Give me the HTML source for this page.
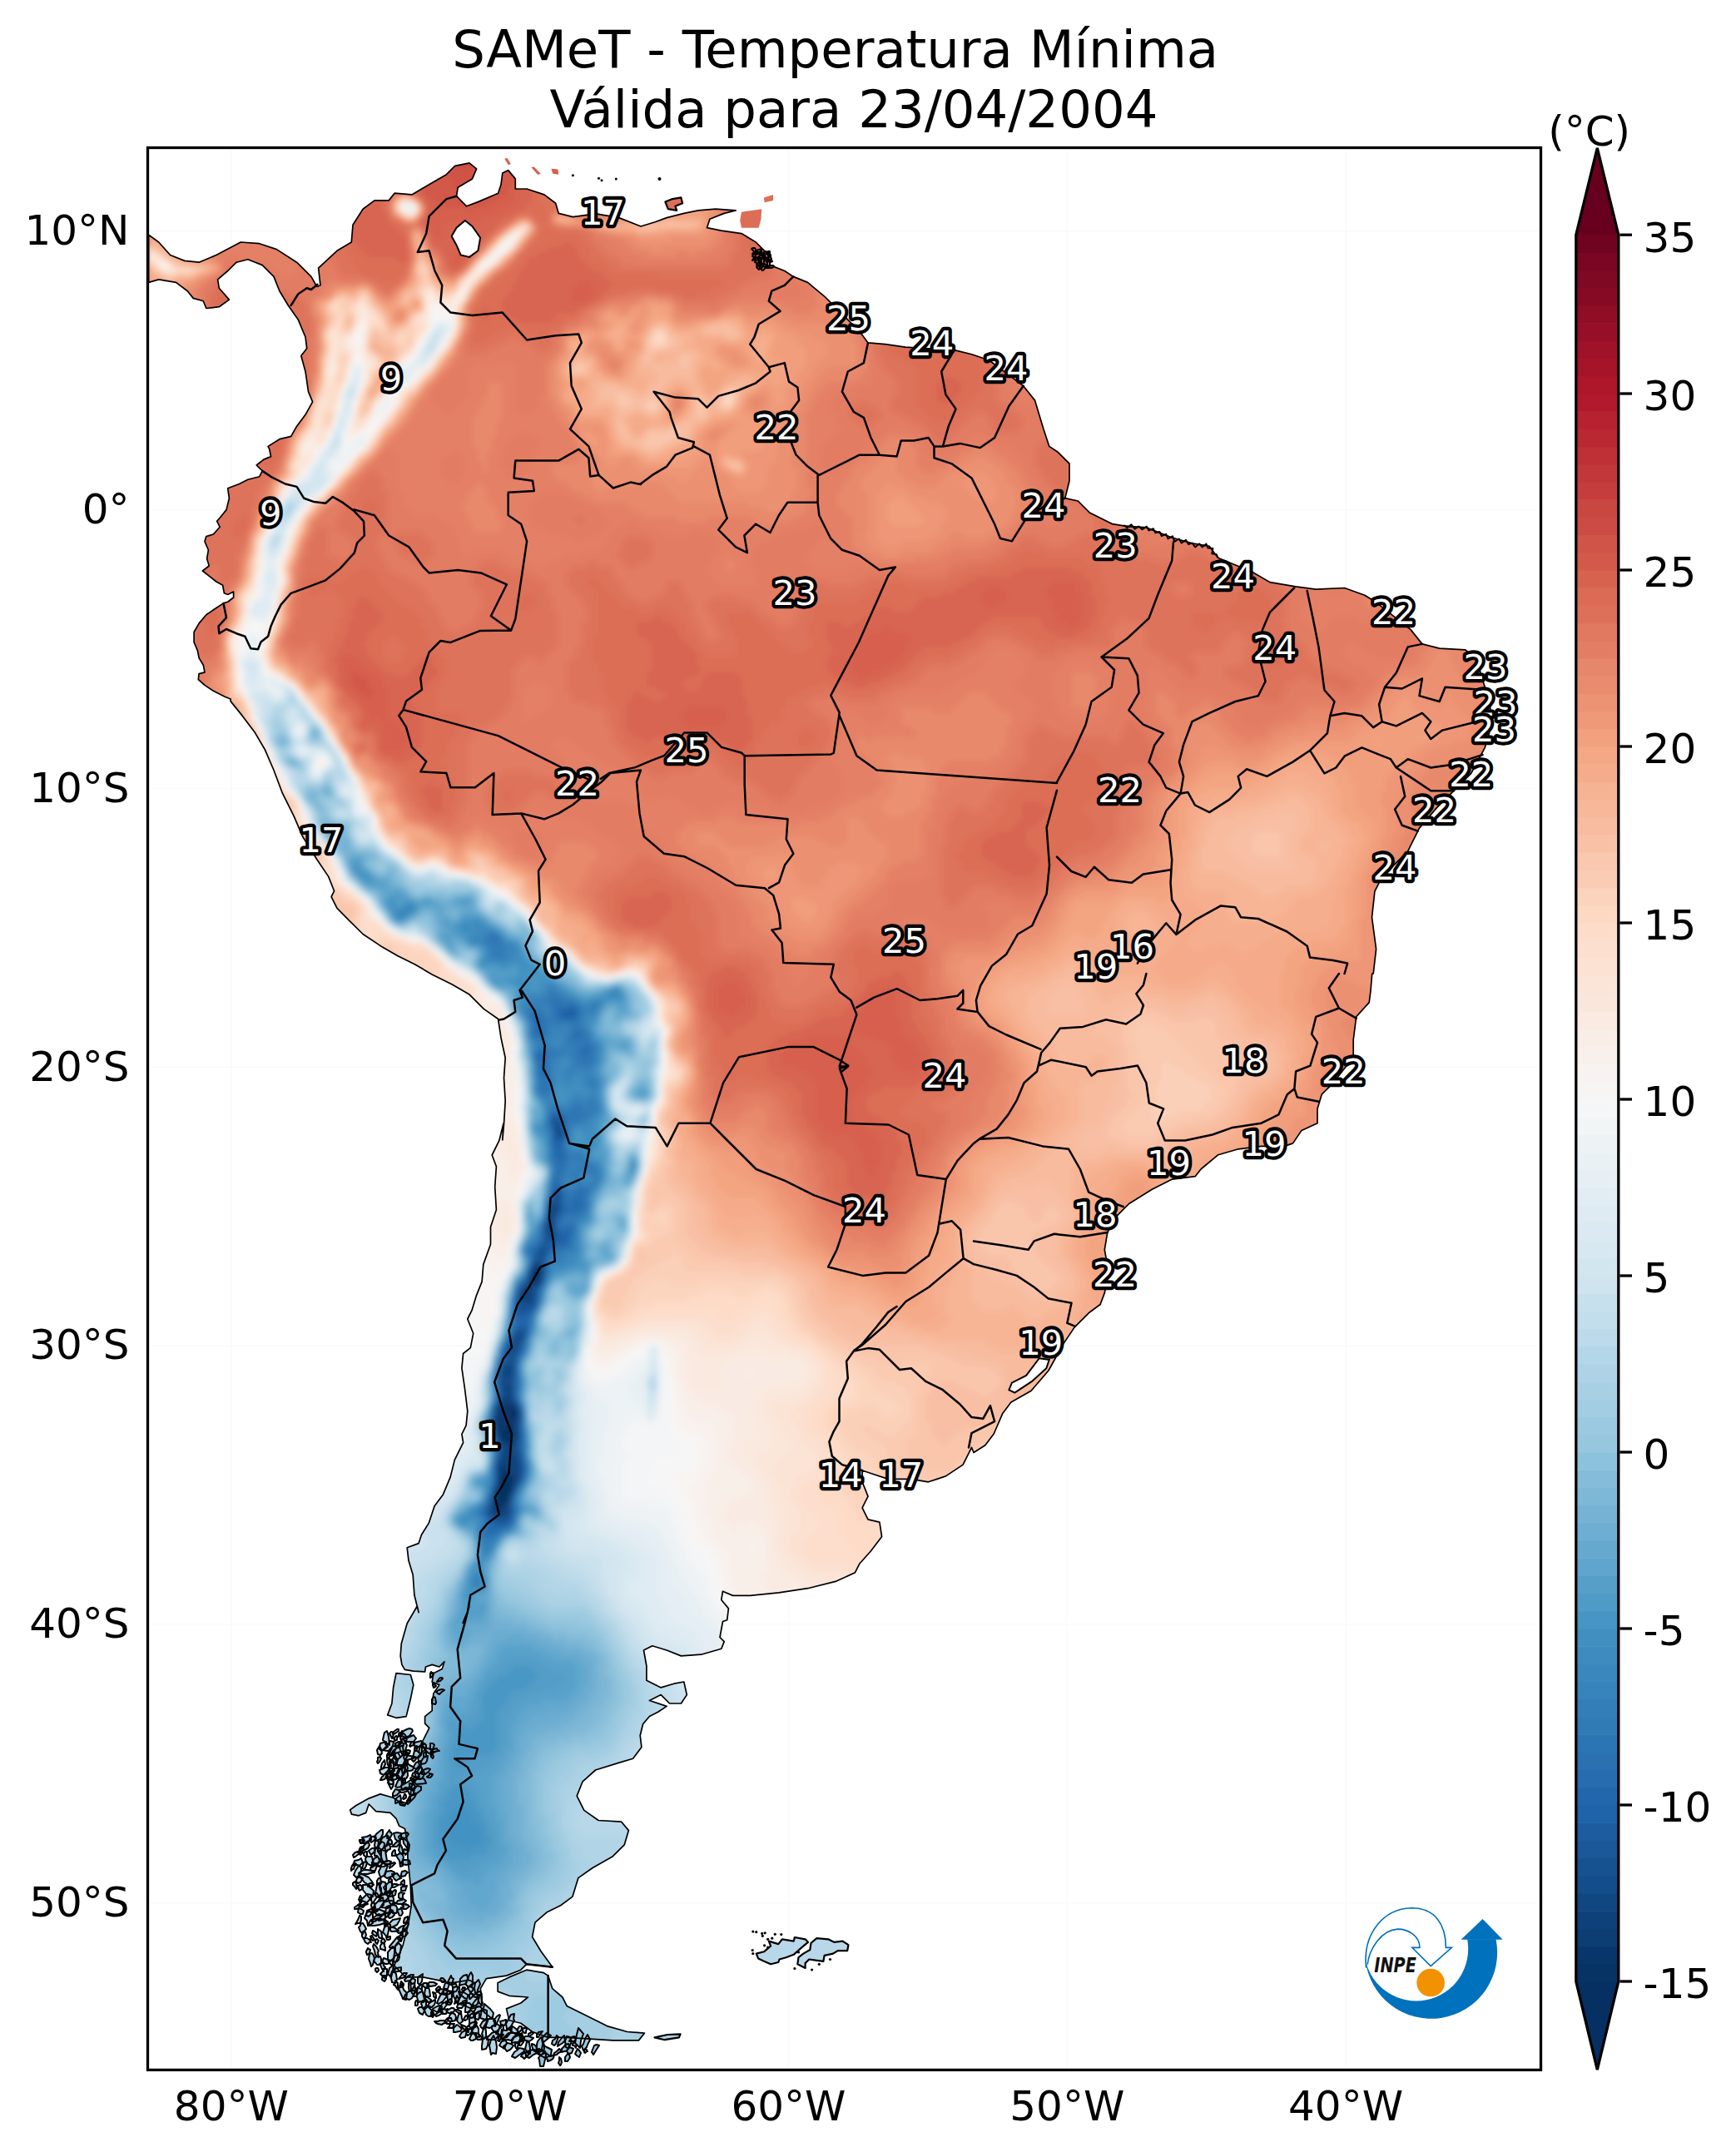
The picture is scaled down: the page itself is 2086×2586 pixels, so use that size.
<!DOCTYPE html><html><head><meta charset="utf-8"><title>SAMeT - Temperatura Mínima</title>
<style>html,body{margin:0;padding:0;background:#fff}svg{display:block}text{font-family:"DejaVu Sans","Liberation Sans",sans-serif}</style></head><body>
<svg width="2086" height="2586" viewBox="0 0 2086 2586">
<rect width="2086" height="2586" fill="#fff"/>
<defs>
<clipPath id="ax"><rect x="177.5" y="177.5" width="1674.0" height="2309.9"/></clipPath>
<clipPath id="land"><path d="M178.6 282.3 L190.7 291.0 L204.6 306.5 L221.8 313.4 L239.1 315.2 L259.9 306.5 L289.2 291.0 L311.7 292.7 L332.4 299.6 L356.6 315.2 L373.9 332.4 L380.8 344.5 L385.0 342.8 L382.6 322.1 L405.0 301.3 L422.3 291.0 L424.0 270.2 L436.1 251.2 L450.0 240.9 L467.2 240.9 L474.1 232.2 L494.9 233.9 L515.6 221.8 L536.4 209.7 L546.7 199.4 L564.0 195.9 L572.6 202.8 L567.5 214.9 L550.2 225.3 L548.5 235.7 L560.6 247.8 L574.4 242.6 L598.6 232.2 L602.0 221.8 L603.8 208.0 L610.7 204.6 L619.3 214.9 L619.3 227.0 L633.1 227.0 L653.9 233.9 L667.7 244.3 L671.2 256.4 L688.4 260.6 L716.1 256.8 L743.7 261.6 L770.0 272.0 L787.3 266.8 L801.1 261.6 L821.8 256.4 L839.1 252.9 L859.9 251.2 L884.1 252.9 L870.2 256.4 L852.9 263.3 L849.5 273.7 L866.8 277.1 L891.0 280.6 L908.2 291.0 L922.1 304.8 L925.5 318.6 L942.8 325.5 L953.2 332.4 L970.5 339.4 L991.2 356.6 L1011.9 377.4 L1032.7 398.1 L1043.0 411.9 L1063.8 413.7 L1088.0 417.1 L1115.6 418.8 L1146.7 420.6 L1167.5 425.8 L1188.2 432.7 L1215.9 453.4 L1229.7 463.8 L1243.5 481.1 L1253.9 515.6 L1260.8 536.4 L1271.2 543.3 L1285.0 557.1 L1285.0 577.8 L1279.8 598.6 L1295.3 602.0 L1309.2 615.9 L1336.8 629.7 L1357.6 633.1 L1352.9 632.2 L1377.1 633.9 L1408.2 646.0 L1432.4 652.9 L1453.2 656.4 L1463.5 670.2 L1505.0 687.5 L1525.8 699.6 L1556.9 704.8 L1581.1 708.2 L1615.6 706.5 L1639.8 715.2 L1653.6 723.8 L1695.1 756.6 L1708.9 773.9 L1729.7 779.1 L1760.8 780.8 L1775.3 792.9 L1779.8 811.9 L1787.7 836.1 L1790.9 852.0 L1789.5 881.1 L1784.3 898.3 L1767.7 929.4 L1747.0 950.2 L1726.2 970.9 L1705.5 995.1 L1691.7 1022.8 L1660.6 1053.9 L1651.9 1071.2 L1648.5 1102.3 L1653.6 1140.3 L1650.2 1170.0 L1648.7 1170.0 L1647.0 1190.7 L1645.2 1204.6 L1629.7 1221.8 L1626.2 1249.5 L1626.2 1270.2 L1602.0 1301.3 L1588.2 1315.2 L1583.0 1332.4 L1583.0 1349.7 L1564.0 1358.4 L1553.6 1373.9 L1543.3 1377.4 L1515.6 1377.4 L1488.0 1380.8 L1463.8 1387.7 L1443.0 1405.0 L1436.1 1413.7 L1408.5 1417.1 L1384.3 1429.2 L1356.6 1446.5 L1342.8 1460.3 L1330.7 1481.1 L1327.3 1501.8 L1332.4 1529.4 L1327.3 1553.6 L1322.1 1567.5 L1308.2 1577.8 L1291.0 1595.1 L1277.1 1615.9 L1259.9 1647.0 L1239.1 1671.2 L1214.9 1685.0 L1204.6 1698.8 L1194.2 1723.0 L1183.8 1736.8 L1170.0 1745.5 L1167.5 1739.4 L1157.1 1760.1 L1136.4 1773.9 L1115.6 1780.8 L1094.9 1777.4 L1067.2 1777.4 L1046.5 1770.5 L1036.1 1767.0 L1036.1 1780.8 L1043.0 1798.1 L1036.1 1811.9 L1043.0 1825.8 L1056.9 1829.2 L1059.6 1846.5 L1046.5 1863.8 L1032.7 1879.3 L1027.5 1889.7 L1005.0 1900.1 L970.5 1908.7 L935.9 1913.9 L901.3 1917.4 L880.6 1917.4 L868.5 1912.2 L866.8 1922.5 L875.4 1932.9 L873.7 1946.7 L868.5 1948.5 L865.0 1967.5 L870.2 1972.6 L866.8 1981.3 L842.6 1988.2 L818.4 1989.9 L801.1 1983.0 L783.8 1977.8 L773.5 1983.0 L776.9 2002.0 L776.9 2019.3 L794.2 2027.9 L811.5 2022.8 L821.8 2021.0 L825.3 2036.6 L818.4 2047.0 L804.6 2047.0 L794.2 2036.6 L780.4 2043.5 L801.1 2050.4 L790.7 2057.3 L780.4 2062.5 L772.6 2071.7 L769.2 2085.5 L770.9 2099.4 L760.6 2113.2 L743.3 2118.4 L715.6 2127.0 L700.1 2140.8 L693.2 2158.1 L701.8 2175.4 L719.1 2187.5 L746.7 2189.2 L755.4 2199.6 L750.2 2216.9 L736.4 2230.7 L712.2 2244.5 L694.9 2256.6 L688.0 2279.1 L674.1 2289.4 L656.9 2298.1 L643.0 2310.2 L639.6 2327.5 L650.0 2344.7 L663.8 2363.8 L650.0 2362.0 L632.7 2360.3 L625.8 2367.2 L608.5 2374.1 L584.3 2377.6 L577.4 2389.7 L579.1 2410.4 L567.0 2413.9 L549.7 2407.0 L556.6 2393.1 L570.5 2382.8 L563.5 2379.3 L542.8 2382.8 L525.5 2379.3 L508.2 2375.9 L487.5 2375.9 L473.7 2362.0 L484.1 2337.8 L491.0 2310.2 L494.2 2290.0 L493.3 2266.5 L491.6 2249.2 L489.9 2231.9 L489.9 2214.7 L486.4 2197.4 L479.5 2193.9 L476.0 2185.3 L469.1 2178.4 L451.8 2176.6 L443.2 2168.0 L439.7 2178.4 L431.1 2181.8 L422.5 2180.1 L420.7 2174.9 L427.6 2169.7 L443.2 2161.1 L457.0 2155.9 L472.6 2160.2 L486.4 2169.7 L493.3 2155.9 L495.0 2145.5 L500.2 2138.6 L498.5 2128.2 L503.7 2121.3 L502.0 2111.0 L510.6 2102.3 L505.4 2097.1 L510.6 2086.8 L515.8 2076.4 L510.6 2071.2 L510.6 2062.6 L519.2 2055.7 L519.2 2047.0 L521.0 2034.9 L527.9 2024.6 L519.2 2021.1 L521.0 2010.7 L531.3 2005.6 L533.9 1996.9 L527.9 2003.0 L519.2 2000.4 L511.5 2003.0 L510.6 2009.0 L496.8 2008.1 L486.4 2006.4 L482.9 2000.4 L481.2 1990.0 L482.3 1974.9 L489.2 1950.7 L501.3 1930.0 L503.1 1937.6 L497.9 1916.8 L496.2 1892.6 L491.0 1875.3 L489.2 1859.8 L503.1 1854.6 L506.5 1844.2 L515.2 1830.4 L522.1 1809.7 L532.4 1795.9 L541.1 1775.1 L546.3 1754.4 L556.6 1733.6 L554.9 1723.3 L560.1 1712.9 L561.8 1695.6 L558.4 1668.0 L554.9 1643.8 L556.6 1626.5 L565.3 1619.6 L568.7 1602.3 L561.8 1585.0 L567.0 1574.7 L572.2 1557.4 L579.1 1540.1 L580.8 1519.4 L589.5 1495.2 L589.5 1474.4 L596.4 1453.7 L594.7 1426.0 L596.4 1401.8 L591.2 1388.0 L599.8 1370.7 L605.0 1350.0 L603.8 1370.0 L605.5 1350.6 L607.2 1323.0 L605.5 1295.3 L607.2 1271.2 L602.0 1247.0 L598.6 1224.5 L581.3 1212.4 L564.0 1195.1 L543.3 1183.0 L519.1 1170.9 L498.3 1158.8 L477.6 1148.5 L456.9 1136.4 L436.1 1122.5 L418.8 1105.3 L405.0 1091.4 L398.1 1077.6 L401.6 1070.7 L394.7 1053.4 L380.8 1032.7 L363.5 1005.0 L353.2 980.8 L339.4 953.2 L329.0 925.5 L318.6 901.3 L306.5 880.6 L291.0 859.9 L277.1 842.6 L277.1 840.0 L270.2 837.2 L256.4 830.3 L246.0 823.4 L238.3 816.5 L239.1 809.6 L246.0 807.9 L244.3 799.2 L239.1 790.6 L237.4 781.9 L233.1 771.6 L233.1 759.5 L239.1 749.1 L247.8 738.7 L258.1 731.8 L268.5 724.9 L273.7 723.2 L280.6 718.0 L280.6 711.1 L273.7 714.5 L269.4 712.8 L267.6 703.3 L259.9 699.0 L251.2 692.1 L243.4 686.0 L251.2 680.0 L248.6 671.3 L250.4 661.0 L246.0 650.6 L247.8 644.6 L256.4 642.0 L264.2 633.3 L260.7 626.4 L265.0 621.2 L272.0 612.6 L275.4 598.8 L273.7 586.7 L287.5 581.5 L297.9 576.3 L311.7 572.8 L315.2 565.9 L308.2 559.0 L316.9 552.1 L325.5 548.6 L323.8 540.0 L322.1 536.4 L335.9 527.7 L349.7 524.3 L356.6 512.2 L367.0 498.3 L375.6 482.8 L370.5 470.7 L367.0 446.5 L361.8 427.5 L368.7 418.8 L367.0 405.0 L358.4 384.3 L346.3 367.0 L335.9 349.7 L329.0 332.4 L315.2 318.6 L297.9 311.7 L284.1 315.2 L273.7 325.5 L261.6 335.9 L263.3 346.3 L275.4 360.1 L263.3 368.7 L247.8 370.5 L244.3 361.8 L232.2 358.4 L225.3 349.7 L211.5 339.4 L190.7 335.9 L178.6 339.4 Z M658.6 2374.1 L663.8 2389.7 L675.9 2400.0 L681.1 2410.4 L701.8 2420.8 L729.4 2434.6 L753.6 2441.5 L774.4 2443.2 L767.5 2451.9 L736.4 2451.9 L708.7 2450.2 L681.1 2448.4 L658.6 2448.4 L639.6 2441.5 L625.8 2431.2 L611.9 2427.7 L608.5 2413.9 L625.8 2407.0 L634.4 2400.0 L611.9 2398.3 L598.1 2393.1 L598.1 2382.8 L611.9 2375.9 L632.7 2367.2 L653.4 2370.7 Z M476.0 2010.7 L493.3 2012.5 L496.8 2024.6 L493.3 2041.8 L488.1 2062.6 L476.0 2064.3 L465.7 2060.9 L470.9 2047.0 L472.6 2028.0 Z"/><path d="M491 2103l2 1 -1 3 -2 2 -3 -2 1 -1 0 -2 2 -1zM457 2112l1 1 -1 2 -1 2 -2 2 -1 -2 1 -2 0 -3 3 -1zM483 2080l1 3 -1 1 -1 2 -1 1 -2 -1 0 -2 1 -2 2 0zM500 2098l2 1 -1 3 -1 2 -2 -1 0 -1 0 -1 1 -2zM488 2167l-2 3 -5 -1 -1 -2 2 -2 3 1zM482 2122l0 2 -1 1 -1 2 -1 -1 -1 -2 1 -2 2 0zM490 2116l0 2 0 2 -1 1 0 1 -1 -2 -2 -1 1 0 0 -3zM469 2104l-1 5 0 3 -3 0 0 -3 1 -2zM511 2105l1 2 0 3 -3 2 0 -3 0 -2zM492 2149l-4 4 -4 1 -2 0 -2 -1 -1 -2 5 -1 3 -2zM511 2140l1 3 -12 1 -3 -4 4 -2 8 -1zM505 2116l1 5 -3 2 -3 3 -3 -2 1 -3 2 -3zM465 2131l5 1 3 9 -1 3 -4 0 -3 -7zM498 2111l3 1 -2 3 -2 2 -2 -2 0 -3zM508 2095l2 0 2 2 0 3 -2 1 -1 -2 -3 -3zM482 2137l1 6 -1 4 -4 1 -3 -1 3 -7zM472 2107l3 3 3 5 -1 3 0 2 -3 2 -1 -3 -3 -1 3 -7zM518 2104l1 3 1 1 1 3 -1 2 -2 -2 0 -1 -1 -3zM468 2124l-2 4 -5 5 -4 -2 -1 -4 7 -3zM471 2114l2 3 0 6 1 5 -3 2 -2 4 -1 -9 0 -2 0 -7zM500 2089l-3 4 -9 0 -4 -3 6 -2 7 -3zM485 2138l1 -1 1 2 0 2 -2 2 -1 -2 -1 0 -1 -3 2 -1zM514 2110l-1 6 -2 3 -6 1 2 -5 2 -3zM498 2145l1 2 -3 3 -2 -1 -2 -2 0 -4 4 1zM473 2093l-1 5 -5 6 -2 0 -5 -1 5 -5 4 -6zM500 2156l-2 4 -4 4 -5 0 4 -5 3 -2zM479 2151l2 2 -4 4 -5 2 0 -4 3 -5zM498 2136l-3 10 -7 4 -5 1 -1 -5 7 -4zM489 2128l1 3 0 3 -1 2 -3 3 -3 1 0 -6 2 -2 2 -3zM507 2125l0 1 0 3 -3 3 -3 -1 1 -3 1 -2 3 -3zM496 2127l-3 1 -4 0 1 -3 -1 -3 0 -4 3 3 4 2 1 1zM471 2081l1 1 1 2 -1 3 -1 2 -1 -2 -1 -2 -1 -2 2 -2zM520 2095l2 2 -2 5 -3 0 0 -3 0 -4zM483 2094l-2 2 -4 2 -2 -1 0 -2 4 -2zM466 2113l2 1 2 1 -1 4 1 3 -1 3 -3 -4 -1 -5 0 -2zM480 2136l-1 0 -3 2 -4 1 0 -1 -3 -2 3 -1 3 -2 4 1zM456 2098l2 4 1 5 -2 2 -3 -1 -1 -5zM490 2106l-1 5 -5 10 -6 0 -4 1 2 -6 8 -7zM506 2147l0 4 -5 4 -4 0 1 -5 3 -4zM488 2148l5 2 4 2 0 5 -5 -1 -2 -4zM487 2156l1 2 0 2 -1 1 -2 1 -1 -1 1 -2 1 -3zM497 2094l0 2 0 1 -3 1 -1 1 -1 -1 1 -2 1 -2 1 -1zM498 2130l1 -2 3 2 2 5 -2 1 -3 -1 -4 -1 1 -3zM485 2083l2 2 2 3 -1 6 -3 2 -2 -3 -2 -4 2 -5zM468 2138l4 2 1 3 -1 4 -2 3 -3 -6 -1 -2zM517 2126l-2 3 -4 3 -4 0 1 -5 6 -2zM465 2132l-1 2 -1 3 -1 1 -3 1 -2 0 2 -4 1 0 2 -3zM520 2132l-1 2 0 0 -2 2 -3 0 -1 -1 3 -2 0 -2 3 1zM476 2099l0 2 -3 6 -3 3 -4 -1 4 -6 2 -5zM505 2099l2 0 0 5 -1 5 -2 -3 -1 0 1 -5zM495 2078l1 2 -4 6 -5 2 -6 -3 2 -4 6 -3 3 -1zM494 2136l2 1 1 2 0 3 -1 1 -1 -3 -2 -3zM463 2096l3 3 -4 3 -3 2 -3 -2 0 -3 1 -4 7 -2zM478 2124l3 2 -3 6 -4 0 -4 1 0 -5 5 -3zM478 2106l2 3 1 3 -5 3 -2 -2 1 -6zM509 2128l1 3 -1 3 -3 4 -2 0 -2 -2 1 -3 3 -4zM462 2082l3 -2 2 7 1 9 0 1 -3 -2 -5 -4 1 -5zM484 2089l5 8 -2 7 -4 4 -2 -5 -2 -7zM478 2087l-1 2 0 2 -1 0 -2 1 0 -2 -1 -1 1 -1 2 -2zM481 2157l1 6 -4 3 -3 1 0 -4 1 -2zM493 2160l0 3 0 2 -1 1 -2 2 -1 -1 1 -4 0 0zM484 2100l1 4 -7 2 -8 2 3 -5 3 -2 9 -4zM508 2094l1 2 -6 3 -3 2 -2 -3 0 -4 8 -2zM504 2106l2 3 -3 3 -3 0 -4 0 1 -4 1 -4 3 0zM470 2125l3 0 -1 8 -3 1 -3 4 0 -5 1 -3 2 -7zM498 2111l-1 2 -8 2 -3 0 0 -1 -1 -2 1 -3 7 1zM511 2101l4 0 4 2 2 2 -2 4 -5 -3 -2 -2zM528 2104l-2 0 -3 1 -2 1 -2 -2 1 -2 1 0 4 -1 0 1zM486 2121l1 3 1 4 -2 3 -2 3 -1 -7 0 -4zM487 2121l-1 7 -1 3 -5 8 -1 -1 -2 -2 -1 -3 3 -7 4 0zM479 2078l0 2 -4 3 -3 1 1 -3 4 -3zM462 2115l1 5 -2 4 -3 2 0 -3 1 -4zM440 2231l3 0 4 0 1 5 2 5 -2 1 -4 -1 -4 -3 -1 -4zM459 2335l3 1 0 3 1 1 0 4 -2 -1 -4 -1 0 -2 0 -2zM604 2433l1 4 -3 10 -2 -2 -2 -2 3 -9zM586 2426l-2 5 -4 7 -2 -2 -1 -2 3 -5zM566 2396l2 0 0 3 -2 2 -1 1 -1 0 0 -2 0 -3 2 -3zM694 2462l2 2 2 3 -2 5 -3 -2 -2 -2 2 -4zM463 2242l3 0 -3 8 -1 3 -4 3 -2 -3 -1 -4 3 -6 3 0zM530 2377l2 0 3 3 -2 2 -2 0 -2 -3zM462 2215l0 2 -1 3 -3 4 -4 1 0 -2 1 -5 4 -5zM481 2294l1 -2 2 7 -2 3 -2 0 -3 -7zM475 2271l1 1 -1 5 -3 2 -1 -4 2 -3zM678 2446l1 6 -3 3 -6 4 1 -5 4 -5zM502 2388l5 3 2 7 1 5 -1 3 -3 -1 -3 1 -2 -6 0 -6zM481 2216l2 4 1 4 0 5 -3 -2 -2 -4 1 -4zM440 2225l1 0 0 2 0 3 -1 2 -2 -2 -1 -1 0 -2 2 -2zM455 2264l3 5 0 6 -3 5 -4 -2 0 -3 2 -10zM657 2443l5 3 -4 4 -6 5 -1 -5 3 -4zM482 2329l-2 3 -3 5 -5 4 -4 -1 0 -1 5 -6 4 -5zM531 2416l1 3 -5 3 -3 1 -1 -2 4 -3zM478 2334l4 4 -1 8 -2 6 -4 -7 0 -7zM442 2288l-3 1 -3 3 -3 -1 -3 -2 2 -1 2 -2 1 -2 5 2zM571 2436l2 -2 2 4 0 5 1 5 -4 -1 -2 -4 -3 -1 0 -6zM706 2445l3 6 -3 6 -1 3 -4 4 -2 -5 2 -3 2 -6zM473 2289l3 1 2 5 -2 4 -4 0 -3 -2 0 -7zM471 2259l0 2 -2 1 -2 -1 0 -2 2 -2zM560 2422l2 1 0 3 -3 2 -2 -1 2 -4zM573 2431l-2 4 -3 4 -3 -1 -6 1 2 -3 5 -5 6 -2zM474 2365l1 6 1 1 1 7 -2 4 -4 -1 -1 -5 -1 -2 2 -6zM474 2250l-1 4 -8 3 -3 -2 2 -6 6 -1zM464 2311l3 5 0 4 -2 8 -3 -4 -2 -2 2 -6zM623 2443l-6 5 -3 4 -4 -1 -7 2 2 -4 6 -6 5 0zM689 2455l1 -1 2 2 1 2 -1 1 0 2 -2 -3 -2 0 0 -2zM580 2414l0 1 -4 2 -5 4 -3 -1 1 -3 2 -2 1 -4 4 0zM461 2307l1 4 -6 2 -6 1 -7 0 5 -3 -2 -4 9 -2 3 1zM530 2410l1 2 -1 2 -5 4 -3 -2 -1 0 -1 -2 5 -3 3 -1zM600 2421l1 1 -2 5 -4 8 -1 -5 -1 -2 4 -5zM434 2244l0 4 -3 6 -3 2 -3 -3 2 -5 4 -6zM492 2236l1 4 -5 1 -5 -1 -1 -2 3 -3 5 0zM440 2237l1 1 -1 4 -2 4 -3 -1 1 -3 1 -4zM444 2297l4 2 0 7 -3 2 -3 6 -1 -6 -3 -3 3 -7zM603 2444l2 1 -3 4 -2 4 -2 -1 2 -5 2 -2zM500 2404l2 1 0 2 0 1 0 1 -1 1 -2 0 0 -3 0 -1zM436 2257l-1 2 -2 3 -3 1 -2 -2 0 -1 1 -3 4 -2zM481 2227l2 0 2 5 -1 3 0 7 -3 1 -1 -7 -4 -6 3 -2zM433 2265l2 2 0 3 -3 2 -1 -2 -1 -4zM525 2384l-2 2 -6 1 -4 -2 3 -3 5 0zM579 2414l6 2 0 9 -2 2 -6 -2 1 -5zM578 2394l1 3 -7 3 -4 -1 4 -4 4 -2zM495 2384l3 -1 1 7 0 3 -2 4 -2 -2 -1 -4 -1 -10zM433 2278l1 2 1 2 -2 1 -2 0 1 -3zM459 2261l4 1 1 5 0 4 -3 6 -2 -2 -2 -3 -1 -5 1 -2zM468 2290l1 2 -1 4 -2 6 -3 2 0 -4 1 -8 1 -1zM514 2386l2 5 1 8 -5 1 -2 -4 1 -6zM456 2257l1 -1 1 6 -3 1 -2 3 0 -3 0 -3 2 -3zM437 2329l3 0 1 0 3 2 2 3 -2 0 -2 2 -3 -2 -1 -2zM479 2265l-2 1 -3 2 -2 0 -1 -2 2 -2 3 0zM538 2392l5 1 0 7 -1 8 -4 -4 -1 -9zM453 2275l2 3 -3 3 -4 6 -2 -3 0 -4 3 -4zM685 2448l1 3 1 2 -3 7 -1 2 -3 -2 -1 -7 2 -6zM653 2468l2 -3 1 5 -2 9 -1 4 -4 0 -1 -8 -1 -2 3 -4zM639 2456l3 1 2 2 1 3 1 2 -2 2 -3 -2 -1 -3 -1 -3zM577 2397l2 2 0 5 1 3 -1 3 -3 -3 -1 -2 0 -8zM459 2359l1 -2 1 5 2 2 -2 2 0 3 -2 -3 -2 -5 0 -1zM563 2442l-3 -1 -4 -4 -2 -4 5 2 3 3zM484 2208l6 5 2 4 -1 7 -3 -5 -3 -4zM490 2303l0 4 -2 3 -3 1 0 -2 1 -4zM561 2373l1 4 -1 3 -1 4 -5 1 -3 1 1 -6 0 -2 4 -4zM717 2457l3 1 -4 6 -3 5 -2 -3 1 -3 2 -5zM470 2273l-3 7 -4 4 -4 0 -5 1 5 -8 5 -1zM458 2223l5 1 1 6 1 6 -5 2 -2 -7 -3 -5zM452 2220l3 4 3 1 0 6 -1 5 -4 -6 -3 0 1 -9zM484 2327l0 1 -1 2 -1 3 -2 -1 -1 -1 -2 -3 4 -2 3 -2zM486 2267l3 -1 -1 3 -1 3 -1 0 -4 0 0 -4 2 -1zM481 2305l-1 3 -3 5 -6 3 -2 -1 0 -2 -2 -1 5 -5 5 -1zM490 2250l-2 2 -1 2 -4 1 -1 -1 0 -2 1 -3 4 -1zM467 2215l2 4 0 3 -3 1 -2 3 -1 -4 -1 -2 4 -3zM477 2202l5 1 0 6 -2 5 -5 -4 -2 -7zM454 2231l2 5 -3 4 -6 4 0 -6 3 -5zM645 2463l3 -1 3 2 4 3 1 2 0 4 -3 -1 -7 -4 -3 -4zM541 2402l2 2 0 2 -2 3 -2 0 -2 0 -1 -1 0 -3 3 -1zM464 2206l4 2 -4 10 -6 5 -3 -3 1 -6 4 -6zM523 2403l0 3 -1 3 -3 3 -1 0 -4 -2 2 -3 3 -2zM683 2456l1 2 -2 5 -2 2 -2 0 -3 1 0 -4 3 -3 1 -2zM571 2420l0 2 -4 3 -3 -1 -1 -2 -1 -2 1 -3 3 -1 4 2zM564 2407l3 3 -3 8 -5 0 0 -3 1 -8zM666 2469l-1 4 -2 2 -2 1 -3 1 0 -2 -2 -2 3 -2 3 0zM435 2236l1 2 -4 4 -3 -1 -6 1 2 -3 1 -3 5 -1 3 -2zM474 2238l1 1 -4 4 -3 2 1 -5 2 -1zM434 2294l3 2 -1 4 -3 0 -3 -2 1 -5zM546 2384l2 0 2 6 -2 3 -4 1 0 -6 -1 -3zM469 2210l1 1 1 2 0 3 -3 0 -1 -1 -1 -2 1 -1zM468 2327l1 0 0 3 -2 1 -2 0 -1 -3 2 0zM584 2447l3 4 -1 7 -2 4 -5 1 0 -5 1 -7zM669 2446l2 2 -2 5 -1 3 -2 2 -3 -2 1 -4 3 -2zM454 2318l4 3 1 5 0 3 -2 0 -2 -1 -1 -5zM538 2414l-1 3 -1 3 -2 0 -3 0 -1 -2 1 -3 3 -1 2 1zM583 2436l1 5 0 4 1 3 -2 1 -3 2 0 -5 -1 -2 2 -6zM454 2212l1 2 -1 5 -3 3 -1 -5 1 -5zM512 2413l2 -2 5 5 1 5 -3 2 -2 0 -3 -2 -2 -6zM476 2287l-6 2 -4 4 -8 -1 3 -3 0 -3 6 -2 4 0zM483 2384l2 7 4 4 -1 8 -4 -1 -1 -3 -4 -9zM484 2383l1 1 0 2 -2 2 -2 0 -1 -1 1 -3 1 -3zM536 2415l3 0 3 -2 3 0 2 3 -3 2 -2 2 -5 -2zM464 2374l0 4 -2 3 -3 -2 0 -1 1 -4zM576 2400l-1 3 -1 5 -3 2 -3 2 1 -2 -1 -2 3 -4 2 -2zM463 2366l2 0 0 4 0 4 -3 3 -5 -5 3 -3 1 -3zM475 2380l2 2 1 1 0 4 0 4 -2 -3 -1 -2 -2 -1 2 -3zM621 2455l1 0 1 2 -1 2 0 4 -2 -2 -1 -2 0 -1 0 -3zM546 2415l4 0 2 1 2 1 0 1 -1 2 -2 -1 -4 -3zM496 2377l3 2 -1 7 -2 4 -4 3 -1 -4 0 -6 3 -4zM537 2430l-5 2 -1 1 -5 -1 -2 -1 -2 -2 4 0 3 -1 5 0zM652 2457l5 3 6 3 -1 6 -1 2 -5 -4 -5 -4zM533 2396l4 -1 -1 5 -4 5 -5 3 -2 -1 2 -5 2 -4 4 -6zM449 2336l3 3 3 5 -1 2 1 6 -4 -3 -1 -5 -2 -5zM556 2407l2 2 -3 4 -5 0 -1 -1 1 -3 4 -2zM451 2206l1 3 -3 3 -3 2 -1 -2 -1 -2 2 -3 2 0zM470 2297l-3 5 -7 5 -5 1 2 -5 5 -3zM431 2251l6 2 6 3 4 5 2 4 -3 2 -8 -5 -5 -6zM568 2419l3 1 0 11 -4 8 -3 -4 0 -8 1 -6zM527 2387l2 1 -1 4 -3 2 -1 -3 0 -1 2 -2zM482 2315l3 -1 0 5 -3 3 -3 1 -2 -2 2 -4 2 -1zM559 2440l2 1 -2 7 -5 1 -2 -2 3 -5zM490 2289l2 2 -4 3 -3 0 -1 -2 1 -1 -2 -2 5 -1 0 1zM474 2223l1 1 0 3 1 2 -2 1 -1 0 -2 0 0 -3 1 -2zM438 2212l-1 1 -1 2 -3 0 0 -2 -1 0 0 -2 2 0 3 -1zM449 2221l2 2 -2 3 -3 3 -2 -3 -1 -2 4 -3zM554 2419l1 6 1 4 -4 3 -3 -4 2 -7zM607 2451l2 4 -1 2 -2 5 -3 -2 -3 -2 4 -7zM645 2464l5 1 -9 4 -5 4 -4 -2 0 -2 -1 -3 9 -3 2 0zM630 2448l0 3 -1 3 -3 4 -2 0 0 -1 0 -2 2 -3 1 -2zM491 2310l0 2 -1 3 -2 2 -3 3 -1 -2 2 -4 3 -3zM605 2428l3 -1 0 4 -2 3 -2 0 -2 -1 -1 -4zM486 2371l3 0 -3 5 -3 1 -4 1 4 -5 2 -2zM433 2312l3 -1 2 3 2 4 -3 3 -1 3 -3 -3 -2 -5 2 -2zM566 2385l1 3 2 2 -2 3 -2 1 -1 -2 -2 -3 2 -2zM673 2463l2 2 -4 2 -2 2 -4 1 1 -3 3 -2 3 -3zM488 2284l-2 2 -3 2 -5 0 -2 -1 2 -3 5 -1 2 -1zM596 2444l4 1 -5 6 -5 0 -5 0 0 -2 4 -4 2 -2 5 -2zM433 2288l-1 2 -1 3 -3 1 -2 0 0 -2 3 -2 3 -2zM472 2339l2 3 0 5 -1 6 -3 3 -4 -1 0 -9 5 -6zM469 2279l2 -1 2 3 0 5 -3 3 -2 -3 -1 -3 -1 -5zM635 2466l1 2 -6 6 -2 -2 -2 -1 2 -3 5 -2zM460 2355l1 -2 3 1 3 2 0 3 -1 1 -3 0 -2 -1 -2 -2zM551 2393l4 1 2 0 5 3 0 2 -1 3 -3 -1 -2 -2 -4 -2zM593 2426l2 2 0 5 -4 3 -3 1 -4 -1 0 -2 3 -8 2 0zM460 2236l-1 2 0 2 -3 3 -1 -1 -1 1 0 -3 1 -2 4 -1zM652 2441l-3 4 -2 3 -2 0 0 -3 2 -3zM471 2252l3 0 3 -1 5 6 -3 1 -3 2 -2 -2 -2 -3zM447 2286l3 1 1 5 -1 5 -3 -2 -1 -6zM626 2435l1 1 0 3 -3 3 -2 -1 0 -3 2 -3zM438 2320l1 2 1 3 -1 3 -2 2 -2 -3 0 -5zM443 2214l1 3 -2 4 -4 2 -5 3 1 -4 3 -4 3 -3zM593 2446l3 7 1 7 -1 8 -4 -1 -2 2 -2 -11 2 -7zM491 2204l-2 3 -4 3 -5 0 -1 -3 5 -4 5 -1zM684 2469l1 3 -1 2 -2 3 -3 0 0 -5 3 -4zM555 2438l-2 3 -1 0 -5 1 -2 0 0 -3 0 -2 4 -4 3 2zM650 2448l1 0 3 10 0 4 -2 6 -3 2 -4 -8 0 -5 1 -4zM672 2472l2 2 1 4 -1 3 -1 1 -2 -3 1 -3zM546 2432l-1 2 -1 3 -3 0 -1 0 -2 0 2 -2 1 -3 2 0zM486 2275l-2 2 0 4 -3 1 -2 -2 0 -2 0 -2 2 -2zM434 2303l0 2 0 2 -1 4 -3 0 -3 1 2 -3 2 -4 1 -3zM575 2379l2 5 -3 7 -1 6 -2 -2 -1 -6 1 -6zM450 2250l-5 1 -3 1 -7 0 -3 -2 5 -3 5 0 4 1zM448 2292l0 3 -2 5 -3 3 -2 -1 -2 0 1 -2 1 -4 5 -2zM631 2437l1 -1 1 2 -1 3 0 2 -2 0 -2 -2 0 -3 1 -1zM448 2320l2 1 3 2 -1 4 -3 -2 -2 -2zM508 2384l-1 4 0 5 -4 2 -3 4 -3 0 1 -5 4 -6 1 -1zM425 2262l2 -1 1 3 1 5 -1 1 -2 -3 -2 -2 0 -2zM485 2259l1 1 0 3 0 2 -2 0 -1 -1 -2 1 1 -3 2 -2zM488 2223l3 0 -1 3 -3 3 -1 -2 -2 -1 2 -4zM479 2212l2 2 -4 5 -3 0 -3 0 2 -2 4 -4zM453 2351l4 0 1 3 0 5 -3 2 -2 0 -4 -5 2 -4zM558 2388l1 1 -1 2 -1 2 0 -1 -1 0 -1 -1 1 -3 1 1zM572 2443l3 1 4 4 -1 3 -4 0 -4 -7zM482 2366l0 2 -4 1 -5 1 -1 -2 0 -1 5 -2 5 -1zM453 2330l2 2 -1 2 -1 2 -2 -2 0 -3zM471 2260l0 7 -3 5 -4 2 -3 -6 5 -5zM427 2239l1 1 -2 3 -1 3 -1 0 -2 2 0 -3 1 -3 2 -1zM626 2444l1 -1 1 3 1 2 0 3 -2 2 -2 -4 -1 -3 -1 -2zM626 2446l1 1 -4 7 -4 0 -4 1 0 -2 3 -5 6 -3zM509 2383l1 0 3 0 2 2 0 2 0 2 -2 0 -3 -1 -2 -2zM695 2437l6 7 -3 8 -1 9 -6 -6 2 -10zM614 2437l2 -2 4 3 3 4 -4 2 -6 -4zM460 2280l1 6 -4 6 -4 5 -5 1 2 -9 6 -6zM617 2458l-2 3 -2 2 -4 2 -2 -3 -2 -3 5 -4 4 1zM542 2425l1 3 -3 4 -3 0 -1 -1 -2 -2 4 -4zM446 2277l-1 5 -5 5 -6 3 -2 -5 5 -5 4 -4zM572 2443l0 4 0 3 -4 2 -2 0 -2 -2 3 -6zM472 2296l2 5 -3 3 -3 1 -2 -2 4 -8zM446 2263l2 1 -1 3 -2 1 -2 -1 -1 0 1 -3 2 -1zM705 2464l1 1 -1 0 -2 2 -1 -1 0 -2 1 -1 2 0zM465 2309l1 0 -1 5 -3 2 0 -4 1 -5zM569 2437l-2 4 -2 3 -3 2 -2 -2 1 -4 4 -2zM469 2202l1 0 1 2 -2 4 -4 1 1 -3 -2 -1 1 -2 3 -4zM508 2404l4 1 0 2 0 3 -2 3 -3 -1 0 -2 -1 -2 1 -2zM430 2225l1 3 -4 3 -2 1 -1 -3 3 -3zM447 2347l2 3 1 4 -1 3 -1 4 -2 2 -1 -4 -2 -5 1 -6zM575 2417l1 3 0 3 -1 4 -1 0 -4 -2 -1 -4 3 -2zM687 2461l2 1 -2 5 -3 1 -2 -1 -1 -3 3 -4zM452 2239l1 2 -2 7 -3 0 -2 0 -1 -3 3 -5zM618 2420l-1 6 1 2 -4 7 -5 4 0 -1 -1 -6 2 -4 4 -7zM581 2413l1 -5 7 6 4 5 -1 5 -2 1 -7 -6 -3 -3zM471 2356l2 0 -1 3 1 2 -2 0 -1 0 -2 -2 1 -3zM445 2327l2 -1 1 2 1 1 1 2 -2 1 -1 -1 -2 -1 1 -1zM443 2342l2 1 -1 4 -1 1 -2 1 -1 -3 0 -1 2 -4zM469 2272l2 1 -2 3 -3 3 -1 -2 -1 0 1 -2 1 -2 2 -1zM457 2301l4 -1 -5 5 -4 3 -5 2 1 -5 4 -3 3 -2zM640 2442l1 1 -2 2 -3 2 -1 -1 0 -2 2 -1 1 -1zM497 2373l-2 4 -2 3 -6 1 -1 -2 4 -4 4 -2zM537 2383l3 1 -2 6 -3 0 -2 -1 2 -6zM641 2449l-2 2 -3 2 -4 -1 -2 -1 -1 -1 2 -3 5 0 2 1zM520 2417l1 2 1 2 -1 1 -1 2 -1 -1 -2 0 1 -2 0 -3zM602 2436l-2 2 -4 4 -2 0 -3 -4 0 -3 2 -1 4 -2 3 2zM513 2399l2 2 3 2 -1 2 -1 1 -2 0 -1 -2 -3 -3zM629 2462l1 3 -7 5 -4 3 -4 -2 3 -5 3 -2 3 -3zM633 2453l3 2 1 6 0 7 -2 0 -4 -6 1 -4zM543 2377l2 1 -1 3 -2 4 -3 -1 -1 -1 1 -3 1 -2 2 -4zM505 2374l3 -2 -1 9 -3 4 -2 -2 0 -7zM460 2199l0 5 -3 6 -5 2 -1 -3 -1 -1 2 -4 6 -5zM446 2207l0 4 -5 2 -3 2 -4 0 3 -4 -2 -3 6 -1 4 -2zM435 2219l2 0 -1 5 -1 3 -2 2 -1 -1 -1 -3 1 -3 1 -2zM470 2237l-2 3 -5 0 -3 -1 4 -2 3 -1zM520 2394l3 1 1 3 0 2 0 1 -1 0 -2 -2 0 -2zM462 2331l1 2 -2 2 -3 -1 0 -2 2 -3zM561 2404l0 1 -3 2 -3 0 1 -2 3 -1zM504 2412l3 0 3 4 -2 5 -4 -2 -2 -5zM539 2405l-2 4 -4 5 -6 1 2 -4 3 -4zM462 2297l-1 4 -7 1 -4 -4 3 -4 4 1zM550 2400l1 2 -1 3 -4 3 1 -4 2 -6zM546 2420l1 1 1 3 -1 4 -4 1 -2 0 -3 -1 2 -5 2 -5zM453 2365l1 0 1 2 0 1 -2 2 -1 -1 -1 -1 0 -2 1 -1zM488 2320l2 3 -3 4 -3 0 -3 -2 4 -4zM691 2448l1 2 -2 3 -3 0 -3 0 1 -2 2 -3 3 -1zM476 2318l3 2 -6 1 -3 0 -1 -2 0 -3 3 0 3 1zM501 2392l-4 5 -2 4 -3 2 -3 -1 -4 -1 2 -4 4 -4 5 -1zM542 2395l-2 1 -5 1 -6 -1 -4 -4 4 -2 5 1 5 2zM548 2387l4 1 1 10 -3 10 -5 -9 -1 -10zM480 2348l0 4 -1 3 -2 2 -5 1 1 -3 1 -4 1 -1zM436 2265l5 0 8 7 -1 7 -4 2 -8 -10zM566 2370l2 4 0 5 -1 9 -3 -1 -2 0 -3 -3 3 -5 2 -6zM615 2437l-1 5 -5 6 -7 2 0 -5 1 -6 5 1zM473 2361l-1 7 -2 8 -2 -2 -2 -2 2 -7zM534 2031l-3 2 -3 3 -2 -1 -2 -2 3 -2 4 -1zM520 2023l2 1 2 2 -1 1 -2 1 -1 -3zM531 2016l1 1 -3 3 -4 1 2 -3 2 -2zM521 2039l2 1 1 6 -1 2 -4 -1 0 -5zM519 2011l1 -1 1 2 -1 1 -1 2 -2 1 0 -3 0 -2 1 -2zM915 300l0 1 -1 1 -2 1 -2 0 -1 -1 2 -2 1 0 3 -1zM916 307l0 2 -2 1 -4 0 2 -2 1 -1 2 -1zM914 304l-2 1 -4 1 -4 -1 1 -1 2 -1 5 0zM916 311l2 0 0 4 -1 3 -2 -2 -1 -4zM925 302l0 1 0 2 -1 1 -1 0 -1 -1 1 -2 0 -1zM905 298l2 0 1 2 0 2 2 2 -3 0 -2 -3 -2 -2zM923 311l1 3 1 1 0 4 -1 3 -1 -2 -1 -2 0 -1 0 -3zM912 312l0 3 -3 1 -2 -1 1 -2 3 -1zM909 309l0 1 -2 2 -3 1 1 -2 3 -3zM924 304l-2 1 -2 0 -1 1 -1 -1 0 -1 0 -1 2 -1 2 1zM915 317l1 0 1 1 0 1 -1 1 -1 0 -1 -2 0 0zM923 309l0 3 1 2 -1 0 -2 1 -1 -2 2 -2zM924 306l2 0 0 3 1 2 0 3 -2 -2 -1 0 -1 -2 0 -3zM920 321l-2 3 -2 1 -2 -2 1 -1 2 -2zM915 302l1 2 0 1 -1 2 0 0 -1 -1 0 -2 0 -1zM930 320l-1 1 -2 1 -1 0 -2 -1 -1 -1 3 -1 1 0 2 0zM923 321l0 1 -2 0 -1 0 -1 -1 2 -1 2 0zM913 309l1 2 1 3 -2 2 -1 -2 -1 -3zM906 305l1 1 1 1 -2 3 0 0 -1 -2 -1 0 1 -3zM927 313l1 1 -2 1 -1 0 0 -1 1 -2zM912 320l1 0 0 1 -1 3 -1 -1 -1 -1 -1 -1 1 -2zM917 307l1 -1 3 4 -2 1 -1 0 -2 -2zM918 318l1 -1 2 2 -1 1 -1 1 -2 -2zM914 317l0 1 -3 1 -2 -1 1 -1 2 -1zM924 304l1 2 -1 3 -3 3 -3 -2 1 -4 4 -2z"/></clipPath>
<filter id="b3" x="-50%" y="-50%" width="200%" height="200%"><feGaussianBlur stdDeviation="3"/></filter>
<filter id="b5" x="-50%" y="-50%" width="200%" height="200%"><feGaussianBlur stdDeviation="5"/></filter>
<filter id="b8" x="-50%" y="-50%" width="200%" height="200%"><feGaussianBlur stdDeviation="8"/></filter>
<filter id="b12" x="-50%" y="-50%" width="200%" height="200%"><feGaussianBlur stdDeviation="12"/></filter>
<filter id="b18" x="-50%" y="-50%" width="200%" height="200%"><feGaussianBlur stdDeviation="18"/></filter>
<filter id="b25" x="-50%" y="-50%" width="200%" height="200%"><feGaussianBlur stdDeviation="25"/></filter>
<filter id="b35" x="-50%" y="-50%" width="200%" height="200%"><feGaussianBlur stdDeviation="35"/></filter>
<filter id="b50" x="-50%" y="-50%" width="200%" height="200%"><feGaussianBlur stdDeviation="50"/></filter>
</defs>
<path d="M277.9 177.5V2487.4M612.7 177.5V2487.4M947.5 177.5V2487.4M1282.3 177.5V2487.4M1617.1 177.5V2487.4M177.5 277.9H1851.5M177.5 612.7H1851.5M177.5 947.5H1851.5M177.5 1282.3H1851.5M177.5 1617.1H1851.5M177.5 1951.9H1851.5M177.5 2286.7H1851.5" stroke="#000" stroke-opacity="0.02" stroke-width="1.6" fill="none"/>
<g clip-path="url(#ax)">
<g clip-path="url(#land)">
<rect x="177.5" y="177.5" width="1674.0" height="2309.9" fill="#df765e"/>
<g filter="url(#b3)"><g transform="translate(177.5 177.5) scale(6)" stroke-width="0.12">
<path fill="#053061" stroke="#053061" d="M77 225h1v1h-1zM71 257h1v1h-1zM71 258h2v1h-2zM71 266h2v2h-2zM70 268h2v3h-2z"/>
<path fill="#053061" stroke="#053061" d="M78 225h1v1h-1zM77 226h1v1h-1zM73 253h1v1h-1zM72 256h1v2h-1zM71 265h1v1h-1zM72 268h1v1h-1zM70 271h1v1h-1z"/>
<path fill="#073467" stroke="#073467" d="M77 224h1v1h-1zM71 252h3v1h-3zM72 253h1v1h-1zM72 254h2v1h-2zM70 254h1v2h-1zM72 255h1v1h-1zM70 256h2v1h-2zM70 257h1v1h-1zM72 259h1v1h-1zM70 266h1v2h-1zM72 269h1v1h-1zM71 271h1v1h-1zM70 272h1v1h-1z"/>
<path fill="#0a3b70" stroke="#0a3b70" d="M78 224h1v1h-1zM78 226h1v1h-1zM77 227h1v1h-1zM71 251h2v1h-2zM70 252h1v1h-1zM70 253h2v1h-2zM71 254h1v2h-1zM73 255h1v3h-1zM70 258h1v1h-1zM71 259h1v1h-1zM70 264h2v1h-2zM72 265h1v1h-1zM70 265h1v1h-1zM73 266h1v1h-1zM69 271h1v2h-1z"/>
<path fill="#0d3f76" stroke="#0d3f76" d="M76 227h1v1h-1zM75 229h1v1h-1zM73 258h1v1h-1zM73 263h1v1h-1zM71 263h1v1h-1zM73 267h1v1h-1zM69 270h1v1h-1zM72 270h1v1h-1zM71 272h1v1h-1zM69 273h2v1h-2z"/>
<path fill="#10457e" stroke="#10457e" d="M82 197h1v1h-1zM81 212h1v1h-1zM80 215h1v2h-1zM76 226h1v1h-1zM78 227h1v1h-1zM75 228h2v1h-2zM76 229h1v1h-1zM75 230h2v1h-2zM74 238h1v1h-1zM71 244h2v2h-2zM71 248h2v1h-2zM72 249h1v1h-1zM71 250h2v1h-2zM73 251h1v1h-1zM70 251h1v1h-1zM69 254h1v2h-1zM73 259h1v1h-1zM71 260h2v2h-2zM71 262h3v1h-3zM72 263h1v1h-1zM70 263h1v1h-1zM72 264h2v1h-2zM73 265h1v1h-1zM69 269h1v1h-1zM71 273h1v1h-1z"/>
<path fill="#124984" stroke="#124984" d="M82 196h1v1h-1zM81 211h1v1h-1zM80 212h1v1h-1zM80 213h2v1h-2zM80 214h1v1h-1zM80 217h1v1h-1zM77 223h2v1h-2zM76 225h1v1h-1zM77 228h1v1h-1zM74 229h1v2h-1zM76 231h1v1h-1zM74 237h1v1h-1zM73 238h1v2h-1zM72 240h2v1h-2zM72 243h1v1h-1zM71 246h2v2h-2zM71 249h1v1h-1zM74 253h1v2h-1zM69 256h1v1h-1zM70 259h1v1h-1zM73 260h1v2h-1zM70 262h1v1h-1zM74 263h1v4h-1zM73 268h1v1h-1zM72 271h1v1h-1z"/>
<path fill="#15508d" stroke="#15508d" d="M81 195h1v1h-1zM81 210h1v1h-1zM81 214h1v1h-1zM81 217h1v1h-1zM80 218h1v1h-1zM78 221h1v1h-1zM77 229h1v3h-1zM74 231h2v1h-2zM74 232h1v1h-1zM74 239h1v1h-1zM72 241h2v1h-2zM71 243h1v1h-1zM74 252h1v1h-1zM69 253h1v1h-1zM74 262h1v1h-1zM69 268h1v1h-1zM72 272h1v2h-1zM68 272h1v2h-1zM69 274h3v1h-3z"/>
<path fill="#185493" stroke="#185493" d="M81 194h1v1h-1zM82 195h1v1h-1zM81 196h1v1h-1zM82 198h1v1h-1zM80 211h1v1h-1zM82 209h1v4h-1zM81 215h1v2h-1zM79 216h1v1h-1zM81 218h1v1h-1zM78 220h2v1h-2zM79 221h1v1h-1zM78 222h1v1h-1zM79 224h1v1h-1zM75 227h1v1h-1zM74 228h1v1h-1zM75 232h2v1h-2zM74 233h1v1h-1zM75 237h1v1h-1zM73 237h1v1h-1zM72 239h1v1h-1zM74 240h1v1h-1zM72 242h2v1h-2zM73 243h1v3h-1zM70 245h1v3h-1zM73 250h1v1h-1zM70 250h1v1h-1zM69 252h1v1h-1zM69 257h1v1h-1zM74 255h1v4h-1zM74 261h1v1h-1zM70 261h1v1h-1zM72 274h1v1h-1z"/>
<path fill="#1b5a9c" stroke="#1b5a9c" d="M84 173h1v1h-1zM82 194h1v1h-1zM83 197h1v1h-1zM81 197h1v1h-1zM81 209h1v1h-1zM82 213h1v1h-1zM79 215h1v1h-1zM79 217h1v2h-1zM79 219h2v1h-2zM80 220h1v1h-1zM77 222h1v1h-1zM79 222h1v2h-1zM76 224h1v1h-1zM79 225h1v1h-1zM75 233h1v1h-1zM74 236h2v1h-2zM75 238h1v1h-1zM71 242h1v1h-1zM73 246h1v4h-1zM70 248h1v2h-1zM74 259h1v2h-1zM70 260h1v1h-1zM74 267h1v1h-1zM73 269h1v1h-1zM68 271h1v1h-1zM68 274h1v1h-1zM70 275h2v1h-2z"/>
<path fill="#1e61a5" stroke="#1e61a5" d="M83 173h1v1h-1zM85 173h1v1h-1zM81 198h1v1h-1zM82 208h1v1h-1zM82 217h1v1h-1zM82 218h2v1h-2zM81 219h1v1h-1zM77 221h1v1h-1zM79 226h1v1h-1zM78 228h1v1h-1zM77 232h1v1h-1zM76 233h1v1h-1zM74 234h1v1h-1zM74 241h1v1h-1zM71 241h1v1h-1zM70 244h1v1h-1zM69 258h1v1h-1zM69 264h1v1h-1zM75 264h1v1h-1zM69 267h1v1h-1zM69 275h1v1h-1z"/>
<path fill="#2065ab" stroke="#2065ab" d="M84 172h2v1h-2zM78 182h1v1h-1zM81 193h1v1h-1zM83 196h1v1h-1zM83 198h1v1h-1zM81 199h2v1h-2zM82 200h1v2h-1zM81 208h1v1h-1zM80 210h1v1h-1zM83 212h1v1h-1zM83 217h2v1h-2zM82 219h2v1h-2zM73 233h1v1h-1zM75 234h1v1h-1zM74 235h2v1h-2zM73 236h1v1h-1zM72 238h1v1h-1zM71 240h1v1h-1zM70 243h1v1h-1zM69 251h1v1h-1zM74 251h1v1h-1zM69 263h1v1h-1zM75 263h1v1h-1zM75 265h1v1h-1zM69 265h1v2h-1zM68 270h1v1h-1zM67 273h1v1h-1zM72 275h1v1h-1z"/>
<path fill="#246aae" stroke="#246aae" d="M83 172h1v1h-1zM82 173h1v1h-1zM83 174h3v1h-3zM77 174h1v1h-1zM78 176h1v2h-1zM78 181h1v1h-1zM79 185h1v1h-1zM82 193h1v1h-1zM80 194h1v2h-1zM83 195h1v1h-1zM81 200h1v2h-1zM82 202h1v1h-1zM81 207h1v1h-1zM85 211h2v1h-2zM84 212h2v1h-2zM82 214h1v1h-1zM84 216h1v1h-1zM78 219h1v1h-1zM77 220h1v1h-1zM80 221h1v1h-1zM78 229h1v1h-1zM73 230h1v3h-1zM76 234h1v1h-1zM73 234h1v1h-1zM75 239h1v1h-1zM67 272h1v1h-1zM73 272h1v2h-1zM68 275h1v1h-1zM68 276h3v1h-3z"/>
<path fill="#276eb0" stroke="#276eb0" d="M82 172h1v1h-1zM77 173h1v1h-1zM82 174h1v1h-1zM78 174h1v1h-1zM77 175h2v1h-2zM77 176h1v2h-1zM85 177h2v1h-2zM87 180h2v1h-2zM87 181h1v1h-1zM79 181h1v2h-1zM78 183h1v1h-1zM78 184h2v1h-2zM78 185h1v1h-1zM83 194h1v1h-1zM83 201h1v2h-1zM81 202h1v1h-1zM82 203h1v3h-1zM81 206h1v1h-1zM82 207h1v1h-1zM86 209h1v1h-1zM85 210h2v1h-2zM83 209h1v3h-1zM87 211h1v1h-1zM86 212h1v1h-1zM83 213h1v1h-1zM79 214h1v1h-1zM82 216h2v1h-2zM84 218h1v2h-1zM81 220h2v1h-2zM75 226h1v1h-1zM79 227h1v1h-1zM74 227h1v1h-1zM78 230h1v1h-1zM73 235h1v1h-1zM76 235h1v2h-1zM75 240h1v1h-1zM74 242h1v1h-1zM69 259h1v1h-1zM75 262h1v1h-1zM75 266h1v1h-1zM73 270h1v1h-1zM71 276h1v1h-1zM67 277h3v1h-3z"/>
<path fill="#2b73b3" stroke="#2b73b3" d="M69 158h1v1h-1zM81 170h1v1h-1zM81 171h2v1h-2zM84 171h2v1h-2zM81 172h1v2h-1zM86 172h1v2h-1zM78 173h1v1h-1zM76 173h1v1h-1zM79 176h1v2h-1zM87 177h1v1h-1zM85 178h2v1h-2zM79 180h1v1h-1zM86 180h1v2h-1zM88 181h1v1h-1zM87 182h1v1h-1zM79 183h1v1h-1zM79 186h1v3h-1zM83 193h1v1h-1zM80 193h1v1h-1zM85 193h1v1h-1zM80 196h1v1h-1zM83 199h1v2h-1zM83 203h1v1h-1zM81 203h1v1h-1zM81 205h1v1h-1zM82 206h1v1h-1zM86 208h2v1h-2zM80 209h1v1h-1zM85 209h1v1h-1zM87 209h1v2h-1zM84 210h1v2h-1zM87 212h1v1h-1zM84 213h3v1h-3zM82 215h1v1h-1zM85 216h1v1h-1zM78 218h1v1h-1zM83 220h1v1h-1zM76 220h1v2h-1zM76 223h1v1h-1zM72 237h1v1h-1zM71 239h1v1h-1zM70 242h1v1h-1zM75 261h1v1h-1zM69 262h1v1h-1zM74 268h1v1h-1zM68 269h1v1h-1zM73 271h1v1h-1zM67 274h1v1h-1zM73 274h1v1h-1zM67 276h1v1h-1z"/>
<path fill="#2e77b5" stroke="#2e77b5" d="M68 158h1v1h-1zM70 158h1v1h-1zM69 159h1v1h-1zM82 170h1v1h-1zM80 170h1v1h-1zM83 171h1v1h-1zM77 172h1v1h-1zM86 174h1v1h-1zM76 174h1v1h-1zM81 174h1v1h-1zM79 174h1v2h-1zM85 175h1v1h-1zM85 176h2v1h-2zM84 178h1v1h-1zM78 178h1v1h-1zM87 178h1v1h-1zM87 179h2v1h-2zM78 180h1v1h-1zM89 180h1v1h-1zM80 181h2v1h-2zM77 181h1v2h-1zM86 182h1v1h-1zM88 182h1v1h-1zM87 183h2v1h-2zM80 185h1v4h-1zM78 186h1v3h-1zM79 189h1v1h-1zM85 192h2v1h-2zM81 192h1v1h-1zM84 193h1v1h-1zM86 193h2v1h-2zM84 194h3v1h-3zM87 204h2v1h-2zM83 204h1v1h-1zM81 204h1v1h-1zM83 208h1v1h-1zM88 208h1v1h-1zM84 209h1v1h-1zM79 213h1v1h-1zM83 214h1v1h-1zM83 215h3v1h-3zM78 217h1v1h-1zM85 217h1v1h-1zM77 219h1v1h-1zM84 220h1v1h-1zM81 221h1v1h-1zM80 222h1v1h-1zM73 229h1v1h-1zM78 231h1v1h-1zM77 233h1v1h-1zM76 237h1v1h-1zM74 246h1v3h-1zM68 254h1v2h-1zM75 257h1v4h-1zM69 260h1v1h-1zM66 273h1v1h-1zM67 275h1v1h-1zM72 276h1v1h-1zM70 277h1v1h-1zM67 278h2v1h-2z"/>
<path fill="#327cb7" stroke="#327cb7" d="M68 157h2v1h-2zM68 159h1v1h-1zM70 159h1v1h-1zM69 160h2v2h-2zM80 169h2v1h-2zM79 170h1v1h-1zM83 170h1v1h-1zM80 171h1v1h-1zM89 171h1v2h-1zM78 172h1v1h-1zM76 172h1v1h-1zM80 174h1v1h-1zM80 175h3v1h-3zM84 175h1v1h-1zM86 175h1v1h-1zM87 176h1v1h-1zM84 177h1v1h-1zM88 178h1v1h-1zM77 178h1v1h-1zM79 178h1v2h-1zM84 179h3v1h-3zM80 180h1v1h-1zM82 181h1v1h-1zM85 180h1v3h-1zM89 181h1v2h-1zM85 183h2v1h-2zM80 182h1v3h-1zM88 187h2v1h-2zM78 189h1v1h-1zM80 189h1v1h-1zM88 191h2v1h-2zM85 191h2v1h-2zM82 192h1v1h-1zM80 192h1v1h-1zM87 192h3v1h-3zM84 192h1v1h-1zM88 193h1v1h-1zM87 194h1v1h-1zM84 195h2v1h-2zM80 197h1v3h-1zM84 201h3v1h-3zM84 202h4v1h-4zM87 203h2v1h-2zM86 204h1v1h-1zM85 205h2v1h-2zM83 205h1v1h-1zM85 206h1v1h-1zM89 204h1v4h-1zM86 207h1v1h-1zM80 208h1v1h-1zM85 208h1v1h-1zM88 209h1v1h-1zM87 213h1v1h-1zM84 214h3v1h-3zM78 216h1v1h-1zM85 218h1v1h-1zM82 221h1v2h-1zM76 222h1v1h-1zM80 223h1v1h-1zM75 241h1v1h-1zM74 243h1v1h-1zM74 245h1v1h-1zM69 245h1v3h-1zM69 250h1v1h-1zM74 250h1v1h-1zM69 261h1v1h-1zM68 268h1v1h-1zM67 271h1v1h-1zM66 272h1v1h-1zM73 275h1v1h-1zM69 278h1v1h-1zM67 279h1v1h-1z"/>
<path fill="#3480b9" stroke="#3480b9" d="M52 152h1v1h-1zM67 158h1v2h-1zM71 159h1v3h-1zM68 160h1v2h-1zM69 162h3v1h-3zM80 168h2v1h-2zM82 169h1v1h-1zM77 170h2v1h-2zM84 170h1v1h-1zM76 171h4v1h-4zM90 171h1v1h-1zM86 171h1v1h-1zM80 172h1v1h-1zM87 172h2v1h-2zM79 173h2v1h-2zM87 173h1v1h-1zM83 175h1v1h-1zM82 176h1v1h-1zM84 176h1v1h-1zM80 176h1v2h-1zM76 177h1v1h-1zM88 177h1v1h-1zM83 178h1v2h-1zM78 179h1v1h-1zM89 179h1v1h-1zM81 180h4v1h-4zM83 181h2v1h-2zM81 182h1v1h-1zM89 183h1v1h-1zM84 184h5v1h-5zM84 185h1v1h-1zM88 186h2v1h-2zM89 188h1v1h-1zM88 190h2v1h-2zM79 190h1v1h-1zM85 190h1v1h-1zM87 191h1v1h-1zM80 191h2v1h-2zM83 192h1v1h-1zM90 192h1v1h-1zM89 193h1v1h-1zM88 194h1v1h-1zM86 195h1v1h-1zM84 196h1v3h-1zM80 200h1v3h-1zM84 203h3v1h-3zM84 204h2v1h-2zM88 205h1v1h-1zM84 205h1v1h-1zM90 205h1v2h-1zM83 206h2v1h-2zM86 206h1v1h-1zM80 207h1v1h-1zM83 207h1v1h-1zM85 207h1v1h-1zM88 207h1v1h-1zM84 208h1v1h-1zM88 211h1v1h-1zM76 219h1v1h-1zM85 219h1v2h-1zM75 220h1v1h-1zM83 221h1v1h-1zM81 222h1v1h-1zM82 223h1v1h-1zM80 224h1v2h-1zM72 236h1v1h-1zM70 241h1v1h-1zM74 244h1v1h-1zM69 248h1v1h-1zM74 249h1v1h-1zM68 253h1v1h-1zM75 256h1v1h-1zM68 256h1v1h-1zM75 267h1v1h-1zM66 277h1v1h-1zM68 279h1v1h-1zM67 280h2v1h-2zM65 287h2v1h-2z"/>
<path fill="#3885bc" stroke="#3885bc" d="M50 153h2v1h-2zM70 157h1v1h-1zM67 157h1v1h-1zM65 158h2v1h-2zM72 159h1v1h-1zM72 160h2v1h-2zM72 161h1v2h-1zM68 162h1v1h-1zM79 169h1v1h-1zM83 169h1v1h-1zM93 169h1v1h-1zM76 170h1v1h-1zM85 170h1v1h-1zM88 171h1v1h-1zM79 172h1v1h-1zM75 172h1v2h-1zM88 173h2v1h-2zM87 174h1v2h-1zM76 175h1v2h-1zM83 176h1v1h-1zM81 176h1v1h-1zM81 177h3v1h-3zM80 178h2v1h-2zM80 179h1v1h-1zM77 179h1v2h-1zM90 180h1v1h-1zM84 182h1v1h-1zM82 182h1v1h-1zM77 183h1v1h-1zM81 183h1v2h-1zM83 185h1v1h-1zM85 185h1v1h-1zM87 185h2v1h-2zM83 186h2v1h-2zM87 186h1v2h-1zM81 186h1v2h-1zM88 188h1v1h-1zM89 189h1v1h-1zM86 190h2v1h-2zM80 190h1v1h-1zM84 191h1v1h-1zM90 191h1v1h-1zM87 195h1v1h-1zM79 195h1v2h-1zM84 200h1v1h-1zM87 201h1v1h-1zM89 203h1v1h-1zM90 204h1v1h-1zM87 205h1v1h-1zM87 207h1v1h-1zM89 208h1v1h-1zM88 210h1v1h-1zM79 212h1v1h-1zM88 212h1v1h-1zM87 214h1v1h-1zM77 218h1v1h-1zM75 221h1v1h-1zM84 221h2v1h-2zM83 222h1v2h-1zM81 223h1v1h-1zM75 225h1v1h-1zM79 228h1v1h-1zM73 228h1v1h-1zM77 234h1v1h-1zM72 235h1v1h-1zM76 238h1v1h-1zM71 238h1v1h-1zM69 249h1v1h-1zM75 253h1v3h-1zM68 267h1v1h-1zM74 269h1v1h-1zM74 272h1v1h-1zM65 273h1v1h-1zM66 274h1v1h-1zM66 276h1v1h-1zM71 277h1v1h-1zM66 278h1v1h-1zM69 279h1v1h-1zM67 281h1v1h-1zM65 286h2v1h-2z"/>
<path fill="#3c8abe" stroke="#3c8abe" d="M52 151h1v1h-1zM51 152h1v1h-1zM50 154h1v1h-1zM65 155h2v1h-2zM63 155h1v2h-1zM66 156h3v1h-3zM65 157h2v1h-2zM71 158h1v1h-1zM64 158h1v1h-1zM65 159h2v1h-2zM73 159h1v1h-1zM73 161h1v2h-1zM67 162h1v1h-1zM71 163h1v1h-1zM80 167h2v1h-2zM79 168h1v1h-1zM93 168h1v1h-1zM82 168h1v1h-1zM92 169h1v1h-1zM94 169h1v1h-1zM76 169h3v1h-3zM90 170h1v1h-1zM75 170h1v2h-1zM87 171h1v1h-1zM90 172h1v1h-1zM88 174h1v1h-1zM88 176h1v1h-1zM76 178h1v1h-1zM82 178h1v1h-1zM90 179h1v1h-1zM81 179h2v1h-2zM90 181h1v2h-1zM83 182h1v1h-1zM84 183h1v1h-1zM82 183h1v1h-1zM82 184h2v1h-2zM77 184h1v2h-1zM89 184h1v2h-1zM86 185h1v1h-1zM81 185h2v1h-2zM85 186h1v1h-1zM83 187h2v1h-2zM90 186h1v3h-1zM87 188h1v1h-1zM81 188h1v1h-1zM77 188h1v1h-1zM88 189h1v1h-1zM85 189h2v1h-2zM81 190h1v1h-1zM84 190h1v1h-1zM90 190h1v1h-1zM79 191h1v1h-1zM82 191h2v1h-2zM90 193h1v1h-1zM89 194h1v1h-1zM88 195h1v1h-1zM85 196h1v1h-1zM87 196h2v1h-2zM84 199h1v1h-1zM85 200h3v1h-3zM88 202h1v1h-1zM80 203h1v1h-1zM90 203h1v1h-1zM80 206h1v1h-1zM88 206h1v1h-1zM84 207h1v1h-1zM90 207h1v1h-1zM86 215h1v1h-1zM78 215h1v1h-1zM86 220h1v1h-1zM84 222h2v1h-2zM84 223h1v1h-1zM82 224h1v1h-1zM80 226h1v1h-1zM74 226h1v1h-1zM72 234h1v1h-1zM69 244h1v1h-1zM68 257h1v1h-1zM76 264h1v1h-1zM68 266h1v1h-1zM67 270h1v1h-1zM65 272h1v1h-1zM74 273h1v1h-1zM66 275h1v1h-1zM70 278h1v1h-1zM66 279h1v1h-1zM68 281h1v1h-1zM66 285h1v1h-1zM65 288h2v1h-2z"/>
<path fill="#3f8ec0" stroke="#3f8ec0" d="M50 152h1v1h-1zM53 152h1v1h-1zM52 153h1v1h-1zM49 153h1v1h-1zM67 155h1v1h-1zM64 155h1v1h-1zM69 156h1v1h-1zM64 156h2v1h-2zM64 157h1v1h-1zM64 159h1v1h-1zM67 160h1v1h-1zM74 160h1v3h-1zM67 163h1v1h-1zM74 163h2v1h-2zM72 163h1v1h-1zM70 163h1v1h-1zM75 164h1v1h-1zM74 166h1v1h-1zM74 167h2v1h-2zM79 167h1v1h-1zM75 168h1v2h-1zM84 169h1v1h-1zM91 170h4v1h-4zM89 170h1v1h-1zM86 170h1v1h-1zM74 171h1v2h-1zM89 174h1v1h-1zM88 175h1v1h-1zM89 178h1v1h-1zM90 183h1v1h-1zM83 183h1v1h-1zM86 186h1v1h-1zM77 186h1v2h-1zM82 186h1v2h-1zM85 187h2v1h-2zM83 188h4v1h-4zM84 189h1v1h-1zM90 189h1v1h-1zM87 189h1v1h-1zM81 189h1v1h-1zM78 190h1v1h-1zM79 192h1v1h-1zM79 194h1v1h-1zM89 195h1v2h-1zM86 196h1v1h-1zM78 196h1v1h-1zM87 197h3v1h-3zM79 197h1v1h-1zM88 198h2v2h-2zM88 200h1v2h-1zM97 203h1v1h-1zM87 206h1v1h-1zM79 211h1v1h-1zM88 213h1v2h-1zM77 217h1v1h-1zM76 218h1v1h-1zM86 216h1v4h-1zM86 221h1v1h-1zM85 223h1v1h-1zM83 224h1v1h-1zM81 224h1v1h-1zM78 232h1v1h-1zM72 233h1v1h-1zM77 235h1v1h-1zM70 240h1v1h-1zM75 252h1v1h-1zM68 252h1v1h-1zM76 263h1v1h-1zM68 265h1v1h-1zM76 265h1v1h-1zM74 271h1v1h-1zM64 273h1v1h-1zM63 274h3v1h-3zM63 275h1v1h-1zM73 276h1v1h-1zM69 280h1v1h-1zM66 280h1v1h-1zM67 282h1v1h-1zM65 285h1v1h-1zM67 287h1v1h-1zM64 287h1v1h-1z"/>
<path fill="#4393c3" stroke="#4393c3" d="M41 144h1v1h-1zM42 145h2v1h-2zM43 146h2v1h-2zM51 151h1v1h-1zM48 151h1v1h-1zM53 151h1v1h-1zM49 152h1v1h-1zM51 154h1v1h-1zM63 154h1v1h-1zM65 154h2v1h-2zM49 154h1v1h-1zM62 155h1v2h-1zM63 157h1v1h-1zM67 161h1v1h-1zM75 162h1v1h-1zM73 163h1v1h-1zM68 163h2v1h-2zM76 163h1v1h-1zM66 163h1v1h-1zM76 164h2v1h-2zM74 164h1v1h-1zM74 165h4v1h-4zM75 166h1v1h-1zM72 166h2v1h-2zM78 166h3v1h-3zM73 167h1v1h-1zM78 167h1v2h-1zM76 167h1v2h-1zM94 168h1v1h-1zM83 168h1v1h-1zM91 169h1v1h-1zM74 168h1v3h-1zM88 170h1v1h-1zM91 171h1v1h-1zM75 174h1v1h-1zM89 177h1v1h-1zM82 188h1v1h-1zM77 189h1v1h-1zM82 189h2v2h-2zM79 193h1v1h-1zM90 194h1v1h-1zM77 196h1v1h-1zM78 197h1v1h-1zM85 197h1v2h-1zM87 198h1v1h-1zM79 198h1v1h-1zM85 199h3v1h-3zM89 200h1v1h-1zM89 202h1v1h-1zM97 204h1v1h-1zM89 209h1v1h-1zM87 215h1v1h-1zM75 219h1v1h-1zM86 222h1v2h-1zM84 224h1v1h-1zM81 225h1v1h-1zM79 229h1v1h-1zM77 236h1v1h-1zM76 239h1v1h-1zM68 258h1v1h-1zM68 264h1v1h-1zM67 267h1v1h-1zM74 270h1v1h-1zM66 271h1v1h-1zM62 274h1v2h-1zM72 277h1v1h-1zM66 281h1v3h-1zM65 284h2v1h-2zM67 286h1v1h-1zM64 286h1v1h-1zM64 288h1v2h-1zM62 332h2v1h-2zM61 333h4v1h-4zM60 334h5v1h-5zM60 335h6v1h-6zM60 336h7v3h-7zM61 339h6v1h-6zM63 340h2v1h-2z"/>
<path fill="#4997c5" stroke="#4997c5" d="M41 143h1v1h-1zM42 144h1v1h-1zM48 150h2v1h-2zM49 151h1v1h-1zM48 152h1v1h-1zM64 154h1v1h-1zM61 156h1v1h-1zM62 157h1v1h-1zM63 158h1v1h-1zM72 158h1v1h-1zM74 159h1v1h-1zM75 161h1v1h-1zM77 163h1v1h-1zM78 164h1v1h-1zM70 164h3v1h-3zM78 165h2v1h-2zM69 166h1v1h-1zM76 166h2v1h-2zM71 166h1v1h-1zM72 167h1v1h-1zM82 167h1v1h-1zM69 167h2v1h-2zM77 167h1v2h-1zM92 168h1v1h-1zM85 169h1v1h-1zM95 170h1v1h-1zM87 170h1v1h-1zM74 173h1v1h-1zM90 173h1v1h-1zM89 175h1v1h-1zM90 178h1v1h-1zM76 179h1v1h-1zM91 180h1v1h-1zM90 184h1v2h-1zM91 192h1v2h-1zM78 195h1v1h-1zM86 197h1v2h-1zM90 195h1v5h-1zM79 199h1v1h-1zM79 202h1v1h-1zM90 202h1v1h-1zM80 204h1v2h-1zM91 204h1v3h-1zM90 208h1v1h-1zM77 216h1v1h-1zM87 223h1v1h-1zM85 224h3v1h-3zM75 224h1v1h-1zM82 225h1v1h-1zM73 227h1v1h-1zM72 232h1v1h-1zM76 240h1v1h-1zM75 242h1v1h-1zM76 266h1v1h-1zM67 266h1v1h-1zM66 267h1v1h-1zM75 268h1v1h-1zM67 268h1v2h-1zM75 272h1v1h-1zM64 272h1v1h-1zM63 273h1v1h-1zM64 275h2v1h-2zM65 276h1v1h-1zM68 282h1v1h-1zM65 283h1v1h-1zM67 283h1v1h-1zM67 285h1v1h-1zM64 285h1v1h-1zM67 288h1v1h-1zM65 289h1v1h-1zM63 289h1v1h-1zM63 290h2v1h-2zM73 304h4v1h-4zM72 305h6v1h-6zM70 306h8v1h-8zM69 307h8v1h-8zM68 308h8v1h-8zM67 309h6v1h-6zM67 310h5v2h-5zM67 312h4v1h-4zM67 313h3v2h-3zM66 315h4v1h-4zM65 316h5v1h-5zM63 316h1v1h-1zM62 317h8v3h-8zM61 320h9v1h-9zM61 321h8v1h-8zM61 322h3v2h-3zM62 324h1v1h-1zM61 328h3v1h-3zM60 329h5v2h-5zM59 331h7v1h-7zM59 332h3v1h-3zM64 332h2v1h-2zM59 333h2v1h-2zM65 333h2v2h-2zM66 335h2v1h-2zM67 336h1v2h-1zM58 334h2v5h-2zM67 338h2v2h-2zM58 339h3v1h-3zM65 340h3v1h-3zM59 340h4v1h-4zM59 341h9v1h-9zM60 342h5v1h-5z"/>
<path fill="#529dc8" stroke="#529dc8" d="M42 143h1v1h-1zM41 145h1v1h-1zM44 145h1v1h-1zM42 146h1v1h-1zM45 146h1v1h-1zM44 147h3v1h-3zM49 149h2v1h-2zM50 150h3v1h-3zM63 150h1v2h-1zM47 151h1v1h-1zM50 151h1v1h-1zM54 151h3v1h-3zM53 153h1v1h-1zM67 154h1v1h-1zM59 155h3v1h-3zM68 155h1v1h-1zM70 156h1v1h-1zM61 157h1v1h-1zM71 157h1v1h-1zM73 158h1v1h-1zM59 158h1v1h-1zM60 159h1v1h-1zM66 160h1v1h-1zM76 162h1v1h-1zM66 162h1v1h-1zM73 164h1v1h-1zM67 164h3v1h-3zM68 165h6v1h-6zM81 166h1v1h-1zM70 166h1v1h-1zM68 166h1v1h-1zM71 167h1v1h-1zM84 168h1v1h-1zM95 169h1v1h-1zM90 169h1v1h-1zM73 171h1v1h-1zM94 171h1v1h-1zM89 176h1v1h-1zM91 179h1v1h-1zM95 179h1v1h-1zM76 180h1v2h-1zM91 181h1v2h-1zM91 186h1v2h-1zM98 189h2v1h-2zM91 191h1v1h-1zM91 194h1v1h-1zM77 195h1v1h-1zM77 197h1v1h-1zM90 200h1v1h-1zM79 200h1v2h-1zM89 201h3v1h-3zM97 202h1v1h-1zM91 202h1v2h-1zM96 204h1v2h-1zM79 210h1v1h-1zM89 210h1v1h-1zM88 215h1v1h-1zM76 217h1v1h-1zM87 220h1v1h-1zM75 222h1v1h-1zM83 225h1v1h-1zM80 227h1v1h-1zM79 230h1v1h-1zM72 231h1v1h-1zM77 237h1v1h-1zM71 237h1v1h-1zM69 243h1v1h-1zM75 247h1v1h-1zM75 251h1v1h-1zM68 259h1v1h-1zM76 262h1v1h-1zM66 266h1v1h-1zM74 274h1v1h-1zM65 277h1v1h-1zM70 279h1v1h-1zM67 284h1v1h-1zM64 284h1v1h-1zM63 288h1v1h-1zM66 289h1v1h-1zM63 291h2v2h-2zM66 292h2v1h-2zM63 293h4v1h-4zM72 302h6v1h-6zM71 303h8v1h-8zM77 304h4v1h-4zM70 304h3v1h-3zM69 305h3v1h-3zM78 305h5v1h-5zM68 306h2v1h-2zM78 306h6v1h-6zM67 307h2v1h-2zM77 307h6v1h-6zM76 308h6v1h-6zM67 308h1v1h-1zM73 309h6v1h-6zM72 310h4v1h-4zM72 311h2v1h-2zM66 309h1v4h-1zM71 312h2v1h-2zM65 313h2v1h-2zM70 313h3v1h-3zM64 314h3v1h-3zM60 315h6v1h-6zM60 316h3v1h-3zM64 316h1v1h-1zM61 317h1v2h-1zM70 314h2v6h-2zM60 319h2v1h-2zM70 320h1v1h-1zM69 321h2v1h-2zM64 322h6v1h-6zM60 320h1v4h-1zM64 323h5v1h-5zM60 324h2v1h-2zM63 324h5v1h-5zM60 325h6v1h-6zM60 326h5v1h-5zM60 327h6v1h-6zM64 328h2v1h-2zM59 328h2v1h-2zM59 329h1v1h-1zM65 329h2v2h-2zM58 330h2v1h-2zM66 331h1v1h-1zM66 332h2v1h-2zM58 331h1v3h-1zM67 333h1v1h-1zM67 334h2v1h-2zM68 335h1v1h-1zM68 336h2v2h-2zM57 334h1v6h-1zM69 338h1v2h-1zM57 340h2v1h-2zM68 340h2v2h-2zM58 341h1v1h-1zM58 342h2v1h-2zM65 342h4v1h-4zM60 343h7v1h-7zM61 344h5v1h-5zM63 345h1v1h-1z"/>
<path fill="#59a1ca" stroke="#59a1ca" d="M41 142h2v1h-2zM40 143h1v1h-1zM43 144h1v1h-1zM43 147h1v1h-1zM47 147h1v2h-1zM51 149h1v1h-1zM48 149h1v1h-1zM47 150h1v1h-1zM55 150h2v1h-2zM62 150h1v2h-1zM64 150h1v2h-1zM57 151h1v1h-1zM54 152h1v1h-1zM58 152h1v1h-1zM48 153h1v1h-1zM63 153h3v1h-3zM62 154h1v1h-1zM59 154h1v1h-1zM60 156h1v1h-1zM59 157h2v1h-2zM62 158h1v1h-1zM60 158h1v1h-1zM75 160h1v1h-1zM60 160h1v1h-1zM66 164h1v1h-1zM80 165h1v1h-1zM83 167h1v1h-1zM89 169h1v1h-1zM86 169h1v1h-1zM73 168h1v3h-1zM95 171h1v1h-1zM92 171h2v1h-2zM91 172h1v1h-1zM73 172h1v1h-1zM94 172h2v1h-2zM90 174h1v1h-1zM75 175h1v1h-1zM91 178h1v1h-1zM94 179h1v1h-1zM95 180h1v1h-1zM91 183h1v1h-1zM99 188h1v1h-1zM91 188h1v1h-1zM91 190h1v1h-1zM78 191h1v1h-1zM78 194h1v1h-1zM91 195h1v1h-1zM78 198h1v1h-1zM91 200h1v1h-1zM96 203h1v1h-1zM97 205h1v1h-1zM96 206h1v1h-1zM91 207h1v1h-1zM89 211h1v1h-1zM76 213h1v2h-1zM78 214h1v1h-1zM77 215h1v1h-1zM87 216h1v1h-1zM87 219h1v1h-1zM87 221h1v2h-1zM88 223h1v2h-1zM87 225h1v1h-1zM84 225h1v1h-1zM81 226h1v1h-1zM87 228h1v1h-1zM75 246h1v1h-1zM75 248h1v1h-1zM67 255h1v1h-1zM76 259h1v2h-1zM68 260h1v1h-1zM68 263h1v1h-1zM65 267h1v1h-1zM76 272h1v1h-1zM62 273h1v1h-1zM61 274h1v1h-1zM63 276h2v1h-2zM65 278h1v1h-1zM69 281h1v1h-1zM63 287h1v1h-1zM67 289h1v1h-1zM65 290h1v1h-1zM65 291h3v1h-3zM65 292h1v1h-1zM62 293h1v1h-1zM67 293h1v1h-1zM62 294h5v1h-5zM61 295h2v1h-2zM61 296h1v1h-1zM62 297h1v1h-1zM71 300h6v1h-6zM70 301h9v1h-9zM78 302h3v1h-3zM70 302h2v1h-2zM69 303h2v1h-2zM79 303h6v1h-6zM81 304h5v1h-5zM68 304h2v1h-2zM67 305h2v1h-2zM83 305h3v1h-3zM67 306h1v1h-1zM84 306h2v1h-2zM83 307h3v1h-3zM66 307h1v2h-1zM82 308h4v1h-4zM79 309h6v1h-6zM65 309h1v2h-1zM76 310h8v1h-8zM74 311h5v1h-5zM64 311h2v2h-2zM60 312h2v1h-2zM73 312h3v1h-3zM73 313h2v1h-2zM60 313h5v1h-5zM60 314h4v1h-4zM72 314h2v2h-2zM59 315h1v1h-1zM60 317h1v2h-1zM72 316h1v4h-1zM71 320h2v1h-2zM71 321h1v1h-1zM70 322h2v1h-2zM69 323h2v1h-2zM68 324h3v1h-3zM66 325h4v1h-4zM59 320h1v7h-1zM65 326h4v1h-4zM58 327h2v1h-2zM66 327h3v2h-3zM58 328h1v2h-1zM67 329h2v3h-2zM57 330h1v3h-1zM68 332h2v2h-2zM56 333h2v1h-2zM69 334h1v1h-1zM69 335h2v1h-2zM70 336h1v4h-1zM56 334h1v7h-1zM70 340h2v2h-2zM57 341h1v2h-1zM69 342h2v1h-2zM67 343h4v1h-4zM59 343h1v1h-1zM66 344h3v1h-3zM60 344h1v1h-1zM64 345h4v1h-4zM61 345h2v1h-2zM62 346h5v1h-5zM65 347h2v1h-2z"/>
<path fill="#62a7ce" stroke="#62a7ce" d="M40 142h1v1h-1zM40 144h1v1h-1zM46 146h2v1h-2zM48 148h3v1h-3zM46 148h1v1h-1zM47 149h1v1h-1zM53 150h1v1h-1zM61 150h1v2h-1zM58 151h1v1h-1zM57 152h1v1h-1zM63 152h2v1h-2zM66 153h1v1h-1zM60 154h1v1h-1zM52 154h1v1h-1zM58 153h1v3h-1zM69 155h1v1h-1zM59 156h1v1h-1zM58 157h1v2h-1zM61 158h1v1h-1zM74 158h1v1h-1zM59 159h1v1h-1zM63 159h1v1h-1zM66 161h1v1h-1zM78 163h1v1h-1zM79 164h1v1h-1zM81 165h1v1h-1zM85 168h1v1h-1zM91 168h1v1h-1zM70 168h3v1h-3zM87 169h2v1h-2zM94 173h2v1h-2zM90 175h1v1h-1zM75 176h1v2h-1zM90 177h1v1h-1zM92 178h1v1h-1zM92 179h2v1h-2zM96 179h1v2h-1zM94 180h1v1h-1zM76 182h1v1h-1zM91 185h1v1h-1zM98 188h1v1h-1zM91 189h1v1h-1zM97 189h1v1h-1zM77 190h1v1h-1zM78 192h1v1h-1zM77 193h2v1h-2zM92 194h1v1h-1zM77 194h1v1h-1zM91 196h1v1h-1zM91 199h1v1h-1zM78 199h1v1h-1zM78 201h1v1h-1zM79 203h1v1h-1zM79 209h1v1h-1zM90 209h1v1h-1zM89 212h1v1h-1zM89 214h1v1h-1zM76 215h1v2h-1zM87 217h1v2h-1zM91 220h1v1h-1zM91 221h2v1h-2zM92 222h1v1h-1zM75 223h1v1h-1zM85 225h2v1h-2zM82 226h1v1h-1zM87 226h1v2h-1zM84 228h3v1h-3zM85 229h2v1h-2zM72 230h1v1h-1zM79 231h1v1h-1zM78 233h1v1h-1zM70 239h1v1h-1zM76 241h1v1h-1zM75 249h1v1h-1zM68 251h1v1h-1zM67 254h1v1h-1zM67 256h1v1h-1zM76 257h1v2h-1zM76 261h1v1h-1zM65 266h1v1h-1zM76 267h1v1h-1zM66 268h1v1h-1zM75 269h1v1h-1zM75 271h1v1h-1zM65 271h1v1h-1zM63 272h1v1h-1zM77 272h1v2h-1zM75 273h1v1h-1zM61 275h1v1h-1zM74 275h1v1h-1zM73 277h1v1h-1zM71 278h1v1h-1zM68 283h1v1h-1zM63 286h1v1h-1zM66 290h2v1h-2zM62 289h1v4h-1zM61 294h1v1h-1zM67 294h1v1h-1zM63 295h5v1h-5zM62 296h2v1h-2zM61 297h1v1h-1zM63 297h2v1h-2zM61 298h3v1h-3zM72 298h3v1h-3zM70 299h8v1h-8zM69 300h2v1h-2zM77 300h3v1h-3zM69 301h1v1h-1zM79 301h4v1h-4zM81 302h5v1h-5zM68 302h2v1h-2zM68 303h1v1h-1zM85 303h2v1h-2zM67 304h1v1h-1zM66 306h1v1h-1zM86 304h2v4h-2zM65 307h1v1h-1zM64 308h2v1h-2zM86 308h1v1h-1zM64 309h1v1h-1zM85 309h2v1h-2zM61 310h4v1h-4zM84 310h2v1h-2zM60 311h4v1h-4zM79 311h6v1h-6zM76 312h8v1h-8zM62 312h2v1h-2zM75 313h5v1h-5zM59 312h1v3h-1zM74 314h3v1h-3zM74 315h2v1h-2zM73 316h2v2h-2zM59 316h1v4h-1zM73 318h1v3h-1zM72 321h2v1h-2zM72 322h1v1h-1zM71 323h2v1h-2zM71 324h1v1h-1zM70 325h2v1h-2zM58 321h1v6h-1zM57 327h1v2h-1zM56 329h2v1h-2zM69 326h2v6h-2zM56 330h1v3h-1zM70 332h1v1h-1zM70 333h2v2h-2zM71 335h1v4h-1zM71 339h2v1h-2zM55 333h1v8h-1zM72 340h1v2h-1zM55 341h2v1h-2zM56 342h1v1h-1zM71 342h2v2h-2zM57 343h2v1h-2zM69 344h3v1h-3zM59 344h1v1h-1zM68 345h3v1h-3zM60 345h1v1h-1zM61 346h1v1h-1zM67 346h3v2h-3zM62 347h3v1h-3zM63 348h7v2h-7zM64 350h5v2h-5zM66 352h2v1h-2z"/>
<path fill="#6bacd1" stroke="#6bacd1" d="M35 136h1v1h-1zM36 137h1v1h-1zM41 141h1v1h-1zM45 145h1v1h-1zM48 146h1v2h-1zM44 148h2v1h-2zM57 150h1v1h-1zM54 150h1v1h-1zM59 151h2v1h-2zM65 151h1v2h-1zM47 152h1v1h-1zM55 152h2v1h-2zM62 152h1v2h-1zM59 152h1v2h-1zM57 153h1v1h-1zM61 154h1v1h-1zM50 155h1v1h-1zM58 156h1v1h-1zM71 156h1v1h-1zM72 157h1v1h-1zM75 159h1v1h-1zM61 159h1v2h-1zM65 160h1v1h-1zM76 161h1v1h-1zM77 162h1v1h-1zM80 164h2v1h-2zM67 165h1v1h-1zM82 166h1v1h-1zM84 167h1v1h-1zM95 168h1v1h-1zM93 172h1v1h-1zM96 172h1v2h-1zM94 174h1v1h-1zM90 176h1v1h-1zM91 177h1v1h-1zM93 178h3v1h-3zM92 180h2v1h-2zM91 184h1v1h-1zM92 186h1v1h-1zM100 189h1v1h-1zM99 190h1v1h-1zM77 192h1v1h-1zM92 195h1v1h-1zM91 197h1v2h-1zM78 200h1v1h-1zM78 202h1v1h-1zM96 202h1v1h-1zM92 201h1v3h-1zM92 205h1v2h-1zM95 206h1v1h-1zM95 207h2v1h-2zM79 208h1v1h-1zM76 212h1v1h-1zM89 213h1v1h-1zM77 214h1v1h-1zM94 215h2v1h-2zM75 218h1v1h-1zM91 219h1v1h-1zM90 220h1v1h-1zM92 220h1v1h-1zM91 222h1v1h-1zM88 222h1v1h-1zM74 225h1v1h-1zM88 225h1v1h-1zM83 226h1v1h-1zM84 227h3v1h-3zM87 229h1v1h-1zM69 242h1v1h-1zM75 243h1v1h-1zM75 245h1v1h-1zM75 250h1v1h-1zM68 261h1v2h-1zM67 265h1v1h-1zM75 270h1v1h-1zM76 271h1v1h-1zM76 273h1v1h-1zM74 276h1v1h-1zM62 276h1v1h-1zM64 277h1v1h-1zM65 279h1v1h-1zM65 282h1v1h-1zM68 284h1v1h-1zM62 288h1v1h-1zM61 293h1v1h-1zM68 286h1v10h-1zM64 296h5v1h-5zM60 295h1v3h-1zM65 297h3v1h-3zM69 297h7v1h-7zM64 298h1v1h-1zM75 298h3v1h-3zM69 298h3v1h-3zM68 299h2v1h-2zM78 299h3v1h-3zM61 299h3v1h-3zM80 300h3v1h-3zM68 300h1v2h-1zM83 301h4v1h-4zM86 302h2v1h-2zM67 302h1v2h-1zM87 303h2v1h-2zM66 304h1v2h-1zM65 306h1v1h-1zM88 304h1v4h-1zM63 307h2v1h-2zM87 308h2v1h-2zM61 308h3v1h-3zM87 309h1v1h-1zM60 309h4v1h-4zM59 310h2v1h-2zM86 310h2v1h-2zM85 311h2v1h-2zM59 311h1v1h-1zM84 312h2v1h-2zM80 313h5v1h-5zM77 314h6v1h-6zM58 314h1v2h-1zM76 315h5v1h-5zM75 316h3v1h-3zM75 317h1v1h-1zM74 318h2v1h-2zM58 318h1v3h-1zM74 319h1v3h-1zM73 322h1v2h-1zM72 324h2v1h-2zM57 323h1v3h-1zM72 325h1v1h-1zM56 326h2v1h-2zM71 326h2v2h-2zM56 327h1v2h-1zM71 328h1v1h-1zM55 329h1v4h-1zM71 329h2v4h-2zM72 333h1v5h-1zM72 338h2v1h-2zM73 339h1v1h-1zM54 333h1v9h-1zM55 342h1v1h-1zM73 340h2v4h-2zM56 343h1v1h-1zM72 344h2v1h-2zM57 344h2v1h-2zM59 345h1v1h-1zM71 345h2v1h-2zM59 346h2v1h-2zM70 346h2v2h-2zM60 347h2v1h-2zM61 348h2v2h-2zM70 348h1v2h-1zM61 350h3v1h-3zM69 350h2v2h-2zM62 351h2v1h-2zM68 352h3v1h-3zM62 352h4v1h-4zM63 353h7v1h-7zM66 354h1v1h-1z"/>
<path fill="#71b0d3" stroke="#71b0d3" d="M33 117h1v1h-1zM29 123h1v1h-1zM35 128h1v1h-1zM36 129h1v1h-1zM36 136h1v1h-1zM36 138h1v1h-1zM39 138h1v3h-1zM40 141h1v1h-1zM42 141h2v1h-2zM43 142h1v2h-1zM44 144h1v1h-1zM48 145h1v1h-1zM49 147h1v1h-1zM51 148h1v1h-1zM64 149h1v1h-1zM52 149h1v1h-1zM46 149h1v2h-1zM58 150h1v1h-1zM65 150h1v1h-1zM60 150h1v1h-1zM60 152h2v1h-2zM60 153h1v1h-1zM54 153h1v1h-1zM68 154h1v1h-1zM57 154h1v1h-1zM75 158h1v1h-1zM62 159h1v1h-1zM64 160h1v1h-1zM61 161h1v1h-1zM65 163h1v1h-1zM82 164h1v1h-1zM68 167h1v1h-1zM86 168h1v1h-1zM90 168h1v1h-1zM72 169h1v1h-1zM96 170h1v2h-1zM92 172h1v1h-1zM91 173h1v1h-1zM93 173h1v2h-1zM74 174h1v1h-1zM92 177h1v1h-1zM75 178h1v1h-1zM96 178h1v1h-1zM96 181h1v1h-1zM92 181h1v2h-1zM76 183h1v3h-1zM92 185h1v1h-1zM98 187h2v1h-2zM97 188h1v1h-1zM98 190h1v1h-1zM92 193h1v1h-1zM77 198h1v1h-1zM92 200h1v1h-1zM92 204h1v1h-1zM95 205h1v1h-1zM79 207h1v1h-1zM92 207h1v1h-1zM91 208h1v1h-1zM90 210h1v1h-1zM94 214h2v1h-2zM89 215h1v1h-1zM95 216h1v1h-1zM88 216h1v1h-1zM92 219h1v1h-1zM88 219h1v2h-1zM90 221h1v1h-1zM89 222h2v1h-2zM89 223h1v1h-1zM84 226h3v1h-3zM73 226h1v1h-1zM80 228h1v1h-1zM84 229h1v1h-1zM71 236h1v1h-1zM84 237h1v1h-1zM77 238h1v1h-1zM75 244h1v1h-1zM68 247h1v1h-1zM76 256h1v1h-1zM77 264h1v2h-1zM65 268h1v1h-1zM66 270h1v1h-1zM64 271h1v1h-1zM74 277h1v1h-1zM65 280h1v1h-1zM69 282h1v1h-1zM64 283h1v1h-1zM68 285h1v1h-1zM63 285h1v1h-1zM62 287h1v1h-1zM61 291h1v2h-1zM60 294h1v1h-1zM69 294h1v1h-1zM69 295h4v1h-4zM69 296h7v1h-7zM76 297h3v1h-3zM68 297h1v1h-1zM65 298h4v1h-4zM78 298h3v1h-3zM60 298h1v2h-1zM81 299h3v1h-3zM64 299h4v1h-4zM83 300h4v1h-4zM61 300h3v1h-3zM67 300h1v2h-1zM87 301h2v1h-2zM88 302h2v1h-2zM66 302h1v2h-1zM65 304h1v1h-1zM64 305h2v1h-2zM63 306h2v1h-2zM61 307h2v1h-2zM89 303h1v6h-1zM60 308h1v1h-1zM59 309h1v1h-1zM88 309h2v1h-2zM88 310h1v1h-1zM87 311h2v1h-2zM86 312h2v1h-2zM58 310h1v4h-1zM85 313h2v1h-2zM83 314h3v1h-3zM81 315h4v1h-4zM78 316h5v1h-5zM58 316h1v2h-1zM76 317h4v1h-4zM76 318h2v1h-2zM75 319h2v2h-2zM75 321h1v1h-1zM57 319h1v4h-1zM74 322h2v1h-2zM74 323h1v2h-1zM56 324h1v2h-1zM73 325h2v1h-2zM55 326h1v2h-1zM73 326h1v2h-1zM72 328h2v1h-2zM54 328h2v1h-2zM73 329h1v3h-1zM54 329h1v4h-1zM73 332h2v6h-2zM74 338h1v1h-1zM74 339h2v1h-2zM75 340h1v1h-1zM53 334h1v8h-1zM53 342h2v1h-2zM75 341h2v3h-2zM54 343h2v1h-2zM74 344h2v1h-2zM55 344h2v1h-2zM57 345h2v1h-2zM73 345h2v1h-2zM58 346h1v1h-1zM72 346h2v1h-2zM59 347h1v1h-1zM72 347h1v1h-1zM59 348h2v1h-2zM71 348h2v3h-2zM60 349h1v2h-1zM71 351h1v2h-1zM60 351h2v2h-2zM60 353h3v1h-3zM70 353h1v1h-1zM67 354h3v1h-3zM61 354h5v1h-5zM63 355h5v1h-5z"/>
<path fill="#7bb6d6" stroke="#7bb6d6" d="M33 116h1v1h-1zM26 118h2v1h-2zM28 122h1v1h-1zM36 128h1v1h-1zM35 129h1v1h-1zM32 129h2v2h-2zM33 131h1v1h-1zM34 132h1v1h-1zM35 135h2v1h-2zM39 136h1v2h-1zM35 137h1v1h-1zM37 136h1v3h-1zM37 139h2v1h-2zM40 139h1v2h-1zM38 140h1v1h-1zM39 141h1v2h-1zM44 141h1v2h-1zM47 145h1v1h-1zM41 146h1v1h-1zM50 147h1v1h-1zM42 147h1v1h-1zM63 149h1v1h-1zM59 150h1v1h-1zM61 153h1v1h-1zM56 153h1v1h-1zM67 153h1v1h-1zM48 154h1v1h-1zM53 154h1v1h-1zM57 155h1v1h-1zM70 155h1v1h-1zM51 155h1v1h-1zM75 156h1v1h-1zM73 157h4v1h-4zM76 158h1v1h-1zM76 160h1v1h-1zM81 163h2v1h-2zM79 163h1v1h-1zM82 165h1v1h-1zM83 166h1v1h-1zM85 167h1v1h-1zM93 167h2v1h-2zM87 168h1v1h-1zM89 168h1v1h-1zM96 169h1v1h-1zM72 170h1v1h-1zM97 173h1v1h-1zM95 174h1v1h-1zM93 175h1v1h-1zM91 174h1v3h-1zM93 177h2v1h-2zM95 181h1v1h-1zM92 183h1v1h-1zM92 184h2v1h-2zM93 185h1v1h-1zM92 187h1v1h-1zM100 188h1v1h-1zM77 191h1v1h-1zM76 195h1v2h-1zM97 201h1v1h-1zM97 206h1v1h-1zM93 206h2v2h-2zM91 209h1v1h-1zM76 211h1v1h-1zM77 213h2v1h-2zM94 216h1v1h-1zM90 219h1v1h-1zM74 220h1v1h-1zM89 220h1v1h-1zM88 221h1v1h-1zM93 221h1v2h-1zM90 223h2v1h-2zM88 226h1v2h-1zM83 227h1v1h-1zM81 227h1v1h-1zM72 229h1v1h-1zM85 230h2v1h-2zM71 235h1v1h-1zM78 236h1v2h-1zM85 236h1v2h-1zM81 240h1v1h-1zM68 246h1v1h-1zM68 248h1v1h-1zM77 266h1v1h-1zM66 269h1v1h-1zM63 271h1v1h-1zM77 271h1v1h-1zM62 272h1v1h-1zM78 273h1v1h-1zM61 273h1v1h-1zM70 280h1v1h-1zM65 281h1v1h-1zM61 289h1v2h-1zM69 291h1v2h-1zM60 293h1v1h-1zM69 293h2v1h-2zM70 294h3v1h-3zM73 295h3v1h-3zM76 296h2v1h-2zM79 297h2v1h-2zM59 295h1v4h-1zM81 298h3v1h-3zM84 299h3v1h-3zM60 300h1v1h-1zM87 300h2v1h-2zM64 300h3v1h-3zM61 301h6v1h-6zM89 301h1v1h-1zM63 302h3v2h-3zM63 304h2v1h-2zM90 302h1v4h-1zM61 305h3v1h-3zM60 306h3v1h-3zM59 307h2v1h-2zM59 308h1v1h-1zM90 306h2v4h-2zM58 309h1v1h-1zM89 310h2v2h-2zM88 312h2v1h-2zM87 313h2v1h-2zM86 314h3v1h-3zM85 315h3v1h-3zM83 316h3v1h-3zM80 317h4v1h-4zM57 317h1v2h-1zM78 318h4v1h-4zM77 319h2v1h-2zM77 320h1v1h-1zM76 321h2v1h-2zM76 322h1v1h-1zM56 321h1v3h-1zM75 323h2v1h-2zM55 324h1v2h-1zM75 324h1v2h-1zM74 326h2v1h-2zM54 326h1v2h-1zM74 327h1v3h-1zM74 330h2v2h-2zM53 328h1v6h-1zM75 332h1v6h-1zM75 338h2v1h-2zM76 339h1v1h-1zM76 340h2v1h-2zM52 337h1v6h-1zM77 341h1v3h-1zM52 343h2v1h-2zM53 344h2v1h-2zM76 344h1v1h-1zM54 345h3v1h-3zM75 345h2v1h-2zM55 346h3v1h-3zM74 346h2v1h-2zM57 347h2v1h-2zM73 347h2v1h-2zM58 348h1v1h-1zM73 348h1v3h-1zM59 349h1v2h-1zM72 351h1v2h-1zM57 351h3v2h-3zM58 353h2v1h-2zM71 353h2v1h-2zM70 354h2v1h-2zM59 354h2v1h-2zM60 355h3v1h-3zM68 355h3v1h-3zM61 356h8v1h-8z"/>
<path fill="#81bad8" stroke="#81bad8" d="M26 119h2v1h-2zM28 123h1v1h-1zM34 131h1v1h-1zM35 134h1v1h-1zM37 135h1v1h-1zM34 135h1v1h-1zM38 136h1v3h-1zM40 138h1v1h-1zM41 140h1v1h-1zM45 141h1v2h-1zM48 144h2v1h-2zM40 145h1v1h-1zM46 145h1v1h-1zM49 145h1v2h-1zM43 148h1v1h-1zM55 149h2v1h-2zM58 149h1v1h-1zM61 149h2v1h-2zM65 149h1v1h-1zM45 149h1v1h-1zM46 151h1v1h-1zM66 152h1v1h-1zM55 153h1v1h-1zM49 155h1v1h-1zM57 156h1v2h-1zM58 159h1v1h-1zM76 159h1v1h-1zM62 160h2v1h-2zM59 160h1v1h-1zM60 161h1v1h-1zM62 161h1v1h-1zM77 161h1v1h-1zM65 162h1v1h-1zM78 162h1v1h-1zM84 166h1v1h-1zM67 166h1v1h-1zM88 168h1v1h-1zM69 168h1v1h-1zM71 169h1v1h-1zM73 173h1v1h-1zM96 174h1v1h-1zM92 173h1v3h-1zM94 175h1v1h-1zM92 176h2v1h-2zM75 179h1v1h-1zM97 179h1v3h-1zM93 181h2v1h-2zM93 183h1v1h-1zM99 186h1v1h-1zM100 187h1v1h-1zM76 186h1v3h-1zM96 189h1v1h-1zM97 190h1v1h-1zM92 192h1v1h-1zM93 194h1v2h-1zM92 199h1v1h-1zM77 199h1v3h-1zM95 204h1v1h-1zM92 208h2v1h-2zM93 214h1v1h-1zM88 217h1v2h-1zM92 218h1v1h-1zM89 219h1v1h-1zM74 221h1v1h-1zM89 221h1v1h-1zM83 228h1v1h-1zM88 228h1v1h-1zM78 234h1v2h-1zM84 236h1v1h-1zM83 237h1v1h-1zM84 238h1v1h-1zM81 239h1v1h-1zM77 239h1v1h-1zM76 242h1v1h-1zM76 247h1v1h-1zM68 249h1v2h-1zM67 253h1v1h-1zM76 255h1v1h-1zM67 257h1v1h-1zM77 263h1v1h-1zM66 265h1v1h-1zM64 267h1v1h-1zM76 268h1v1h-1zM76 270h1v1h-1zM78 272h1v1h-1zM77 274h1v1h-1zM63 277h1v1h-1zM69 283h1v1h-1zM63 284h1v1h-1zM69 289h1v2h-1zM60 291h1v2h-1zM70 292h2v1h-2zM71 293h3v1h-3zM73 294h3v1h-3zM76 295h2v1h-2zM78 296h2v1h-2zM81 297h3v1h-3zM84 298h4v1h-4zM87 299h2v1h-2zM59 299h1v2h-1zM89 300h1v1h-1zM90 301h1v1h-1zM60 301h1v1h-1zM60 302h3v1h-3zM59 303h4v2h-4zM91 302h1v4h-1zM58 305h3v1h-3zM58 306h2v1h-2zM58 307h1v2h-1zM92 306h1v4h-1zM91 310h2v1h-2zM91 311h1v1h-1zM90 312h2v1h-2zM89 313h2v2h-2zM88 315h2v1h-2zM57 310h1v7h-1zM86 316h3v1h-3zM84 317h4v1h-4zM82 318h3v1h-3zM79 319h3v1h-3zM56 318h1v3h-1zM78 320h2v1h-2zM78 321h1v1h-1zM55 322h1v2h-1zM77 322h1v2h-1zM76 324h2v1h-2zM54 324h1v2h-1zM76 325h1v2h-1zM53 326h1v2h-1zM75 327h2v3h-2zM76 330h1v6h-1zM52 329h1v8h-1zM76 336h2v2h-2zM77 338h1v1h-1zM77 339h2v1h-2zM78 340h1v2h-1zM78 342h2v1h-2zM51 338h1v6h-1zM78 343h1v1h-1zM51 344h2v1h-2zM77 344h2v1h-2zM52 345h2v1h-2zM77 345h1v1h-1zM52 346h3v1h-3zM76 346h1v1h-1zM75 347h1v1h-1zM53 347h4v1h-4zM56 348h2v1h-2zM54 348h1v1h-1zM74 348h1v2h-1zM54 349h5v2h-5zM55 351h2v2h-2zM73 351h1v3h-1zM56 353h2v1h-2zM57 354h2v1h-2zM72 354h1v1h-1zM71 355h1v1h-1zM58 355h2v1h-2zM59 356h2v1h-2zM69 356h2v1h-2zM60 357h9v1h-9zM63 358h3v1h-3zM82 384h2v1h-2z"/>
<path fill="#8ac0db" stroke="#8ac0db" d="M34 117h1v1h-1zM33 118h1v1h-1zM29 122h1v1h-1zM30 123h1v1h-1zM35 127h1v1h-1zM32 128h3v1h-3zM34 129h1v1h-1zM31 129h1v1h-1zM35 132h1v1h-1zM34 133h2v1h-2zM34 134h1v1h-1zM36 134h1v1h-1zM38 135h2v1h-2zM38 141h1v1h-1zM44 143h1v1h-1zM39 143h1v1h-1zM48 143h1v1h-1zM45 144h1v1h-1zM50 146h1v1h-1zM51 147h1v1h-1zM52 148h1v1h-1zM53 149h1v1h-1zM59 149h1v1h-1zM57 149h1v1h-1zM54 154h3v1h-3zM69 154h1v1h-1zM75 155h1v1h-1zM56 155h1v1h-1zM72 156h1v1h-1zM74 156h1v1h-1zM57 158h1v1h-1zM77 158h1v1h-1zM65 161h1v1h-1zM80 163h1v1h-1zM83 164h1v2h-1zM85 166h1v1h-1zM86 167h1v1h-1zM96 168h1v1h-1zM72 171h1v1h-1zM97 170h1v3h-1zM98 173h1v1h-1zM97 174h1v1h-1zM94 176h1v1h-1zM95 177h1v1h-1zM75 180h1v1h-1zM93 182h1v1h-1zM94 184h1v1h-1zM93 186h1v1h-1zM98 186h1v1h-1zM100 186h1v1h-1zM97 187h1v1h-1zM76 189h1v1h-1zM100 190h1v1h-1zM76 192h1v3h-1zM92 196h1v1h-1zM96 201h1v1h-1zM77 202h1v1h-1zM93 203h1v1h-1zM98 203h1v1h-1zM78 203h1v1h-1zM93 205h2v1h-2zM94 208h2v1h-2zM92 209h2v1h-2zM90 211h1v1h-1zM77 212h2v1h-2zM93 213h2v1h-2zM90 214h1v2h-1zM93 215h1v2h-1zM94 217h1v1h-1zM91 218h1v1h-1zM93 218h1v3h-1zM92 223h1v1h-1zM89 224h1v1h-1zM82 227h1v1h-1zM83 229h1v1h-1zM80 229h1v2h-1zM84 230h1v1h-1zM79 232h1v1h-1zM85 234h1v2h-1zM79 237h1v1h-1zM85 238h1v1h-1zM81 238h3v1h-3zM78 238h1v1h-1zM82 239h1v2h-1zM80 240h1v1h-1zM77 240h1v1h-1zM81 241h1v1h-1zM68 245h1v1h-1zM76 246h1v1h-1zM76 248h1v1h-1zM64 266h1v1h-1zM77 267h1v1h-1zM64 268h1v1h-1zM76 269h1v1h-1zM77 270h1v1h-1zM75 274h1v1h-1zM78 274h1v1h-1zM75 277h1v1h-1zM72 278h1v1h-1zM64 278h1v1h-1zM69 284h1v2h-1zM62 286h1v1h-1zM69 287h1v2h-1zM61 288h1v1h-1zM70 290h1v1h-1zM60 290h1v1h-1zM70 291h2v1h-2zM72 292h2v1h-2zM74 293h2v1h-2zM76 294h2v1h-2zM59 294h1v1h-1zM78 295h2v1h-2zM80 296h4v1h-4zM84 297h4v1h-4zM88 298h2v1h-2zM58 296h1v4h-1zM89 299h2v1h-2zM90 300h1v1h-1zM91 301h1v1h-1zM59 301h1v2h-1zM58 303h1v2h-1zM92 303h1v3h-1zM57 305h1v5h-1zM93 306h1v5h-1zM92 311h2v1h-2zM92 312h1v1h-1zM91 313h2v1h-2zM91 314h1v1h-1zM90 315h2v1h-2zM89 316h2v1h-2zM56 316h1v2h-1zM88 317h2v1h-2zM85 318h3v1h-3zM82 319h3v1h-3zM80 320h3v1h-3zM55 320h1v2h-1zM79 321h2v1h-2zM78 322h2v1h-2zM54 322h1v2h-1zM78 323h1v2h-1zM53 325h1v1h-1zM52 327h1v2h-1zM77 325h1v9h-1zM77 334h2v2h-2zM51 329h1v9h-1zM78 336h1v2h-1zM78 338h2v1h-2zM79 339h1v2h-1zM79 341h2v1h-2zM80 342h1v1h-1zM79 343h2v1h-2zM50 339h1v6h-1zM79 344h1v1h-1zM50 345h2v1h-2zM78 345h2v1h-2zM51 346h1v1h-1zM77 346h2v1h-2zM76 347h1v1h-1zM51 347h2v1h-2zM55 348h1v1h-1zM52 348h2v2h-2zM75 348h1v2h-1zM53 350h1v1h-1zM53 351h2v1h-2zM54 352h1v1h-1zM74 350h1v4h-1zM55 353h1v1h-1zM73 354h1v1h-1zM56 354h1v1h-1zM57 355h1v1h-1zM72 355h1v1h-1zM58 356h1v1h-1zM71 356h1v1h-1zM69 357h2v1h-2zM59 357h1v1h-1zM66 358h4v1h-4zM60 358h3v1h-3zM61 359h7v1h-7zM81 382h5v1h-5zM80 383h7v1h-7zM79 384h3v1h-3zM84 384h1v1h-1z"/>
<path fill="#90c4dd" stroke="#90c4dd" d="M26 117h2v1h-2zM32 117h1v1h-1zM25 118h1v1h-1zM27 122h1v1h-1zM36 127h1v1h-1zM34 130h1v1h-1zM31 130h1v1h-1zM33 132h1v1h-1zM42 140h3v1h-3zM37 140h1v1h-1zM46 142h1v1h-1zM45 143h1v1h-1zM49 143h1v1h-1zM47 144h1v1h-1zM50 145h1v1h-1zM60 149h1v1h-1zM54 149h1v1h-1zM71 155h1v1h-1zM74 155h1v1h-1zM76 156h1v1h-1zM73 156h1v1h-1zM56 156h1v1h-1zM77 157h1v1h-1zM77 160h1v1h-1zM83 163h1v1h-1zM65 164h1v1h-1zM66 165h1v1h-1zM84 165h1v1h-1zM95 167h1v1h-1zM97 169h1v1h-1zM97 178h1v1h-1zM75 181h1v1h-1zM96 182h2v1h-2zM94 182h1v2h-1zM99 183h2v1h-2zM99 184h1v2h-1zM94 185h1v1h-1zM96 188h1v1h-1zM76 197h1v1h-1zM93 202h1v1h-1zM95 203h1v1h-1zM93 204h1v1h-1zM98 204h1v1h-1zM79 206h1v1h-1zM96 208h1v1h-1zM94 209h1v1h-1zM91 210h1v1h-1zM77 211h2v1h-2zM90 213h1v1h-1zM95 213h1v1h-1zM75 213h1v2h-1zM91 214h2v1h-2zM92 216h1v1h-1zM89 216h1v1h-1zM75 217h1v1h-1zM95 217h1v1h-1zM92 217h2v1h-2zM89 218h1v1h-1zM94 218h1v1h-1zM72 228h1v1h-1zM85 231h1v1h-1zM85 233h1v1h-1zM71 234h1v1h-1zM84 235h1v1h-1zM86 235h1v2h-1zM83 236h1v1h-1zM79 236h1v1h-1zM82 237h1v1h-1zM79 238h1v1h-1zM70 238h1v1h-1zM80 239h1v1h-1zM83 239h3v1h-3zM84 240h2v2h-2zM80 241h1v1h-1zM69 241h1v1h-1zM82 241h1v1h-1zM76 245h3v1h-3zM77 246h1v2h-1zM76 254h1v1h-1zM67 258h1v1h-1zM65 265h1v1h-1zM65 269h1v1h-1zM64 270h2v1h-2zM62 271h1v1h-1zM76 274h1v1h-1zM60 274h1v1h-1zM61 276h1v1h-1zM75 276h1v1h-1zM71 279h1v1h-1zM64 282h1v1h-1zM69 286h1v1h-1zM61 287h1v1h-1zM70 289h1v1h-1zM60 289h1v1h-1zM71 290h1v1h-1zM72 291h2v1h-2zM74 292h2v1h-2zM59 292h1v2h-1zM76 293h2v1h-2zM78 294h2v1h-2zM58 295h1v1h-1zM80 295h6v1h-6zM84 296h5v1h-5zM88 297h2v1h-2zM90 298h1v1h-1zM91 300h1v1h-1zM58 300h1v2h-1zM92 301h1v2h-1zM57 302h2v1h-2zM57 303h1v2h-1zM93 304h1v2h-1zM94 307h1v5h-1zM93 312h1v2h-1zM56 307h1v9h-1zM92 314h1v2h-1zM91 316h1v1h-1zM90 317h2v1h-2zM88 318h3v1h-3zM55 317h1v3h-1zM85 319h4v1h-4zM83 320h2v1h-2zM54 320h1v2h-1zM81 321h2v1h-2zM80 322h2v1h-2zM79 323h2v1h-2zM53 323h1v2h-1zM79 324h1v1h-1zM78 325h2v1h-2zM52 325h1v2h-1zM51 327h1v2h-1zM78 326h1v8h-1zM79 334h1v4h-1zM50 331h1v8h-1zM80 338h1v3h-1zM81 341h1v3h-1zM49 339h1v7h-1zM80 344h1v2h-1zM79 346h1v1h-1zM50 346h1v2h-1zM77 347h2v1h-2zM50 348h2v1h-2zM76 348h2v1h-2zM76 349h1v1h-1zM51 349h1v1h-1zM51 350h2v1h-2zM52 351h1v1h-1zM75 350h1v3h-1zM53 352h1v1h-1zM54 353h1v1h-1zM55 354h1v1h-1zM74 354h1v1h-1zM73 355h2v1h-2zM55 355h2v1h-2zM72 356h2v1h-2zM56 356h2v1h-2zM57 357h2v1h-2zM71 357h2v1h-2zM70 358h2v1h-2zM58 358h2v1h-2zM68 359h3v1h-3zM59 359h2v1h-2zM60 360h9v1h-9zM62 361h5v1h-5zM81 380h4v1h-4zM80 381h7v1h-7zM86 382h3v1h-3zM79 382h2v1h-2zM78 383h2v1h-2zM78 384h1v1h-1z"/>
<path fill="#98c8e0" stroke="#98c8e0" d="M34 118h1v1h-1zM32 118h1v1h-1zM31 128h1v1h-1zM35 130h3v1h-3zM35 131h1v1h-1zM32 131h1v1h-1zM34 136h1v1h-1zM40 135h1v3h-1zM36 139h1v1h-1zM41 139h1v1h-1zM45 140h1v1h-1zM46 141h1v1h-1zM47 142h1v1h-1zM46 143h2v1h-2zM46 144h1v1h-1zM50 144h1v1h-1zM51 146h1v1h-1zM61 148h1v1h-1zM53 148h1v1h-1zM64 148h1v1h-1zM55 148h5v1h-5zM44 149h1v1h-1zM66 150h1v2h-1zM47 153h1v1h-1zM68 153h1v1h-1zM54 155h2v1h-2zM52 155h1v1h-1zM77 159h1v1h-1zM63 161h2v1h-2zM62 162h1v1h-1zM85 165h1v1h-1zM92 167h1v1h-1zM97 168h1v1h-1zM98 170h1v3h-1zM98 174h1v1h-1zM95 175h1v1h-1zM74 175h1v1h-1zM96 177h1v1h-1zM98 182h3v1h-3zM95 182h1v1h-1zM98 183h1v3h-1zM100 184h1v2h-1zM97 186h1v1h-1zM92 188h1v1h-1zM96 190h1v1h-1zM76 191h1v1h-1zM92 191h1v1h-1zM99 194h1v1h-1zM92 198h1v1h-1zM93 200h1v2h-1zM98 202h1v1h-1zM95 202h1v1h-1zM94 203h1v2h-1zM79 204h1v1h-1zM78 209h1v1h-1zM77 210h2v1h-2zM90 212h1v1h-1zM75 212h1v1h-1zM92 213h1v1h-1zM91 215h2v1h-2zM91 216h1v2h-1zM90 218h1v1h-1zM74 224h1v1h-1zM81 228h2v1h-2zM83 230h1v1h-1zM87 230h1v1h-1zM81 230h1v1h-1zM80 231h1v1h-1zM84 231h1v1h-1zM86 231h1v1h-1zM84 232h2v1h-2zM84 233h1v2h-1zM86 234h1v1h-1zM80 237h1v2h-1zM78 239h2v1h-2zM83 240h1v2h-1zM77 241h1v1h-1zM84 242h1v1h-1zM78 244h1v1h-1zM82 245h1v2h-1zM78 246h1v2h-1zM77 248h2v1h-2zM76 249h1v1h-1zM76 251h1v3h-1zM66 255h1v1h-1zM67 259h1v1h-1zM77 262h1v1h-1zM67 264h1v1h-1zM78 266h1v2h-1zM77 268h1v2h-1zM64 269h1v1h-1zM63 270h1v1h-1zM78 271h1v1h-1zM61 272h1v1h-1zM79 274h1v1h-1zM75 275h1v1h-1zM60 275h1v1h-1zM73 278h2v1h-2zM70 281h1v2h-1zM63 283h1v1h-1zM62 285h1v1h-1zM70 288h1v1h-1zM60 288h1v1h-1zM71 289h2v1h-2zM72 290h3v1h-3zM59 290h1v2h-1zM74 291h2v1h-2zM76 292h2v1h-2zM78 293h2v1h-2zM58 294h1v1h-1zM80 294h7v1h-7zM86 295h3v1h-3zM89 296h1v1h-1zM90 297h1v1h-1zM91 298h1v2h-1zM57 296h1v5h-1zM92 300h1v1h-1zM56 301h2v1h-2zM93 302h1v2h-1zM56 302h1v5h-1zM94 305h1v2h-1zM95 307h1v5h-1zM94 312h1v2h-1zM93 314h1v2h-1zM55 313h1v4h-1zM92 316h2v1h-2zM92 317h1v1h-1zM91 318h2v1h-2zM54 318h1v2h-1zM89 319h3v1h-3zM85 320h4v1h-4zM83 321h2v1h-2zM53 320h1v3h-1zM82 322h2v1h-2zM81 323h1v1h-1zM52 323h1v2h-1zM80 324h2v1h-2zM80 325h1v1h-1zM51 325h1v2h-1zM79 326h2v1h-2zM50 328h1v3h-1zM79 327h1v7h-1zM80 334h1v4h-1zM49 335h1v4h-1zM81 338h1v3h-1zM82 341h1v3h-1zM48 340h1v5h-1zM81 344h2v1h-2zM81 345h1v1h-1zM80 346h2v1h-2zM79 347h2v1h-2zM49 346h1v3h-1zM78 348h2v1h-2zM77 349h1v1h-1zM50 349h1v2h-1zM51 351h1v1h-1zM76 350h1v3h-1zM52 352h1v1h-1zM52 353h2v1h-2zM53 354h2v1h-2zM75 353h1v3h-1zM54 355h1v1h-1zM74 356h2v1h-2zM55 356h1v1h-1zM73 357h2v1h-2zM56 357h1v1h-1zM57 358h1v1h-1zM72 358h2v1h-2zM57 359h2v1h-2zM71 359h2v1h-2zM69 360h3v1h-3zM58 360h2v1h-2zM67 361h4v1h-4zM59 361h3v1h-3zM61 362h10v1h-10zM80 378h3v1h-3zM79 379h8v1h-8zM78 380h3v1h-3zM85 380h3v1h-3zM87 381h3v1h-3zM78 381h2v1h-2zM89 382h1v1h-1zM77 382h2v1h-2zM77 383h1v2h-1z"/>
<path fill="#9dcbe1" stroke="#9dcbe1" d="M32 116h1v1h-1zM26 116h1v1h-1zM34 116h1v1h-1zM28 118h1v2h-1zM25 119h1v1h-1zM26 120h2v1h-2zM30 124h1v1h-1zM37 129h1v1h-1zM38 131h1v1h-1zM36 132h1v2h-1zM37 134h1v1h-1zM51 145h1v1h-1zM52 147h3v1h-3zM60 148h1v1h-1zM54 148h1v1h-1zM65 148h1v1h-1zM62 148h2v1h-2zM66 149h1v1h-1zM45 150h1v1h-1zM70 152h1v1h-1zM70 154h1v1h-1zM55 156h1v1h-1zM56 157h1v1h-1zM78 161h1v1h-1zM63 162h2v1h-2zM79 162h4v1h-4zM61 162h1v1h-1zM64 163h1v1h-1zM84 164h1v1h-1zM86 166h1v1h-1zM87 167h1v1h-1zM98 169h1v1h-1zM99 171h1v2h-1zM95 176h1v1h-1zM101 179h1v1h-1zM98 181h1v1h-1zM75 182h1v1h-1zM97 183h1v1h-1zM76 190h1v1h-1zM92 190h1v1h-1zM93 193h1v1h-1zM92 197h1v1h-1zM97 200h1v1h-1zM97 207h1v1h-1zM78 208h1v1h-1zM95 209h1v1h-1zM92 210h4v1h-4zM76 210h1v1h-1zM95 211h1v1h-1zM93 212h2v1h-2zM91 213h1v1h-1zM75 215h1v1h-1zM90 216h1v1h-1zM89 217h1v1h-1zM94 219h1v1h-1zM74 219h1v1h-1zM74 222h1v1h-1zM81 229h2v1h-2zM82 230h1v1h-1zM83 231h1v1h-1zM86 232h1v2h-1zM83 234h1v2h-1zM80 236h1v1h-1zM86 237h1v1h-1zM81 237h1v1h-1zM79 240h1v2h-1zM77 242h1v1h-1zM80 242h4v1h-4zM76 243h1v1h-1zM76 244h2v1h-2zM82 244h1v1h-1zM81 245h1v1h-1zM81 247h1v2h-1zM79 248h1v1h-1zM78 249h1v1h-1zM76 250h1v1h-1zM82 251h1v2h-1zM66 256h1v1h-1zM67 260h1v1h-1zM77 256h1v6h-1zM78 265h1v1h-1zM78 268h1v1h-1zM78 270h1v1h-1zM79 273h1v1h-1zM76 277h1v1h-1zM62 277h1v1h-1zM75 278h1v1h-1zM63 278h1v1h-1zM64 279h1v3h-1zM70 283h1v4h-1zM61 286h1v1h-1zM70 287h2v1h-2zM71 288h3v1h-3zM59 289h1v1h-1zM73 289h2v1h-2zM75 290h2v1h-2zM76 291h2v1h-2zM78 292h2v1h-2zM58 293h1v1h-1zM80 293h8v1h-8zM87 294h2v1h-2zM89 295h1v1h-1zM57 295h1v1h-1zM90 296h1v1h-1zM91 297h1v1h-1zM92 299h1v1h-1zM56 297h1v4h-1zM93 301h1v1h-1zM55 301h1v4h-1zM94 303h1v2h-1zM95 305h1v2h-1zM54 305h2v3h-2zM96 307h1v5h-1zM55 310h1v3h-1zM95 312h1v2h-1zM94 314h2v1h-2zM54 314h1v2h-1zM94 315h1v2h-1zM53 317h2v1h-2zM93 317h1v2h-1zM53 318h1v2h-1zM92 319h1v1h-1zM89 320h3v1h-3zM85 321h5v1h-5zM52 320h1v3h-1zM84 322h2v1h-2zM82 323h3v1h-3zM51 324h1v1h-1zM82 324h2v1h-2zM81 325h2v1h-2zM81 326h1v1h-1zM50 326h1v2h-1zM80 327h2v1h-2zM80 328h1v5h-1zM80 333h2v1h-2zM49 328h1v7h-1zM81 334h1v3h-1zM81 337h2v1h-2zM48 336h1v4h-1zM82 338h1v2h-1zM82 340h2v1h-2zM47 340h1v5h-1zM83 341h1v4h-1zM82 345h2v1h-2zM82 346h1v1h-1zM48 345h1v3h-1zM81 347h2v1h-2zM80 348h2v1h-2zM78 349h2v1h-2zM49 349h1v2h-1zM77 350h2v1h-2zM50 351h1v1h-1zM77 351h1v2h-1zM50 352h2v1h-2zM51 353h1v1h-1zM52 354h1v1h-1zM53 355h1v1h-1zM76 353h1v4h-1zM54 356h1v1h-1zM75 357h2v1h-2zM54 357h2v1h-2zM74 358h2v1h-2zM55 358h2v1h-2zM73 359h3v1h-3zM56 359h1v1h-1zM57 360h1v1h-1zM72 360h2v1h-2zM71 361h3v1h-3zM57 361h2v1h-2zM58 362h3v1h-3zM71 362h2v1h-2zM59 363h14v1h-14zM60 364h13v1h-13zM69 365h3v1h-3zM83 369h1v1h-1zM77 370h8v2h-8zM76 372h12v1h-12zM76 373h8v1h-8zM86 373h3v1h-3zM76 374h7v1h-7zM76 375h8v1h-8zM76 376h9v1h-9zM76 377h11v1h-11zM83 378h6v1h-6zM76 378h4v1h-4zM77 379h2v1h-2zM87 379h3v1h-3zM77 380h1v1h-1zM88 380h3v1h-3zM90 381h1v1h-1zM76 381h2v1h-2zM76 382h1v2h-1z"/>
<path fill="#a5cee3" stroke="#a5cee3" d="M25 114h1v1h-1zM25 115h2v1h-2zM33 115h1v1h-1zM27 116h1v1h-1zM25 116h1v2h-1zM27 121h2v1h-2zM27 123h1v1h-1zM29 124h1v1h-1zM35 126h2v1h-2zM32 127h3v1h-3zM37 128h1v1h-1zM38 130h1v1h-1zM39 131h1v1h-1zM36 131h2v1h-2zM48 142h1v1h-1zM52 146h1v1h-1zM61 147h3v1h-3zM55 147h1v1h-1zM67 152h1v1h-1zM46 152h1v1h-1zM69 153h2v1h-2zM74 154h1v1h-1zM72 155h2v1h-2zM53 155h1v1h-1zM90 167h2v1h-2zM96 167h1v1h-1zM99 170h1v1h-1zM72 172h1v1h-1zM99 173h1v1h-1zM96 175h1v1h-1zM100 180h2v1h-2zM98 180h1v1h-1zM99 181h2v1h-2zM101 182h1v2h-1zM95 183h2v1h-2zM95 184h1v1h-1zM97 184h1v2h-1zM94 186h1v1h-1zM93 187h1v1h-1zM101 189h1v1h-1zM92 189h1v1h-1zM94 194h1v1h-1zM99 195h1v1h-1zM93 196h1v1h-1zM76 198h1v1h-1zM93 199h1v1h-1zM95 201h1v1h-1zM94 202h1v1h-1zM79 205h1v1h-1zM77 209h1v1h-1zM75 211h1v1h-1zM94 211h1v1h-1zM91 211h1v1h-1zM95 212h1v1h-1zM91 212h2v1h-2zM75 216h1v1h-1zM90 217h1v1h-1zM95 218h1v1h-1zM94 220h1v2h-1zM74 223h1v1h-1zM93 223h1v1h-1zM90 224h1v1h-1zM89 225h1v1h-1zM73 225h1v1h-1zM88 229h1v1h-1zM81 231h2v1h-2zM83 232h1v2h-1zM71 233h1v1h-1zM79 233h1v1h-1zM79 235h1v1h-1zM82 236h1v1h-1zM78 240h1v2h-1zM77 243h1v1h-1zM83 243h1v1h-1zM81 244h1v1h-1zM79 244h1v2h-1zM83 245h1v2h-1zM81 246h1v1h-1zM82 247h1v1h-1zM79 247h1v1h-1zM80 248h1v1h-1zM77 249h1v1h-1zM79 249h3v1h-3zM78 250h1v1h-1zM81 250h2v1h-2zM81 251h1v1h-1zM67 252h1v1h-1zM77 255h1v1h-1zM82 258h1v2h-1zM79 267h1v1h-1zM78 269h1v1h-1zM63 269h1v1h-1zM79 272h1v1h-1zM60 273h1v1h-1zM76 275h5v1h-5zM76 276h1v1h-1zM76 278h1v1h-1zM62 284h1v1h-1zM71 286h3v1h-3zM60 287h1v1h-1zM72 287h4v1h-4zM59 288h1v1h-1zM74 288h3v1h-3zM75 289h3v1h-3zM77 290h2v1h-2zM78 291h2v1h-2zM58 291h1v2h-1zM80 292h8v1h-8zM88 293h1v1h-1zM57 293h1v2h-1zM89 294h1v1h-1zM90 295h1v1h-1zM56 295h1v2h-1zM91 296h1v1h-1zM92 297h1v2h-1zM55 297h1v3h-1zM93 299h1v2h-1zM54 300h2v1h-2zM94 301h1v2h-1zM54 301h1v2h-1zM95 303h1v2h-1zM53 303h2v2h-2zM96 305h1v2h-1zM53 305h1v3h-1zM53 308h2v1h-2zM53 309h1v1h-1zM97 308h1v4h-1zM96 312h2v1h-2zM96 313h1v2h-1zM95 315h1v2h-1zM53 316h1v1h-1zM94 317h1v2h-1zM52 317h1v3h-1zM93 319h1v1h-1zM92 320h2v1h-2zM90 321h3v1h-3zM86 322h5v1h-5zM51 320h1v4h-1zM85 323h3v1h-3zM84 324h2v1h-2zM50 324h1v2h-1zM83 325h3v1h-3zM82 326h3v1h-3zM49 326h1v2h-1zM82 327h2v1h-2zM81 328h2v5h-2zM48 329h1v7h-1zM82 333h1v4h-1zM47 336h1v4h-1zM83 337h1v3h-1zM84 340h1v3h-1zM46 341h1v3h-1zM84 343h2v3h-2zM47 345h1v3h-1zM83 346h2v2h-2zM82 348h2v1h-2zM80 349h3v1h-3zM48 348h1v3h-1zM79 350h3v1h-3zM78 351h2v1h-2zM49 351h1v2h-1zM78 352h1v1h-1zM50 353h1v1h-1zM77 353h2v1h-2zM50 354h2v1h-2zM77 354h1v2h-1zM51 355h2v1h-2zM51 356h3v1h-3zM77 356h2v2h-2zM52 357h2v1h-2zM53 358h2v1h-2zM76 358h3v2h-3zM54 359h2v1h-2zM74 360h4v1h-4zM55 360h2v2h-2zM74 361h3v1h-3zM56 362h2v1h-2zM56 363h3v1h-3zM73 362h3v3h-3zM56 364h4v1h-4zM57 365h12v1h-12zM72 365h4v1h-4zM81 366h1v1h-1zM57 366h19v1h-19zM57 367h25v1h-25zM69 368h14v1h-14zM73 369h10v1h-10zM74 370h3v2h-3zM84 373h2v1h-2zM83 374h8v1h-8zM84 375h8v1h-8zM85 376h8v1h-8zM97 376h3v1h-3zM87 377h6v1h-6zM98 377h3v1h-3zM74 372h2v7h-2zM97 378h3v1h-3zM89 378h4v1h-4zM96 379h4v1h-4zM90 379h5v1h-5zM74 379h3v1h-3zM91 380h1v1h-1zM75 380h2v1h-2zM93 380h6v1h-6zM75 381h1v3h-1z"/>
<path fill="#acd2e5" stroke="#acd2e5" d="M28 71h1v2h-1zM26 114h1v1h-1zM33 119h2v1h-2zM26 121h1v1h-1zM30 122h1v1h-1zM31 123h1v2h-1zM36 125h1v1h-1zM31 127h1v1h-1zM30 128h1v1h-1zM33 133h1v2h-1zM38 134h3v1h-3zM35 138h1v1h-1zM41 138h1v1h-1zM44 139h1v1h-1zM39 144h1v1h-1zM40 146h1v1h-1zM56 147h3v1h-3zM70 151h1v1h-1zM69 152h1v1h-1zM71 152h1v1h-1zM71 154h1v1h-1zM54 156h1v1h-1zM78 159h1v2h-1zM88 167h2v1h-2zM70 169h1v1h-1zM71 170h1v1h-1zM100 172h1v1h-1zM73 174h1v1h-1zM97 175h1v1h-1zM74 176h1v1h-1zM97 177h1v1h-1zM101 178h1v1h-1zM100 179h1v1h-1zM98 179h1v1h-1zM101 181h1v1h-1zM96 187h1v1h-1zM101 188h1v1h-1zM95 189h1v1h-1zM99 191h1v1h-1zM98 194h1v2h-1zM94 195h1v1h-1zM96 200h1v1h-1zM98 201h1v1h-1zM77 203h1v1h-1zM92 211h2v1h-2zM96 215h1v1h-1zM72 227h1v1h-1zM80 235h1v1h-1zM81 236h1v1h-1zM86 238h1v1h-1zM69 240h1v1h-1zM85 242h1v1h-1zM78 242h2v1h-2zM78 243h5v1h-5zM84 243h1v1h-1zM83 244h1v1h-1zM68 244h1v1h-1zM80 244h1v2h-1zM79 246h1v1h-1zM80 247h1v1h-1zM82 248h1v2h-1zM79 250h2v1h-2zM77 250h1v1h-1zM83 250h1v2h-1zM77 251h2v2h-2zM81 252h1v1h-1zM81 253h2v1h-2zM66 254h1v1h-1zM78 256h1v1h-1zM82 257h1v1h-1zM81 259h1v1h-1zM81 260h2v1h-2zM78 264h1v1h-1zM64 265h1v1h-1zM79 266h1v1h-1zM63 268h1v1h-1zM79 268h1v1h-1zM62 270h1v1h-1zM80 274h1v1h-1zM77 276h1v2h-1zM71 280h1v1h-1zM63 282h1v1h-1zM71 283h1v2h-1zM61 285h1v1h-1zM71 285h6v1h-6zM60 286h1v1h-1zM74 286h4v1h-4zM59 287h1v1h-1zM76 287h3v1h-3zM77 288h2v1h-2zM78 289h3v1h-3zM58 289h1v2h-1zM79 290h7v1h-7zM80 291h8v1h-8zM57 292h1v1h-1zM88 292h1v1h-1zM89 293h1v1h-1zM56 293h1v2h-1zM90 294h1v1h-1zM91 295h1v1h-1zM55 295h1v1h-1zM54 296h2v1h-2zM92 296h1v1h-1zM93 298h1v1h-1zM54 297h1v3h-1zM94 300h1v1h-1zM53 300h1v2h-1zM52 302h2v1h-2zM95 302h1v1h-1zM52 303h1v2h-1zM96 304h1v1h-1zM97 305h1v3h-1zM51 305h2v4h-2zM52 309h1v1h-1zM52 310h2v1h-2zM53 311h1v1h-1zM98 308h1v5h-1zM97 313h2v1h-2zM97 314h1v1h-1zM96 315h2v1h-2zM52 314h1v3h-1zM96 316h1v1h-1zM95 317h2v1h-2zM95 318h1v1h-1zM51 317h1v3h-1zM94 319h1v2h-1zM93 321h1v1h-1zM91 322h2v1h-2zM50 320h1v4h-1zM88 323h4v1h-4zM86 324h4v1h-4zM49 324h1v2h-1zM86 325h3v1h-3zM85 326h3v1h-3zM84 327h3v1h-3zM48 327h1v2h-1zM83 328h3v1h-3zM83 329h2v2h-2zM47 330h1v5h-1zM46 335h2v1h-2zM83 331h1v6h-1zM84 337h1v2h-1zM84 339h2v1h-2zM46 336h1v5h-1zM85 340h2v2h-2zM85 342h3v1h-3zM45 341h1v3h-1zM86 343h3v2h-3zM86 345h4v1h-4zM46 344h1v3h-1zM85 346h3v2h-3zM84 348h3v1h-3zM83 349h4v1h-4zM47 348h1v3h-1zM82 350h5v1h-5zM80 351h6v1h-6zM48 351h1v2h-1zM79 352h3v1h-3zM79 353h1v1h-1zM48 353h2v1h-2zM78 354h2v1h-2zM49 354h1v1h-1zM78 355h1v1h-1zM49 355h2v2h-2zM50 357h2v1h-2zM50 358h3v1h-3zM51 359h3v1h-3zM78 360h2v1h-2zM52 360h3v2h-3zM77 361h3v1h-3zM76 362h5v1h-5zM76 363h6v1h-6zM53 362h3v3h-3zM43 364h1v1h-1zM76 364h7v1h-7zM44 365h1v1h-1zM76 365h6v1h-6zM53 365h4v2h-4zM76 366h5v1h-5zM52 367h5v1h-5zM52 368h16v1h-16zM69 369h4v1h-4zM53 369h15v1h-15zM70 370h4v1h-4zM54 370h14v1h-14zM62 371h7v1h-7zM71 371h3v1h-3zM63 372h11v1h-11zM64 373h6v1h-6zM66 374h2v1h-2zM93 376h4v1h-4zM71 373h3v5h-3zM93 377h5v1h-5zM93 378h4v1h-4zM72 378h2v2h-2zM95 379h1v1h-1zM72 380h3v1h-3zM73 381h2v3h-2z"/>
<path fill="#b1d5e7" stroke="#b1d5e7" d="M27 72h1v2h-1zM28 110h2v1h-2zM26 112h1v1h-1zM25 113h2v1h-2zM31 113h1v1h-1zM32 114h1v2h-1zM24 115h1v1h-1zM27 115h1v1h-1zM35 119h1v1h-1zM32 119h1v1h-1zM28 120h1v1h-1zM26 122h1v1h-1zM38 125h1v1h-1zM30 125h2v1h-2zM30 127h1v1h-1zM37 132h1v1h-1zM41 135h1v1h-1zM42 139h1v1h-1zM47 141h1v1h-1zM38 142h1v1h-1zM50 143h1v1h-1zM53 146h4v1h-4zM59 147h2v1h-2zM64 147h1v1h-1zM42 148h1v1h-1zM66 148h1v1h-1zM71 153h1v1h-1zM73 154h1v1h-1zM51 156h1v1h-1zM55 157h1v1h-1zM78 158h1v1h-1zM56 158h1v1h-1zM57 159h1v1h-1zM79 161h1v1h-1zM63 163h1v1h-1zM97 167h1v1h-1zM98 168h1v1h-1zM100 171h1v1h-1zM96 176h1v1h-1zM74 177h1v1h-1zM99 180h1v1h-1zM75 183h1v1h-1zM96 184h1v1h-1zM95 185h1v1h-1zM101 186h1v2h-1zM76 199h1v1h-1zM98 200h1v1h-1zM94 200h1v2h-1zM98 205h1v1h-1zM78 207h1v1h-1zM96 209h1v3h-1zM96 214h1v1h-1zM96 216h1v1h-1zM94 222h1v1h-1zM82 232h1v1h-1zM80 232h1v1h-1zM71 232h1v1h-1zM82 234h1v1h-1zM79 234h1v1h-1zM81 235h2v1h-2zM70 237h1v1h-1zM86 239h1v1h-1zM80 246h1v1h-1zM83 247h1v1h-1zM79 251h2v1h-2zM83 252h1v1h-1zM77 253h2v1h-2zM78 255h1v1h-1zM78 257h1v1h-1zM81 257h1v2h-1zM83 258h1v2h-1zM81 261h2v1h-2zM67 261h1v1h-1zM63 267h1v1h-1zM80 266h1v3h-1zM79 269h1v1h-1zM61 271h1v1h-1zM79 271h1v1h-1zM81 275h1v1h-1zM80 276h2v1h-2zM60 276h1v1h-1zM61 277h1v1h-1zM62 278h1v1h-1zM77 278h1v1h-1zM63 279h1v1h-1zM72 279h5v1h-5zM63 281h1v1h-1zM71 282h1v1h-1zM62 283h1v1h-1zM75 283h1v1h-1zM61 284h1v1h-1zM72 284h7v1h-7zM60 285h1v1h-1zM77 285h3v1h-3zM59 286h1v1h-1zM78 286h3v1h-3zM79 287h4v1h-4zM58 287h1v2h-1zM79 288h7v1h-7zM81 289h6v1h-6zM86 290h2v1h-2zM57 289h1v3h-1zM88 291h1v1h-1zM56 292h1v1h-1zM89 292h1v1h-1zM55 293h1v1h-1zM90 293h1v1h-1zM91 294h1v1h-1zM54 294h2v1h-2zM54 295h1v1h-1zM92 295h1v1h-1zM93 296h1v2h-1zM53 296h1v3h-1zM94 298h1v2h-1zM52 299h2v1h-2zM52 300h1v2h-1zM95 300h1v2h-1zM96 302h1v2h-1zM51 302h1v2h-1zM97 304h1v1h-1zM50 304h2v1h-2zM50 305h1v1h-1zM98 305h1v2h-1zM98 307h2v1h-2zM49 306h2v3h-2zM50 309h2v1h-2zM51 310h1v1h-1zM99 308h1v6h-1zM51 311h2v3h-2zM98 314h2v2h-2zM51 314h1v2h-1zM50 316h2v1h-2zM97 316h2v2h-2zM50 317h1v2h-1zM96 318h2v1h-2zM49 319h2v1h-2zM95 319h2v1h-2zM95 320h1v1h-1zM94 321h1v1h-1zM93 322h2v1h-2zM49 320h1v4h-1zM92 323h2v1h-2zM90 324h3v1h-3zM89 325h1v1h-1zM48 325h1v2h-1zM88 326h2v1h-2zM87 327h2v1h-2zM86 328h2v1h-2zM47 327h1v3h-1zM85 329h3v1h-3zM85 330h2v1h-2zM84 331h3v1h-3zM46 330h1v4h-1zM45 334h2v1h-2zM84 332h2v5h-2zM85 337h2v1h-2zM85 338h10v1h-10zM86 339h9v1h-9zM44 336h2v5h-2zM87 340h8v2h-8zM88 342h7v1h-7zM44 341h1v3h-1zM89 343h5v1h-5zM89 344h3v1h-3zM45 344h1v3h-1zM46 347h1v4h-1zM82 352h1v1h-1zM47 351h1v3h-1zM80 353h1v1h-1zM47 354h2v3h-2zM48 357h2v2h-2zM48 359h3v1h-3zM49 360h3v2h-3zM42 361h3v1h-3zM43 362h3v1h-3zM50 362h3v2h-3zM43 363h4v1h-4zM44 364h9v1h-9zM45 365h8v2h-8zM46 367h6v1h-6zM47 368h5v1h-5zM49 369h4v1h-4zM49 370h5v1h-5zM50 371h12v1h-12zM52 372h11v1h-11zM53 373h11v1h-11zM70 373h1v1h-1zM68 374h3v1h-3zM54 374h12v1h-12zM61 375h10v1h-10zM56 375h3v1h-3zM62 376h9v1h-9zM66 377h5v1h-5zM68 378h4v1h-4zM69 379h3v1h-3zM70 380h2v1h-2zM70 381h3v1h-3zM71 382h2v1h-2zM72 383h1v1h-1z"/>
<path fill="#b8d8e9" stroke="#b8d8e9" d="M25 78h1v1h-1zM28 109h1v1h-1zM29 111h1v1h-1zM27 112h1v1h-1zM25 112h1v1h-1zM24 114h1v1h-1zM28 117h1v1h-1zM24 116h1v3h-1zM35 118h1v1h-1zM36 120h1v1h-1zM38 123h1v2h-1zM28 124h1v1h-1zM35 125h1v1h-1zM29 125h1v1h-1zM29 126h3v1h-3zM37 125h1v3h-1zM30 129h1v1h-1zM39 130h1v1h-1zM32 132h1v1h-1zM38 132h2v1h-2zM37 133h1v1h-1zM41 134h1v1h-1zM33 135h1v1h-1zM45 139h1v1h-1zM43 139h1v1h-1zM46 140h1v1h-1zM51 144h1v1h-1zM52 145h1v1h-1zM57 146h1v1h-1zM41 147h1v1h-1zM67 151h1v1h-1zM71 151h1v1h-1zM69 151h1v1h-1zM68 152h1v1h-1zM72 154h1v1h-1zM75 154h1v1h-1zM48 155h1v1h-1zM50 156h1v1h-1zM83 162h1v1h-1zM86 165h1v1h-1zM67 167h1v1h-1zM99 169h1v1h-1zM100 173h1v1h-1zM99 174h1v1h-1zM98 175h1v1h-1zM97 176h1v1h-1zM98 178h1v1h-1zM101 184h1v1h-1zM75 184h1v1h-1zM96 185h1v2h-1zM101 190h1v1h-1zM95 190h1v1h-1zM100 191h1v1h-1zM98 191h1v1h-1zM99 193h1v1h-1zM97 199h1v1h-1zM76 200h1v1h-1zM95 200h1v1h-1zM77 208h1v1h-1zM96 212h1v2h-1zM91 224h1v1h-1zM71 230h1v2h-1zM81 232h1v1h-1zM82 233h1v1h-1zM80 233h1v1h-1zM80 234h2v1h-2zM86 240h1v1h-1zM84 244h1v1h-1zM84 246h1v1h-1zM101 247h1v1h-1zM83 249h1v1h-1zM79 252h2v2h-2zM83 253h1v1h-1zM80 254h3v1h-3zM77 254h2v1h-2zM82 256h1v1h-1zM83 257h1v1h-1zM66 257h1v1h-1zM78 258h1v1h-1zM83 260h1v1h-1zM80 259h1v3h-1zM81 262h2v1h-2zM67 263h1v1h-1zM78 263h1v1h-1zM82 263h2v3h-2zM79 265h1v1h-1zM81 266h1v2h-1zM81 268h2v1h-2zM81 269h3v1h-3zM82 270h1v1h-1zM79 270h1v1h-1zM60 272h1v1h-1zM80 272h1v2h-1zM59 274h1v1h-1zM78 276h2v1h-2zM78 277h1v2h-1zM77 279h1v1h-1zM63 280h1v1h-1zM75 280h3v1h-3zM76 281h1v1h-1zM71 281h1v1h-1zM62 282h1v1h-1zM75 282h3v1h-3zM60 283h2v1h-2zM72 283h3v1h-3zM76 283h4v1h-4zM79 284h3v1h-3zM59 284h2v1h-2zM80 285h3v1h-3zM58 285h2v1h-2zM81 286h4v1h-4zM57 286h2v1h-2zM83 287h4v1h-4zM56 287h2v2h-2zM86 288h2v1h-2zM56 289h1v1h-1zM87 289h2v1h-2zM88 290h2v1h-2zM55 290h2v2h-2zM89 291h2v1h-2zM54 292h2v1h-2zM90 292h1v1h-1zM91 293h1v1h-1zM54 293h1v1h-1zM92 294h1v1h-1zM53 294h1v2h-1zM93 295h1v1h-1zM94 297h1v1h-1zM52 296h1v3h-1zM95 298h1v2h-1zM51 299h1v2h-1zM96 301h1v1h-1zM50 301h2v1h-2zM50 302h1v1h-1zM97 302h1v2h-1zM49 303h2v1h-2zM98 304h1v1h-1zM49 304h1v1h-1zM48 305h2v1h-2zM99 305h1v2h-1zM48 306h1v3h-1zM100 307h1v2h-1zM48 309h2v1h-2zM49 310h2v2h-2zM100 309h2v6h-2zM50 312h1v3h-1zM49 315h2v1h-2zM100 315h1v1h-1zM99 316h2v1h-2zM49 316h1v2h-1zM99 317h1v1h-1zM48 318h2v1h-2zM98 318h2v1h-2zM97 319h2v1h-2zM96 320h2v1h-2zM95 321h2v2h-2zM94 323h2v1h-2zM48 319h1v6h-1zM93 324h2v1h-2zM47 325h1v2h-1zM46 327h1v3h-1zM45 330h1v2h-1zM87 331h1v1h-1zM86 332h3v1h-3zM44 332h2v1h-2zM86 333h4v1h-4zM43 333h3v1h-3zM41 334h3v1h-3zM86 334h9v1h-9zM42 335h1v1h-1zM86 335h10v1h-10zM86 336h11v1h-11zM87 337h11v1h-11zM42 337h2v1h-2zM95 338h2v2h-2zM95 340h1v2h-1zM43 338h1v6h-1zM43 344h2v1h-2zM44 345h1v2h-1zM44 347h2v1h-2zM45 348h1v3h-1zM45 351h2v4h-2zM44 355h3v1h-3zM41 356h6v1h-6zM41 357h7v2h-7zM42 359h6v1h-6zM43 360h6v1h-6zM45 361h4v1h-4zM46 362h4v1h-4zM47 363h3v1h-3zM59 375h2v1h-2zM57 376h5v1h-5zM60 377h6v1h-6zM61 378h7v1h-7zM62 379h7v1h-7zM64 380h6v1h-6zM66 381h4v1h-4zM68 382h2v1h-2z"/>
<path fill="#bddbea" stroke="#bddbea" d="M29 71h1v1h-1zM28 73h1v1h-1zM27 74h1v1h-1zM25 79h1v1h-1zM26 111h3v1h-3zM30 111h1v1h-1zM30 112h2v1h-2zM24 113h1v1h-1zM27 113h1v2h-1zM31 114h1v1h-1zM31 118h1v1h-1zM25 120h1v1h-1zM29 121h1v1h-1zM37 121h1v2h-1zM31 122h1v1h-1zM37 124h1v1h-1zM39 125h1v1h-1zM32 126h1v1h-1zM38 126h2v1h-2zM29 127h1v1h-1zM40 131h1v3h-1zM42 135h1v1h-1zM41 136h1v2h-1zM34 137h1v1h-1zM37 141h1v1h-1zM49 142h1v1h-1zM56 145h1v1h-1zM67 150h1v1h-1zM45 151h1v1h-1zM72 152h1v1h-1zM72 153h2v1h-2zM76 155h1v1h-1zM52 156h1v1h-1zM58 160h1v1h-1zM80 161h1v1h-1zM84 163h1v1h-1zM85 164h1v1h-1zM64 164h1v1h-1zM87 166h1v1h-1zM68 168h1v1h-1zM98 177h1v1h-1zM100 178h1v1h-1zM99 179h1v1h-1zM101 185h1v1h-1zM75 185h1v1h-1zM95 188h1v1h-1zM97 191h1v1h-1zM93 192h1v1h-1zM94 193h1v1h-1zM100 194h1v1h-1zM95 194h1v1h-1zM99 196h1v1h-1zM98 199h1v1h-1zM76 201h1v1h-1zM78 204h1v1h-1zM76 209h1v1h-1zM96 217h1v1h-1zM95 219h1v1h-1zM89 226h1v1h-1zM87 231h1v1h-1zM81 233h1v1h-1zM87 235h1v1h-1zM85 243h1v1h-1zM84 245h1v1h-1zM101 246h1v1h-1zM100 247h1v1h-1zM101 248h1v1h-1zM83 248h1v1h-1zM67 247h1v3h-1zM84 250h1v2h-1zM67 251h1v1h-1zM83 254h1v1h-1zM79 254h1v1h-1zM79 255h5v1h-5zM83 256h1v1h-1zM79 256h1v1h-1zM81 256h1v1h-1zM79 257h2v1h-2zM80 258h1v1h-1zM84 258h1v1h-1zM78 259h1v1h-1zM78 260h2v1h-2zM83 261h1v2h-1zM78 261h1v2h-1zM67 262h1v1h-1zM81 263h1v1h-1zM66 264h1v1h-1zM80 265h2v1h-2zM63 266h1v1h-1zM82 266h2v1h-2zM82 267h1v1h-1zM83 268h2v1h-2zM80 269h1v1h-1zM62 269h1v1h-1zM84 269h1v1h-1zM83 270h1v1h-1zM80 270h2v1h-2zM80 271h3v1h-3zM81 274h1v1h-1zM59 275h1v1h-1zM79 277h3v1h-3zM61 278h1v1h-1zM79 278h1v1h-1zM62 279h1v2h-1zM78 279h1v2h-1zM72 280h3v1h-3zM77 281h3v1h-3zM74 281h2v1h-2zM61 281h2v1h-2zM60 282h2v1h-2zM74 282h1v1h-1zM78 282h3v1h-3zM80 283h3v1h-3zM58 283h2v1h-2zM82 284h3v1h-3zM57 284h2v1h-2zM55 285h3v1h-3zM83 285h4v1h-4zM85 286h3v1h-3zM54 286h3v1h-3zM54 287h2v1h-2zM87 287h2v1h-2zM88 288h1v1h-1zM53 288h3v2h-3zM89 289h1v1h-1zM90 290h1v1h-1zM53 290h2v2h-2zM91 291h1v2h-1zM52 292h2v2h-2zM92 293h1v1h-1zM93 294h1v1h-1zM52 294h1v1h-1zM51 295h2v1h-2zM94 295h1v2h-1zM51 296h1v2h-1zM95 297h1v1h-1zM50 298h2v1h-2zM50 299h1v1h-1zM96 299h1v2h-1zM49 300h2v1h-2zM97 301h1v1h-1zM49 301h1v2h-1zM98 302h1v1h-1zM98 303h2v1h-2zM99 304h2v1h-2zM100 305h1v2h-1zM101 307h2v2h-2zM102 309h1v1h-1zM47 310h2v2h-2zM102 310h2v4h-2zM48 312h2v3h-2zM102 314h1v1h-1zM47 316h2v2h-2zM99 319h1v1h-1zM98 320h2v1h-2zM97 321h2v2h-2zM96 323h2v1h-2zM47 318h1v7h-1zM46 325h1v2h-1zM44 329h2v1h-2zM43 330h2v1h-2zM40 331h5v1h-5zM39 332h5v1h-5zM39 333h4v1h-4zM40 334h1v1h-1zM41 338h2v2h-2zM42 340h1v5h-1zM42 345h2v2h-2zM43 347h1v1h-1zM43 348h2v3h-2zM41 351h4v1h-4zM40 352h5v1h-5zM41 353h4v2h-4zM40 355h4v1h-4z"/>
<path fill="#c5dfec" stroke="#c5dfec" d="M56 40h1v1h-1zM40 49h1v1h-1zM37 59h1v1h-1zM27 71h1v1h-1zM26 78h1v1h-1zM24 111h2v1h-2zM24 112h1v1h-1zM30 113h1v1h-1zM23 114h1v2h-1zM28 116h1v1h-1zM36 119h1v1h-1zM29 119h1v1h-1zM35 120h1v1h-1zM38 122h1v1h-1zM37 123h1v1h-1zM36 124h1v1h-1zM38 129h1v1h-1zM31 131h1v1h-1zM39 133h1v1h-1zM42 136h1v1h-1zM57 145h1v1h-1zM61 146h1v1h-1zM58 146h1v1h-1zM65 147h1v1h-1zM43 149h1v1h-1zM67 149h1v1h-1zM74 153h1v1h-1zM47 154h1v1h-1zM77 156h1v1h-1zM53 156h1v1h-1zM79 160h1v1h-1zM59 161h1v1h-1zM81 161h1v1h-1zM62 163h1v1h-1zM94 166h3v1h-3zM100 170h1v1h-1zM98 176h1v1h-1zM101 177h1v1h-1zM74 178h1v1h-1zM74 181h1v1h-1zM75 186h1v1h-1zM95 186h1v1h-1zM94 187h1v1h-1zM96 191h1v1h-1zM75 192h1v1h-1zM100 193h1v1h-1zM94 196h1v1h-1zM98 196h1v1h-1zM93 197h1v2h-1zM94 199h1v1h-1zM96 199h1v1h-1zM78 206h1v1h-1zM74 218h1v1h-1zM72 226h1v1h-1zM71 229h1v1h-1zM87 232h1v3h-1zM70 236h1v1h-1zM87 236h1v1h-1zM69 239h1v1h-1zM86 241h1v1h-1zM67 246h1v1h-1zM84 247h1v1h-1zM100 248h1v1h-1zM67 250h1v1h-1zM84 252h1v1h-1zM66 253h1v1h-1zM80 256h1v1h-1zM84 255h1v3h-1zM79 258h1v2h-1zM66 258h1v2h-1zM84 259h1v1h-1zM79 261h1v1h-1zM79 262h2v1h-2zM65 264h1v1h-1zM79 264h1v1h-1zM81 264h1v1h-1zM84 263h1v4h-1zM83 267h2v1h-2zM85 268h1v2h-1zM84 270h1v1h-1zM61 270h1v1h-1zM83 271h1v1h-1zM81 272h1v2h-1zM59 273h1v1h-1zM82 275h1v2h-1zM59 276h1v1h-1zM60 277h1v2h-1zM80 278h2v1h-2zM60 279h2v1h-2zM79 279h2v2h-2zM59 280h3v1h-3zM58 281h3v1h-3zM80 281h2v1h-2zM81 282h3v1h-3zM72 282h2v1h-2zM57 282h3v1h-3zM55 283h3v1h-3zM83 283h4v1h-4zM85 284h3v1h-3zM53 284h4v1h-4zM87 285h2v1h-2zM52 285h3v1h-3zM88 286h2v1h-2zM52 286h2v2h-2zM89 287h1v1h-1zM89 288h2v1h-2zM90 289h1v1h-1zM52 288h1v3h-1zM91 290h1v1h-1zM92 291h1v2h-1zM93 293h1v1h-1zM51 293h1v2h-1zM94 294h1v1h-1zM95 295h1v2h-1zM50 295h1v3h-1zM96 297h1v2h-1zM49 298h1v2h-1zM97 299h1v1h-1zM97 300h2v1h-2zM98 301h1v1h-1zM99 302h1v1h-1zM100 303h1v1h-1zM103 307h1v1h-1zM103 308h2v2h-2zM104 310h1v1h-1zM104 311h2v2h-2zM47 312h1v2h-1zM46 317h1v2h-1zM45 319h2v2h-2zM46 321h1v3h-1zM45 324h2v1h-2zM45 325h1v2h-1zM41 340h1v1h-1zM40 341h2v3h-2zM39 344h3v2h-3zM40 346h2v1h-2zM40 347h3v2h-3zM41 349h2v2h-2z"/>
<path fill="#cae1ee" stroke="#cae1ee" d="M57 37h1v2h-1zM56 39h2v1h-2zM40 48h1v1h-1zM37 58h1v1h-1zM28 70h3v1h-3zM29 72h1v1h-1zM26 75h2v1h-2zM25 77h2v1h-2zM24 79h1v1h-1zM25 80h1v1h-1zM28 108h1v1h-1zM29 109h1v1h-1zM27 110h1v1h-1zM28 112h2v1h-2zM23 110h1v4h-1zM32 113h1v1h-1zM30 114h1v1h-1zM28 115h1v1h-1zM35 117h1v1h-1zM29 118h1v1h-1zM24 119h1v1h-1zM31 119h1v1h-1zM36 121h1v1h-1zM32 122h1v2h-1zM39 124h1v1h-1zM27 124h1v1h-1zM28 125h1v2h-1zM34 126h1v1h-1zM38 127h1v1h-1zM29 128h1v1h-1zM40 130h1v1h-1zM38 133h1v1h-1zM42 134h1v1h-1zM43 135h1v2h-1zM42 138h1v1h-1zM44 138h1v1h-1zM36 140h1v1h-1zM39 145h1v1h-1zM55 145h1v1h-1zM53 145h1v1h-1zM59 146h2v1h-2zM62 146h1v1h-1zM68 151h1v1h-1zM54 157h1v1h-1zM78 157h1v1h-1zM60 162h1v1h-1zM65 165h1v1h-1zM66 166h1v1h-1zM72 173h1v1h-1zM100 174h1v1h-1zM99 175h1v1h-1zM73 175h1v1h-1zM99 178h1v1h-1zM102 182h1v1h-1zM75 187h1v1h-1zM95 187h1v1h-1zM93 188h1v1h-1zM75 191h1v1h-1zM95 193h1v1h-1zM96 194h2v1h-2zM95 195h1v1h-1zM97 195h1v1h-1zM95 199h1v1h-1zM77 207h1v1h-1zM97 208h1v1h-1zM75 210h1v1h-1zM70 235h1v1h-1zM68 243h1v1h-1zM101 245h1v1h-1zM100 246h1v1h-1zM84 248h1v2h-1zM101 249h1v1h-1zM84 253h1v2h-1zM84 260h1v1h-1zM66 260h1v1h-1zM84 262h1v1h-1zM79 263h2v1h-2zM64 264h1v1h-1zM80 264h1v1h-1zM63 265h1v1h-1zM85 267h1v1h-1zM62 268h1v1h-1zM85 270h1v1h-1zM60 271h1v1h-1zM84 271h2v1h-2zM82 272h2v1h-2zM59 272h1v1h-1zM82 273h1v2h-1zM58 274h1v1h-1zM55 275h4v2h-4zM55 277h5v1h-5zM82 277h1v2h-1zM56 278h4v2h-4zM81 279h2v1h-2zM81 280h3v1h-3zM55 280h4v1h-4zM82 281h4v1h-4zM52 281h6v1h-6zM72 281h2v1h-2zM51 282h6v1h-6zM84 282h6v1h-6zM87 283h4v1h-4zM51 283h4v1h-4zM88 284h3v1h-3zM52 284h1v1h-1zM89 285h2v1h-2zM90 286h1v1h-1zM90 287h2v1h-2zM91 288h1v2h-1zM92 290h1v1h-1zM93 291h1v2h-1zM94 293h1v1h-1zM95 294h1v1h-1zM96 295h1v1h-1zM96 296h2v1h-2zM97 297h1v1h-1zM97 298h2v1h-2zM98 299h1v1h-1zM99 300h1v1h-1zM99 301h2v1h-2zM100 302h1v1h-1zM105 306h1v1h-1zM104 307h2v1h-2zM105 308h1v1h-1zM105 309h2v2h-2zM106 311h1v2h-1zM44 320h1v1h-1zM45 321h1v2h-1zM44 323h2v1h-2z"/>
<path fill="#d1e5f0" stroke="#d1e5f0" d="M58 36h1v2h-1zM55 41h1v1h-1zM41 48h1v1h-1zM38 55h1v1h-1zM36 60h1v1h-1zM34 63h1v2h-1zM33 65h1v1h-1zM34 67h1v1h-1zM30 68h2v1h-2zM30 69h1v1h-1zM26 74h1v1h-1zM26 76h1v1h-1zM26 79h1v1h-1zM24 80h1v1h-1zM20 103h1v2h-1zM23 109h1v1h-1zM24 110h1v1h-1zM21 110h2v1h-2zM22 111h1v1h-1zM22 113h1v1h-1zM29 113h1v1h-1zM28 114h2v1h-2zM31 117h1v1h-1zM37 120h1v1h-1zM29 120h1v1h-1zM34 120h1v1h-1zM26 123h1v1h-1zM32 125h1v1h-1zM33 126h1v1h-1zM38 128h1v1h-1zM32 133h1v1h-1zM43 134h1v1h-1zM42 137h2v1h-2zM43 138h1v1h-1zM45 138h1v1h-1zM48 141h1v1h-1zM63 146h1v1h-1zM67 148h1v1h-1zM44 150h1v1h-1zM98 167h1v1h-1zM71 171h1v1h-1zM99 176h1v1h-1zM100 177h1v1h-1zM74 179h1v2h-1zM102 177h1v5h-1zM74 182h1v1h-1zM102 183h1v1h-1zM75 188h1v1h-1zM93 189h2v2h-2zM93 191h1v1h-1zM95 191h1v1h-1zM99 192h2v1h-2zM75 193h1v1h-1zM75 195h1v1h-1zM98 197h1v2h-1zM76 202h1v1h-1zM98 206h1v1h-1zM73 224h1v1h-1zM92 224h1v1h-1zM89 227h1v1h-1zM87 237h1v1h-1zM101 244h1v1h-1zM85 244h1v1h-1zM100 249h1v1h-1zM100 250h2v1h-2zM85 250h1v2h-1zM100 251h1v1h-1zM65 255h1v2h-1zM85 255h1v3h-1zM66 261h1v1h-1zM84 261h1v1h-1zM85 263h1v1h-1zM85 265h1v2h-1zM62 267h1v1h-1zM61 269h1v1h-1zM86 268h1v4h-1zM56 272h1v1h-1zM58 272h1v1h-1zM84 272h3v1h-3zM56 273h3v1h-3zM83 273h3v1h-3zM83 274h2v1h-2zM55 274h3v1h-3zM54 276h1v1h-1zM83 275h1v3h-1zM53 277h2v1h-2zM83 278h2v1h-2zM53 278h3v1h-3zM51 279h5v1h-5zM83 279h3v1h-3zM50 280h5v1h-5zM84 280h6v1h-6zM86 281h6v1h-6zM51 281h1v1h-1zM90 282h3v1h-3zM91 283h2v4h-2zM92 287h1v2h-1zM92 289h2v1h-2zM93 290h1v1h-1zM94 291h1v2h-1zM95 293h1v1h-1zM96 294h1v1h-1zM97 295h1v1h-1zM98 296h1v2h-1zM99 298h1v1h-1zM99 299h2v1h-2zM100 300h2v1h-2zM101 301h3v1h-3zM106 306h1v2h-1zM106 308h2v1h-2zM107 309h1v3h-1z"/>
<path fill="#d4e6f1" stroke="#d4e6f1" d="M56 38h1v1h-1zM57 40h1v1h-1zM55 40h1v1h-1zM56 41h1v1h-1zM55 42h1v1h-1zM41 47h1v1h-1zM40 50h1v1h-1zM39 52h1v1h-1zM38 56h1v1h-1zM37 57h2v1h-2zM38 58h1v1h-1zM37 60h1v1h-1zM36 61h1v1h-1zM33 64h1v1h-1zM34 65h1v1h-1zM33 66h3v1h-3zM31 67h3v1h-3zM32 68h2v1h-2zM29 69h1v1h-1zM31 69h1v2h-1zM30 71h1v1h-1zM26 73h1v1h-1zM28 74h1v1h-1zM24 78h1v1h-1zM21 103h1v2h-1zM27 108h1v2h-1zM21 109h2v1h-2zM22 112h1v1h-1zM28 113h1v1h-1zM22 114h1v1h-1zM33 114h1v1h-1zM34 115h1v1h-1zM31 115h1v1h-1zM23 116h1v1h-1zM30 118h1v2h-1zM33 120h1v1h-1zM25 121h1v1h-1zM32 124h1v1h-1zM40 126h1v1h-1zM28 127h1v1h-1zM39 127h2v1h-2zM32 134h1v1h-1zM44 137h1v1h-1zM38 143h1v1h-1zM58 145h1v1h-1zM54 145h1v1h-1zM68 150h3v1h-3zM73 152h1v1h-1zM79 159h1v1h-1zM97 166h1v1h-1zM88 166h1v1h-1zM69 169h1v1h-1zM101 172h1v1h-1zM100 175h1v1h-1zM100 176h2v1h-2zM99 177h1v1h-1zM94 188h1v1h-1zM75 189h1v2h-1zM94 192h1v1h-1zM96 193h1v1h-1zM98 193h1v1h-1zM75 194h1v1h-1zM100 195h1v1h-1zM96 195h1v1h-1zM99 197h1v1h-1zM97 198h1v1h-1zM77 204h1v1h-1zM78 205h1v1h-1zM95 220h1v1h-1zM73 221h1v1h-1zM90 225h1v1h-1zM88 230h1v1h-1zM87 238h1v1h-1zM68 242h1v1h-1zM86 242h1v1h-1zM101 243h1v1h-1zM67 245h1v1h-1zM85 245h1v5h-1zM101 251h1v1h-1zM85 252h1v3h-1zM65 257h1v1h-1zM85 258h1v5h-1zM66 262h1v1h-1zM64 263h3v1h-3zM63 264h1v1h-1zM85 264h1v1h-1zM62 266h1v1h-1zM86 267h1v1h-1zM61 268h1v1h-1zM59 270h2v1h-2zM87 270h1v2h-1zM57 271h3v1h-3zM57 272h1v1h-1zM86 273h1v1h-1zM85 274h2v1h-2zM84 275h2v2h-2zM84 277h3v1h-3zM85 278h4v1h-4zM86 279h6v1h-6zM90 280h3v1h-3zM92 281h3v1h-3zM93 282h2v1h-2zM93 283h3v2h-3zM93 285h2v4h-2zM94 289h1v2h-1zM95 291h1v1h-1zM95 292h2v1h-2zM96 293h2v1h-2zM97 294h2v1h-2zM98 295h1v1h-1zM99 296h1v1h-1zM99 297h2v1h-2zM100 298h1v1h-1zM101 299h2v1h-2zM102 300h3v1h-3zM104 301h3v1h-3zM105 302h2v1h-2zM106 303h1v1h-1zM107 306h1v1h-1zM107 307h2v1h-2zM108 308h1v2h-1z"/>
<path fill="#d8e9f1" stroke="#d8e9f1" d="M59 36h1v1h-1zM57 36h1v1h-1zM58 38h1v1h-1zM40 51h1v1h-1zM39 53h1v1h-1zM38 54h2v1h-2zM38 59h1v1h-1zM36 59h1v1h-1zM35 61h1v3h-1zM32 66h1v1h-1zM35 67h1v1h-1zM30 67h1v1h-1zM29 68h1v1h-1zM32 69h1v1h-1zM24 81h2v1h-2zM24 85h1v2h-1zM21 92h1v1h-1zM19 103h1v1h-1zM20 105h2v2h-2zM20 107h1v1h-1zM24 109h1v1h-1zM25 110h2v1h-2zM29 115h1v1h-1zM31 116h1v1h-1zM32 120h1v2h-1zM35 124h1v1h-1zM41 133h1v1h-1zM44 134h1v3h-1zM46 139h1v1h-1zM52 144h1v1h-1zM66 147h1v1h-1zM68 149h1v1h-1zM72 151h1v1h-1zM46 153h1v1h-1zM49 156h1v1h-1zM53 157h1v1h-1zM55 158h1v1h-1zM80 160h1v1h-1zM82 161h1v1h-1zM63 164h1v1h-1zM87 165h1v1h-1zM93 166h1v1h-1zM89 166h1v1h-1zM101 173h1v1h-1zM94 191h1v1h-1zM95 192h1v1h-1zM75 196h1v1h-1zM97 196h1v1h-1zM94 198h1v1h-1zM76 208h1v1h-1zM96 218h1v1h-1zM94 223h1v1h-1zM89 228h1v1h-1zM71 228h1v1h-1zM70 234h1v1h-1zM101 240h1v3h-1zM100 245h1v1h-1zM86 249h1v3h-1zM66 252h1v1h-1zM100 252h1v2h-1zM65 254h1v1h-1zM86 255h1v2h-1zM65 258h1v4h-1zM64 262h2v1h-2zM86 262h1v2h-1zM62 265h1v1h-1zM86 266h1v1h-1zM61 266h1v2h-1zM59 268h2v1h-2zM87 268h1v2h-1zM58 269h3v1h-3zM57 270h2v1h-2zM87 272h1v3h-1zM86 275h2v2h-2zM87 277h3v1h-3zM89 278h3v1h-3zM92 279h2v1h-2zM93 280h3v1h-3zM95 281h2v1h-2zM95 282h3v1h-3zM96 283h2v2h-2zM95 285h3v1h-3zM95 286h2v1h-2zM95 287h1v3h-1zM95 290h2v1h-2zM96 291h2v1h-2zM97 292h2v1h-2zM98 293h2v1h-2zM99 294h1v1h-1zM99 295h2v1h-2zM100 296h1v1h-1zM101 297h1v1h-1zM101 298h3v1h-3zM103 299h3v1h-3zM105 300h3v1h-3zM107 301h1v1h-1zM107 302h2v1h-2z"/>
<path fill="#ddebf2" stroke="#ddebf2" d="M58 35h1v1h-1zM54 42h1v1h-1zM41 45h1v2h-1zM40 47h1v1h-1zM41 49h1v1h-1zM39 51h1v1h-1zM40 52h1v1h-1zM39 55h1v1h-1zM34 62h1v1h-1zM35 64h1v2h-1zM32 65h1v1h-1zM34 68h1v1h-1zM28 69h1v1h-1zM26 72h1v1h-1zM29 73h1v1h-1zM27 76h1v1h-1zM25 76h1v1h-1zM26 80h1v1h-1zM24 84h1v1h-1zM25 85h1v2h-1zM24 87h1v2h-1zM22 91h2v2h-2zM20 102h2v1h-2zM19 104h1v1h-1zM21 107h1v1h-1zM21 108h2v1h-2zM20 109h1v1h-1zM30 110h1v1h-1zM21 111h1v1h-1zM30 121h1v1h-1zM25 122h1v1h-1zM40 128h1v1h-1zM39 129h2v1h-2zM30 130h1v1h-1zM41 131h1v1h-1zM33 136h1v1h-1zM47 140h1v1h-1zM50 142h1v1h-1zM51 143h1v1h-1zM56 144h2v1h-2zM39 146h1v1h-1zM64 146h1v1h-1zM71 150h1v1h-1zM52 157h1v1h-1zM61 163h1v1h-1zM86 164h1v1h-1zM99 168h1v1h-1zM101 171h1v1h-1zM101 174h1v2h-1zM102 176h1v1h-1zM73 176h1v1h-1zM102 184h1v1h-1zM96 192h1v1h-1zM98 192h1v1h-1zM97 193h1v1h-1zM75 197h1v1h-1zM94 197h1v1h-1zM99 198h1v1h-1zM77 206h1v1h-1zM97 209h1v3h-1zM74 217h1v1h-1zM73 220h1v1h-1zM95 221h1v1h-1zM73 222h1v1h-1zM72 225h1v1h-1zM69 238h1v1h-1zM87 239h1v1h-1zM86 243h1v1h-1zM100 244h1v1h-1zM86 248h1v1h-1zM101 252h1v1h-1zM86 252h1v3h-1zM86 257h1v5h-1zM64 261h1v1h-1zM63 262h1v1h-1zM62 263h2v1h-2zM60 264h3v1h-3zM86 264h1v2h-1zM59 265h3v1h-3zM59 266h2v2h-2zM87 267h1v1h-1zM58 268h1v1h-1zM88 269h1v7h-1zM88 276h3v1h-3zM90 277h3v1h-3zM92 278h3v1h-3zM94 279h2v1h-2zM96 280h2v1h-2zM97 281h2v1h-2zM98 282h2v4h-2zM97 286h3v1h-3zM96 287h3v1h-3zM96 288h2v2h-2zM97 290h2v1h-2zM98 291h2v1h-2zM99 292h2v1h-2zM100 293h1v1h-1zM100 294h2v1h-2zM101 295h2v1h-2zM101 296h3v1h-3zM102 297h4v1h-4zM104 298h4v1h-4zM106 299h3v1h-3zM108 300h2v2h-2zM109 302h1v1h-1z"/>
<path fill="#e0ecf3" stroke="#e0ecf3" d="M52 12h1v1h-1zM59 35h1v1h-1zM55 39h1v1h-1zM54 41h1v1h-1zM54 43h1v1h-1zM52 45h1v1h-1zM39 49h1v2h-1zM35 60h1v1h-1zM37 61h1v1h-1zM36 65h1v2h-1zM31 66h1v1h-1zM27 70h1v1h-1zM27 77h1v1h-1zM24 82h1v1h-1zM23 86h1v1h-1zM25 87h1v1h-1zM24 89h1v1h-1zM23 90h2v1h-2zM24 91h1v1h-1zM21 91h1v1h-1zM23 93h1v1h-1zM21 93h1v1h-1zM19 102h1v1h-1zM19 106h1v1h-1zM22 103h1v5h-1zM25 107h3v1h-3zM23 108h1v1h-1zM20 108h1v1h-1zM31 111h1v1h-1zM30 115h1v1h-1zM23 117h1v1h-1zM29 117h1v1h-1zM33 121h1v1h-1zM31 121h1v1h-1zM38 121h1v1h-1zM36 122h1v2h-1zM39 123h1v1h-1zM40 125h1v1h-1zM34 125h1v1h-1zM27 125h1v1h-1zM41 128h1v1h-1zM39 128h1v1h-1zM41 130h1v1h-1zM41 132h1v1h-1zM43 133h1v1h-1zM45 137h1v1h-1zM59 145h1v1h-1zM45 152h1v1h-1zM51 157h1v1h-1zM79 158h1v1h-1zM56 159h1v1h-1zM84 162h1v1h-1zM90 166h1v1h-1zM70 170h1v1h-1zM74 183h1v1h-1zM101 191h1v1h-1zM97 192h1v1h-1zM95 196h1v1h-1zM97 197h1v1h-1zM95 198h2v1h-2zM75 198h1v1h-1zM99 199h1v1h-1zM76 203h1v1h-1zM76 207h1v1h-1zM74 211h1v2h-1zM73 223h1v1h-1zM68 241h1v1h-1zM100 243h1v1h-1zM86 244h1v2h-1zM86 247h1v1h-1zM99 247h1v1h-1zM66 248h1v4h-1zM87 249h1v4h-1zM101 253h1v1h-1zM100 254h1v1h-1zM64 256h1v4h-1zM63 260h2v1h-2zM61 260h1v1h-1zM61 261h3v1h-3zM60 262h3v1h-3zM60 263h2v1h-2zM87 254h1v13h-1zM88 267h1v2h-1zM89 270h1v5h-1zM89 275h2v1h-2zM91 276h2v1h-2zM93 277h2v1h-2zM95 278h2v1h-2zM96 279h3v1h-3zM98 280h2v1h-2zM99 281h2v1h-2zM100 282h2v5h-2zM99 287h3v1h-3zM98 288h4v2h-4zM99 290h4v1h-4zM100 291h3v1h-3zM101 292h3v2h-3zM102 294h3v1h-3zM103 295h3v1h-3zM104 296h4v1h-4zM106 297h4v1h-4zM108 298h2v1h-2zM109 299h2v1h-2zM110 300h1v1h-1zM110 301h2v1h-2zM110 302h1v1h-1z"/>
<path fill="#e4eef4" stroke="#e4eef4" d="M59 37h1v1h-1zM56 37h1v1h-1zM58 39h1v1h-1zM55 43h1v1h-1zM53 43h1v1h-1zM52 44h1v1h-1zM41 44h2v1h-2zM42 45h1v1h-1zM51 45h1v2h-1zM40 53h1v1h-1zM37 56h1v1h-1zM42 59h1v1h-1zM36 62h1v1h-1zM33 63h1v1h-1zM33 69h1v1h-1zM30 72h1v1h-1zM28 75h1v1h-1zM25 75h1v1h-1zM24 77h1v1h-1zM27 78h1v1h-1zM25 82h1v1h-1zM24 83h1v1h-1zM25 84h1v1h-1zM23 85h1v1h-1zM23 87h1v3h-1zM22 90h1v1h-1zM24 92h1v1h-1zM22 93h1v1h-1zM19 105h1v1h-1zM23 106h3v1h-3zM19 107h1v1h-1zM26 108h1v1h-1zM20 110h1v1h-1zM21 112h1v1h-1zM22 115h1v1h-1zM29 116h1v1h-1zM35 116h1v1h-1zM36 118h1v1h-1zM30 120h2v1h-2zM35 121h1v1h-1zM33 125h1v1h-1zM41 127h1v1h-1zM41 129h1v1h-1zM31 132h1v1h-1zM42 133h1v1h-1zM35 139h1v1h-1zM40 147h1v1h-1zM41 148h1v1h-1zM75 153h1v1h-1zM85 163h1v1h-1zM100 169h1v1h-1zM72 174h1v1h-1zM73 177h1v1h-1zM102 186h1v1h-1zM102 189h1v1h-1zM100 196h1v1h-1zM96 196h1v1h-1zM99 200h1v1h-1zM99 203h1v1h-1zM77 205h1v1h-1zM75 209h1v1h-1zM74 214h1v1h-1zM93 224h1v1h-1zM71 227h1v1h-1zM70 233h1v1h-1zM88 235h1v2h-1zM69 237h1v1h-1zM100 242h1v1h-1zM67 244h1v1h-1zM86 246h1v1h-1zM99 246h1v1h-1zM66 246h1v2h-1zM102 246h1v3h-1zM87 248h1v1h-1zM99 248h1v3h-1zM88 251h1v2h-1zM87 253h2v1h-2zM65 253h1v1h-1zM62 255h3v1h-3zM62 256h2v1h-2zM61 257h3v1h-3zM62 258h2v2h-2zM62 260h1v1h-1zM88 254h1v13h-1zM89 267h1v3h-1zM90 270h1v4h-1zM90 274h2v1h-2zM91 275h3v1h-3zM93 276h4v1h-4zM95 277h4v1h-4zM97 278h4v1h-4zM99 279h3v1h-3zM100 280h2v1h-2zM101 281h2v1h-2zM102 282h1v1h-1zM102 283h2v4h-2zM102 287h3v2h-3zM102 289h4v1h-4zM103 290h4v2h-4zM104 292h4v2h-4zM105 294h4v1h-4zM106 295h5v1h-5zM108 296h4v1h-4zM110 297h3v2h-3zM111 299h3v2h-3zM112 301h2v1h-2z"/>
<path fill="#e7f0f4" stroke="#e7f0f4" d="M60 35h1v2h-1zM53 42h1v1h-1zM56 42h1v1h-1zM52 43h1v1h-1zM53 44h1v1h-1zM51 44h1v1h-1zM42 46h1v1h-1zM47 51h1v1h-1zM38 53h1v1h-1zM39 56h1v1h-1zM42 58h1v1h-1zM41 59h1v1h-1zM38 60h1v1h-1zM34 61h1v1h-1zM36 64h1v1h-1zM29 67h1v1h-1zM28 68h1v1h-1zM32 70h1v1h-1zM31 71h1v1h-1zM23 79h1v3h-1zM26 81h1v1h-1zM25 83h1v1h-1zM25 88h1v1h-1zM20 92h1v2h-1zM23 94h1v1h-1zM20 98h2v2h-2zM20 101h2v1h-2zM23 107h2v1h-2zM24 108h1v1h-1zM25 109h2v1h-2zM21 113h1v1h-1zM30 117h1v1h-1zM23 118h1v1h-1zM24 120h1v1h-1zM33 122h1v1h-1zM44 133h1v1h-1zM49 141h1v1h-1zM37 142h1v1h-1zM38 144h1v1h-1zM55 144h1v1h-1zM58 144h1v1h-1zM68 148h1v1h-1zM69 149h1v1h-1zM74 152h1v1h-1zM62 164h1v1h-1zM64 165h1v1h-1zM91 166h2v1h-2zM71 172h1v1h-1zM74 184h1v1h-1zM102 185h1v1h-1zM102 187h1v2h-1zM75 199h1v1h-1zM99 201h1v2h-1zM76 206h1v1h-1zM98 207h1v1h-1zM97 212h1v1h-1zM74 213h1v1h-1zM74 215h1v2h-1zM73 219h1v1h-1zM95 222h1v1h-1zM70 230h1v3h-1zM69 236h1v1h-1zM88 237h1v2h-1zM87 240h1v1h-1zM68 240h1v1h-1zM100 240h1v2h-1zM102 244h1v2h-1zM99 245h1v1h-1zM98 246h1v1h-1zM87 247h1v1h-1zM97 247h2v1h-2zM96 248h3v1h-3zM88 248h1v2h-1zM102 249h1v1h-1zM97 249h2v2h-2zM88 250h2v1h-2zM99 251h1v2h-1zM65 252h1v1h-1zM101 254h1v1h-1zM63 254h2v1h-2zM89 251h3v6h-3zM89 257h2v5h-2zM89 262h1v4h-1zM89 266h2v1h-2zM90 267h1v2h-1zM90 269h2v1h-2zM91 270h1v3h-1zM91 273h2v1h-2zM92 274h3v1h-3zM94 275h6v1h-6zM97 276h5v1h-5zM99 277h4v1h-4zM101 278h2v1h-2zM102 279h2v2h-2zM103 281h2v2h-2zM104 283h1v1h-1zM104 284h2v2h-2zM104 286h3v1h-3zM105 287h3v2h-3zM106 289h3v1h-3zM107 290h3v2h-3zM108 292h3v2h-3zM109 294h3v1h-3zM111 295h2v1h-2zM112 296h2v1h-2zM113 297h2v1h-2zM113 298h3v1h-3zM114 299h3v1h-3zM114 300h2v1h-2zM114 301h1v1h-1z"/>
<path fill="#ecf2f5" stroke="#ecf2f5" d="M51 11h2v1h-2zM57 35h1v1h-1zM54 40h1v1h-1zM57 41h1v1h-1zM41 43h1v1h-1zM53 45h1v1h-1zM50 46h1v1h-1zM52 46h1v1h-1zM40 46h1v1h-1zM42 47h1v1h-1zM39 48h1v1h-1zM41 50h1v1h-1zM46 52h2v1h-2zM43 58h1v1h-1zM36 58h1v1h-1zM40 60h2v1h-2zM40 61h1v1h-1zM37 62h3v1h-3zM36 63h1v1h-1zM32 64h1v1h-1zM37 64h1v2h-1zM25 74h1v1h-1zM23 82h1v3h-1zM22 89h1v1h-1zM24 93h1v1h-1zM21 94h2v1h-2zM23 95h1v1h-1zM22 98h1v2h-1zM20 100h2v1h-2zM19 101h1v1h-1zM22 102h1v1h-1zM18 102h1v2h-1zM23 105h1v1h-1zM29 108h1v1h-1zM25 108h1v1h-1zM32 112h1v1h-1zM34 121h1v1h-1zM33 123h1v1h-1zM26 124h1v1h-1zM27 126h1v1h-1zM28 128h1v1h-1zM29 129h1v1h-1zM32 135h1v1h-1zM46 138h1v1h-1zM34 138h1v1h-1zM53 144h1v1h-1zM60 145h1v1h-1zM42 149h1v1h-1zM44 151h1v1h-1zM76 154h1v1h-1zM50 157h1v1h-1zM54 158h1v1h-1zM57 160h1v1h-1zM81 160h1v1h-1zM83 161h1v1h-1zM96 165h1v1h-1zM98 166h1v1h-1zM67 168h1v1h-1zM68 169h1v1h-1zM101 170h1v1h-1zM74 185h1v2h-1zM95 197h2v1h-2zM75 200h1v1h-1zM75 208h1v1h-1zM74 210h1v1h-1zM72 224h1v1h-1zM70 229h1v1h-1zM89 229h1v1h-1zM88 231h1v1h-1zM88 234h1v1h-1zM69 235h1v1h-1zM68 239h1v1h-1zM102 242h1v2h-1zM99 243h1v1h-1zM67 243h1v1h-1zM98 244h2v1h-2zM66 245h1v1h-1zM97 245h2v1h-2zM87 241h1v6h-1zM96 246h2v1h-2zM94 247h3v1h-3zM88 247h1v1h-1zM93 248h3v1h-3zM89 248h1v1h-1zM89 249h8v1h-8zM90 250h7v1h-7zM102 250h1v2h-1zM65 251h1v1h-1zM92 251h7v2h-7zM63 252h2v2h-2zM99 253h1v1h-1zM92 253h3v2h-3zM92 255h2v2h-2zM91 257h3v2h-3zM91 259h2v3h-2zM90 262h3v2h-3zM90 264h2v2h-2zM91 266h2v3h-2zM92 269h1v2h-1zM92 271h2v1h-2zM92 272h3v1h-3zM93 273h8v1h-8zM95 274h8v1h-8zM100 275h4v1h-4zM102 276h2v1h-2zM103 277h2v2h-2zM104 279h1v1h-1zM104 280h2v1h-2zM105 281h1v2h-1zM105 283h2v1h-2zM106 284h2v1h-2zM106 285h3v1h-3zM107 286h2v1h-2zM108 287h2v1h-2zM108 288h3v1h-3zM109 289h2v1h-2zM110 290h1v1h-1zM110 291h2v1h-2zM111 292h1v1h-1zM111 293h2v1h-2zM112 294h2v1h-2zM113 295h3v1h-3zM114 296h3v1h-3zM115 297h1v1h-1z"/>
<path fill="#eff3f5" stroke="#eff3f5" d="M72 18h1v1h-1zM71 19h1v1h-1zM68 22h1v1h-1zM58 34h1v1h-1zM60 34h1v1h-1zM55 38h1v1h-1zM59 38h1v1h-1zM42 43h1v1h-1zM54 44h1v1h-1zM50 45h1v1h-1zM48 50h1v2h-1zM38 52h1v1h-1zM46 53h1v1h-1zM40 54h1v1h-1zM43 57h1v1h-1zM38 61h2v1h-2zM38 63h1v1h-1zM30 66h1v1h-1zM26 71h1v1h-1zM29 74h1v1h-1zM27 79h1v1h-1zM26 86h1v1h-1zM22 86h1v3h-1zM25 89h1v1h-1zM21 90h1v1h-1zM20 94h1v1h-1zM20 97h2v1h-2zM28 107h1v1h-1zM19 108h1v1h-1zM30 116h1v1h-1zM37 119h1v1h-1zM33 124h2v1h-2zM42 131h1v2h-1zM31 133h1v1h-1zM45 136h1v1h-1zM36 141h1v1h-1zM54 144h1v1h-1zM61 145h1v1h-1zM65 146h1v1h-1zM67 147h1v1h-1zM70 149h1v1h-1zM73 151h1v1h-1zM47 155h1v1h-1zM80 159h1v1h-1zM88 165h1v1h-1zM95 165h1v1h-1zM66 167h1v1h-1zM72 175h1v1h-1zM73 178h1v1h-1zM73 181h1v1h-1zM74 187h1v1h-1zM102 190h1v1h-1zM74 191h1v2h-1zM100 197h1v1h-1zM99 204h1v1h-1zM76 204h1v2h-1zM75 206h1v2h-1zM97 213h1v1h-1zM96 219h1v1h-1zM91 225h1v1h-1zM71 226h1v1h-1zM69 234h1v1h-1zM68 238h1v1h-1zM88 239h1v1h-1zM102 240h1v2h-1zM67 242h1v1h-1zM99 242h1v1h-1zM61 243h1v1h-1zM97 243h2v1h-2zM66 244h1v1h-1zM96 244h2v1h-2zM61 244h2v2h-2zM95 245h2v1h-2zM88 245h1v2h-1zM93 246h3v1h-3zM89 247h5v1h-5zM62 246h1v3h-1zM90 248h3v1h-3zM65 248h1v2h-1zM62 249h2v1h-2zM62 250h4v1h-4zM63 251h2v1h-2zM102 252h1v2h-1zM95 253h4v1h-4zM95 254h5v1h-5zM94 255h3v1h-3zM100 255h1v1h-1zM94 256h2v2h-2zM94 258h1v1h-1zM93 259h2v2h-2zM93 261h3v2h-3zM93 263h2v1h-2zM92 264h3v2h-3zM93 266h2v4h-2zM93 270h3v1h-3zM94 271h8v1h-8zM95 272h9v1h-9zM101 273h4v1h-4zM103 274h2v1h-2zM104 275h1v1h-1zM104 276h2v1h-2zM105 277h1v2h-1zM105 279h2v1h-2zM106 280h1v1h-1zM106 281h2v2h-2zM107 283h2v1h-2zM108 284h2v1h-2zM109 285h2v1h-2zM109 286h3v1h-3zM110 287h2v1h-2zM111 288h1v2h-1zM111 290h2v1h-2zM112 291h1v1h-1zM112 292h2v1h-2zM113 293h2v1h-2zM114 294h3v1h-3zM116 295h1v1h-1z"/>
<path fill="#f3f5f6" stroke="#f3f5f6" d="M70 20h1v1h-1zM67 23h1v1h-1zM57 32h1v1h-1zM59 34h1v1h-1zM42 36h1v2h-1zM53 41h1v1h-1zM51 43h1v1h-1zM50 47h2v1h-2zM47 50h1v1h-1zM46 51h1v1h-1zM45 54h2v1h-2zM45 55h1v1h-1zM37 55h1v1h-1zM39 57h1v2h-1zM41 58h1v1h-1zM39 59h2v1h-2zM43 59h1v1h-1zM34 60h1v1h-1zM39 60h1v1h-1zM40 62h1v1h-1zM33 62h1v1h-1zM39 63h1v1h-1zM37 63h1v1h-1zM38 64h1v1h-1zM31 65h1v1h-1zM35 68h1v1h-1zM34 69h1v1h-1zM27 69h1v1h-1zM28 76h1v1h-1zM23 78h1v1h-1zM26 82h1v1h-1zM26 85h1v1h-1zM25 90h1v1h-1zM20 91h1v1h-1zM24 94h1v1h-1zM22 95h1v1h-1zM20 95h1v2h-1zM22 97h1v1h-1zM19 99h1v2h-1zM22 100h1v1h-1zM18 101h1v1h-1zM18 104h1v1h-1zM26 106h1v1h-1zM21 114h1v1h-1zM25 123h1v1h-1zM41 126h1v1h-1zM42 130h1v1h-1zM43 132h1v1h-1zM48 140h1v1h-1zM43 150h1v1h-1zM72 150h1v1h-1zM46 154h1v1h-1zM78 156h1v1h-1zM48 156h1v1h-1zM58 161h1v1h-1zM59 162h1v1h-1zM63 165h1v1h-1zM65 166h1v1h-1zM102 175h1v1h-1zM73 182h1v1h-1zM74 188h1v3h-1zM101 192h1v1h-1zM74 193h1v2h-1zM75 201h1v1h-1zM97 214h1v4h-1zM73 218h1v1h-1zM90 226h1v1h-1zM70 228h1v1h-1zM63 231h1v1h-1zM88 233h1v1h-1zM63 232h2v3h-2zM63 235h1v1h-1zM68 237h1v1h-1zM101 239h1v1h-1zM63 239h1v2h-1zM67 239h1v3h-1zM62 241h3v1h-3zM99 241h1v1h-1zM97 242h2v1h-2zM62 242h5v2h-5zM96 243h1v1h-1zM88 244h1v1h-1zM95 244h1v1h-1zM93 245h2v1h-2zM89 246h4v1h-4zM63 244h3v4h-3zM63 248h2v1h-2zM64 249h1v1h-1zM103 244h1v10h-1zM102 254h2v1h-2zM97 255h3v1h-3zM101 255h3v1h-3zM96 256h8v2h-8zM95 258h10v1h-10zM95 259h11v2h-11zM96 261h10v1h-10zM96 262h6v1h-6zM95 263h6v1h-6zM95 264h5v4h-5zM95 268h7v1h-7zM95 269h9v1h-9zM96 270h9v1h-9zM102 271h4v1h-4zM104 272h2v1h-2zM105 273h2v3h-2zM106 276h1v1h-1zM106 277h2v2h-2zM107 279h1v1h-1zM107 280h2v1h-2zM108 281h2v1h-2zM108 282h3v1h-3zM109 283h3v1h-3zM110 284h2v1h-2zM111 285h2v1h-2zM112 286h1v3h-1zM112 289h2v1h-2zM113 290h1v1h-1zM113 291h2v1h-2zM114 292h2v1h-2zM115 293h2v1h-2zM117 294h1v1h-1z"/>
<path fill="#f7f6f6" stroke="#f7f6f6" d="M51 12h1v1h-1zM53 12h1v1h-1zM72 19h1v1h-1zM71 20h1v1h-1zM69 21h1v1h-1zM58 32h1v1h-1zM60 33h1v1h-1zM57 33h2v1h-2zM57 34h1v1h-1zM56 36h1v1h-1zM42 38h1v1h-1zM54 39h1v1h-1zM58 40h1v1h-1zM52 42h1v1h-1zM41 42h2v1h-2zM40 45h1v1h-1zM42 48h1v1h-1zM48 49h2v1h-2zM38 51h1v1h-1zM41 51h1v1h-1zM48 52h1v1h-1zM47 53h1v1h-1zM44 56h1v2h-1zM36 57h1v1h-1zM42 57h1v1h-1zM35 59h1v1h-1zM42 60h1v1h-1zM36 67h1v1h-1zM30 73h1v1h-1zM24 76h1v1h-1zM22 85h1v1h-1zM26 87h1v1h-1zM25 91h1v1h-1zM21 95h1v1h-1zM21 96h3v1h-3zM19 96h1v3h-1zM18 100h1v1h-1zM22 101h1v1h-1zM23 104h1v1h-1zM24 105h1v1h-1zM18 105h1v2h-1zM23 119h1v1h-1zM39 122h1v1h-1zM35 123h1v1h-1zM27 127h1v1h-1zM38 145h1v1h-1zM69 148h1v1h-1zM71 149h1v1h-1zM45 153h1v1h-1zM77 155h1v1h-1zM53 158h1v1h-1zM60 163h1v1h-1zM97 165h1v1h-1zM69 170h1v1h-1zM72 176h1v1h-1zM103 177h1v1h-1zM73 179h1v2h-1zM103 182h1v1h-1zM101 193h1v1h-1zM74 195h1v1h-1zM100 198h1v1h-1zM74 209h1v1h-1zM72 223h1v1h-1zM71 225h1v1h-1zM70 227h1v1h-1zM64 229h2v2h-2zM64 231h3v1h-3zM88 232h1v1h-1zM69 230h1v4h-1zM65 232h2v3h-2zM64 235h3v1h-3zM68 235h1v2h-1zM64 236h2v1h-2zM64 237h4v2h-4zM100 239h1v1h-1zM64 239h3v2h-3zM99 240h1v1h-1zM97 241h2v1h-2zM65 241h2v1h-2zM96 242h1v1h-1zM88 242h1v2h-1zM103 242h1v2h-1zM94 243h2v1h-2zM89 244h1v1h-1zM93 244h2v1h-2zM89 245h4v1h-4zM104 245h1v11h-1zM104 256h2v1h-2zM104 257h3v1h-3zM105 258h3v1h-3zM106 259h3v1h-3zM106 260h4v2h-4zM102 262h8v1h-8zM101 263h9v1h-9zM100 264h9v1h-9zM100 265h6v1h-6zM100 266h5v1h-5zM100 267h6v1h-6zM102 268h5v1h-5zM104 269h3v1h-3zM105 270h2v1h-2zM106 271h2v2h-2zM107 273h1v2h-1zM107 275h2v2h-2zM108 277h1v1h-1zM108 278h2v1h-2zM108 279h3v1h-3zM109 280h3v1h-3zM110 281h3v1h-3zM111 282h2v1h-2zM112 283h2v2h-2zM113 285h1v3h-1zM113 288h2v1h-2zM114 289h1v1h-1zM114 290h2v1h-2zM115 291h2v1h-2zM116 292h2v1h-2zM117 293h1v1h-1z"/>
<path fill="#f8f4f2" stroke="#f8f4f2" d="M73 17h1v1h-1zM69 22h1v1h-1zM3 23h1v1h-1zM66 24h1v1h-1zM62 29h1v1h-1zM57 31h1v1h-1zM59 33h1v1h-1zM42 35h1v1h-1zM60 37h1v1h-1zM41 37h1v2h-1zM59 39h1v1h-1zM42 39h1v1h-1zM42 41h1v1h-1zM56 43h1v1h-1zM50 44h1v1h-1zM43 45h1v1h-1zM53 46h1v1h-1zM49 48h2v1h-2zM49 50h1v1h-1zM45 53h1v1h-1zM44 55h1v1h-1zM40 55h1v1h-1zM45 56h1v1h-1zM43 56h1v1h-1zM41 61h1v1h-1zM25 73h1v1h-1zM28 77h1v1h-1zM27 80h1v1h-1zM26 84h1v1h-1zM21 89h1v1h-1zM24 95h1v1h-1zM18 99h1v1h-1zM18 107h1v1h-1zM19 109h1v1h-1zM30 109h1v1h-1zM20 111h1v1h-1zM33 113h1v1h-1zM22 116h1v1h-1zM24 121h1v1h-1zM35 122h1v1h-1zM42 129h1v1h-1zM30 131h1v1h-1zM31 134h1v1h-1zM45 134h1v2h-1zM33 137h1v1h-1zM47 139h1v1h-1zM59 144h1v1h-1zM62 145h1v1h-1zM39 147h1v1h-1zM79 157h1v1h-1zM87 164h1v1h-1zM99 167h1v1h-1zM70 171h1v1h-1zM71 173h1v1h-1zM103 181h1v1h-1zM103 183h1v1h-1zM73 183h1v1h-1zM101 194h1v1h-1zM74 196h1v1h-1zM75 202h1v1h-1zM75 205h1v1h-1zM74 207h1v2h-1zM73 217h1v1h-1zM72 220h1v3h-1zM66 222h2v1h-2zM66 223h3v2h-3zM71 224h1v1h-1zM66 225h5v1h-5zM65 226h6v1h-6zM65 227h5v2h-5zM66 229h4v1h-4zM66 230h3v1h-3zM67 231h2v4h-2zM67 235h1v1h-1zM66 236h2v1h-2zM89 236h1v3h-1zM102 239h1v1h-1zM97 240h2v1h-2zM88 240h1v2h-1zM103 240h1v2h-1zM96 241h1v1h-1zM94 242h2v1h-2zM89 243h1v1h-1zM93 243h1v1h-1zM104 242h1v3h-1zM90 244h3v1h-3zM105 247h1v5h-1zM105 252h2v4h-2zM106 256h2v1h-2zM107 257h4v1h-4zM108 258h4v1h-4zM109 259h3v1h-3zM110 260h2v4h-2zM109 264h2v1h-2zM106 265h5v1h-5zM105 266h5v1h-5zM106 267h4v1h-4zM107 268h2v3h-2zM108 271h2v4h-2zM109 275h2v2h-2zM109 277h3v1h-3zM110 278h2v1h-2zM111 279h2v1h-2zM112 280h2v1h-2zM113 281h1v1h-1zM113 282h2v1h-2zM114 283h1v3h-1zM114 286h2v2h-2zM115 288h1v1h-1zM115 289h2v1h-2zM116 290h1v1h-1z"/>
<path fill="#f8f1ed" stroke="#f8f1ed" d="M73 18h1v1h-1zM70 21h1v1h-1zM67 22h1v1h-1zM68 23h1v1h-1zM63 28h1v1h-1zM62 30h1v1h-1zM58 31h1v1h-1zM59 32h2v1h-2zM56 31h1v3h-1zM61 34h1v2h-1zM55 37h1v1h-1zM41 39h1v1h-1zM42 40h1v1h-1zM41 41h1v1h-1zM43 44h1v1h-1zM55 44h1v1h-1zM40 44h1v1h-1zM54 45h1v1h-1zM39 47h1v1h-1zM52 47h1v1h-1zM38 50h1v1h-1zM49 51h1v1h-1zM41 52h1v1h-1zM44 54h1v1h-1zM46 55h1v1h-1zM40 58h1v1h-1zM33 61h1v1h-1zM32 63h1v1h-1zM37 66h1v1h-1zM28 67h1v1h-1zM31 72h1v1h-1zM29 75h1v1h-1zM26 83h1v1h-1zM20 90h1v1h-1zM19 95h1v1h-1zM18 97h1v1h-1zM17 98h2v1h-2zM23 97h1v3h-1zM17 99h1v1h-1zM23 103h1v1h-1zM25 105h1v1h-1zM34 114h1v1h-1zM34 122h1v2h-1zM40 124h1v1h-1zM26 125h1v1h-1zM42 128h1v1h-1zM43 131h1v1h-1zM46 137h1v1h-1zM37 143h1v1h-1zM52 143h1v1h-1zM56 143h2v1h-2zM38 146h1v1h-1zM66 146h1v1h-1zM75 152h1v1h-1zM52 158h1v1h-1zM61 164h1v1h-1zM89 165h1v1h-1zM94 165h1v1h-1zM64 166h1v1h-1zM67 169h1v1h-1zM68 170h1v1h-1zM102 174h1v1h-1zM71 174h1v1h-1zM103 176h1v1h-1zM72 177h1v1h-1zM103 184h1v1h-1zM70 187h1v2h-1zM70 189h2v3h-2zM70 192h1v1h-1zM73 184h1v10h-1zM74 197h1v2h-1zM100 199h1v1h-1zM67 201h1v2h-1zM99 205h1v1h-1zM74 206h1v1h-1zM68 203h1v5h-1zM98 208h1v1h-1zM73 210h1v3h-1zM73 216h1v1h-1zM67 219h1v1h-1zM96 220h1v1h-1zM67 220h2v1h-2zM67 221h3v1h-3zM68 222h4v1h-4zM69 223h3v1h-3zM69 224h2v1h-2zM89 235h1v1h-1zM98 239h2v1h-2zM89 239h1v1h-1zM103 239h1v1h-1zM104 240h1v1h-1zM96 240h1v1h-1zM94 241h2v1h-2zM104 241h2v1h-2zM93 242h1v1h-1zM89 242h1v1h-1zM90 243h3v1h-3zM105 242h1v5h-1zM106 247h1v4h-1zM106 251h2v1h-2zM107 252h1v1h-1zM107 253h2v1h-2zM107 254h3v1h-3zM107 255h6v1h-6zM108 256h6v1h-6zM111 257h3v1h-3zM112 258h2v6h-2zM111 264h3v1h-3zM111 265h2v1h-2zM110 266h3v1h-3zM110 267h2v1h-2zM109 268h3v3h-3zM110 271h2v3h-2zM110 274h3v1h-3zM111 275h2v2h-2zM112 277h2v2h-2zM113 279h2v1h-2zM114 280h2v1h-2zM120 280h2v2h-2zM114 281h3v1h-3zM115 282h2v4h-2zM116 286h1v2h-1zM116 288h2v1h-2zM117 289h1v1h-1zM117 290h3v1h-3z"/>
<path fill="#f9efe9" stroke="#f9efe9" d="M53 11h1v1h-1zM71 18h1v1h-1zM70 19h1v1h-1zM2 23h1v1h-1zM66 23h1v1h-1zM65 25h1v1h-1zM64 26h1v1h-1zM63 27h1v1h-1zM56 29h1v2h-1zM61 31h1v1h-1zM56 34h1v2h-1zM43 35h1v2h-1zM54 38h1v1h-1zM40 38h1v2h-1zM53 40h1v1h-1zM41 40h1v1h-1zM51 42h1v1h-1zM43 43h1v1h-1zM43 46h1v1h-1zM49 47h1v1h-1zM45 52h1v1h-1zM37 54h1v1h-1zM40 56h1v1h-1zM40 57h2v1h-2zM44 58h1v1h-1zM31 59h2v1h-2zM33 60h1v1h-1zM31 60h1v1h-1zM31 64h1v1h-1zM27 68h1v1h-1zM33 70h1v1h-1zM32 71h1v1h-1zM24 75h1v1h-1zM28 78h1v1h-1zM27 81h1v1h-1zM22 81h1v4h-1zM21 88h1v1h-1zM25 92h1v1h-1zM19 94h1v1h-1zM17 100h1v1h-1zM36 117h1v1h-1zM24 122h1v1h-1zM35 140h1v1h-1zM50 141h1v1h-1zM51 142h1v1h-1zM63 145h1v1h-1zM68 147h1v1h-1zM40 148h1v1h-1zM44 152h1v1h-1zM49 157h1v1h-1zM55 159h1v1h-1zM82 160h1v1h-1zM62 165h1v1h-1zM66 168h1v1h-1zM67 171h1v2h-1zM102 172h1v2h-1zM71 175h1v1h-1zM72 178h1v1h-1zM103 178h1v1h-1zM103 180h1v1h-1zM72 180h1v4h-1zM70 182h1v2h-1zM103 185h1v1h-1zM70 184h3v3h-3zM71 187h2v2h-2zM72 189h1v3h-1zM102 191h1v1h-1zM71 192h2v1h-2zM70 193h3v1h-3zM70 194h4v1h-4zM73 195h1v1h-1zM101 195h1v1h-1zM70 195h1v1h-1zM68 199h2v2h-2zM74 199h1v3h-1zM100 200h1v2h-1zM68 201h3v2h-3zM75 203h1v2h-1zM69 203h3v3h-3zM74 205h1v1h-1zM69 206h4v1h-4zM69 207h5v1h-5zM68 208h6v2h-6zM68 210h5v1h-5zM68 211h2v1h-2zM68 212h1v3h-1zM73 213h1v3h-1zM67 215h2v2h-2zM67 217h3v2h-3zM97 218h1v1h-1zM72 218h1v2h-1zM68 219h3v1h-3zM69 220h3v1h-3zM70 221h2v1h-2zM95 223h1v1h-1zM94 224h1v1h-1zM92 225h1v1h-1zM90 227h1v1h-1zM89 230h1v1h-1zM98 238h6v1h-6zM104 239h2v1h-2zM96 239h2v1h-2zM105 240h2v1h-2zM94 240h2v1h-2zM89 240h1v1h-1zM89 241h2v1h-2zM92 241h2v1h-2zM90 242h3v1h-3zM120 245h1v1h-1zM106 241h1v6h-1zM107 247h1v2h-1zM107 249h2v2h-2zM108 251h3v1h-3zM108 252h6v1h-6zM109 253h7v1h-7zM110 254h7v1h-7zM113 255h4v1h-4zM114 256h3v3h-3zM114 259h2v4h-2zM114 263h3v1h-3zM114 264h4v1h-4zM113 265h6v1h-6zM113 266h7v1h-7zM112 267h9v2h-9zM112 269h8v1h-8zM112 270h6v1h-6zM112 271h4v2h-4zM112 273h3v1h-3zM113 274h2v1h-2zM120 275h2v1h-2zM113 275h3v1h-3zM113 276h4v1h-4zM118 276h5v1h-5zM114 277h9v1h-9zM114 278h10v1h-10zM115 279h9v1h-9zM116 280h4v1h-4zM122 280h2v2h-2zM117 281h3v1h-3zM117 282h7v3h-7zM117 285h6v3h-6zM118 288h6v1h-6zM118 289h7v1h-7zM120 290h6v1h-6z"/>
<path fill="#f9ebe3" stroke="#f9ebe3" d="M52 13h1v1h-1zM74 17h1v1h-1zM68 21h1v1h-1zM2 22h1v1h-1zM67 24h1v1h-1zM3 24h1v1h-1zM64 27h1v1h-1zM63 29h1v1h-1zM57 30h1v1h-1zM61 30h1v1h-1zM59 31h1v1h-1zM61 32h1v2h-1zM43 33h1v2h-1zM61 36h1v1h-1zM41 36h1v1h-1zM43 37h1v1h-1zM52 41h1v1h-1zM57 42h1v1h-1zM43 42h1v1h-1zM40 43h1v1h-1zM50 43h1v1h-1zM36 43h1v3h-1zM49 46h1v1h-1zM51 48h1v1h-1zM48 48h1v1h-1zM38 49h1v1h-1zM42 49h1v1h-1zM50 49h1v1h-1zM47 49h1v1h-1zM46 50h1v1h-1zM41 53h1v1h-1zM47 54h1v1h-1zM43 55h1v1h-1zM42 56h1v1h-1zM32 58h1v1h-1zM33 59h1v1h-1zM32 60h1v1h-1zM31 61h1v1h-1zM39 64h1v1h-1zM38 65h1v1h-1zM30 65h1v1h-1zM29 66h1v1h-1zM26 70h1v1h-1zM25 72h1v1h-1zM23 77h1v1h-1zM21 87h1v1h-1zM26 88h1v1h-1zM20 89h1v1h-1zM19 93h1v1h-1zM18 96h1v1h-1zM24 96h1v1h-1zM17 97h1v1h-1zM17 101h1v1h-1zM23 102h1v1h-1zM27 106h1v1h-1zM18 108h1v1h-1zM35 115h1v1h-1zM38 120h1v1h-1zM25 124h1v1h-1zM26 126h1v1h-1zM27 128h1v1h-1zM28 129h1v1h-1zM44 132h1v1h-1zM49 140h1v1h-1zM58 143h1v1h-1zM70 148h1v1h-1zM74 151h1v1h-1zM76 153h1v1h-1zM80 158h1v1h-1zM51 158h1v1h-1zM84 161h1v1h-1zM85 162h1v1h-1zM86 163h1v1h-1zM98 165h1v1h-1zM65 167h1v1h-1zM100 168h1v1h-1zM67 170h1v1h-1zM68 171h2v1h-2zM102 171h1v1h-1zM68 172h1v1h-1zM66 172h1v1h-1zM70 172h1v1h-1zM67 173h2v1h-2zM71 176h1v1h-1zM103 179h1v1h-1zM69 179h4v1h-4zM70 180h2v2h-2zM71 182h1v2h-1zM103 186h1v1h-1zM71 195h2v1h-2zM70 196h4v1h-4zM69 197h5v1h-5zM69 198h3v1h-3zM73 198h1v1h-1zM70 199h2v2h-2zM71 201h2v2h-2zM100 202h1v1h-1zM74 202h1v1h-1zM72 203h3v2h-3zM72 205h2v1h-2zM73 206h1v1h-1zM98 209h1v2h-1zM70 211h3v1h-3zM69 212h4v2h-4zM69 214h2v3h-2zM70 217h3v1h-3zM70 218h2v1h-2zM71 219h1v1h-1zM89 234h1v1h-1zM100 237h4v1h-4zM97 238h1v1h-1zM104 238h3v1h-3zM94 239h2v1h-2zM90 239h1v1h-1zM106 239h2v1h-2zM90 240h4v1h-4zM91 241h1v1h-1zM107 240h1v3h-1zM119 242h4v1h-4zM116 243h15v1h-15zM115 244h16v1h-16zM115 245h5v1h-5zM121 245h10v1h-10zM107 243h2v4h-2zM115 246h15v1h-15zM127 247h1v1h-1zM115 247h11v1h-11zM108 247h1v1h-1zM115 248h8v1h-8zM108 248h2v1h-2zM109 249h13v1h-13zM109 250h12v1h-12zM111 251h10v1h-10zM114 252h6v1h-6zM116 253h5v1h-5zM117 254h4v2h-4zM117 256h5v1h-5zM117 257h4v1h-4zM117 258h3v1h-3zM116 259h3v4h-3zM117 263h3v1h-3zM118 264h3v1h-3zM119 265h3v1h-3zM120 266h2v1h-2zM121 267h2v2h-2zM120 269h3v1h-3zM118 270h5v1h-5zM116 271h7v1h-7zM116 272h8v1h-8zM115 273h9v2h-9zM116 275h4v1h-4zM122 275h3v1h-3zM117 276h1v1h-1zM123 276h2v2h-2zM124 278h1v4h-1zM124 282h2v3h-2zM123 285h4v1h-4zM123 286h5v1h-5zM123 287h7v1h-7zM124 288h8v1h-8zM125 289h7v1h-7zM126 290h1v1h-1z"/>
<path fill="#fae9df" stroke="#fae9df" d="M50 11h1v1h-1zM74 16h1v1h-1zM72 17h1v1h-1zM69 20h1v1h-1zM0 21h1v1h-1zM1 22h1v1h-1zM4 24h1v1h-1zM62 28h1v1h-1zM60 31h1v1h-1zM42 32h2v1h-2zM42 33h1v2h-1zM60 38h1v1h-1zM43 38h1v1h-1zM40 40h1v1h-1zM43 41h1v1h-1zM44 43h1v1h-1zM37 43h1v2h-1zM49 45h1v1h-1zM36 46h1v1h-1zM43 47h1v1h-1zM45 51h1v1h-1zM37 53h1v1h-1zM48 53h1v1h-1zM36 56h1v1h-1zM45 57h1v1h-1zM32 57h2v1h-2zM33 58h1v1h-1zM34 59h1v1h-1zM43 60h1v1h-1zM32 61h1v2h-1zM31 63h1v1h-1zM40 63h1v1h-1zM30 74h1v1h-1zM29 76h1v1h-1zM28 79h1v1h-1zM22 79h1v2h-1zM21 86h1v1h-1zM25 93h1v1h-1zM23 100h1v1h-1zM17 102h1v1h-1zM31 110h1v1h-1zM32 111h1v1h-1zM20 112h1v1h-1zM21 115h1v1h-1zM23 120h1v1h-1zM43 130h1v1h-1zM30 132h1v1h-1zM32 136h1v1h-1zM55 143h1v1h-1zM37 144h1v1h-1zM71 148h1v1h-1zM72 149h1v1h-1zM41 149h1v1h-1zM43 151h1v1h-1zM44 153h1v1h-1zM45 154h1v1h-1zM47 156h1v1h-1zM81 159h1v1h-1zM90 165h1v1h-1zM63 166h1v1h-1zM101 169h1v1h-1zM66 169h1v3h-1zM69 172h1v1h-1zM69 173h2v2h-2zM69 177h3v2h-3zM101 196h1v2h-1zM72 198h1v1h-1zM72 199h2v2h-2zM73 201h1v2h-1zM99 206h1v1h-1zM98 211h1v1h-1zM71 214h2v3h-2zM96 221h1v1h-1zM97 237h3v1h-3zM104 237h4v1h-4zM90 237h1v2h-1zM107 238h2v1h-2zM94 238h3v1h-3zM91 239h3v1h-3zM108 239h2v2h-2zM119 240h5v1h-5zM116 241h13v1h-13zM108 241h3v1h-3zM108 242h11v1h-11zM123 242h8v1h-8zM109 243h7v1h-7zM131 243h1v1h-1zM131 244h2v2h-2zM130 246h2v1h-2zM109 244h6v4h-6zM126 247h1v1h-1zM128 247h4v1h-4zM110 248h5v1h-5zM123 248h8v1h-8zM122 249h3v1h-3zM121 250h3v1h-3zM121 251h2v1h-2zM120 252h3v1h-3zM121 253h2v1h-2zM121 254h3v2h-3zM122 256h3v1h-3zM121 257h4v1h-4zM120 258h6v1h-6zM119 259h6v1h-6zM119 260h5v1h-5zM119 261h3v2h-3zM120 263h2v1h-2zM121 264h2v1h-2zM122 265h1v1h-1zM122 266h2v1h-2zM123 267h1v1h-1zM123 268h2v3h-2zM123 271h3v1h-3zM124 272h2v3h-2zM125 275h1v6h-1zM125 281h2v1h-2zM126 282h1v2h-1zM126 284h2v1h-2zM127 285h3v1h-3zM128 286h4v1h-4zM130 287h3v1h-3zM132 288h2v1h-2zM132 289h1v1h-1z"/>
<path fill="#fbe6da" stroke="#fbe6da" d="M65 24h1v1h-1zM66 25h1v1h-1zM65 26h1v1h-1zM56 28h1v1h-1zM57 29h1v1h-1zM58 30h1v1h-1zM42 31h1v1h-1zM44 33h1v1h-1zM55 33h1v2h-1zM54 37h1v1h-1zM39 38h1v2h-1zM43 39h1v2h-1zM37 37h1v5h-1zM58 41h1v1h-1zM44 42h1v1h-1zM36 42h2v1h-2zM37 45h1v1h-1zM36 47h1v1h-1zM50 50h1v1h-1zM37 52h1v1h-1zM41 54h1v1h-1zM34 54h1v1h-1zM41 56h1v1h-1zM33 56h1v1h-1zM31 58h1v1h-1zM35 58h1v1h-1zM30 60h1v2h-1zM31 62h1v1h-1zM30 63h1v2h-1zM24 74h1v1h-1zM27 82h1v1h-1zM27 86h1v1h-1zM26 89h1v1h-1zM19 90h1v3h-1zM25 94h1v1h-1zM23 101h1v1h-1zM17 103h1v1h-1zM24 104h1v1h-1zM19 110h1v1h-1zM22 117h1v1h-1zM24 123h1v1h-1zM41 125h1v1h-1zM25 125h1v1h-1zM42 127h1v1h-1zM29 130h1v1h-1zM45 133h1v1h-1zM30 133h1v1h-1zM31 135h1v1h-1zM47 138h1v1h-1zM36 142h1v1h-1zM53 143h1v1h-1zM64 145h1v1h-1zM67 146h1v1h-1zM38 147h1v1h-1zM42 150h1v1h-1zM73 150h1v1h-1zM46 155h1v1h-1zM56 160h1v1h-1zM57 161h1v1h-1zM59 163h1v1h-1zM88 164h1v1h-1zM60 164h1v1h-1zM93 165h1v1h-1zM64 167h1v1h-1zM65 168h1v4h-1zM69 175h2v2h-2zM104 185h1v1h-1zM103 187h1v1h-1zM101 198h1v1h-1zM100 203h1v1h-1zM93 225h1v1h-1zM91 226h1v1h-1zM90 228h1v1h-1zM89 231h1v1h-1zM90 236h1v1h-1zM98 236h11v1h-11zM95 237h2v1h-2zM108 237h2v1h-2zM122 237h1v1h-1zM109 238h2v1h-2zM120 238h5v1h-5zM91 238h3v1h-3zM110 239h2v1h-2zM118 239h8v1h-8zM124 240h5v1h-5zM110 240h9v1h-9zM129 241h3v1h-3zM111 241h5v1h-5zM131 242h2v1h-2zM132 243h2v1h-2zM133 244h1v2h-1zM132 246h2v1h-2zM132 247h1v1h-1zM131 248h2v1h-2zM125 249h7v1h-7zM124 250h5v1h-5zM123 251h3v1h-3zM123 252h2v2h-2zM124 254h2v1h-2zM124 255h3v1h-3zM125 256h2v1h-2zM125 257h3v1h-3zM126 258h2v1h-2zM125 259h4v1h-4zM124 260h5v1h-5zM122 261h6v1h-6zM122 262h5v1h-5zM122 263h4v1h-4zM123 264h2v2h-2zM124 266h2v2h-2zM125 268h2v3h-2zM126 271h2v7h-2zM126 278h1v2h-1zM126 280h2v1h-2zM127 281h1v1h-1zM127 282h2v2h-2zM128 284h3v1h-3zM130 285h2v1h-2zM132 286h3v1h-3zM133 287h4v1h-4zM134 288h4v1h-4z"/>
<path fill="#fbe4d6" stroke="#fbe4d6" d="M50 12h1v1h-1zM72 20h1v1h-1zM1 21h1v1h-1zM0 22h1v1h-1zM4 23h1v1h-1zM64 25h1v1h-1zM55 29h1v1h-1zM61 29h1v1h-1zM60 30h1v1h-1zM62 31h1v1h-1zM43 31h1v1h-1zM44 34h1v1h-1zM54 34h1v1h-1zM55 35h1v2h-1zM36 37h1v1h-1zM40 37h1v1h-1zM53 39h1v1h-1zM59 40h1v1h-1zM36 41h1v1h-1zM40 42h1v1h-1zM45 43h1v1h-1zM44 44h1v1h-1zM56 44h1v1h-1zM54 46h1v1h-1zM39 46h1v1h-1zM53 47h1v1h-1zM38 48h1v1h-1zM35 50h1v1h-1zM42 50h1v1h-1zM34 51h2v1h-2zM37 51h1v1h-1zM49 52h1v1h-1zM34 52h1v2h-1zM44 53h1v1h-1zM33 54h1v1h-1zM33 55h2v1h-2zM41 55h1v1h-1zM46 56h1v1h-1zM34 56h1v1h-1zM34 57h2v1h-2zM41 62h1v1h-1zM30 62h1v1h-1zM29 63h1v1h-1zM22 78h1v1h-1zM21 85h1v1h-1zM18 95h1v1h-1zM24 97h1v1h-1zM17 104h1v2h-1zM26 105h1v1h-1zM29 107h1v1h-1zM20 113h1v1h-1zM37 118h1v1h-1zM26 127h1v1h-1zM43 129h1v1h-1zM30 134h1v1h-1zM48 139h1v1h-1zM34 139h1v1h-1zM54 143h1v1h-1zM60 144h1v1h-1zM37 145h1v2h-1zM69 147h1v1h-1zM44 154h1v1h-1zM48 157h1v1h-1zM50 158h1v1h-1zM53 159h1v1h-1zM83 160h1v1h-1zM58 162h1v1h-1zM96 164h1v1h-1zM91 165h1v1h-1zM61 165h1v1h-1zM62 166h1v1h-1zM99 166h1v1h-1zM102 170h1v1h-1zM64 170h1v1h-1zM103 175h1v1h-1zM104 184h1v1h-1zM101 199h1v3h-1zM98 212h1v1h-1zM98 217h1v1h-1zM96 222h1v1h-1zM89 232h1v2h-1zM90 235h1v1h-1zM121 235h3v1h-3zM99 235h11v1h-11zM96 236h2v1h-2zM120 236h5v1h-5zM109 236h3v1h-3zM93 237h2v1h-2zM91 237h1v1h-1zM110 237h3v1h-3zM119 237h3v1h-3zM123 237h3v1h-3zM111 238h3v1h-3zM117 238h3v1h-3zM125 238h2v1h-2zM112 239h6v1h-6zM126 239h3v1h-3zM129 240h3v1h-3zM132 241h1v1h-1zM133 242h1v1h-1zM134 243h1v4h-1zM133 247h2v1h-2zM133 248h1v1h-1zM132 249h1v1h-1zM129 250h4v1h-4zM126 251h5v1h-5zM125 252h5v1h-5zM125 253h4v1h-4zM126 254h3v1h-3zM127 255h3v2h-3zM128 257h3v2h-3zM129 259h3v1h-3zM129 260h4v1h-4zM128 261h6v1h-6zM127 262h7v1h-7zM126 263h8v1h-8zM125 264h9v1h-9zM125 265h7v1h-7zM126 266h4v2h-4zM127 268h2v3h-2zM128 271h2v2h-2zM128 273h3v4h-3zM128 277h2v1h-2zM127 278h2v2h-2zM128 280h1v1h-1zM128 281h2v1h-2zM129 282h2v1h-2zM129 283h3v1h-3zM131 284h2v1h-2zM132 285h8v1h-8zM135 286h6v1h-6zM137 287h3v1h-3z"/>
<path fill="#fce0d0" stroke="#fce0d0" d="M51 10h1v1h-1zM73 16h1v1h-1zM75 16h1v1h-1zM73 19h1v1h-1zM3 22h1v1h-1zM5 24h1v1h-1zM63 26h1v1h-1zM55 28h1v1h-1zM59 30h1v1h-1zM55 30h1v1h-1zM44 32h1v1h-1zM41 32h1v1h-1zM45 33h1v1h-1zM41 35h1v1h-1zM37 36h1v1h-1zM36 38h1v1h-1zM38 37h1v3h-1zM38 40h2v1h-2zM36 40h1v1h-1zM40 41h1v1h-1zM51 41h1v1h-1zM45 42h1v1h-1zM50 42h1v1h-1zM49 44h1v1h-1zM55 45h1v1h-1zM35 48h2v1h-2zM52 48h1v1h-1zM35 49h1v1h-1zM34 50h1v1h-1zM50 51h1v1h-1zM33 53h1v1h-1zM43 54h1v1h-1zM42 55h1v1h-1zM35 56h1v1h-1zM32 56h1v1h-1zM34 58h1v1h-1zM30 59h1v1h-1zM44 59h1v1h-1zM42 61h1v1h-1zM29 64h1v1h-1zM27 67h1v1h-1zM26 69h1v1h-1zM35 69h1v1h-1zM31 73h1v1h-1zM29 77h1v1h-1zM28 80h1v1h-1zM27 85h1v1h-1zM20 88h1v1h-1zM19 89h1v1h-1zM25 95h1v1h-1zM16 98h1v2h-1zM17 106h1v2h-1zM18 109h1v1h-1zM22 118h1v1h-1zM23 121h1v1h-1zM27 129h1v1h-1zM46 136h1v1h-1zM33 138h1v1h-1zM35 141h1v1h-1zM59 143h1v1h-1zM36 143h1v3h-1zM39 148h1v1h-1zM40 149h1v1h-1zM43 152h1v3h-1zM77 154h1v1h-1zM45 155h1v1h-1zM54 159h1v1h-1zM52 159h1v1h-1zM97 164h1v1h-1zM60 165h1v1h-1zM92 165h1v1h-1zM62 167h2v1h-2zM61 168h4v1h-4zM62 169h3v1h-3zM104 183h1v1h-1zM105 185h1v1h-1zM104 186h1v1h-1zM103 188h1v3h-1zM102 192h1v1h-1zM101 202h1v1h-1zM100 204h1v1h-1zM99 207h1v1h-1zM98 213h1v4h-1zM98 218h1v1h-1zM97 219h1v1h-1zM90 229h1v1h-1zM121 233h4v1h-4zM120 234h6v1h-6zM99 234h13v1h-13zM90 234h1v1h-1zM124 235h2v1h-2zM97 235h2v1h-2zM118 235h3v1h-3zM110 235h3v1h-3zM91 236h1v1h-1zM117 236h3v1h-3zM94 236h2v1h-2zM112 236h2v1h-2zM125 236h2v1h-2zM113 237h6v1h-6zM126 237h2v1h-2zM92 237h1v1h-1zM114 238h3v1h-3zM127 238h2v1h-2zM129 239h2v1h-2zM132 240h1v1h-1zM133 241h1v1h-1zM134 242h1v1h-1zM135 243h1v5h-1zM134 248h2v1h-2zM133 249h2v1h-2zM133 250h1v1h-1zM131 251h3v1h-3zM130 252h3v1h-3zM129 253h3v2h-3zM130 255h2v2h-2zM131 257h2v1h-2zM131 258h3v1h-3zM132 259h3v1h-3zM133 260h2v1h-2zM134 261h2v2h-2zM134 263h3v1h-3zM134 264h2v1h-2zM132 265h4v1h-4zM130 266h5v1h-5zM130 267h3v1h-3zM129 268h3v1h-3zM129 269h2v2h-2zM130 271h2v1h-2zM130 272h3v1h-3zM131 273h3v1h-3zM131 274h4v3h-4zM130 277h4v1h-4zM129 278h4v1h-4zM129 279h3v2h-3zM130 281h2v1h-2zM131 282h2v1h-2zM132 283h9v1h-9zM133 284h9v1h-9zM140 285h3v1h-3zM141 286h1v1h-1z"/>
<path fill="#fdddcb" stroke="#fdddcb" d="M71 21h1v1h-1zM1 23h1v1h-1zM2 24h1v1h-1zM7 24h1v1h-1zM41 31h1v1h-1zM55 32h1v1h-1zM54 33h1v1h-1zM45 34h1v1h-1zM53 34h1v1h-1zM54 35h1v1h-1zM44 35h1v1h-1zM36 36h1v1h-1zM39 37h1v1h-1zM61 37h1v1h-1zM102 37h1v2h-1zM53 38h1v1h-1zM60 39h1v1h-1zM36 39h1v1h-1zM52 40h1v1h-1zM44 41h1v1h-1zM57 43h1v1h-1zM39 45h1v1h-1zM44 45h1v1h-1zM37 46h1v1h-1zM48 47h1v1h-1zM35 47h1v1h-1zM43 48h1v1h-1zM47 48h1v1h-1zM51 49h1v1h-1zM36 49h1v1h-1zM36 50h2v1h-2zM42 51h1v1h-1zM36 51h1v1h-1zM35 52h1v1h-1zM47 55h1v1h-1zM31 57h1v1h-1zM29 65h1v1h-1zM37 67h1v1h-1zM36 68h1v1h-1zM34 70h1v1h-1zM25 71h1v1h-1zM23 76h1v1h-1zM27 83h1v1h-1zM21 84h1v1h-1zM27 87h1v1h-1zM26 90h1v1h-1zM17 96h1v1h-1zM30 108h1v1h-1zM17 108h1v1h-1zM33 112h1v1h-1zM20 114h1v1h-1zM36 116h1v1h-1zM39 121h1v1h-1zM24 124h1v2h-1zM25 126h1v1h-1zM44 131h1v1h-1zM30 135h1v1h-1zM50 140h1v1h-1zM35 144h1v2h-1zM65 145h1v1h-1zM36 146h1v1h-1zM37 147h1v1h-1zM72 148h1v1h-1zM41 150h1v1h-1zM76 152h1v1h-1zM43 155h2v1h-2zM43 156h4v1h-4zM47 157h1v1h-1zM43 157h3v1h-3zM49 158h1v1h-1zM43 158h2v1h-2zM56 161h1v1h-1zM59 164h1v2h-1zM60 166h2v1h-2zM59 167h3v1h-3zM60 168h1v1h-1zM104 182h1v1h-1zM105 184h1v1h-1zM105 186h1v1h-1zM96 223h1v1h-1zM95 224h1v1h-1zM123 230h2v1h-2zM121 231h5v1h-5zM119 232h7v1h-7zM105 232h9v1h-9zM99 233h16v1h-16zM125 233h2v1h-2zM117 233h4v1h-4zM97 234h2v1h-2zM112 234h8v1h-8zM126 234h1v1h-1zM91 235h1v1h-1zM126 235h2v1h-2zM95 235h2v1h-2zM113 235h5v1h-5zM114 236h3v1h-3zM92 236h2v1h-2zM127 236h1v1h-1zM128 237h1v1h-1zM129 238h2v1h-2zM131 239h2v1h-2zM133 240h1v1h-1zM134 241h1v1h-1zM135 242h1v1h-1zM136 243h1v2h-1zM136 245h2v4h-2zM135 249h3v1h-3zM134 250h3v1h-3zM134 251h2v1h-2zM133 252h2v1h-2zM132 253h2v4h-2zM133 257h2v1h-2zM134 258h2v1h-2zM135 259h1v1h-1zM135 260h2v1h-2zM136 261h2v2h-2zM137 263h2v1h-2zM136 264h3v1h-3zM136 265h2v1h-2zM135 266h2v1h-2zM133 267h3v1h-3zM132 268h3v1h-3zM131 269h4v2h-4zM132 271h4v1h-4zM133 272h5v1h-5zM134 273h5v1h-5zM135 274h4v3h-4zM134 277h5v1h-5zM133 278h7v1h-7zM132 279h9v1h-9zM132 280h10v1h-10zM132 281h11v1h-11zM133 282h10v1h-10zM141 283h3v1h-3zM142 284h1v1h-1z"/>
<path fill="#fddbc7" stroke="#fddbc7" d="M53 13h1v1h-1zM51 13h1v1h-1zM75 15h1v1h-1zM0 20h1v1h-1zM70 22h1v1h-1zM69 23h1v1h-1zM8 24h1v1h-1zM6 24h1v1h-1zM4 25h1v1h-1zM62 27h1v1h-1zM57 28h1v1h-1zM64 28h1v1h-1zM63 30h1v1h-1zM42 30h2v1h-2zM55 31h1v1h-1zM37 31h1v2h-1zM38 33h1v2h-1zM46 34h1v1h-1zM45 35h2v1h-2zM53 35h1v1h-1zM37 35h2v1h-2zM38 36h1v1h-1zM44 36h1v1h-1zM54 36h1v1h-1zM53 37h1v1h-1zM50 38h1v1h-1zM38 41h1v1h-1zM45 44h1v1h-1zM39 44h1v1h-1zM35 44h1v3h-1zM44 46h1v1h-1zM37 47h2v1h-2zM37 48h1v2h-1zM116 50h1v1h-1zM36 52h1v1h-1zM33 52h1v1h-1zM35 53h1v1h-1zM42 54h1v1h-1zM48 54h1v1h-1zM36 55h1v1h-1zM45 58h1v1h-1zM29 62h1v1h-1zM28 66h1v1h-1zM26 68h1v1h-1zM32 72h1v1h-1zM24 73h1v1h-1zM30 75h1v1h-1zM21 82h1v2h-1zM18 94h1v1h-1zM24 98h1v1h-1zM16 100h1v1h-1zM24 103h1v1h-1zM25 104h1v1h-1zM21 116h1v1h-1zM22 119h1v1h-1zM23 122h1v1h-1zM40 123h1v1h-1zM42 126h1v1h-1zM26 128h1v1h-1zM29 133h1v3h-1zM49 139h1v1h-1zM51 141h1v1h-1zM56 142h2v1h-2zM52 142h1v1h-1zM35 142h1v2h-1zM34 144h1v1h-1zM61 144h1v1h-1zM66 145h2v1h-2zM68 146h1v1h-1zM70 147h2v1h-2zM38 148h1v1h-1zM39 149h1v1h-1zM73 149h1v1h-1zM75 151h1v1h-1zM42 151h1v1h-1zM78 155h1v1h-1zM79 156h1v1h-1zM42 154h1v4h-1zM80 157h1v1h-1zM46 157h1v1h-1zM45 158h2v1h-2zM48 158h1v1h-1zM51 159h1v1h-1zM45 159h1v1h-1zM53 160h3v1h-3zM57 162h1v1h-1zM98 164h1v1h-1zM89 164h1v1h-1zM95 164h1v1h-1zM58 163h1v3h-1zM99 165h1v1h-1zM56 166h4v1h-4zM58 167h1v1h-1zM103 171h1v2h-1zM103 174h1v1h-1zM104 176h1v2h-1zM104 181h1v1h-1zM106 185h1v1h-1zM103 191h1v1h-1zM102 197h1v5h-1zM101 203h1v1h-1zM100 205h1v1h-1zM99 208h1v1h-1zM99 217h1v2h-1zM94 225h1v1h-1zM92 226h1v1h-1zM91 227h1v1h-1zM123 228h2v1h-2zM111 229h6v1h-6zM121 229h6v1h-6zM125 230h2v1h-2zM108 230h15v1h-15zM101 231h20v1h-20zM126 231h2v2h-2zM98 232h7v1h-7zM114 232h5v1h-5zM127 233h1v1h-1zM90 233h1v1h-1zM97 233h2v1h-2zM115 233h2v1h-2zM95 234h2v1h-2zM127 234h2v1h-2zM91 234h1v1h-1zM128 235h1v1h-1zM92 235h3v1h-3zM128 236h2v1h-2zM129 237h2v1h-2zM131 238h2v1h-2zM133 239h1v1h-1zM134 240h1v1h-1zM135 241h1v1h-1zM136 242h1v1h-1zM137 243h1v1h-1zM137 244h2v1h-2zM138 245h2v1h-2zM138 246h3v1h-3zM138 247h4v3h-4zM137 250h5v1h-5zM136 251h4v1h-4zM135 252h2v1h-2zM134 253h2v4h-2zM135 257h2v1h-2zM136 258h2v1h-2zM136 259h3v1h-3zM137 260h2v1h-2zM138 261h2v1h-2zM138 262h3v1h-3zM139 263h2v2h-2zM138 265h3v1h-3zM137 266h3v1h-3zM136 267h3v1h-3zM135 268h4v2h-4zM135 270h5v1h-5zM136 271h5v1h-5zM138 272h3v1h-3zM139 273h3v2h-3zM146 274h1v1h-1zM139 275h9v2h-9zM139 277h10v1h-10zM140 278h9v1h-9zM141 279h7v1h-7zM142 280h5v1h-5zM143 281h3v1h-3zM143 282h2v1h-2z"/>
<path fill="#fcd5bf" stroke="#fcd5bf" d="M52 10h1v1h-1zM74 18h1v1h-1zM2 21h1v1h-1zM55 24h1v1h-1zM56 27h1v1h-1zM58 29h1v1h-1zM60 29h1v1h-1zM43 29h1v1h-1zM44 31h1v1h-1zM38 30h1v3h-1zM40 32h1v1h-1zM45 32h1v1h-1zM41 33h1v2h-1zM53 36h1v1h-1zM50 37h2v1h-2zM101 37h1v2h-1zM103 37h1v2h-1zM51 38h1v1h-1zM101 39h2v1h-2zM39 41h1v1h-1zM38 42h1v1h-1zM35 43h1v1h-1zM38 43h2v1h-2zM49 43h1v1h-1zM46 43h1v1h-1zM38 44h1v1h-1zM48 45h1v2h-1zM34 49h1v1h-1zM116 49h1v1h-1zM46 49h1v1h-1zM115 50h1v1h-1zM45 50h1v1h-1zM116 51h1v1h-1zM44 52h1v1h-1zM35 54h1v2h-1zM30 58h1v1h-1zM40 64h1v1h-1zM39 65h1v1h-1zM38 66h1v1h-1zM23 75h1v1h-1zM29 78h1v1h-1zM28 81h1v1h-1zM27 84h1v1h-1zM20 87h1v1h-1zM26 91h1v1h-1zM25 96h1v1h-1zM24 99h1v1h-1zM28 106h1v1h-1zM17 109h1v1h-1zM19 111h1v1h-1zM34 113h1v1h-1zM24 126h1v1h-1zM43 128h1v1h-1zM28 130h1v1h-1zM29 131h1v2h-1zM28 133h1v1h-1zM46 135h1v1h-1zM30 136h2v1h-2zM32 137h1v1h-1zM47 137h1v1h-1zM48 138h1v1h-1zM34 140h1v1h-1zM58 142h1v1h-1zM34 143h1v1h-1zM35 146h1v1h-1zM72 147h1v1h-1zM36 147h1v1h-1zM37 148h1v1h-1zM74 150h1v1h-1zM40 150h1v1h-1zM42 152h1v2h-1zM81 158h1v1h-1zM47 158h1v1h-1zM49 159h2v1h-2zM46 159h2v1h-2zM82 159h1v1h-1zM50 160h3v1h-3zM85 161h1v1h-1zM50 161h6v1h-6zM50 162h7v1h-7zM87 163h1v1h-1zM52 163h6v1h-6zM53 164h5v1h-5zM55 165h3v1h-3zM102 169h1v1h-1zM103 173h1v1h-1zM105 183h1v1h-1zM106 184h1v1h-1zM106 186h1v1h-1zM104 187h1v1h-1zM102 193h1v1h-1zM102 196h1v1h-1zM102 202h1v1h-1zM101 204h1v1h-1zM100 206h1v1h-1zM99 209h1v3h-1zM102 213h2v1h-2zM99 213h1v2h-1zM101 214h3v1h-3zM103 215h1v1h-1zM99 216h1v1h-1zM98 219h2v1h-2zM97 220h1v1h-1zM110 227h16v1h-16zM100 227h5v1h-5zM99 228h24v1h-24zM125 228h3v1h-3zM117 229h4v1h-4zM98 229h13v1h-13zM127 229h1v1h-1zM98 230h10v1h-10zM127 230h2v1h-2zM97 231h4v1h-4zM90 230h1v3h-1zM128 231h1v2h-1zM96 232h2v1h-2zM95 233h2v1h-2zM128 233h2v1h-2zM91 233h1v1h-1zM92 234h3v1h-3zM129 234h1v1h-1zM129 235h2v1h-2zM130 236h1v1h-1zM131 237h2v1h-2zM133 238h1v1h-1zM134 239h1v1h-1zM135 240h2v1h-2zM136 241h2v1h-2zM137 242h2v1h-2zM138 243h2v1h-2zM139 244h3v1h-3zM140 245h3v1h-3zM141 246h3v1h-3zM142 247h3v2h-3zM142 249h5v1h-5zM142 250h7v1h-7zM140 251h10v1h-10zM137 252h6v1h-6zM146 252h5v1h-5zM147 253h3v1h-3zM136 253h4v1h-4zM136 254h3v1h-3zM136 255h2v1h-2zM136 256h3v1h-3zM137 257h2v1h-2zM138 258h2v1h-2zM139 259h2v1h-2zM139 260h3v1h-3zM140 261h4v1h-4zM141 262h4v1h-4zM141 263h5v3h-5zM140 266h6v1h-6zM139 267h6v2h-6zM139 269h7v1h-7zM140 270h6v1h-6zM141 271h4v2h-4zM142 273h3v1h-3zM142 274h4v1h-4z"/>
<path fill="#fbd0b9" stroke="#fbd0b9" d="M70 18h1v1h-1zM5 23h1v1h-1zM54 23h1v2h-1zM68 24h1v1h-1zM9 24h1v1h-1zM3 25h1v1h-1zM5 25h1v1h-1zM55 25h1v3h-1zM54 28h1v1h-1zM59 29h1v1h-1zM37 30h1v1h-1zM39 30h1v1h-1zM40 31h1v1h-1zM36 31h1v2h-1zM62 32h1v1h-1zM39 32h1v2h-1zM46 33h1v1h-1zM53 33h1v1h-1zM37 33h1v2h-1zM62 34h1v1h-1zM47 35h1v1h-1zM52 35h1v1h-1zM40 36h1v1h-1zM51 36h2v1h-2zM102 36h1v1h-1zM46 36h2v1h-2zM44 37h1v1h-1zM52 37h1v1h-1zM49 38h1v1h-1zM103 39h1v1h-1zM50 39h3v1h-3zM51 40h1v1h-1zM45 41h1v1h-1zM50 41h1v1h-1zM35 42h1v1h-1zM58 42h1v1h-1zM46 42h1v1h-1zM39 42h1v1h-1zM38 45h1v2h-1zM44 47h1v1h-1zM53 48h1v1h-1zM43 49h1v1h-1zM51 50h1v1h-1zM115 51h1v1h-1zM100 51h2v1h-2zM33 51h1v1h-1zM42 52h1v1h-1zM49 53h1v1h-1zM42 53h2v1h-2zM36 53h1v2h-1zM32 55h1v1h-1zM46 57h1v1h-1zM44 60h1v1h-1zM33 71h1v1h-1zM30 76h1v1h-1zM22 77h1v1h-1zM21 81h1v1h-1zM19 88h1v1h-1zM18 90h1v1h-1zM16 97h1v1h-1zM16 101h1v1h-1zM24 102h1v1h-1zM27 105h1v1h-1zM31 109h1v1h-1zM32 110h1v1h-1zM35 114h1v1h-1zM22 120h1v1h-1zM25 127h1v1h-1zM26 129h1v1h-1zM44 130h1v1h-1zM27 130h1v1h-1zM46 134h1v1h-1zM50 139h1v1h-1zM33 139h1v1h-1zM34 141h1v2h-1zM66 143h1v1h-1zM33 143h1v1h-1zM66 144h2v1h-2zM62 144h1v1h-1zM68 145h1v1h-1zM69 146h1v1h-1zM73 147h1v2h-1zM36 148h1v1h-1zM38 149h1v1h-1zM39 150h1v1h-1zM41 151h1v1h-1zM77 153h1v1h-1zM41 154h1v3h-1zM48 159h1v1h-1zM46 160h4v1h-4zM84 160h1v1h-1zM48 161h2v1h-2zM86 162h1v1h-1zM90 164h1v1h-1zM99 164h1v1h-1zM100 167h1v1h-1zM103 170h1v1h-1zM104 172h1v1h-1zM104 175h1v1h-1zM203 183h2v1h-2zM203 184h4v1h-4zM203 185h5v1h-5zM203 186h7v1h-7zM202 187h10v1h-10zM105 187h1v1h-1zM202 188h11v3h-11zM202 191h10v1h-10zM103 192h1v1h-1zM201 192h10v1h-10zM201 193h5v1h-5zM201 194h3v1h-3zM102 194h1v2h-1zM103 197h1v4h-1zM102 203h1v1h-1zM101 205h1v1h-1zM100 207h1v1h-1zM99 212h1v1h-1zM102 212h3v1h-3zM100 213h2v1h-2zM100 214h1v1h-1zM104 213h1v3h-1zM99 215h4v1h-4zM100 216h5v1h-5zM100 217h4v1h-4zM100 218h2v1h-2zM100 219h1v1h-1zM105 221h1v1h-1zM97 221h1v2h-1zM104 222h3v1h-3zM102 223h5v1h-5zM100 224h8v1h-8zM96 224h1v1h-1zM95 225h1v1h-1zM99 225h20v1h-20zM97 226h30v1h-30zM93 226h1v1h-1zM105 227h5v1h-5zM126 227h2v1h-2zM97 227h3v1h-3zM96 228h3v1h-3zM91 228h1v2h-1zM128 228h1v2h-1zM96 229h2v1h-2zM95 230h3v1h-3zM95 231h2v1h-2zM129 230h1v3h-1zM94 232h2v1h-2zM91 232h2v1h-2zM92 233h3v1h-3zM130 233h1v2h-1zM131 235h1v1h-1zM131 236h2v1h-2zM133 237h1v1h-1zM134 238h1v1h-1zM135 239h2v1h-2zM137 240h1v1h-1zM138 241h2v1h-2zM139 242h3v1h-3zM140 243h3v1h-3zM142 244h3v1h-3zM143 245h3v1h-3zM144 246h3v1h-3zM145 247h5v1h-5zM145 248h7v1h-7zM147 249h5v1h-5zM149 250h4v1h-4zM150 251h3v1h-3zM143 252h3v1h-3zM151 252h2v1h-2zM150 253h3v1h-3zM140 253h7v1h-7zM139 254h14v1h-14zM138 255h14v1h-14zM145 256h6v1h-6zM139 256h4v1h-4zM139 257h5v1h-5zM147 257h3v1h-3zM140 258h5v1h-5zM141 259h6v1h-6zM142 260h6v1h-6zM144 261h4v1h-4zM145 262h4v1h-4zM146 263h3v1h-3zM146 264h4v1h-4zM146 265h6v1h-6zM146 266h7v1h-7zM148 267h6v1h-6z"/>
<path fill="#facab1" stroke="#facab1" d="M50 10h1v1h-1zM74 15h1v1h-1zM71 17h1v1h-1zM75 17h1v1h-1zM69 19h1v1h-1zM1 20h1v1h-1zM68 20h1v1h-1zM67 21h1v1h-1zM66 22h1v1h-1zM55 23h1v1h-1zM0 23h1v1h-1zM67 25h1v1h-1zM66 26h1v1h-1zM56 26h1v1h-1zM65 27h1v1h-1zM61 28h1v1h-1zM54 29h1v1h-1zM42 29h1v1h-1zM39 31h1v1h-1zM62 33h1v1h-1zM39 34h1v1h-1zM62 35h1v1h-1zM36 35h1v1h-1zM45 36h1v1h-1zM50 36h1v1h-1zM39 36h1v1h-1zM101 36h1v1h-1zM49 37h1v1h-1zM47 37h1v1h-1zM35 37h1v1h-1zM44 38h1v1h-1zM52 38h1v1h-1zM104 38h1v1h-1zM100 38h1v2h-1zM49 39h1v1h-1zM44 40h1v1h-1zM50 40h1v1h-1zM46 44h1v1h-1zM48 44h1v1h-1zM85 44h2v1h-2zM54 47h1v1h-1zM115 49h1v1h-1zM117 49h1v2h-1zM95 50h1v1h-1zM43 50h1v1h-1zM44 51h1v1h-1zM100 52h2v1h-2zM110 52h1v1h-1zM104 57h1v1h-1zM43 61h1v1h-1zM29 61h1v1h-1zM41 63h1v1h-1zM28 63h1v1h-1zM26 67h1v1h-1zM24 72h1v1h-1zM20 86h1v1h-1zM27 88h1v1h-1zM18 89h1v1h-1zM18 91h1v1h-1zM18 93h1v1h-1zM26 92h1v3h-1zM24 100h1v1h-1zM26 104h1v1h-1zM18 110h1v1h-1zM19 112h1v1h-1zM20 115h1v1h-1zM21 117h1v1h-1zM37 117h1v1h-1zM38 119h1v1h-1zM44 129h1v1h-1zM28 131h1v2h-1zM45 132h1v1h-1zM30 137h1v1h-1zM32 138h1v1h-1zM49 138h2v1h-2zM51 140h1v1h-1zM33 140h1v1h-1zM32 141h2v2h-2zM55 142h1v1h-1zM53 142h1v1h-1zM66 142h1v1h-1zM67 143h1v1h-1zM68 144h1v1h-1zM63 144h3v1h-3zM69 145h2v1h-2zM70 146h3v1h-3zM36 149h2v1h-2zM37 150h2v1h-2zM39 151h2v1h-2zM41 152h1v2h-1zM40 154h1v2h-1zM97 163h3v1h-3zM91 164h1v1h-1zM101 168h1v1h-1zM104 171h2v1h-2zM105 172h1v1h-1zM104 173h1v1h-1zM198 175h4v1h-4zM197 176h7v1h-7zM197 177h8v1h-8zM197 178h9v1h-9zM104 178h1v1h-1zM198 179h9v1h-9zM198 180h10v1h-10zM104 180h1v1h-1zM198 181h11v1h-11zM198 182h12v1h-12zM105 182h1v1h-1zM205 183h6v1h-6zM106 183h1v1h-1zM107 184h1v1h-1zM207 184h5v1h-5zM208 185h5v1h-5zM199 183h4v4h-4zM210 186h4v1h-4zM199 187h3v1h-3zM212 187h3v1h-3zM106 187h1v1h-1zM213 188h3v2h-3zM200 188h2v2h-2zM104 188h1v2h-1zM213 190h2v1h-2zM199 190h3v2h-3zM212 191h3v1h-3zM211 192h3v1h-3zM198 192h3v1h-3zM206 193h7v1h-7zM197 193h4v1h-4zM204 194h5v1h-5zM196 194h5v1h-5zM195 195h11v1h-11zM103 196h1v1h-1zM195 196h9v1h-9zM196 197h6v1h-6zM104 197h1v1h-1zM103 201h1v3h-1zM102 204h1v2h-1zM101 206h1v2h-1zM103 210h2v1h-2zM100 208h1v4h-1zM102 211h3v1h-3zM100 212h2v1h-2zM105 212h1v5h-1zM104 217h2v1h-2zM102 218h4v1h-4zM101 219h6v1h-6zM98 220h10v1h-10zM99 221h6v1h-6zM106 221h3v1h-3zM107 222h3v1h-3zM100 222h4v1h-4zM107 223h9v1h-9zM97 223h5v1h-5zM108 224h15v1h-15zM97 224h3v1h-3zM119 225h8v1h-8zM96 225h3v1h-3zM127 226h2v1h-2zM94 226h3v1h-3zM92 227h5v1h-5zM128 227h2v1h-2zM129 228h1v1h-1zM92 228h4v2h-4zM129 229h2v1h-2zM91 230h4v2h-4zM130 230h1v2h-1zM130 232h2v1h-2zM93 232h1v1h-1zM131 233h1v1h-1zM131 234h2v1h-2zM132 235h2v1h-2zM133 236h2v1h-2zM134 237h2v1h-2zM135 238h2v1h-2zM137 239h2v1h-2zM138 240h3v1h-3zM140 241h3v1h-3zM142 242h4v1h-4zM151 243h6v1h-6zM143 243h6v1h-6zM145 244h12v1h-12zM146 245h11v1h-11zM147 246h9v1h-9zM150 247h5v1h-5zM152 248h3v2h-3zM153 250h1v5h-1zM152 255h2v1h-2zM143 256h2v1h-2zM151 256h3v1h-3zM170 257h1v1h-1zM150 257h4v1h-4zM144 257h3v1h-3zM145 258h8v1h-8zM167 258h3v1h-3zM147 259h5v1h-5zM166 259h3v1h-3zM165 260h3v1h-3zM148 260h4v2h-4zM164 261h3v1h-3zM163 262h3v1h-3zM149 262h4v1h-4zM149 263h6v1h-6zM162 263h3v1h-3zM161 264h3v1h-3zM150 264h6v1h-6zM159 265h4v1h-4zM152 265h6v1h-6zM153 266h8v1h-8zM154 267h6v1h-6zM156 268h1v1h-1z"/>
<path fill="#f9c6ac" stroke="#f9c6ac" d="M104 15h1v1h-1zM4 22h1v1h-1zM65 23h1v1h-1zM6 23h1v1h-1zM1 24h1v1h-1zM10 24h1v1h-1zM54 25h1v1h-1zM6 25h3v1h-3zM54 27h1v1h-1zM57 27h1v1h-1zM40 30h2v1h-2zM44 30h1v1h-1zM36 33h1v1h-1zM40 33h1v1h-1zM47 34h1v1h-1zM52 34h1v1h-1zM39 35h1v1h-1zM103 36h1v1h-1zM46 37h1v1h-1zM48 37h1v1h-1zM47 38h2v1h-2zM35 38h1v1h-1zM61 38h1v1h-1zM104 39h1v1h-1zM100 40h2v1h-2zM59 41h1v1h-1zM35 41h1v1h-1zM49 42h1v1h-1zM107 42h1v2h-1zM86 43h1v1h-1zM47 43h1v2h-1zM87 44h1v1h-1zM56 45h1v1h-1zM45 45h1v1h-1zM55 46h1v1h-1zM34 48h1v1h-1zM116 48h2v1h-2zM94 49h2v1h-2zM52 49h1v1h-1zM96 50h1v1h-1zM100 50h2v1h-2zM94 50h1v1h-1zM110 51h1v1h-1zM114 51h1v1h-1zM99 51h1v1h-1zM102 51h1v1h-1zM94 51h3v1h-3zM43 51h1v1h-1zM50 52h1v1h-1zM111 52h1v1h-1zM110 53h1v1h-1zM32 54h1v1h-1zM31 56h1v1h-1zM105 56h1v2h-1zM100 57h4v1h-4zM100 58h5v1h-5zM99 59h4v1h-4zM45 59h1v1h-1zM29 60h1v1h-1zM117 63h1v1h-1zM28 64h1v2h-1zM27 66h1v1h-1zM25 70h1v1h-1zM31 74h1v1h-1zM23 74h1v1h-1zM29 79h1v1h-1zM21 79h1v2h-1zM28 82h1v1h-1zM18 92h1v1h-1zM17 95h1v1h-1zM25 97h1v1h-1zM24 101h1v1h-1zM16 102h1v1h-1zM16 105h1v1h-1zM33 111h1v1h-1zM19 113h1v2h-1zM21 118h1v1h-1zM43 127h1v1h-1zM25 128h1v1h-1zM26 130h1v1h-1zM27 131h1v2h-1zM31 137h1v1h-1zM222 137h5v1h-5zM30 138h1v1h-1zM51 139h1v1h-1zM221 138h6v3h-6zM31 139h2v2h-2zM52 141h1v1h-1zM222 141h5v1h-5zM59 142h1v1h-1zM54 142h1v1h-1zM65 142h1v2h-1zM69 144h1v1h-1zM71 145h1v1h-1zM73 146h1v1h-1zM74 147h1v3h-1zM75 150h1v1h-1zM36 150h1v1h-1zM36 151h3v1h-3zM76 151h1v1h-1zM77 152h1v1h-1zM37 152h4v2h-4zM39 154h1v1h-1zM80 156h1v1h-1zM83 159h1v1h-1zM88 163h2v1h-2zM96 163h1v1h-1zM94 164h1v1h-1zM104 170h1v1h-1zM106 172h1v1h-1zM197 173h6v1h-6zM105 173h1v1h-1zM210 174h3v1h-3zM104 174h1v1h-1zM196 174h9v1h-9zM202 175h12v1h-12zM195 175h3v1h-3zM204 176h10v1h-10zM205 177h9v1h-9zM195 176h2v3h-2zM206 178h9v1h-9zM207 179h9v1h-9zM195 179h3v1h-3zM208 180h9v1h-9zM209 181h9v1h-9zM196 180h2v3h-2zM210 182h9v1h-9zM211 183h8v1h-8zM212 184h7v1h-7zM107 185h1v1h-1zM213 185h6v1h-6zM214 186h5v1h-5zM196 183h3v5h-3zM215 187h3v1h-3zM105 188h1v1h-1zM196 188h4v1h-4zM216 188h2v2h-2zM197 189h3v1h-3zM196 190h3v2h-3zM104 190h1v2h-1zM215 190h2v2h-2zM214 192h2v1h-2zM195 192h3v1h-3zM194 193h3v1h-3zM213 193h2v1h-2zM103 193h1v1h-1zM209 194h5v1h-5zM193 194h3v1h-3zM206 195h5v1h-5zM193 195h2v1h-2zM103 195h1v1h-1zM204 196h3v1h-3zM192 196h3v1h-3zM104 196h1v1h-1zM202 197h3v1h-3zM192 197h4v1h-4zM193 198h10v1h-10zM104 198h1v2h-1zM196 199h6v1h-6zM104 202h1v2h-1zM103 204h1v2h-1zM102 206h2v2h-2zM101 208h4v1h-4zM101 209h5v1h-5zM105 210h2v1h-2zM101 210h2v1h-2zM101 211h1v1h-1zM171 211h3v1h-3zM105 211h3v1h-3zM180 212h2v1h-2zM170 212h6v1h-6zM169 213h7v1h-7zM179 213h4v2h-4zM169 214h8v1h-8zM168 215h14v1h-14zM167 216h13v1h-13zM106 212h2v6h-2zM167 217h11v1h-11zM106 218h3v1h-3zM166 218h11v2h-11zM107 219h3v1h-3zM108 220h3v1h-3zM167 220h11v1h-11zM109 221h4v1h-4zM168 221h10v1h-10zM98 221h1v1h-1zM110 222h8v1h-8zM98 222h2v1h-2zM172 222h7v1h-7zM116 223h8v1h-8zM173 223h7v1h-7zM123 224h4v1h-4zM173 224h8v1h-8zM174 225h8v1h-8zM127 225h2v1h-2zM175 226h8v1h-8zM129 226h1v1h-1zM130 227h1v1h-1zM176 227h6v1h-6zM177 228h4v1h-4zM130 228h2v1h-2zM131 229h1v2h-1zM131 231h2v1h-2zM132 232h1v1h-1zM132 233h2v1h-2zM133 234h1v1h-1zM134 235h2v1h-2zM135 236h2v1h-2zM136 237h2v1h-2zM137 238h3v1h-3zM139 239h3v1h-3zM141 240h15v1h-15zM143 241h16v1h-16zM146 242h15v1h-15zM157 243h6v1h-6zM149 243h2v1h-2zM157 244h12v1h-12zM157 245h13v1h-13zM156 246h15v1h-15zM155 247h4v1h-4zM162 247h9v1h-9zM164 248h6v1h-6zM155 248h2v2h-2zM166 249h3v1h-3zM154 250h2v5h-2zM170 254h2v1h-2zM168 255h4v1h-4zM164 256h7v1h-7zM154 255h3v3h-3zM162 257h8v1h-8zM153 258h5v1h-5zM161 258h6v1h-6zM160 259h6v1h-6zM152 259h7v1h-7zM152 260h13v1h-13zM152 261h12v1h-12zM153 262h10v1h-10zM155 263h7v1h-7zM156 264h5v1h-5zM158 265h1v1h-1z"/>
<path fill="#f8bfa4" stroke="#f8bfa4" d="M54 12h1v1h-1zM100 15h4v1h-4zM105 15h4v1h-4zM76 16h1v1h-1zM54 20h1v1h-1zM3 21h1v1h-1zM54 22h1v1h-1zM7 23h1v1h-1zM56 24h1v2h-1zM2 25h1v1h-1zM54 26h1v1h-1zM53 28h1v1h-1zM58 28h3v1h-3zM39 29h1v1h-1zM52 29h2v1h-2zM51 30h1v1h-1zM45 31h1v1h-1zM46 32h1v1h-1zM36 34h1v1h-1zM115 35h1v1h-1zM115 36h2v1h-2zM112 36h2v1h-2zM62 36h1v1h-1zM48 36h2v1h-2zM100 37h1v1h-1zM104 37h1v1h-1zM116 37h2v1h-2zM45 37h1v1h-1zM46 38h1v1h-1zM105 38h1v2h-1zM47 39h2v1h-2zM44 39h1v1h-1zM60 40h1v1h-1zM102 40h2v1h-2zM49 40h1v2h-1zM107 41h2v1h-2zM99 41h2v2h-2zM108 42h1v2h-1zM106 42h1v2h-1zM48 43h1v1h-1zM87 43h1v1h-1zM85 43h1v1h-1zM57 44h1v1h-1zM107 44h1v1h-1zM84 44h1v1h-1zM47 45h1v1h-1zM47 47h1v1h-1zM46 48h1v1h-1zM91 48h4v1h-4zM100 49h2v1h-2zM91 49h3v1h-3zM96 49h1v1h-1zM110 50h1v1h-1zM114 50h1v1h-1zM33 50h1v1h-1zM97 50h3v1h-3zM93 50h1v1h-1zM102 50h1v1h-1zM44 50h1v1h-1zM97 51h2v1h-2zM111 51h1v1h-1zM51 51h1v1h-1zM117 51h1v1h-1zM99 52h1v1h-1zM43 52h1v1h-1zM115 52h2v1h-2zM102 52h1v1h-1zM95 52h2v1h-2zM111 53h1v1h-1zM32 53h1v1h-1zM48 55h1v1h-1zM107 55h1v1h-1zM94 55h1v1h-1zM47 56h1v1h-1zM104 56h1v1h-1zM94 56h2v1h-2zM106 56h2v2h-2zM95 57h1v1h-1zM30 57h1v1h-1zM99 58h1v1h-1zM105 58h1v1h-1zM29 59h1v1h-1zM103 59h1v1h-1zM100 60h2v1h-2zM42 62h1v1h-1zM116 63h1v1h-1zM118 63h1v2h-1zM30 77h1v1h-1zM21 78h1v1h-1zM20 84h1v2h-1zM27 89h1v1h-1zM16 104h1v1h-1zM16 106h1v1h-1zM16 108h1v2h-1zM17 110h1v1h-1zM34 112h1v1h-1zM18 114h1v1h-1zM36 115h1v1h-1zM20 116h1v2h-1zM21 119h1v1h-1zM40 122h1v1h-1zM41 124h1v1h-1zM42 125h1v1h-1zM44 128h1v1h-1zM25 129h1v1h-1zM46 133h1v1h-1zM226 133h4v1h-4zM222 134h8v1h-8zM220 135h10v1h-10zM47 136h1v1h-1zM218 136h12v1h-12zM217 137h5v1h-5zM50 137h1v1h-1zM48 137h1v1h-1zM31 138h1v1h-1zM51 138h1v1h-1zM216 138h5v3h-5zM227 137h2v5h-2zM217 141h5v1h-5zM218 142h11v1h-11zM67 142h1v1h-1zM68 143h1v1h-1zM219 143h11v1h-11zM60 143h1v1h-1zM220 144h10v1h-10zM70 144h1v1h-1zM74 146h1v1h-1zM35 150h1v1h-1zM36 152h1v1h-1zM78 154h1v1h-1zM79 155h1v1h-1zM81 157h1v1h-1zM82 158h1v1h-1zM90 163h2v1h-2zM92 164h2v1h-2zM183 167h3v1h-3zM182 168h5v1h-5zM181 169h6v1h-6zM103 169h1v1h-1zM105 170h1v1h-1zM211 171h3v1h-3zM106 171h1v1h-1zM198 171h4v1h-4zM208 172h7v1h-7zM195 172h10v1h-10zM180 170h8v4h-8zM203 173h13v1h-13zM194 173h3v1h-3zM106 173h1v1h-1zM205 174h5v1h-5zM105 174h1v1h-1zM213 174h4v1h-4zM192 174h4v1h-4zM214 175h3v2h-3zM105 176h1v1h-1zM189 175h6v3h-6zM214 177h4v1h-4zM192 178h3v1h-3zM215 178h4v1h-4zM193 179h2v1h-2zM104 179h1v1h-1zM216 179h4v1h-4zM217 180h6v1h-6zM218 181h6v1h-6zM107 183h1v1h-1zM219 182h6v3h-6zM219 185h5v1h-5zM219 186h3v1h-3zM107 186h1v1h-1zM194 180h2v8h-2zM218 187h3v1h-3zM193 188h3v1h-3zM218 188h2v2h-2zM193 189h4v1h-4zM105 189h1v1h-1zM217 190h2v1h-2zM193 190h3v1h-3zM192 191h4v1h-4zM217 191h1v1h-1zM192 192h3v1h-3zM104 192h1v1h-1zM216 192h2v1h-2zM191 193h3v1h-3zM215 193h2v1h-2zM214 194h2v1h-2zM191 194h2v1h-2zM103 194h1v1h-1zM190 195h3v1h-3zM211 195h4v1h-4zM188 196h4v1h-4zM207 196h6v1h-6zM187 197h5v1h-5zM205 197h3v1h-3zM203 198h3v1h-3zM186 198h7v1h-7zM186 199h10v1h-10zM202 199h2v1h-2zM186 200h6v1h-6zM194 200h9v1h-9zM104 200h1v2h-1zM105 203h1v1h-1zM104 204h1v3h-1zM104 207h2v1h-2zM178 207h3v1h-3zM105 208h2v1h-2zM173 208h9v1h-9zM106 209h2v1h-2zM171 209h12v1h-12zM107 210h2v1h-2zM170 210h14v1h-14zM169 211h2v1h-2zM108 211h1v1h-1zM174 211h10v1h-10zM176 212h4v1h-4zM169 212h1v1h-1zM182 212h3v1h-3zM168 213h1v1h-1zM176 213h3v1h-3zM183 213h2v2h-2zM177 214h2v1h-2zM167 214h2v1h-2zM108 212h2v4h-2zM182 215h2v1h-2zM166 215h2v1h-2zM180 216h4v1h-4zM108 216h3v2h-3zM165 216h2v2h-2zM178 217h5v1h-5zM109 218h3v1h-3zM177 218h5v2h-5zM164 218h2v2h-2zM110 219h3v1h-3zM111 220h4v1h-4zM164 220h3v1h-3zM178 220h4v2h-4zM165 221h3v1h-3zM113 221h9v1h-9zM165 222h7v1h-7zM179 222h3v1h-3zM118 222h7v1h-7zM166 223h7v1h-7zM180 223h3v1h-3zM124 223h3v1h-3zM181 224h3v1h-3zM168 224h5v1h-5zM127 224h2v1h-2zM168 225h6v1h-6zM129 225h2v1h-2zM182 225h2v1h-2zM169 226h6v1h-6zM183 226h2v1h-2zM130 226h2v1h-2zM172 227h4v1h-4zM131 227h2v1h-2zM182 227h3v1h-3zM181 228h3v1h-3zM174 228h3v1h-3zM132 228h1v2h-1zM175 229h8v1h-8zM176 230h6v1h-6zM132 230h2v1h-2zM133 231h1v1h-1zM133 232h2v1h-2zM134 233h2v1h-2zM134 234h4v1h-4zM136 235h4v1h-4zM137 236h4v1h-4zM138 237h10v1h-10zM140 238h13v1h-13zM142 239h15v1h-15zM156 240h6v1h-6zM180 241h4v1h-4zM159 241h6v1h-6zM161 242h7v1h-7zM180 242h3v1h-3zM163 243h8v1h-8zM181 243h2v1h-2zM181 244h1v1h-1zM169 244h3v1h-3zM170 245h2v1h-2zM171 246h1v2h-1zM159 247h3v1h-3zM157 248h7v1h-7zM170 248h2v1h-2zM157 249h9v1h-9zM169 249h3v1h-3zM156 250h17v1h-17zM156 251h18v1h-18zM156 252h17v2h-17zM156 254h14v1h-14zM157 255h11v1h-11zM157 256h7v1h-7zM157 257h5v1h-5zM158 258h3v1h-3zM159 259h1v1h-1z"/>
<path fill="#f8bb9e" stroke="#f8bb9e" d="M76 15h1v1h-1zM109 15h1v1h-1zM99 15h1v1h-1zM72 16h1v1h-1zM98 16h4v1h-4zM54 19h1v1h-1zM2 20h1v1h-1zM73 20h1v1h-1zM72 21h1v1h-1zM54 21h1v1h-1zM55 22h1v1h-1zM8 23h1v1h-1zM64 24h1v1h-1zM11 24h1v1h-1zM63 25h1v1h-1zM9 25h1v1h-1zM62 26h1v1h-1zM4 26h1v1h-1zM43 28h1v1h-1zM38 29h1v1h-1zM44 29h1v1h-1zM51 29h1v1h-1zM64 29h1v1h-1zM52 30h1v1h-1zM54 30h1v1h-1zM54 32h1v1h-1zM47 33h1v1h-1zM40 34h1v2h-1zM116 35h1v1h-1zM51 35h1v1h-1zM113 35h2v1h-2zM102 35h2v1h-2zM104 36h1v1h-1zM35 36h1v1h-1zM111 36h1v1h-1zM117 36h1v1h-1zM114 36h1v1h-1zM105 37h1v1h-1zM115 37h1v1h-1zM118 37h1v1h-1zM45 38h1v1h-1zM106 38h1v2h-1zM46 39h1v1h-1zM35 39h1v2h-1zM104 40h1v1h-1zM106 41h1v1h-1zM101 41h1v1h-1zM46 41h1v1h-1zM109 41h1v2h-1zM47 42h2v1h-2zM86 42h1v1h-1zM99 43h7v1h-7zM88 43h1v1h-1zM101 44h6v1h-6zM108 44h1v1h-1zM102 45h7v1h-7zM85 45h3v1h-3zM108 46h1v1h-1zM102 46h3v1h-3zM45 46h1v1h-1zM91 47h3v1h-3zM101 47h3v1h-3zM34 47h1v1h-1zM117 47h2v1h-2zM95 48h2v1h-2zM115 48h1v1h-1zM100 48h3v1h-3zM90 48h1v2h-1zM102 49h1v1h-1zM97 49h1v1h-1zM99 49h1v1h-1zM114 49h1v1h-1zM109 49h2v1h-2zM111 50h1v1h-1zM90 50h3v1h-3zM93 51h1v1h-1zM94 52h1v1h-1zM97 52h2v1h-2zM114 52h1v1h-1zM109 50h1v4h-1zM94 53h2v1h-2zM100 53h2v1h-2zM94 54h1v1h-1zM108 54h4v1h-4zM49 54h1v1h-1zM106 55h1v1h-1zM95 55h1v1h-1zM100 56h4v1h-4zM108 55h1v3h-1zM96 57h1v1h-1zM94 57h1v1h-1zM99 57h1v1h-1zM106 58h1v1h-1zM95 58h4v1h-4zM104 59h1v1h-1zM97 59h2v1h-2zM102 60h1v1h-1zM99 60h1v1h-1zM35 70h1v1h-1zM32 73h1v1h-1zM22 76h1v1h-1zM29 80h1v1h-1zM20 83h1v1h-1zM19 87h1v1h-1zM26 95h1v1h-1zM16 103h1v1h-1zM25 103h1v1h-1zM27 104h1v1h-1zM29 106h1v1h-1zM30 107h1v1h-1zM16 107h1v1h-1zM32 109h1v1h-1zM33 110h1v1h-1zM16 110h1v1h-1zM18 111h1v3h-1zM35 113h1v1h-1zM19 115h1v2h-1zM44 127h2v1h-2zM45 128h1v1h-1zM228 130h3v1h-3zM225 131h7v1h-7zM222 132h11v1h-11zM218 133h8v1h-8zM214 134h8v1h-8zM213 135h7v1h-7zM230 133h3v4h-3zM213 136h5v1h-5zM229 137h3v1h-3zM212 137h5v1h-5zM49 137h1v1h-1zM212 138h4v2h-4zM235 139h2v1h-2zM229 138h2v3h-2zM52 140h1v1h-1zM211 140h5v1h-5zM235 140h1v1h-1zM56 141h3v1h-3zM53 141h1v1h-1zM229 141h3v1h-3zM211 141h6v1h-6zM64 141h3v1h-3zM211 142h7v1h-7zM229 142h5v1h-5zM68 142h1v1h-1zM64 142h1v2h-1zM211 143h8v1h-8zM230 143h4v2h-4zM211 144h9v1h-9zM71 144h1v1h-1zM216 145h18v1h-18zM72 145h1v1h-1zM218 146h16v1h-16zM220 147h13v1h-13zM222 148h6v1h-6zM223 149h3v1h-3zM75 149h1v1h-1zM77 151h3v1h-3zM78 152h3v1h-3zM78 153h1v1h-1zM80 153h1v1h-1zM79 154h2v1h-2zM80 155h2v1h-2zM81 156h1v1h-1zM84 159h1v1h-1zM85 160h1v1h-1zM86 161h1v1h-1zM96 162h3v1h-3zM87 162h1v1h-1zM95 163h1v1h-1zM100 163h1v2h-1zM184 164h2v1h-2zM183 165h5v1h-5zM100 166h1v1h-1zM181 166h7v1h-7zM186 167h3v1h-3zM180 167h3v1h-3zM178 168h4v1h-4zM187 168h3v2h-3zM104 169h1v1h-1zM212 169h2v1h-2zM177 169h4v1h-4zM195 169h5v1h-5zM193 170h11v1h-11zM209 170h7v1h-7zM188 170h3v1h-3zM202 171h9v1h-9zM214 171h3v1h-3zM188 171h10v1h-10zM205 172h3v1h-3zM215 172h3v1h-3zM188 172h7v1h-7zM176 170h4v4h-4zM188 173h6v1h-6zM216 173h2v1h-2zM177 174h15v1h-15zM217 174h2v2h-2zM177 175h12v1h-12zM105 175h1v1h-1zM217 176h3v1h-3zM178 176h11v1h-11zM179 177h10v1h-10zM218 177h3v1h-3zM180 178h12v1h-12zM219 178h5v1h-5zM220 179h6v1h-6zM181 179h12v1h-12zM181 180h13v1h-13zM223 180h3v1h-3zM224 181h3v1h-3zM105 181h1v1h-1zM182 181h12v1h-12zM106 182h1v1h-1zM182 182h7v1h-7zM183 183h5v1h-5zM192 182h2v3h-2zM225 182h2v3h-2zM224 185h2v1h-2zM191 185h3v1h-3zM222 186h3v1h-3zM190 186h4v1h-4zM221 187h3v1h-3zM107 187h1v1h-1zM187 187h7v1h-7zM106 188h1v1h-1zM187 188h6v1h-6zM220 188h2v1h-2zM220 189h1v1h-1zM186 189h7v1h-7zM187 190h6v1h-6zM219 190h1v1h-1zM218 191h2v1h-2zM105 190h1v3h-1zM187 191h5v2h-5zM218 192h1v1h-1zM217 193h2v1h-2zM187 193h4v2h-4zM216 194h2v1h-2zM104 193h1v3h-1zM215 195h2v1h-2zM186 195h4v1h-4zM213 196h3v1h-3zM185 196h3v1h-3zM208 197h6v1h-6zM184 197h3v1h-3zM206 198h4v1h-4zM183 198h3v1h-3zM182 199h4v1h-4zM204 199h3v1h-3zM181 200h5v1h-5zM192 200h2v1h-2zM203 200h3v1h-3zM180 201h25v1h-25zM105 197h1v6h-1zM179 202h12v1h-12zM178 203h9v1h-9zM177 204h8v1h-8zM105 204h1v2h-1zM175 205h10v1h-10zM172 206h13v1h-13zM105 206h2v1h-2zM181 207h4v1h-4zM170 207h8v1h-8zM106 207h2v1h-2zM107 208h2v1h-2zM182 208h3v1h-3zM170 208h3v1h-3zM108 209h1v1h-1zM183 209h2v1h-2zM169 209h2v1h-2zM184 210h1v1h-1zM109 210h1v1h-1zM168 210h2v1h-2zM184 211h2v1h-2zM109 211h2v1h-2zM168 211h1v1h-1zM167 212h2v1h-2zM166 213h2v1h-2zM185 212h1v3h-1zM165 214h2v1h-2zM110 212h2v4h-2zM165 215h1v1h-1zM184 215h2v1h-2zM164 216h1v1h-1zM184 216h1v1h-1zM111 216h2v2h-2zM183 217h1v1h-1zM163 217h2v1h-2zM112 218h3v1h-3zM182 218h2v1h-2zM113 219h4v1h-4zM163 218h1v3h-1zM115 220h10v1h-10zM182 219h1v3h-1zM122 221h4v1h-4zM163 221h2v2h-2zM182 222h2v1h-2zM125 222h3v1h-3zM183 223h2v1h-2zM127 223h3v1h-3zM164 223h2v1h-2zM184 224h1v1h-1zM129 224h2v1h-2zM165 224h3v2h-3zM131 225h2v1h-2zM184 225h2v1h-2zM165 226h4v1h-4zM132 226h2v1h-2zM185 226h1v2h-1zM133 227h1v1h-1zM165 227h7v1h-7zM165 228h9v1h-9zM184 228h2v1h-2zM133 228h2v2h-2zM165 229h10v1h-10zM183 229h3v1h-3zM182 230h3v1h-3zM134 230h2v1h-2zM165 230h11v1h-11zM134 231h3v1h-3zM166 231h18v1h-18zM167 232h5v1h-5zM174 232h8v1h-8zM135 232h8v1h-8zM175 233h5v1h-5zM136 233h8v1h-8zM176 234h3v1h-3zM138 234h8v1h-8zM140 235h8v1h-8zM141 236h10v1h-10zM177 237h4v1h-4zM148 237h6v1h-6zM176 238h8v1h-8zM153 238h5v1h-5zM157 239h11v1h-11zM175 239h10v1h-10zM175 240h9v1h-9zM162 240h8v1h-8zM165 241h15v1h-15zM168 242h12v1h-12zM171 243h10v1h-10zM172 244h9v2h-9zM172 246h8v1h-8zM172 247h7v1h-7zM172 248h6v1h-6zM172 249h5v1h-5zM173 250h3v1h-3z"/>
<path fill="#f7b596" stroke="#f7b596" d="M53 10h1v1h-1zM49 11h1v1h-1zM54 11h1v1h-1zM50 13h1v1h-1zM104 14h2v1h-2zM82 14h2v1h-2zM91 15h3v1h-3zM96 15h3v1h-3zM110 15h1v1h-1zM54 18h1v1h-1zM0 19h2v1h-2zM4 21h1v1h-1zM5 22h1v1h-1zM71 22h1v1h-1zM56 23h1v1h-1zM9 23h2v1h-2zM70 23h1v1h-1zM0 24h1v1h-1zM1 25h1v1h-1zM3 26h1v1h-1zM53 27h1v1h-1zM52 28h1v1h-1zM42 28h1v1h-1zM40 29h2v1h-2zM51 31h1v1h-1zM35 31h1v2h-1zM52 33h1v1h-1zM101 35h1v1h-1zM112 35h1v1h-1zM117 35h1v1h-1zM48 35h1v1h-1zM100 36h1v1h-1zM118 36h1v1h-1zM106 37h3v1h-3zM111 37h4v1h-4zM107 38h2v1h-2zM116 38h2v1h-2zM107 39h1v1h-1zM85 39h1v1h-1zM99 38h1v3h-1zM105 40h5v1h-5zM45 40h1v1h-1zM47 40h2v2h-2zM102 41h4v1h-4zM110 41h1v2h-1zM85 42h1v1h-1zM101 42h1v1h-1zM103 42h3v1h-3zM87 42h2v1h-2zM98 42h1v2h-1zM58 43h1v1h-1zM84 43h1v1h-1zM98 44h3v1h-3zM88 44h1v2h-1zM84 45h1v1h-1zM46 45h1v1h-1zM98 45h4v1h-4zM109 43h1v4h-1zM105 46h3v1h-3zM90 46h1v1h-1zM100 46h2v1h-2zM47 46h1v1h-1zM118 46h3v1h-3zM100 47h1v1h-1zM104 47h1v1h-1zM108 47h2v1h-2zM116 47h1v1h-1zM94 47h1v1h-1zM119 47h2v1h-2zM89 47h2v1h-2zM44 48h1v1h-1zM89 48h1v1h-1zM97 48h1v1h-1zM103 48h1v1h-1zM99 48h1v1h-1zM109 48h2v1h-2zM45 49h1v1h-1zM53 49h1v1h-1zM98 49h1v1h-1zM111 49h1v1h-1zM118 48h1v3h-1zM89 50h1v1h-1zM103 50h1v2h-1zM89 51h4v1h-4zM112 50h2v3h-2zM96 53h1v1h-1zM102 53h1v1h-1zM112 53h1v1h-1zM99 53h1v1h-1zM108 53h1v1h-1zM107 54h1v1h-1zM95 54h1v1h-1zM93 52h1v4h-1zM109 55h1v1h-1zM105 55h1v1h-1zM96 56h1v1h-1zM107 58h1v1h-1zM94 58h1v1h-1zM46 58h1v1h-1zM105 59h1v1h-1zM95 59h2v1h-2zM98 60h1v1h-1zM103 60h1v1h-1zM100 61h2v1h-2zM28 62h1v1h-1zM115 62h2v1h-2zM117 64h1v1h-1zM38 67h1v1h-1zM37 68h1v1h-1zM25 69h1v1h-1zM24 71h1v1h-1zM33 72h1v1h-1zM20 82h1v1h-1zM28 83h1v1h-1zM28 86h1v1h-1zM27 90h1v1h-1zM16 96h1v1h-1zM28 105h1v1h-1zM31 108h1v1h-1zM33 109h1v1h-1zM34 110h1v2h-1zM17 111h1v1h-1zM17 113h1v1h-1zM37 116h1v1h-1zM39 120h1v1h-1zM43 126h1v1h-1zM227 128h5v1h-5zM225 129h9v1h-9zM45 129h1v1h-1zM223 130h5v1h-5zM231 130h4v1h-4zM218 131h7v1h-7zM45 131h1v1h-1zM232 131h3v1h-3zM213 132h9v1h-9zM233 132h3v2h-3zM48 132h1v2h-1zM212 133h6v1h-6zM211 134h3v1h-3zM233 134h4v1h-4zM47 134h1v2h-1zM233 135h5v1h-5zM211 135h2v2h-2zM233 136h6v1h-6zM51 137h1v1h-1zM232 137h7v1h-7zM231 138h9v1h-9zM210 137h2v3h-2zM237 139h3v1h-3zM52 139h1v1h-1zM231 139h4v2h-4zM53 140h1v1h-1zM210 140h1v1h-1zM236 140h3v1h-3zM59 141h1v1h-1zM54 141h2v1h-2zM67 141h1v1h-1zM232 141h7v1h-7zM234 142h5v1h-5zM69 143h1v1h-1zM209 141h2v4h-2zM234 143h4v2h-4zM73 145h1v1h-1zM209 145h7v1h-7zM234 145h3v2h-3zM209 146h9v1h-9zM209 147h11v1h-11zM233 147h3v1h-3zM75 147h1v2h-1zM228 148h7v1h-7zM210 148h12v1h-12zM226 149h8v1h-8zM216 149h7v1h-7zM76 150h4v1h-4zM216 150h14v1h-14zM80 151h1v1h-1zM216 151h13v1h-13zM216 152h12v2h-12zM197 153h3v1h-3zM79 153h1v1h-1zM81 152h1v3h-1zM217 154h9v1h-9zM196 154h5v1h-5zM196 155h6v2h-6zM82 157h1v1h-1zM197 157h5v1h-5zM198 158h4v1h-4zM83 158h2v1h-2zM199 159h2v1h-2zM88 162h4v1h-4zM184 162h3v1h-3zM99 162h1v1h-1zM92 163h1v1h-1zM183 163h5v1h-5zM186 164h4v1h-4zM181 164h3v1h-3zM100 165h1v1h-1zM180 165h3v1h-3zM188 165h3v1h-3zM188 166h11v1h-11zM178 166h3v1h-3zM175 167h5v1h-5zM212 167h3v1h-3zM189 167h12v1h-12zM210 168h6v1h-6zM173 168h5v1h-5zM102 168h2v1h-2zM190 168h14v1h-14zM190 169h5v1h-5zM105 169h1v1h-1zM214 169h3v1h-3zM200 169h12v1h-12zM172 169h5v1h-5zM191 170h2v1h-2zM106 170h1v1h-1zM204 170h5v1h-5zM216 170h2v1h-2zM172 170h4v1h-4zM217 171h2v1h-2zM173 171h3v2h-3zM218 172h2v1h-2zM218 173h3v1h-3zM174 173h2v1h-2zM219 174h2v1h-2zM106 174h1v1h-1zM174 174h3v1h-3zM219 175h3v1h-3zM175 175h2v1h-2zM175 176h3v1h-3zM220 176h5v1h-5zM221 177h6v1h-6zM105 177h1v1h-1zM176 177h3v1h-3zM177 178h3v1h-3zM224 178h4v1h-4zM226 179h2v2h-2zM178 179h3v2h-3zM227 181h2v2h-2zM179 181h3v2h-3zM189 182h3v1h-3zM180 183h3v1h-3zM188 183h4v1h-4zM227 183h1v2h-1zM180 184h12v1h-12zM108 184h1v2h-1zM226 185h2v1h-2zM180 185h11v1h-11zM181 186h9v1h-9zM225 186h2v1h-2zM224 187h2v1h-2zM181 187h6v1h-6zM222 188h3v1h-3zM182 188h5v1h-5zM106 189h1v1h-1zM183 189h3v1h-3zM221 189h2v1h-2zM220 190h2v1h-2zM220 191h1v1h-1zM219 192h2v1h-2zM219 193h1v1h-1zM184 190h3v5h-3zM105 193h1v2h-1zM218 194h2v1h-2zM217 195h2v1h-2zM183 195h3v1h-3zM105 196h1v1h-1zM216 196h2v1h-2zM182 196h3v1h-3zM214 197h3v1h-3zM181 197h3v1h-3zM210 198h6v1h-6zM180 198h3v1h-3zM178 199h4v1h-4zM207 199h6v1h-6zM106 198h1v3h-1zM177 200h4v1h-4zM206 200h4v1h-4zM205 201h4v1h-4zM176 201h4v1h-4zM106 202h1v1h-1zM191 202h17v1h-17zM175 202h4v1h-4zM200 203h8v1h-8zM173 203h5v1h-5zM187 203h6v1h-6zM185 204h6v1h-6zM204 204h3v1h-3zM171 204h6v1h-6zM106 203h3v3h-3zM185 205h4v1h-4zM169 205h6v1h-6zM107 206h2v1h-2zM169 206h3v1h-3zM185 206h3v1h-3zM108 207h2v1h-2zM168 207h2v2h-2zM109 208h1v1h-1zM109 209h2v1h-2zM168 209h1v1h-1zM185 207h2v4h-2zM110 210h2v1h-2zM167 210h1v2h-1zM111 211h2v1h-2zM186 211h1v2h-1zM166 212h1v1h-1zM112 212h1v1h-1zM165 213h1v1h-1zM186 213h2v1h-2zM164 214h1v1h-1zM112 213h2v3h-2zM186 214h1v2h-1zM163 215h2v1h-2zM162 216h2v1h-2zM113 216h2v1h-2zM185 216h1v1h-1zM119 217h5v1h-5zM184 217h2v1h-2zM113 217h4v1h-4zM184 218h1v1h-1zM115 218h10v1h-10zM117 219h9v1h-9zM125 220h2v1h-2zM183 219h2v3h-2zM126 221h2v1h-2zM162 217h1v6h-1zM184 222h1v1h-1zM128 222h2v1h-2zM162 223h2v1h-2zM130 223h2v1h-2zM185 223h1v1h-1zM185 224h2v1h-2zM131 224h3v1h-3zM162 224h3v2h-3zM186 225h1v1h-1zM133 225h2v1h-2zM161 226h4v2h-4zM134 226h2v2h-2zM186 226h2v3h-2zM135 228h2v1h-2zM186 229h1v1h-1zM135 229h4v1h-4zM160 228h5v3h-5zM136 230h7v1h-7zM185 230h2v1h-2zM160 231h6v1h-6zM137 231h8v1h-8zM184 231h3v1h-3zM143 232h3v1h-3zM182 232h5v1h-5zM172 232h2v1h-2zM160 232h7v1h-7zM180 233h6v1h-6zM160 233h15v1h-15zM144 233h4v1h-4zM179 234h7v1h-7zM161 234h15v1h-15zM146 234h3v1h-3zM148 235h4v1h-4zM160 235h27v1h-27zM151 236h4v1h-4zM159 236h28v1h-28zM181 237h5v1h-5zM154 237h23v1h-23zM158 238h18v1h-18zM184 238h2v1h-2zM168 239h7v1h-7zM170 240h5v1h-5z"/>
<path fill="#f6af8e" stroke="#f6af8e" d="M49 12h1v1h-1zM84 14h1v1h-1zM106 14h4v1h-4zM102 14h2v1h-2zM52 14h1v1h-1zM90 15h1v1h-1zM94 15h2v1h-2zM102 16h2v1h-2zM97 16h1v1h-1zM53 17h2v1h-2zM2 19h2v1h-2zM74 19h1v1h-1zM3 20h2v1h-2zM55 21h1v1h-1zM6 22h1v1h-1zM11 23h1v1h-1zM12 24h1v1h-1zM53 24h1v1h-1zM0 25h1v1h-1zM2 26h1v1h-1zM57 26h1v1h-1zM5 26h1v1h-1zM58 27h2v1h-2zM61 27h1v1h-1zM36 30h1v1h-1zM45 30h1v1h-1zM50 30h1v1h-1zM46 31h1v1h-1zM52 31h1v1h-1zM63 31h1v1h-1zM47 32h1v1h-1zM53 32h1v1h-1zM115 34h3v1h-3zM103 34h1v1h-1zM111 35h1v1h-1zM118 35h1v1h-1zM50 35h1v1h-1zM104 35h1v1h-1zM105 36h1v1h-1zM93 36h2v1h-2zM109 36h2v2h-2zM62 37h1v1h-1zM92 37h3v1h-3zM99 37h1v1h-1zM119 37h1v1h-1zM109 38h1v1h-1zM93 38h1v1h-1zM118 38h1v1h-1zM115 38h1v1h-1zM108 39h2v1h-2zM86 39h1v1h-1zM45 39h1v1h-1zM122 38h2v3h-2zM46 40h1v1h-1zM110 40h1v1h-1zM85 40h2v2h-2zM98 41h1v1h-1zM122 41h1v1h-1zM111 41h1v2h-1zM102 42h1v1h-1zM110 43h1v2h-1zM97 44h1v2h-1zM119 45h2v1h-2zM89 45h2v1h-2zM121 46h1v1h-1zM91 46h1v1h-1zM117 46h1v1h-1zM88 46h2v1h-2zM97 46h3v1h-3zM34 46h1v1h-1zM110 46h1v2h-1zM115 47h1v1h-1zM105 47h3v1h-3zM95 47h5v1h-5zM45 47h2v1h-2zM88 47h1v2h-1zM114 48h1v1h-1zM98 48h1v1h-1zM108 48h1v1h-1zM104 48h1v1h-1zM119 48h1v1h-1zM54 48h1v1h-1zM103 49h1v1h-1zM113 49h1v1h-1zM88 49h2v1h-2zM44 49h1v1h-1zM88 50h1v1h-1zM52 50h1v1h-1zM87 51h2v1h-2zM92 52h1v1h-1zM103 52h1v1h-1zM51 52h1v1h-1zM32 52h1v1h-1zM87 52h4v1h-4zM117 52h1v1h-1zM108 52h1v1h-1zM113 53h3v1h-3zM97 53h2v1h-2zM50 53h1v1h-1zM112 54h1v1h-1zM100 54h3v1h-3zM106 54h1v1h-1zM96 54h1v2h-1zM110 55h1v1h-1zM100 55h5v1h-5zM99 56h1v1h-1zM109 56h1v1h-1zM93 56h1v2h-1zM97 57h2v1h-2zM29 58h1v1h-1zM108 58h1v1h-1zM94 59h1v1h-1zM106 59h1v1h-1zM97 60h1v1h-1zM104 60h1v1h-1zM44 61h1v1h-1zM99 61h1v1h-1zM102 61h2v1h-2zM117 62h1v1h-1zM115 63h1v1h-1zM41 64h1v1h-1zM40 65h1v1h-1zM39 66h1v1h-1zM25 68h1v1h-1zM36 69h1v1h-1zM34 71h1v1h-1zM23 73h1v1h-1zM22 75h1v1h-1zM31 75h1v1h-1zM21 77h1v1h-1zM29 81h1v1h-1zM28 85h1v1h-1zM28 87h1v1h-1zM18 88h1v1h-1zM17 94h1v1h-1zM25 98h1v1h-1zM25 102h1v1h-1zM26 103h1v1h-1zM34 109h1v1h-1zM16 111h1v1h-1zM17 112h1v1h-1zM35 112h1v1h-1zM36 114h1v1h-1zM228 125h4v1h-4zM226 126h8v1h-8zM225 127h11v1h-11zM232 128h4v1h-4zM223 128h4v1h-4zM234 129h3v1h-3zM220 129h5v1h-5zM213 130h10v1h-10zM45 130h1v1h-1zM235 130h2v2h-2zM211 131h7v1h-7zM210 132h3v1h-3zM46 132h2v1h-2zM236 132h2v2h-2zM47 133h1v1h-1zM210 133h2v1h-2zM237 134h2v1h-2zM210 134h1v1h-1zM48 134h1v1h-1zM238 135h2v1h-2zM209 135h2v2h-2zM48 136h2v1h-2zM239 136h2v2h-2zM52 138h1v1h-1zM209 137h1v3h-1zM240 138h2v2h-2zM58 140h2v1h-2zM208 140h2v1h-2zM68 141h1v1h-1zM239 140h2v3h-2zM60 142h1v1h-1zM69 142h1v1h-1zM208 141h1v3h-1zM70 143h1v1h-1zM61 143h3v1h-3zM238 143h2v2h-2zM72 144h1v1h-1zM237 145h2v2h-2zM75 146h1v1h-1zM207 144h2v4h-2zM236 147h3v1h-3zM207 148h3v1h-3zM235 148h3v1h-3zM234 149h4v1h-4zM207 149h9v1h-9zM76 149h1v1h-1zM208 150h8v1h-8zM230 150h8v1h-8zM229 151h8v1h-8zM81 151h1v1h-1zM196 151h4v1h-4zM210 151h6v1h-6zM195 152h7v1h-7zM211 152h5v1h-5zM228 152h9v2h-9zM212 153h4v1h-4zM200 153h3v1h-3zM194 153h3v1h-3zM82 153h1v2h-1zM211 154h6v1h-6zM201 154h3v1h-3zM226 154h11v1h-11zM194 154h2v2h-2zM211 155h26v1h-26zM82 155h2v1h-2zM202 155h2v1h-2zM193 156h3v1h-3zM210 156h25v1h-25zM82 156h3v1h-3zM202 156h3v2h-3zM209 157h19v1h-19zM194 157h3v1h-3zM83 157h3v1h-3zM194 158h4v1h-4zM208 158h17v1h-17zM202 158h4v1h-4zM85 158h1v2h-1zM195 159h4v1h-4zM216 159h7v1h-7zM201 159h5v1h-5zM208 159h7v1h-7zM184 160h3v1h-3zM86 160h1v1h-1zM209 160h3v1h-3zM218 160h4v1h-4zM88 160h2v1h-2zM195 160h10v1h-10zM183 161h6v1h-6zM196 161h8v1h-8zM87 161h4v1h-4zM95 162h1v1h-1zM187 162h5v1h-5zM182 162h2v1h-2zM195 162h8v1h-8zM100 162h1v1h-1zM180 163h3v1h-3zM214 163h2v1h-2zM188 163h14v1h-14zM179 164h2v1h-2zM190 164h12v1h-12zM212 164h5v1h-5zM211 165h6v1h-6zM191 165h12v1h-12zM176 165h4v1h-4zM199 166h5v1h-5zM172 166h6v1h-6zM209 166h9v1h-9zM171 167h4v1h-4zM215 167h3v1h-3zM201 167h11v1h-11zM170 168h3v1h-3zM204 168h6v1h-6zM104 168h1v1h-1zM216 168h3v1h-3zM217 169h3v1h-3zM170 169h2v2h-2zM218 170h3v1h-3zM170 171h3v1h-3zM219 171h4v1h-4zM171 172h2v1h-2zM220 172h4v1h-4zM172 173h2v1h-2zM221 173h4v1h-4zM107 171h1v4h-1zM173 174h1v1h-1zM221 174h6v1h-6zM173 175h2v1h-2zM222 175h6v1h-6zM106 175h1v2h-1zM174 176h1v1h-1zM225 176h4v1h-4zM175 177h1v1h-1zM227 177h2v1h-2zM105 178h1v1h-1zM175 178h2v1h-2zM176 179h2v1h-2zM228 178h2v3h-2zM105 180h1v1h-1zM177 180h1v1h-1zM177 181h2v1h-2zM229 181h1v2h-1zM107 182h1v1h-1zM178 182h1v1h-1zM108 183h1v1h-1zM178 183h2v2h-2zM228 183h2v2h-2zM228 185h1v1h-1zM179 185h1v1h-1zM108 186h1v1h-1zM227 186h2v1h-2zM179 186h2v2h-2zM226 187h2v1h-2zM107 188h1v1h-1zM225 188h2v1h-2zM179 188h3v1h-3zM180 189h3v1h-3zM223 189h3v1h-3zM180 190h4v1h-4zM222 190h2v1h-2zM221 191h2v1h-2zM221 192h1v1h-1zM106 190h1v4h-1zM220 193h2v1h-2zM181 191h3v4h-3zM106 194h2v1h-2zM220 194h1v1h-1zM180 195h3v1h-3zM219 195h2v1h-2zM105 195h3v1h-3zM218 196h2v1h-2zM180 196h2v1h-2zM179 197h2v1h-2zM217 197h3v1h-3zM106 197h1v1h-1zM177 198h3v1h-3zM216 198h3v1h-3zM107 199h1v1h-1zM213 199h5v1h-5zM176 199h2v1h-2zM175 200h2v1h-2zM107 200h2v1h-2zM210 200h6v1h-6zM106 201h4v1h-4zM209 201h5v1h-5zM173 201h3v1h-3zM107 202h3v1h-3zM170 202h5v1h-5zM208 202h4v1h-4zM208 203h3v1h-3zM193 203h7v1h-7zM168 203h5v1h-5zM167 204h4v1h-4zM207 204h3v1h-3zM200 204h4v1h-4zM191 204h4v1h-4zM189 205h4v1h-4zM202 205h8v1h-8zM109 203h2v4h-2zM167 205h2v2h-2zM204 206h5v1h-5zM188 206h5v1h-5zM110 207h2v1h-2zM187 207h5v1h-5zM205 207h3v1h-3zM167 207h1v2h-1zM110 208h3v1h-3zM187 208h4v2h-4zM166 209h2v1h-2zM111 209h2v1h-2zM187 210h3v1h-3zM166 210h1v1h-1zM112 210h2v1h-2zM165 211h2v1h-2zM113 211h2v2h-2zM187 211h2v2h-2zM164 212h2v1h-2zM114 213h2v1h-2zM121 213h1v1h-1zM188 213h1v1h-1zM163 213h2v1h-2zM162 214h2v1h-2zM114 214h10v1h-10zM187 214h2v2h-2zM114 215h11v1h-11zM161 215h2v1h-2zM186 216h2v1h-2zM115 216h11v1h-11zM161 216h1v2h-1zM117 217h2v1h-2zM124 217h2v1h-2zM186 217h1v1h-1zM125 218h2v1h-2zM185 218h2v1h-2zM126 219h2v1h-2zM127 220h2v1h-2zM160 218h2v4h-2zM185 219h1v3h-1zM128 221h2v1h-2zM185 222h2v1h-2zM130 222h2v1h-2zM159 222h3v2h-3zM132 223h2v1h-2zM186 223h2v1h-2zM187 224h1v1h-1zM134 224h1v1h-1zM158 224h4v2h-4zM135 225h1v1h-1zM187 225h2v1h-2zM136 226h1v1h-1zM157 226h4v2h-4zM136 227h3v1h-3zM188 226h1v3h-1zM137 228h5v1h-5zM139 229h5v1h-5zM187 229h2v2h-2zM143 230h3v1h-3zM157 228h3v4h-3zM145 231h2v1h-2zM187 231h3v1h-3zM187 232h4v1h-4zM146 232h3v1h-3zM158 232h2v2h-2zM148 233h3v1h-3zM186 233h4v1h-4zM149 234h4v1h-4zM186 234h3v1h-3zM157 234h4v1h-4zM152 235h8v1h-8zM187 235h1v1h-1zM155 236h4v1h-4z"/>
<path fill="#f5aa89" stroke="#f5aa89" d="M100 14h2v1h-2zM110 14h1v1h-1zM73 15h1v1h-1zM0 16h1v1h-1zM104 16h6v1h-6zM93 16h4v1h-4zM0 17h3v1h-3zM0 18h4v1h-4zM53 18h1v1h-1zM4 19h1v1h-1zM55 20h1v1h-1zM5 21h2v1h-2zM7 22h1v1h-1zM12 23h1v1h-1zM10 25h1v1h-1zM53 25h1v2h-1zM6 26h2v1h-2zM0 26h2v1h-2zM0 27h5v1h-5zM60 27h1v1h-1zM51 28h1v1h-1zM37 29h1v1h-1zM53 30h1v1h-1zM50 31h1v1h-1zM54 31h1v1h-1zM52 32h1v1h-1zM101 33h1v1h-1zM35 33h1v1h-1zM48 33h1v2h-1zM101 34h2v1h-2zM118 34h1v1h-1zM114 34h1v1h-1zM49 35h1v1h-1zM110 35h1v1h-1zM100 35h1v1h-1zM94 35h2v1h-2zM35 35h1v1h-1zM119 36h1v1h-1zM106 36h3v1h-3zM95 36h1v2h-1zM122 37h3v1h-3zM110 38h5v1h-5zM119 38h1v1h-1zM85 38h3v1h-3zM124 38h1v2h-1zM94 38h1v2h-1zM84 39h1v1h-1zM110 39h3v1h-3zM61 39h1v1h-1zM111 40h2v1h-2zM121 38h1v4h-1zM112 41h1v1h-1zM87 41h1v1h-1zM123 41h1v1h-1zM59 42h1v1h-1zM112 42h2v1h-2zM84 42h1v1h-1zM122 42h2v1h-2zM97 42h1v2h-1zM111 43h4v1h-4zM89 42h1v3h-1zM113 44h2v1h-2zM83 43h1v3h-1zM121 45h2v1h-2zM116 45h3v1h-3zM110 45h1v1h-1zM96 45h1v1h-1zM34 45h1v1h-1zM95 46h2v1h-2zM122 46h1v1h-1zM46 46h1v1h-1zM92 46h2v1h-2zM84 46h2v1h-2zM115 46h2v1h-2zM87 46h1v1h-1zM121 47h1v1h-1zM111 47h1v2h-1zM105 48h1v1h-1zM107 48h1v1h-1zM84 48h2v1h-2zM87 48h1v1h-1zM120 48h1v1h-1zM45 48h1v1h-1zM112 49h1v1h-1zM119 49h1v1h-1zM33 49h1v1h-1zM84 49h4v2h-4zM108 49h1v3h-1zM118 51h1v1h-1zM86 51h1v2h-1zM91 52h1v1h-1zM107 53h1v1h-1zM103 53h1v1h-1zM116 53h1v1h-1zM87 53h6v1h-6zM92 54h1v2h-1zM97 54h3v2h-3zM111 55h1v1h-1zM49 55h1v1h-1zM31 55h1v1h-1zM97 56h2v1h-2zM110 56h1v1h-1zM48 56h1v1h-1zM47 57h1v1h-1zM109 57h1v1h-1zM93 58h1v1h-1zM107 59h2v1h-2zM95 60h2v1h-2zM45 60h1v1h-1zM105 60h2v1h-2zM28 61h1v1h-1zM104 61h1v1h-1zM98 61h1v1h-1zM118 62h1v1h-1zM43 62h1v1h-1zM100 62h3v1h-3zM42 63h1v1h-1zM119 63h1v2h-1zM116 64h1v1h-1zM27 65h1v1h-1zM26 66h1v1h-1zM31 76h1v1h-1zM30 78h1v1h-1zM28 84h1v1h-1zM19 86h1v1h-1zM17 90h1v2h-1zM27 91h1v1h-1zM17 93h1v1h-1zM26 96h1v1h-1zM25 99h1v1h-1zM27 103h1v1h-1zM28 104h1v1h-1zM15 105h1v2h-1zM33 108h3v1h-3zM15 110h1v1h-1zM35 109h1v3h-1zM16 112h1v1h-1zM38 118h1v1h-1zM227 123h7v1h-7zM226 124h10v1h-10zM224 125h4v1h-4zM232 125h5v1h-5zM44 126h1v1h-1zM223 126h3v1h-3zM234 126h4v1h-4zM221 127h4v1h-4zM236 127h2v1h-2zM46 127h1v2h-1zM212 128h11v1h-11zM236 128h3v1h-3zM210 129h10v1h-10zM209 130h4v1h-4zM237 129h2v3h-2zM46 131h3v1h-3zM209 131h2v1h-2zM238 132h1v1h-1zM238 133h2v1h-2zM49 132h1v3h-1zM208 132h2v3h-2zM239 134h2v1h-2zM48 135h1v1h-1zM240 135h3v1h-3zM241 136h2v1h-2zM50 136h3v1h-3zM208 135h1v3h-1zM52 137h4v1h-4zM241 137h3v1h-3zM56 138h1v1h-1zM207 138h2v2h-2zM242 138h2v2h-2zM53 139h1v1h-1zM57 139h1v1h-1zM54 140h4v1h-4zM207 140h1v1h-1zM64 140h2v1h-2zM241 140h2v2h-2zM60 141h1v1h-1zM63 141h1v2h-1zM241 142h1v1h-1zM206 141h2v3h-2zM71 143h1v1h-1zM240 143h2v2h-2zM206 144h1v2h-1zM74 145h1v1h-1zM239 145h2v3h-2zM76 148h1v1h-1zM205 146h2v4h-2zM77 149h3v1h-3zM238 148h2v3h-2zM195 150h7v1h-7zM80 150h1v1h-1zM204 150h4v1h-4zM194 151h2v1h-2zM200 151h10v1h-10zM193 152h2v1h-2zM82 152h1v1h-1zM202 152h9v1h-9zM203 153h9v1h-9zM192 153h2v2h-2zM83 154h2v1h-2zM237 151h3v5h-3zM204 154h7v2h-7zM84 155h3v1h-3zM191 155h3v1h-3zM205 156h5v1h-5zM85 156h3v1h-3zM235 156h4v1h-4zM191 156h2v1h-2zM185 157h2v1h-2zM190 157h4v1h-4zM205 157h4v1h-4zM228 157h11v1h-11zM86 157h2v1h-2zM86 158h1v1h-1zM225 158h13v1h-13zM88 158h2v1h-2zM184 158h10v1h-10zM206 158h2v2h-2zM223 159h10v1h-10zM183 159h12v1h-12zM215 159h1v1h-1zM86 159h4v1h-4zM187 160h8v1h-8zM90 160h1v1h-1zM205 160h4v1h-4zM212 160h6v1h-6zM222 160h8v1h-8zM182 160h2v1h-2zM87 160h1v1h-1zM204 161h25v1h-25zM181 161h2v1h-2zM91 161h1v1h-1zM189 161h7v1h-7zM96 161h1v1h-1zM92 162h1v1h-1zM94 162h1v1h-1zM192 162h3v1h-3zM179 162h3v1h-3zM203 162h25v1h-25zM101 162h1v2h-1zM177 163h3v1h-3zM93 163h2v1h-2zM202 163h12v1h-12zM216 163h12v1h-12zM202 164h10v1h-10zM173 164h6v1h-6zM217 164h11v1h-11zM217 165h10v1h-10zM203 165h8v1h-8zM171 165h5v1h-5zM170 166h2v1h-2zM204 166h5v1h-5zM218 166h9v2h-9zM169 167h2v1h-2zM101 167h1v1h-1zM105 168h1v1h-1zM219 168h8v1h-8zM169 168h1v1h-1zM220 169h7v1h-7zM221 170h6v1h-6zM168 169h2v3h-2zM223 171h4v1h-4zM169 172h2v1h-2zM224 172h4v1h-4zM170 173h2v1h-2zM225 173h4v1h-4zM227 174h3v1h-3zM171 174h2v1h-2zM107 175h1v1h-1zM172 175h1v1h-1zM228 175h2v1h-2zM173 176h1v1h-1zM229 176h2v2h-2zM173 177h2v1h-2zM174 178h1v1h-1zM105 179h1v1h-1zM175 179h1v1h-1zM175 180h2v1h-2zM230 178h2v4h-2zM176 181h1v1h-1zM106 181h1v1h-1zM230 182h1v3h-1zM177 182h1v3h-1zM229 185h2v1h-2zM177 185h2v2h-2zM229 186h1v1h-1zM108 187h1v1h-1zM228 187h2v1h-2zM178 187h1v2h-1zM227 188h2v1h-2zM107 189h1v1h-1zM226 189h2v1h-2zM178 189h2v2h-2zM224 190h3v1h-3zM178 191h3v1h-3zM223 191h2v1h-2zM222 192h2v1h-2zM107 193h1v1h-1zM222 193h1v1h-1zM179 192h2v3h-2zM221 194h2v2h-2zM108 194h1v2h-1zM178 195h2v2h-2zM106 196h2v1h-2zM220 196h3v1h-3zM107 197h1v1h-1zM220 197h2v1h-2zM177 197h2v1h-2zM175 198h2v1h-2zM107 198h2v1h-2zM219 198h2v1h-2zM108 199h2v1h-2zM218 199h2v1h-2zM174 199h2v1h-2zM171 200h4v1h-4zM216 200h3v1h-3zM109 200h1v1h-1zM214 201h4v1h-4zM110 201h1v1h-1zM169 201h4v1h-4zM110 202h2v1h-2zM212 202h3v1h-3zM167 202h3v1h-3zM166 203h2v1h-2zM211 203h3v1h-3zM195 204h5v1h-5zM210 204h2v1h-2zM111 203h2v3h-2zM210 205h1v1h-1zM193 205h4v1h-4zM199 205h3v1h-3zM111 206h3v1h-3zM193 206h2v1h-2zM201 206h3v1h-3zM209 206h2v1h-2zM202 207h3v1h-3zM192 207h3v1h-3zM208 207h2v1h-2zM112 207h2v1h-2zM165 204h2v5h-2zM113 208h2v1h-2zM203 208h1v1h-1zM191 208h3v2h-3zM113 209h3v1h-3zM165 209h1v1h-1zM164 210h2v1h-2zM114 210h8v1h-8zM190 210h3v1h-3zM189 211h4v1h-4zM163 211h2v1h-2zM115 211h8v1h-8zM162 212h2v1h-2zM115 212h9v1h-9zM189 212h3v1h-3zM122 213h3v1h-3zM116 213h5v1h-5zM161 213h2v1h-2zM124 214h2v1h-2zM160 214h2v1h-2zM189 213h2v3h-2zM125 215h2v1h-2zM126 216h1v1h-1zM188 216h2v1h-2zM159 215h2v3h-2zM126 217h2v1h-2zM187 217h2v2h-2zM127 218h2v1h-2zM128 219h2v1h-2zM158 218h2v3h-2zM129 220h2v1h-2zM186 219h2v3h-2zM130 221h2v1h-2zM157 221h3v1h-3zM132 222h2v1h-2zM187 222h2v1h-2zM156 222h3v2h-3zM134 223h1v1h-1zM188 223h2v2h-2zM135 224h2v1h-2zM156 224h2v2h-2zM136 225h2v1h-2zM137 226h2v1h-2zM139 227h4v1h-4zM189 225h2v4h-2zM142 228h3v1h-3zM144 229h3v1h-3zM155 226h2v5h-2zM189 229h3v2h-3zM146 230h2v1h-2zM190 231h2v1h-2zM147 231h3v1h-3zM154 231h3v1h-3zM149 232h9v1h-9zM151 233h7v1h-7zM153 234h4v1h-4z"/>
<path fill="#f3a481" stroke="#f3a481" d="M107 12h3v1h-3zM101 13h10v1h-10zM98 14h2v1h-2zM85 14h1v1h-1zM111 14h1v2h-1zM89 15h1v1h-1zM110 16h1v1h-1zM92 16h1v1h-1zM98 17h2v1h-2zM75 18h1v1h-1zM53 19h1v1h-1zM7 21h1v1h-1zM56 22h1v1h-1zM8 22h1v1h-1zM53 23h1v1h-1zM69 24h1v1h-1zM13 24h1v1h-1zM68 25h1v1h-1zM8 26h1v1h-1zM67 26h1v1h-1zM5 27h2v1h-2zM52 27h1v1h-1zM41 28h1v1h-1zM39 28h1v1h-1zM65 28h1v1h-1zM44 28h1v1h-1zM50 29h1v1h-1zM49 31h1v1h-1zM101 31h1v1h-1zM34 31h1v1h-1zM48 32h1v1h-1zM101 32h3v1h-3zM102 33h2v1h-2zM92 33h1v1h-1zM93 34h4v1h-4zM100 34h1v1h-1zM104 34h1v1h-1zM35 34h1v1h-1zM113 34h1v1h-1zM51 34h1v1h-1zM93 35h1v1h-1zM119 35h1v1h-1zM109 35h1v1h-1zM105 35h1v1h-1zM122 36h3v1h-3zM99 36h1v1h-1zM120 36h1v1h-1zM92 36h1v1h-1zM87 37h2v1h-2zM91 37h1v1h-1zM96 37h1v1h-1zM120 37h2v1h-2zM125 37h1v2h-1zM98 37h1v2h-1zM84 38h1v1h-1zM92 38h1v1h-1zM120 38h1v1h-1zM95 38h1v2h-1zM116 39h5v1h-5zM93 39h1v1h-1zM113 39h2v1h-2zM87 39h1v2h-1zM98 40h1v1h-1zM84 40h1v1h-1zM94 40h1v1h-1zM120 40h1v2h-1zM113 40h1v2h-1zM124 40h1v2h-1zM60 41h1v1h-1zM97 41h1v1h-1zM88 41h1v1h-1zM124 42h3v1h-3zM121 42h1v1h-1zM114 42h1v1h-1zM121 43h7v1h-7zM115 43h1v1h-1zM34 42h1v3h-1zM96 43h1v2h-1zM115 44h13v1h-13zM111 44h2v1h-2zM90 44h1v1h-1zM111 45h5v1h-5zM91 45h1v1h-1zM57 45h1v1h-1zM123 45h5v1h-5zM86 46h1v1h-1zM123 46h4v1h-4zM111 46h4v1h-4zM56 46h1v1h-1zM83 46h1v1h-1zM94 46h1v1h-1zM112 47h3v1h-3zM84 47h2v1h-2zM87 47h1v1h-1zM125 47h2v1h-2zM55 47h1v1h-1zM122 47h1v1h-1zM112 48h2v1h-2zM106 48h1v1h-1zM86 48h1v1h-1zM121 48h1v1h-1zM104 49h1v1h-1zM83 48h1v3h-1zM85 51h1v1h-1zM52 51h1v1h-1zM32 51h1v1h-1zM118 52h1v1h-1zM107 52h1v1h-1zM86 53h1v1h-1zM117 53h1v1h-1zM103 54h3v1h-3zM50 54h1v1h-1zM91 54h1v1h-1zM113 54h3v1h-3zM112 55h1v1h-1zM30 56h1v1h-1zM92 56h1v2h-1zM109 58h1v2h-1zM46 59h1v1h-1zM93 59h1v1h-1zM93 60h2v1h-2zM107 60h2v1h-2zM115 61h2v1h-2zM105 61h3v1h-3zM99 62h1v1h-1zM103 62h2v1h-2zM118 65h1v1h-1zM25 67h1v1h-1zM23 72h1v1h-1zM22 74h1v1h-1zM20 81h1v1h-1zM28 88h1v1h-1zM17 89h1v1h-1zM17 92h1v1h-1zM27 92h1v3h-1zM15 98h1v2h-1zM25 100h1v2h-1zM15 101h1v2h-1zM26 102h1v1h-1zM29 105h1v1h-1zM30 106h1v1h-1zM32 108h1v1h-1zM15 107h1v3h-1zM36 113h1v1h-1zM37 115h1v1h-1zM38 117h1v1h-1zM246 118h1v2h-1zM40 121h1v1h-1zM228 121h8v1h-8zM226 122h12v1h-12zM225 123h2v1h-2zM234 123h5v1h-5zM223 124h3v1h-3zM42 124h1v1h-1zM236 124h4v1h-4zM213 125h5v1h-5zM43 125h1v1h-1zM221 125h3v1h-3zM237 125h4v1h-4zM45 126h1v1h-1zM211 126h12v1h-12zM238 126h3v1h-3zM238 127h4v1h-4zM210 127h11v1h-11zM209 128h3v1h-3zM207 129h3v1h-3zM46 129h1v2h-1zM207 130h2v1h-2zM239 128h3v4h-3zM206 131h3v1h-3zM239 132h4v1h-4zM240 133h4v1h-4zM50 134h1v1h-1zM241 134h4v1h-4zM49 135h2v1h-2zM243 135h3v2h-3zM53 136h2v1h-2zM206 132h2v6h-2zM56 137h1v1h-1zM244 137h2v2h-2zM206 138h1v1h-1zM57 138h1v1h-1zM53 138h3v1h-3zM54 139h3v1h-3zM58 139h2v1h-2zM244 139h1v1h-1zM65 139h1v1h-1zM205 139h2v2h-2zM60 140h1v1h-1zM66 140h2v1h-2zM63 140h1v1h-1zM243 140h2v2h-2zM69 141h1v1h-1zM205 141h1v1h-1zM61 142h2v1h-2zM242 142h2v2h-2zM73 144h1v1h-1zM242 144h1v1h-1zM204 142h2v4h-2zM241 145h2v1h-2zM75 145h1v1h-1zM204 146h1v1h-1zM76 146h1v2h-1zM241 146h1v2h-1zM203 147h2v1h-2zM77 148h3v1h-3zM196 148h9v1h-9zM80 149h1v1h-1zM195 149h10v1h-10zM193 150h2v1h-2zM202 150h2v1h-2zM81 150h1v1h-1zM82 151h1v1h-1zM186 151h8v1h-8zM185 152h8v1h-8zM185 153h7v1h-7zM83 153h2v1h-2zM240 148h2v7h-2zM85 154h2v1h-2zM184 154h8v1h-8zM184 155h7v1h-7zM87 155h1v1h-1zM240 155h1v1h-1zM88 156h1v1h-1zM183 156h8v1h-8zM239 156h2v2h-2zM187 157h3v1h-3zM88 157h2v1h-2zM183 157h2v1h-2zM182 158h2v1h-2zM238 158h3v1h-3zM87 158h1v1h-1zM90 158h1v2h-1zM233 159h7v1h-7zM181 159h2v1h-2zM230 160h9v1h-9zM180 160h2v1h-2zM95 161h1v1h-1zM97 161h5v1h-5zM92 161h1v1h-1zM229 161h7v1h-7zM178 161h3v1h-3zM175 162h4v1h-4zM228 162h5v1h-5zM93 162h1v1h-1zM172 163h5v1h-5zM228 163h4v1h-4zM228 164h3v1h-3zM170 164h3v1h-3zM101 164h1v1h-1zM169 165h2v1h-2zM168 166h2v1h-2zM227 165h4v3h-4zM168 167h1v1h-1zM102 167h3v1h-3zM167 168h2v1h-2zM106 169h1v1h-1zM107 170h1v1h-1zM227 168h3v4h-3zM167 169h1v3h-1zM228 172h3v1h-3zM167 172h2v1h-2zM229 173h2v1h-2zM168 173h2v1h-2zM169 174h2v1h-2zM230 174h2v1h-2zM171 175h1v1h-1zM230 175h3v1h-3zM231 176h2v2h-2zM172 176h1v2h-1zM106 177h1v1h-1zM173 178h1v1h-1zM232 178h2v3h-2zM174 179h1v2h-1zM175 181h1v1h-1zM107 181h1v1h-1zM232 181h1v1h-1zM175 182h2v1h-2zM108 182h1v1h-1zM231 182h2v2h-2zM231 184h1v2h-1zM176 183h1v4h-1zM230 186h2v1h-2zM230 187h1v1h-1zM176 187h2v2h-2zM229 188h2v1h-2zM228 189h2v1h-2zM227 190h3v1h-3zM177 189h1v3h-1zM225 191h4v1h-4zM107 190h1v3h-1zM224 192h3v1h-3zM108 193h1v1h-1zM177 192h2v3h-2zM223 193h3v2h-3zM177 195h1v1h-1zM223 195h2v2h-2zM176 196h2v1h-2zM108 196h1v2h-1zM175 197h2v1h-2zM222 197h3v1h-3zM173 198h2v1h-2zM109 198h1v1h-1zM221 198h3v1h-3zM110 199h1v1h-1zM220 199h3v1h-3zM170 199h4v1h-4zM219 200h3v1h-3zM110 200h2v1h-2zM167 200h4v1h-4zM166 201h3v1h-3zM111 201h2v1h-2zM218 201h1v1h-1zM112 202h2v1h-2zM165 202h2v1h-2zM164 203h2v1h-2zM113 203h2v1h-2zM113 204h3v1h-3zM197 205h2v1h-2zM113 205h5v1h-5zM114 206h5v1h-5zM195 206h6v1h-6zM195 207h2v1h-2zM200 207h2v1h-2zM114 207h7v1h-7zM164 204h1v5h-1zM115 208h8v1h-8zM201 208h2v1h-2zM194 208h2v2h-2zM163 209h2v1h-2zM116 209h8v1h-8zM122 210h3v1h-3zM162 210h2v1h-2zM193 210h3v1h-3zM193 211h2v1h-2zM161 211h2v1h-2zM123 211h2v1h-2zM124 212h2v1h-2zM192 212h3v1h-3zM160 212h2v1h-2zM159 213h2v1h-2zM191 213h4v1h-4zM125 213h2v1h-2zM158 214h2v1h-2zM126 214h2v1h-2zM191 214h3v2h-3zM127 215h1v1h-1zM158 215h1v1h-1zM190 216h3v1h-3zM127 216h2v1h-2zM157 216h2v2h-2zM128 217h2v1h-2zM189 217h4v2h-4zM129 218h2v1h-2zM156 218h2v2h-2zM130 219h2v1h-2zM131 220h2v1h-2zM155 220h3v1h-3zM188 219h4v3h-4zM132 221h2v1h-2zM155 221h2v1h-2zM189 222h4v1h-4zM134 222h2v1h-2zM135 223h2v1h-2zM190 223h4v2h-4zM137 224h1v1h-1zM154 222h2v4h-2zM138 225h2v1h-2zM191 225h3v2h-3zM139 226h5v1h-5zM154 226h1v2h-1zM143 227h3v1h-3zM191 227h2v2h-2zM153 228h2v1h-2zM145 228h2v1h-2zM147 229h2v1h-2zM192 229h1v1h-1zM152 229h3v1h-3zM148 230h7v1h-7zM150 231h4v1h-4z"/>
<path fill="#f19e7d" stroke="#f19e7d" d="M51 9h1v1h-1zM49 10h1v1h-1zM110 11h2v2h-2zM54 13h1v1h-1zM82 13h1v1h-1zM111 13h1v1h-1zM95 14h3v1h-3zM53 14h1v1h-1zM81 14h1v1h-1zM75 14h1v1h-1zM51 14h1v1h-1zM91 16h1v1h-1zM111 16h1v1h-1zM100 17h4v1h-4zM76 17h1v1h-1zM70 17h1v1h-1zM69 18h1v1h-1zM68 19h1v1h-1zM55 19h1v1h-1zM8 21h2v1h-2zM9 22h1v1h-1zM13 23h1v1h-1zM57 23h1v3h-1zM11 25h1v1h-1zM9 26h1v1h-1zM58 26h2v1h-2zM7 27h1v1h-1zM66 27h1v1h-1zM38 28h1v1h-1zM40 28h1v1h-1zM6 28h1v1h-1zM45 29h1v1h-1zM64 30h1v1h-1zM49 30h1v1h-1zM46 30h1v1h-1zM35 30h1v1h-1zM53 31h1v1h-1zM102 31h3v1h-3zM47 31h2v1h-2zM97 32h2v1h-2zM49 32h1v1h-1zM34 32h1v1h-1zM51 32h1v1h-1zM100 31h1v3h-1zM104 32h1v2h-1zM91 33h1v1h-1zM115 33h4v1h-4zM93 33h1v1h-1zM96 33h2v1h-2zM97 34h1v1h-1zM111 34h2v1h-2zM119 34h1v1h-1zM91 34h2v1h-2zM63 32h1v4h-1zM99 34h1v2h-1zM106 35h3v1h-3zM120 35h6v1h-6zM92 35h1v1h-1zM96 35h1v2h-1zM121 36h1v1h-1zM91 36h1v1h-1zM125 36h2v1h-2zM86 37h1v1h-1zM126 37h3v1h-3zM89 37h2v1h-2zM97 37h1v1h-1zM126 38h4v1h-4zM91 38h1v1h-1zM88 38h1v1h-1zM96 38h2v1h-2zM98 39h1v1h-1zM115 39h1v1h-1zM125 39h6v1h-6zM95 40h3v1h-3zM93 40h1v1h-1zM118 40h2v1h-2zM125 40h7v2h-7zM89 41h1v1h-1zM84 41h1v1h-1zM114 41h1v1h-1zM34 41h1v1h-1zM119 41h1v1h-1zM96 41h1v2h-1zM127 42h5v1h-5zM115 42h1v1h-1zM83 42h1v1h-1zM120 42h1v2h-1zM116 43h1v1h-1zM128 43h4v1h-4zM90 43h1v1h-1zM128 44h3v1h-3zM58 44h1v1h-1zM82 43h1v3h-1zM95 44h1v2h-1zM128 45h2v1h-2zM92 45h1v1h-1zM127 46h3v1h-3zM86 47h1v1h-1zM83 47h1v1h-1zM127 47h2v1h-2zM123 47h2v1h-2zM124 48h4v1h-4zM33 48h1v1h-1zM122 48h1v1h-1zM107 49h1v1h-1zM120 49h1v1h-1zM53 50h1v1h-1zM125 49h3v3h-3zM119 50h1v2h-1zM84 51h1v1h-1zM125 52h1v1h-1zM104 50h1v4h-1zM85 52h1v2h-1zM118 53h3v1h-3zM106 53h1v1h-1zM51 53h1v1h-1zM86 54h5v1h-5zM116 54h7v1h-7zM31 54h1v1h-1zM91 55h1v1h-1zM118 55h5v1h-5zM113 55h1v1h-1zM117 56h7v1h-7zM111 56h1v1h-1zM87 57h2v1h-2zM29 57h1v1h-1zM116 57h8v1h-8zM115 58h9v1h-9zM88 58h2v1h-2zM110 57h1v3h-1zM114 59h10v1h-10zM89 59h1v1h-1zM92 58h1v3h-1zM109 60h2v1h-2zM28 60h1v1h-1zM114 60h9v1h-9zM108 61h3v1h-3zM92 61h6v1h-6zM117 61h2v1h-2zM119 62h1v1h-1zM98 62h1v1h-1zM105 62h5v1h-5zM114 61h1v3h-1zM99 63h10v1h-10zM120 63h1v1h-1zM27 64h1v1h-1zM115 64h1v1h-1zM117 65h1v1h-1zM119 65h1v1h-1zM38 68h1v1h-1zM24 70h1v1h-1zM149 70h3v1h-3zM148 71h5v1h-5zM148 72h6v1h-6zM148 73h7v1h-7zM33 73h1v1h-1zM148 74h8v1h-8zM32 74h1v1h-1zM149 75h6v1h-6zM30 79h1v1h-1zM20 80h1v1h-1zM29 82h1v1h-1zM19 84h1v2h-1zM28 89h1v1h-1zM16 95h1v1h-1zM26 97h1v1h-1zM15 100h1v1h-1zM15 103h1v2h-1zM30 105h1v1h-1zM14 106h1v2h-1zM31 107h1v1h-1zM34 107h1v1h-1zM251 110h2v1h-2zM250 111h3v1h-3zM36 111h1v2h-1zM249 112h5v1h-5zM249 113h6v1h-6zM247 114h10v1h-10zM245 115h14v1h-14zM38 116h1v1h-1zM243 116h16v1h-16zM242 117h17v1h-17zM241 118h5v1h-5zM247 118h11v1h-11zM229 119h17v1h-17zM247 119h9v1h-9zM227 120h27v1h-27zM225 121h3v1h-3zM236 121h17v1h-17zM238 122h14v1h-14zM224 122h2v1h-2zM41 123h1v1h-1zM212 123h6v1h-6zM239 123h12v1h-12zM222 123h3v1h-3zM211 124h12v1h-12zM240 124h10v1h-10zM241 125h8v1h-8zM210 125h3v1h-3zM44 125h1v1h-1zM218 125h3v1h-3zM209 126h2v1h-2zM241 126h7v1h-7zM208 127h2v1h-2zM242 127h6v2h-6zM206 128h3v1h-3zM47 128h1v3h-1zM205 129h2v2h-2zM242 129h5v3h-5zM49 131h1v1h-1zM243 132h5v1h-5zM50 133h1v1h-1zM244 133h4v1h-4zM245 134h3v1h-3zM51 135h2v1h-2zM55 136h1v1h-1zM246 135h2v3h-2zM204 131h2v8h-2zM246 138h1v1h-1zM58 138h1v1h-1zM64 139h1v1h-1zM66 139h1v1h-1zM203 139h2v2h-2zM245 139h2v2h-2zM68 140h1v1h-1zM61 141h2v1h-2zM202 141h3v1h-3zM245 141h1v1h-1zM244 142h2v1h-2zM70 142h1v1h-1zM202 142h2v2h-2zM244 143h1v1h-1zM72 143h1v1h-1zM124 144h2v1h-2zM74 144h1v1h-1zM243 144h2v1h-2zM201 144h3v1h-3zM243 145h1v1h-1zM76 145h1v1h-1zM200 145h4v1h-4zM123 145h3v1h-3zM124 146h2v1h-2zM197 146h7v1h-7zM77 146h1v1h-1zM195 147h8v1h-8zM77 147h3v1h-3zM80 148h1v1h-1zM194 148h2v1h-2zM187 149h8v1h-8zM129 150h3v1h-3zM185 150h8v1h-8zM184 151h2v1h-2zM129 151h5v2h-5zM184 152h1v1h-1zM83 152h1v1h-1zM242 146h2v8h-2zM85 153h2v1h-2zM183 153h2v1h-2zM130 153h4v1h-4zM87 154h1v1h-1zM131 154h2v1h-2zM183 154h1v1h-1zM242 154h1v1h-1zM182 155h2v1h-2zM88 155h1v1h-1zM182 156h1v1h-1zM89 156h1v1h-1zM181 157h2v1h-2zM90 157h1v1h-1zM241 155h2v4h-2zM180 158h2v1h-2zM240 159h3v1h-3zM179 159h2v1h-2zM91 159h1v2h-1zM239 160h4v1h-4zM176 160h4v1h-4zM93 161h2v1h-2zM236 161h7v1h-7zM173 161h5v1h-5zM171 162h4v1h-4zM233 162h10v1h-10zM102 162h1v2h-1zM169 163h3v1h-3zM232 163h6v1h-6zM167 164h3v1h-3zM231 164h5v1h-5zM231 165h4v1h-4zM167 165h2v1h-2zM101 165h1v2h-1zM231 166h3v2h-3zM166 166h2v2h-2zM105 167h1v1h-1zM106 168h1v1h-1zM166 168h1v1h-1zM230 168h3v4h-3zM165 169h2v3h-2zM166 172h1v1h-1zM231 172h3v2h-3zM166 173h2v1h-2zM108 172h1v3h-1zM168 174h1v1h-1zM232 174h2v1h-2zM169 175h2v1h-2zM107 176h1v1h-1zM170 176h2v1h-2zM233 175h2v3h-2zM171 177h1v1h-1zM172 178h1v1h-1zM172 179h2v1h-2zM106 178h1v3h-1zM234 178h1v3h-1zM173 180h1v1h-1zM108 181h1v1h-1zM174 181h1v2h-1zM233 181h2v2h-2zM233 183h1v1h-1zM232 184h2v1h-2zM109 184h1v3h-1zM232 185h1v2h-1zM175 183h1v6h-1zM231 187h2v2h-2zM108 188h1v2h-1zM230 189h2v2h-2zM175 189h2v3h-2zM229 191h3v1h-3zM108 192h1v1h-1zM227 192h5v1h-5zM176 192h1v2h-1zM226 193h6v1h-6zM226 194h4v1h-4zM175 194h2v2h-2zM225 195h4v2h-4zM174 196h2v1h-2zM109 194h1v4h-1zM172 197h3v1h-3zM225 197h3v1h-3zM110 198h1v1h-1zM169 198h4v1h-4zM224 198h4v1h-4zM223 199h4v1h-4zM167 199h3v1h-3zM111 199h1v1h-1zM112 200h3v1h-3zM165 200h2v1h-2zM222 200h5v1h-5zM164 201h2v1h-2zM113 201h6v1h-6zM114 202h6v1h-6zM163 202h2v1h-2zM163 203h1v1h-1zM115 203h5v1h-5zM116 204h5v1h-5zM118 205h4v1h-4zM119 206h4v1h-4zM121 207h3v1h-3zM197 207h3v1h-3zM162 204h2v5h-2zM196 208h5v1h-5zM123 208h2v1h-2zM124 209h2v1h-2zM161 209h2v1h-2zM196 209h6v1h-6zM125 210h1v1h-1zM160 210h2v1h-2zM196 210h4v1h-4zM195 211h4v1h-4zM159 211h2v1h-2zM125 211h2v1h-2zM158 212h2v1h-2zM195 212h2v1h-2zM126 212h2v1h-2zM158 213h1v1h-1zM195 213h1v1h-1zM127 213h2v1h-2zM157 214h1v1h-1zM128 214h2v2h-2zM194 214h1v2h-1zM156 215h2v1h-2zM129 216h2v1h-2zM156 216h1v1h-1zM155 217h2v1h-2zM130 217h1v1h-1zM193 216h1v3h-1zM131 218h1v1h-1zM154 218h2v2h-2zM132 219h1v1h-1zM133 220h2v1h-2zM192 219h1v3h-1zM153 220h2v2h-2zM134 221h2v1h-2zM136 222h1v1h-1zM153 222h1v2h-1zM137 223h1v1h-1zM138 224h3v1h-3zM140 225h6v1h-6zM152 224h2v3h-2zM144 226h3v1h-3zM146 227h3v1h-3zM151 227h3v1h-3zM147 228h6v1h-6zM149 229h3v1h-3z"/>
<path fill="#ee9677" stroke="#ee9677" d="M112 11h2v2h-2zM83 13h1v1h-1zM74 14h1v1h-1zM89 14h6v1h-6zM86 14h1v1h-1zM112 13h1v3h-1zM88 15h1v1h-1zM53 16h1v1h-1zM90 16h1v1h-1zM96 17h2v1h-2zM104 17h8v1h-8zM99 18h6v1h-6zM53 20h1v1h-1zM67 20h1v1h-1zM66 21h1v1h-1zM10 21h1v1h-1zM10 22h2v1h-2zM53 22h1v1h-1zM65 22h1v1h-1zM14 24h1v1h-1zM12 25h1v1h-1zM52 26h1v1h-1zM61 26h1v1h-1zM8 27h1v1h-1zM50 28h1v1h-1zM37 28h1v1h-1zM7 28h1v2h-1zM34 30h1v1h-1zM100 30h2v1h-2zM98 31h2v1h-2zM96 32h1v1h-1zM99 32h1v1h-1zM50 32h1v1h-1zM92 32h2v1h-2zM94 33h2v1h-2zM34 33h1v1h-1zM119 33h1v1h-1zM51 33h1v1h-1zM98 33h2v1h-2zM49 33h1v2h-1zM98 34h1v1h-1zM105 34h1v1h-1zM120 34h6v1h-6zM90 34h1v1h-1zM109 34h2v1h-2zM126 35h2v1h-2zM91 35h1v1h-1zM97 35h2v2h-2zM127 36h3v1h-3zM87 36h4v1h-4zM84 37h2v1h-2zM129 37h4v1h-4zM34 36h1v3h-1zM130 38h5v1h-5zM62 38h1v1h-1zM89 38h2v1h-2zM88 39h1v1h-1zM92 39h1v1h-1zM96 39h2v1h-2zM131 39h5v1h-5zM88 40h2v1h-2zM61 40h1v1h-1zM114 40h4v1h-4zM132 40h4v2h-4zM94 41h2v1h-2zM115 41h2v1h-2zM83 41h1v1h-1zM118 41h1v1h-1zM82 42h1v1h-1zM116 42h1v1h-1zM119 42h1v1h-1zM132 42h3v1h-3zM90 42h1v1h-1zM95 42h1v2h-1zM59 43h1v1h-1zM117 43h3v1h-3zM132 43h2v1h-2zM131 44h2v1h-2zM91 44h1v1h-1zM130 45h3v1h-3zM93 45h2v1h-2zM130 46h2v1h-2zM33 47h1v1h-1zM129 47h2v1h-2zM128 48h3v1h-3zM123 48h1v1h-1zM105 49h1v1h-1zM121 49h1v1h-1zM54 49h1v1h-1zM82 46h1v5h-1zM128 49h2v2h-2zM124 49h1v3h-1zM107 50h1v2h-1zM83 51h1v1h-1zM128 51h1v1h-1zM52 52h1v1h-1zM119 52h1v1h-1zM84 52h1v1h-1zM123 52h2v1h-2zM126 52h3v1h-3zM121 53h7v1h-7zM31 53h1v1h-1zM105 53h1v1h-1zM123 54h5v1h-5zM85 54h1v1h-1zM114 55h4v1h-4zM86 55h5v1h-5zM123 55h4v1h-4zM116 56h1v1h-1zM86 56h3v1h-3zM49 56h1v1h-1zM112 56h1v1h-1zM91 56h1v1h-1zM48 57h1v1h-1zM115 57h1v1h-1zM89 57h3v1h-3zM124 56h3v3h-3zM111 57h1v2h-1zM87 58h1v1h-1zM47 58h1v1h-1zM114 58h1v1h-1zM90 58h2v2h-2zM88 59h1v1h-1zM124 59h2v1h-2zM28 59h1v1h-1zM123 60h3v1h-3zM89 60h3v1h-3zM111 59h3v3h-3zM90 61h2v1h-2zM119 61h7v1h-7zM45 61h1v1h-1zM97 62h1v1h-1zM120 62h6v1h-6zM44 62h1v1h-1zM91 62h4v1h-4zM110 62h4v1h-4zM27 63h1v1h-1zM121 63h4v1h-4zM97 63h2v1h-2zM109 63h2v1h-2zM92 63h2v1h-2zM98 64h12v1h-12zM42 64h1v1h-1zM114 64h1v1h-1zM120 64h4v2h-4zM104 65h5v1h-5zM116 65h1v1h-1zM41 65h1v1h-1zM164 65h4v1h-4zM164 66h5v1h-5zM106 66h2v1h-2zM117 66h7v2h-7zM148 67h1v1h-1zM163 67h7v1h-7zM39 67h1v1h-1zM118 68h5v1h-5zM147 68h5v1h-5zM164 68h6v1h-6zM146 69h7v1h-7zM165 69h5v1h-5zM37 69h1v1h-1zM152 70h4v1h-4zM36 70h1v1h-1zM168 70h2v1h-2zM146 70h3v1h-3zM35 71h1v1h-1zM153 71h6v1h-6zM154 72h6v1h-6zM34 72h1v1h-1zM155 73h5v1h-5zM22 73h1v1h-1zM146 71h2v4h-2zM156 74h4v1h-4zM155 75h4v1h-4zM146 75h3v1h-3zM146 76h13v1h-13zM21 76h1v1h-1zM31 77h1v1h-1zM146 77h12v1h-12zM146 78h10v1h-10zM20 79h1v1h-1zM147 79h4v1h-4zM19 83h1v1h-1zM18 87h1v1h-1zM27 95h1v1h-1zM15 97h1v1h-1zM26 101h1v1h-1zM27 102h1v1h-1zM28 103h1v1h-1zM29 104h2v1h-2zM14 105h1v1h-1zM31 106h1v1h-1zM13 106h1v2h-1zM35 107h1v1h-1zM250 108h5v1h-5zM14 108h1v2h-1zM249 109h7v1h-7zM36 108h1v3h-1zM260 109h1v2h-1zM248 110h3v1h-3zM253 110h3v1h-3zM259 111h3v1h-3zM247 111h3v1h-3zM253 111h5v1h-5zM246 112h3v1h-3zM254 112h9v1h-9zM245 113h4v1h-4zM255 113h9v1h-9zM37 113h1v2h-1zM243 114h4v1h-4zM257 114h8v1h-8zM38 115h1v1h-1zM259 115h7v1h-7zM241 115h4v1h-4zM240 116h3v1h-3zM259 116h6v2h-6zM232 117h10v1h-10zM228 118h13v1h-13zM258 118h6v1h-6zM256 119h5v1h-5zM226 119h3v1h-3zM39 119h1v1h-1zM224 120h3v1h-3zM254 120h4v1h-4zM211 120h4v1h-4zM211 121h7v1h-7zM253 121h3v1h-3zM223 121h2v1h-2zM210 122h14v1h-14zM43 122h1v1h-1zM252 122h3v1h-3zM210 123h2v1h-2zM251 123h4v1h-4zM42 123h2v1h-2zM218 123h4v1h-4zM209 124h2v1h-2zM250 124h4v1h-4zM43 124h1v1h-1zM208 125h2v1h-2zM249 125h4v1h-4zM207 126h2v1h-2zM248 126h5v1h-5zM46 126h1v1h-1zM206 127h2v1h-2zM47 127h1v1h-1zM248 127h4v1h-4zM204 128h2v1h-2zM248 128h3v1h-3zM204 129h1v1h-1zM48 128h1v3h-1zM247 129h4v2h-4zM203 130h2v1h-2zM247 131h3v1h-3zM50 132h1v1h-1zM51 134h1v1h-1zM203 131h1v5h-1zM53 135h1v1h-1zM56 136h1v1h-1zM248 132h2v6h-2zM57 137h1v1h-1zM202 136h2v3h-2zM59 138h1v1h-1zM64 138h3v1h-3zM247 138h2v2h-2zM201 139h2v1h-2zM60 139h1v1h-1zM63 139h1v1h-1zM67 139h2v1h-2zM247 140h1v1h-1zM200 140h3v1h-3zM61 140h2v1h-2zM69 140h1v1h-1zM70 141h1v1h-1zM126 141h1v1h-1zM200 141h2v1h-2zM246 141h2v2h-2zM199 142h3v1h-3zM121 142h8v1h-8zM71 142h1v1h-1zM138 143h4v1h-4zM120 143h9v1h-9zM198 143h4v1h-4zM73 143h1v1h-1zM245 143h2v2h-2zM196 144h5v1h-5zM120 144h4v1h-4zM126 144h3v1h-3zM75 144h1v1h-1zM136 144h7v2h-7zM77 145h1v1h-1zM195 145h5v1h-5zM120 145h3v1h-3zM244 145h2v2h-2zM126 145h4v2h-4zM194 146h3v1h-3zM121 146h3v1h-3zM78 146h1v1h-1zM135 146h7v2h-7zM80 147h1v1h-1zM122 147h9v1h-9zM192 147h3v1h-3zM244 147h1v2h-1zM186 148h8v1h-8zM123 148h17v1h-17zM81 149h1v1h-1zM124 149h15v1h-15zM185 149h2v1h-2zM82 150h1v1h-1zM184 150h1v1h-1zM132 150h6v1h-6zM125 150h4v1h-4zM83 151h1v1h-1zM183 151h1v1h-1zM126 151h3v2h-3zM182 152h2v1h-2zM84 152h2v1h-2zM244 149h2v5h-2zM134 151h3v3h-3zM127 153h3v1h-3zM87 153h1v1h-1zM182 153h1v2h-1zM133 154h3v1h-3zM128 154h3v1h-3zM88 154h1v1h-1zM128 155h8v1h-8zM89 155h1v1h-1zM181 155h1v1h-1zM243 154h3v3h-3zM130 156h5v1h-5zM180 156h2v1h-2zM179 157h2v1h-2zM243 157h4v1h-4zM91 157h1v2h-1zM177 158h3v1h-3zM174 159h5v1h-5zM92 159h2v2h-2zM96 160h2v1h-2zM100 160h2v1h-2zM172 160h4v1h-4zM102 161h1v1h-1zM170 161h3v1h-3zM243 158h5v5h-5zM164 162h7v1h-7zM103 162h1v1h-1zM103 163h2v1h-2zM163 163h6v1h-6zM238 163h9v1h-9zM162 164h5v1h-5zM236 164h11v1h-11zM102 164h2v2h-2zM163 165h4v1h-4zM235 165h12v1h-12zM234 166h4v1h-4zM163 166h3v1h-3zM240 166h7v1h-7zM102 166h4v1h-4zM242 167h4v1h-4zM234 167h3v1h-3zM164 167h2v2h-2zM244 168h2v1h-2zM107 169h1v1h-1zM233 168h3v4h-3zM164 169h1v3h-1zM108 171h1v1h-1zM164 172h2v1h-2zM165 173h1v1h-1zM234 172h2v3h-2zM166 174h2v1h-2zM235 175h1v1h-1zM167 175h2v1h-2zM108 175h1v1h-1zM169 176h1v1h-1zM170 177h1v1h-1zM235 176h2v3h-2zM107 177h1v3h-1zM171 178h1v2h-1zM172 180h1v1h-1zM107 180h2v1h-2zM235 179h3v3h-3zM172 181h2v1h-2zM173 182h1v1h-1zM235 182h2v1h-2zM109 182h1v2h-1zM173 183h2v1h-2zM234 183h2v2h-2zM233 185h2v3h-2zM109 187h1v2h-1zM233 188h1v1h-1zM232 189h3v2h-3zM174 184h1v8h-1zM108 190h1v2h-1zM232 191h4v3h-4zM174 192h2v2h-2zM109 193h1v1h-1zM230 194h6v1h-6zM173 194h2v2h-2zM229 195h7v1h-7zM229 196h6v1h-6zM171 196h3v1h-3zM110 196h1v1h-1zM228 197h4v1h-4zM110 197h2v1h-2zM168 197h4v1h-4zM117 198h3v1h-3zM111 198h2v1h-2zM166 198h3v1h-3zM228 198h3v1h-3zM112 199h9v1h-9zM227 199h4v1h-4zM164 199h3v1h-3zM163 200h2v1h-2zM227 200h3v1h-3zM115 200h7v1h-7zM119 201h3v1h-3zM162 201h2v1h-2zM120 202h2v1h-2zM162 202h1v1h-1zM161 203h2v1h-2zM120 203h3v1h-3zM121 204h3v1h-3zM122 205h3v1h-3zM123 206h3v1h-3zM161 204h1v4h-1zM124 207h2v1h-2zM125 208h2v1h-2zM160 208h2v1h-2zM126 209h2v1h-2zM160 209h1v1h-1zM159 210h1v1h-1zM126 210h3v1h-3zM158 211h1v1h-1zM127 211h3v1h-3zM128 212h3v1h-3zM157 212h1v1h-1zM129 213h2v1h-2zM156 213h2v1h-2zM155 214h2v1h-2zM130 214h2v2h-2zM155 215h1v1h-1zM154 216h2v1h-2zM131 216h2v2h-2zM153 217h2v1h-2zM153 218h1v1h-1zM132 218h2v1h-2zM152 219h2v1h-2zM133 219h2v1h-2zM152 220h1v1h-1zM135 220h1v1h-1zM136 221h1v1h-1zM137 222h2v1h-2zM151 221h2v3h-2zM138 223h7v1h-7zM141 224h6v1h-6zM150 224h2v1h-2zM146 225h6v1h-6zM147 226h5v1h-5zM149 227h2v1h-2z"/>
<path fill="#eb9172" stroke="#eb9172" d="M52 9h1v1h-1zM50 9h1v1h-1zM114 11h1v2h-1zM81 13h1v1h-1zM84 13h1v1h-1zM49 13h1v1h-1zM76 14h1v1h-1zM87 14h2v1h-2zM113 13h1v3h-1zM83 15h5v1h-5zM77 16h1v1h-1zM71 16h1v1h-1zM54 16h1v1h-1zM112 16h2v2h-2zM94 17h2v1h-2zM105 18h8v1h-8zM97 18h2v1h-2zM98 19h14v1h-14zM74 20h1v1h-1zM101 20h2v1h-2zM56 21h1v1h-1zM53 21h1v1h-1zM73 21h1v1h-1zM11 21h1v1h-1zM12 22h1v1h-1zM57 22h1v1h-1zM72 22h1v1h-1zM14 23h1v1h-1zM71 23h1v1h-1zM62 25h1v1h-1zM58 25h1v1h-1zM10 26h1v1h-1zM60 26h1v1h-1zM51 27h1v1h-1zM42 27h2v1h-2zM9 27h1v1h-1zM36 29h1v1h-1zM49 29h1v1h-1zM136 29h1v1h-1zM8 28h1v3h-1zM47 30h2v1h-2zM137 30h1v1h-1zM99 30h1v1h-1zM102 30h2v1h-2zM137 31h2v1h-2zM97 31h1v1h-1zM33 31h1v2h-1zM123 32h1v1h-1zM137 32h3v1h-3zM94 32h1v1h-1zM116 32h3v1h-3zM91 32h1v1h-1zM105 32h1v2h-1zM137 33h4v1h-4zM90 33h1v1h-1zM114 33h1v1h-1zM120 33h7v1h-7zM106 34h3v1h-3zM126 34h3v1h-3zM137 34h5v1h-5zM50 34h1v1h-1zM34 34h1v2h-1zM90 35h1v1h-1zM128 35h13v1h-13zM63 36h1v1h-1zM130 36h11v1h-11zM86 36h1v1h-1zM133 37h8v1h-8zM135 38h6v1h-6zM89 39h3v1h-3zM83 38h1v3h-1zM34 39h1v2h-1zM90 40h3v1h-3zM136 39h6v3h-6zM82 41h1v1h-1zM92 41h2v1h-2zM90 41h1v1h-1zM61 41h1v1h-1zM117 41h1v1h-1zM135 42h7v1h-7zM117 42h2v1h-2zM94 42h1v1h-1zM60 42h1v1h-1zM91 42h1v2h-1zM134 43h8v1h-8zM92 44h1v1h-1zM133 44h3v1h-3zM94 44h1v1h-1zM133 45h2v1h-2zM33 46h1v1h-1zM57 46h1v1h-1zM132 46h2v1h-2zM56 47h1v1h-1zM131 47h2v2h-2zM55 48h1v1h-1zM81 43h1v7h-1zM122 49h2v1h-2zM106 49h1v1h-1zM130 49h2v2h-2zM32 50h1v1h-1zM123 50h1v2h-1zM120 50h1v2h-1zM82 51h1v1h-1zM53 51h1v1h-1zM129 51h2v2h-2zM83 52h1v1h-1zM106 52h1v1h-1zM120 52h3v1h-3zM84 53h1v2h-1zM128 53h2v2h-2zM51 54h1v1h-1zM50 55h1v1h-1zM85 55h1v2h-1zM113 56h3v1h-3zM89 56h2v1h-2zM112 57h1v1h-1zM114 57h1v1h-1zM127 55h2v4h-2zM86 57h1v2h-1zM112 58h2v1h-2zM87 59h1v1h-1zM88 60h1v1h-1zM46 60h1v1h-1zM89 61h1v1h-1zM148 61h2v1h-2zM126 59h3v4h-3zM27 62h1v1h-1zM147 62h3v1h-3zM95 62h2v1h-2zM90 62h1v1h-1zM165 62h3v1h-3zM146 63h4v1h-4zM90 63h2v1h-2zM125 63h4v1h-4zM111 63h3v1h-3zM163 63h7v1h-7zM94 63h3v1h-3zM43 63h1v1h-1zM145 64h5v1h-5zM162 64h9v1h-9zM90 64h8v1h-8zM110 64h4v1h-4zM26 65h1v1h-1zM160 65h4v1h-4zM89 65h15v1h-15zM144 65h7v1h-7zM109 65h7v1h-7zM168 65h4v1h-4zM89 66h17v1h-17zM25 66h1v1h-1zM108 66h9v1h-9zM169 66h3v1h-3zM159 66h5v1h-5zM40 66h1v1h-1zM143 66h9v1h-9zM124 64h6v4h-6zM149 67h5v1h-5zM89 67h8v1h-8zM158 67h5v1h-5zM103 67h14v1h-14zM143 67h5v1h-5zM170 67h3v1h-3zM104 68h14v1h-14zM90 68h2v1h-2zM123 68h7v1h-7zM152 68h12v1h-12zM143 68h4v1h-4zM24 68h1v2h-1zM153 69h12v1h-12zM105 69h24v1h-24zM170 68h4v3h-4zM106 70h23v1h-23zM156 70h12v1h-12zM23 71h1v1h-1zM120 71h9v1h-9zM159 71h15v1h-15zM160 72h14v1h-14zM123 72h4v1h-4zM160 73h13v2h-13zM159 75h13v1h-13zM32 75h1v1h-1zM144 69h2v8h-2zM159 76h11v1h-11zM158 77h3v1h-3zM143 77h3v1h-3zM163 77h5v1h-5zM156 78h4v1h-4zM144 78h2v1h-2zM20 78h1v1h-1zM151 79h7v1h-7zM144 79h3v1h-3zM30 80h1v1h-1zM145 80h12v1h-12zM147 81h4v1h-4zM19 82h1v1h-1zM29 83h1v1h-1zM17 88h1v1h-1zM28 90h1v1h-1zM16 93h1v2h-1zM15 96h1v1h-1zM26 100h1v1h-1zM259 100h1v1h-1zM27 101h1v1h-1zM258 101h3v1h-3zM257 102h4v1h-4zM257 103h5v1h-5zM14 104h1v1h-1zM256 104h6v1h-6zM255 105h8v1h-8zM31 105h1v1h-1zM13 105h1v1h-1zM34 106h1v1h-1zM250 106h13v1h-13zM12 107h1v1h-1zM249 107h15v1h-15zM32 107h2v1h-2zM255 108h10v1h-10zM248 108h2v1h-2zM13 108h1v2h-1zM269 108h1v2h-1zM261 109h5v1h-5zM247 109h2v1h-2zM256 109h4v2h-4zM261 110h9v1h-9zM246 110h2v1h-2zM245 111h2v1h-2zM262 111h8v1h-8zM258 111h1v1h-1zM263 112h7v1h-7zM244 112h2v1h-2zM37 112h1v1h-1zM242 113h3v1h-3zM38 113h1v1h-1zM264 113h6v1h-6zM265 114h5v1h-5zM240 114h3v1h-3zM38 114h2v1h-2zM210 115h3v1h-3zM266 115h4v1h-4zM232 115h9v1h-9zM39 115h1v2h-1zM229 116h11v1h-11zM209 116h5v1h-5zM265 116h5v2h-5zM226 117h6v1h-6zM40 117h1v1h-1zM208 117h7v1h-7zM208 118h8v1h-8zM225 118h3v1h-3zM264 118h6v1h-6zM39 118h2v1h-2zM223 119h3v1h-3zM208 119h9v1h-9zM261 119h8v1h-8zM258 120h11v1h-11zM215 120h9v1h-9zM40 120h1v1h-1zM208 120h3v2h-3zM267 121h2v1h-2zM218 121h5v1h-5zM149 121h2v1h-2zM256 121h10v1h-10zM41 122h2v1h-2zM255 122h9v1h-9zM148 122h7v1h-7zM208 122h2v2h-2zM44 123h1v1h-1zM255 123h7v1h-7zM207 124h2v1h-2zM254 124h3v1h-3zM44 124h2v1h-2zM149 123h7v3h-7zM206 125h2v1h-2zM253 125h3v1h-3zM45 125h1v1h-1zM253 126h2v1h-2zM205 126h2v1h-2zM150 126h6v1h-6zM48 127h1v1h-1zM204 127h2v1h-2zM252 127h2v1h-2zM149 127h7v2h-7zM203 128h1v1h-1zM251 128h3v1h-3zM202 129h2v1h-2zM149 129h6v1h-6zM251 129h2v2h-2zM49 130h1v1h-1zM202 130h1v1h-1zM148 130h7v1h-7zM260 130h1v1h-1zM147 131h8v1h-8zM259 131h2v1h-2zM258 132h2v1h-2zM147 132h7v1h-7zM148 133h4v1h-4zM258 133h1v1h-1zM140 134h3v1h-3zM250 131h3v5h-3zM201 131h2v5h-2zM54 135h1v1h-1zM140 135h4v2h-4zM201 136h1v1h-1zM250 136h2v2h-2zM140 137h5v1h-5zM65 137h2v1h-2zM58 137h1v1h-1zM110 137h4v1h-4zM200 137h2v2h-2zM63 138h1v1h-1zM110 138h5v1h-5zM67 138h2v1h-2zM126 138h8v1h-8zM140 138h6v1h-6zM60 138h1v1h-1zM249 138h2v2h-2zM124 139h12v1h-12zM61 139h2v1h-2zM139 139h9v1h-9zM110 139h6v1h-6zM69 139h1v1h-1zM199 139h2v1h-2zM248 140h3v1h-3zM70 140h1v1h-1zM198 140h2v1h-2zM114 140h34v1h-34zM71 141h1v1h-1zM197 141h3v1h-3zM127 141h21v1h-21zM115 141h11v1h-11zM248 141h2v2h-2zM116 142h5v1h-5zM129 142h19v1h-19zM72 142h1v1h-1zM196 142h3v1h-3zM74 143h2v1h-2zM142 143h5v1h-5zM116 143h4v1h-4zM195 143h3v1h-3zM129 143h9v1h-9zM247 143h3v2h-3zM76 144h2v1h-2zM129 144h7v1h-7zM194 144h2v1h-2zM117 144h3v2h-3zM143 144h3v2h-3zM193 145h2v1h-2zM130 145h6v1h-6zM78 145h1v1h-1zM246 145h3v1h-3zM130 146h5v1h-5zM79 146h3v1h-3zM246 146h2v1h-2zM142 146h3v1h-3zM189 146h5v1h-5zM118 146h3v1h-3zM119 147h3v1h-3zM131 147h4v1h-4zM142 147h2v1h-2zM245 147h3v1h-3zM186 147h6v1h-6zM81 147h2v2h-2zM245 148h2v1h-2zM184 148h2v1h-2zM120 148h3v1h-3zM140 148h3v1h-3zM121 149h3v1h-3zM183 149h2v1h-2zM82 149h2v1h-2zM139 149h3v1h-3zM122 150h3v1h-3zM182 150h2v1h-2zM138 150h3v1h-3zM83 150h2v1h-2zM182 151h1v1h-1zM137 151h3v1h-3zM123 151h3v1h-3zM84 151h2v1h-2zM86 152h1v1h-1zM124 152h2v1h-2zM137 152h2v1h-2zM181 152h1v2h-1zM124 153h3v1h-3zM88 153h1v1h-1zM137 153h1v1h-1zM180 154h2v1h-2zM136 154h2v1h-2zM124 154h4v1h-4zM89 154h1v1h-1zM125 155h3v1h-3zM179 155h2v1h-2zM136 155h1v1h-1zM246 149h1v8h-1zM126 156h4v1h-4zM135 156h2v1h-2zM90 156h1v1h-1zM176 156h4v1h-4zM173 157h6v1h-6zM92 157h1v1h-1zM127 157h9v1h-9zM172 158h5v1h-5zM129 158h6v1h-6zM92 158h2v1h-2zM131 159h1v1h-1zM171 159h3v1h-3zM94 159h1v1h-1zM96 159h3v1h-3zM94 160h2v1h-2zM102 160h1v1h-1zM169 160h3v1h-3zM98 160h2v1h-2zM161 161h9v1h-9zM103 161h1v1h-1zM104 162h1v1h-1zM161 162h3v1h-3zM160 163h3v1h-3zM104 164h1v1h-1zM160 164h2v1h-2zM104 165h2v1h-2zM160 165h3v1h-3zM161 166h2v1h-2zM238 166h2v1h-2zM161 167h3v1h-3zM237 167h5v1h-5zM106 167h1v1h-1zM107 168h1v1h-1zM162 168h2v1h-2zM236 168h8v1h-8zM108 170h1v1h-1zM236 169h10v3h-10zM163 169h1v4h-1zM236 172h9v2h-9zM163 173h2v1h-2zM236 174h4v1h-4zM164 174h2v1h-2zM165 175h2v1h-2zM236 175h3v1h-3zM166 176h3v1h-3zM237 176h3v2h-3zM168 177h2v1h-2zM237 178h4v1h-4zM169 178h2v1h-2zM108 176h1v4h-1zM170 179h1v1h-1zM238 179h4v2h-4zM171 180h1v2h-1zM109 180h1v2h-1zM238 181h5v1h-5zM237 182h6v1h-6zM172 182h1v2h-1zM236 183h6v1h-6zM172 184h2v1h-2zM236 184h5v1h-5zM235 185h6v1h-6zM173 185h1v2h-1zM235 186h5v1h-5zM235 187h4v1h-4zM234 188h4v1h-4zM235 189h2v2h-2zM172 187h2v6h-2zM109 189h1v4h-1zM171 193h3v1h-3zM110 193h1v2h-1zM171 194h2v1h-2zM110 195h2v1h-2zM169 195h4v1h-4zM111 196h2v1h-2zM118 196h4v1h-4zM167 196h4v1h-4zM166 197h2v1h-2zM112 197h10v1h-10zM231 198h1v1h-1zM164 198h2v1h-2zM120 198h3v1h-3zM113 198h4v1h-4zM163 199h1v1h-1zM121 199h3v1h-3zM122 200h4v1h-4zM162 200h1v1h-1zM161 201h1v1h-1zM122 201h6v2h-6zM160 202h2v1h-2zM123 203h5v1h-5zM160 203h1v2h-1zM124 204h4v1h-4zM125 205h4v1h-4zM126 206h3v1h-3zM159 205h2v3h-2zM126 207h4v1h-4zM127 208h3v1h-3zM159 208h1v1h-1zM128 209h3v1h-3zM158 209h2v1h-2zM157 210h2v1h-2zM129 210h3v1h-3zM130 211h2v1h-2zM156 211h2v1h-2zM155 212h2v1h-2zM131 212h2v2h-2zM154 213h2v1h-2zM154 214h1v1h-1zM132 214h1v1h-1zM153 215h2v1h-2zM132 215h2v1h-2zM152 216h2v1h-2zM133 216h2v2h-2zM152 217h1v1h-1zM134 218h2v1h-2zM151 218h2v1h-2zM135 219h2v1h-2zM151 219h1v1h-1zM136 220h2v1h-2zM150 220h2v1h-2zM149 221h2v1h-2zM137 221h7v1h-7zM139 222h12v1h-12zM145 223h6v1h-6zM147 224h3v1h-3z"/>
<path fill="#e8896c" stroke="#e8896c" d="M115 11h1v1h-1zM92 13h3v1h-3zM77 15h1v1h-1zM82 15h1v1h-1zM72 15h1v1h-1zM89 16h1v1h-1zM114 13h1v5h-1zM92 17h2v1h-2zM95 18h2v1h-2zM55 18h1v1h-1zM113 18h2v1h-2zM96 19h2v1h-2zM75 19h1v1h-1zM112 19h2v1h-2zM13 20h1v1h-1zM103 20h10v1h-10zM97 20h4v1h-4zM108 21h2v1h-2zM12 21h2v1h-2zM100 21h6v1h-6zM13 22h1v1h-1zM64 23h1v1h-1zM70 24h1v1h-1zM129 24h1v1h-1zM13 25h1v1h-1zM52 25h1v1h-1zM130 25h3v1h-3zM132 26h2v1h-2zM11 26h1v1h-1zM44 27h1v1h-1zM10 27h1v1h-1zM133 27h2v1h-2zM36 27h6v1h-6zM45 28h1v1h-1zM35 28h2v1h-2zM134 28h2v2h-2zM46 29h1v1h-1zM65 29h1v1h-1zM35 29h1v1h-1zM98 30h1v1h-1zM33 30h1v1h-1zM104 30h1v1h-1zM9 28h1v4h-1zM134 30h3v2h-3zM105 31h1v1h-1zM92 31h5v1h-5zM117 31h10v1h-10zM115 32h1v1h-1zM124 32h5v1h-5zM90 32h1v1h-1zM95 32h1v1h-1zM119 32h4v1h-4zM133 32h4v1h-4zM106 32h1v1h-1zM50 33h1v1h-1zM127 33h10v1h-10zM33 33h1v1h-1zM106 33h8v1h-8zM89 33h1v2h-1zM129 34h8v1h-8zM87 35h3v1h-3zM141 35h2v1h-2zM84 36h2v1h-2zM141 36h3v1h-3zM83 37h1v1h-1zM141 37h2v2h-2zM62 39h1v1h-1zM142 39h1v2h-1zM91 41h1v1h-1zM81 42h1v1h-1zM92 42h2v1h-2zM142 41h2v3h-2zM92 43h1v1h-1zM94 43h1v1h-1zM60 43h1v1h-1zM136 44h8v1h-8zM59 44h1v1h-1zM93 44h1v1h-1zM135 45h8v1h-8zM174 45h1v1h-1zM58 45h1v1h-1zM33 45h1v1h-1zM134 46h8v1h-8zM175 46h1v1h-1zM133 47h3v1h-3zM133 48h2v1h-2zM80 43h1v7h-1zM68 47h3v3h-3zM55 49h1v1h-1zM132 49h2v2h-2zM105 50h2v1h-2zM80 50h2v1h-2zM54 50h1v1h-1zM67 50h4v2h-4zM121 50h2v2h-2zM81 51h1v1h-1zM131 51h2v2h-2zM105 51h1v2h-1zM53 52h1v1h-1zM81 52h2v1h-2zM31 52h1v1h-1zM66 52h5v2h-5zM82 53h2v2h-2zM130 53h2v2h-2zM52 53h1v2h-1zM65 54h6v1h-6zM51 55h1v1h-1zM83 55h2v1h-2zM30 55h1v1h-1zM84 56h1v1h-1zM50 56h1v1h-1zM29 56h1v1h-1zM65 55h5v3h-5zM49 57h1v1h-1zM113 57h1v1h-1zM85 57h1v2h-1zM148 58h5v1h-5zM28 58h1v1h-1zM48 58h1v1h-1zM65 58h4v2h-4zM86 59h1v1h-1zM47 59h1v1h-1zM147 59h6v1h-6zM146 60h8v1h-8zM66 60h3v1h-3zM86 60h2v1h-2zM165 60h4v1h-4zM163 61h7v1h-7zM87 61h2v1h-2zM145 61h3v1h-3zM66 61h2v2h-2zM86 62h4v1h-4zM168 62h4v1h-4zM162 62h3v1h-3zM144 62h3v1h-3zM129 55h3v9h-3zM150 61h4v3h-4zM160 63h3v1h-3zM170 63h3v1h-3zM142 63h4v1h-4zM67 63h1v2h-1zM81 63h9v2h-9zM141 64h4v1h-4zM158 64h4v1h-4zM171 64h3v1h-3zM150 64h5v1h-5zM151 65h9v1h-9zM81 65h8v1h-8zM141 65h3v1h-3zM172 65h3v2h-3zM152 66h7v1h-7zM140 66h3v1h-3zM82 66h7v1h-7zM130 64h2v4h-2zM173 67h3v1h-3zM66 67h1v1h-1zM84 67h5v1h-5zM97 67h6v1h-6zM154 67h4v1h-4zM139 67h4v2h-4zM92 68h12v1h-12zM85 68h5v1h-5zM174 68h2v1h-2zM39 68h1v1h-1zM65 68h3v1h-3zM130 68h3v1h-3zM87 69h18v1h-18zM129 69h4v1h-4zM38 69h1v1h-1zM64 69h4v2h-4zM23 70h1v1h-1zM37 70h1v1h-1zM89 70h17v1h-17zM138 69h6v3h-6zM129 70h3v2h-3zM36 71h1v1h-1zM96 71h24v1h-24zM63 71h6v1h-6zM174 69h3v4h-3zM127 72h5v1h-5zM97 72h26v1h-26zM139 72h5v1h-5zM22 72h1v1h-1zM63 72h7v1h-7zM35 72h1v1h-1zM173 73h3v1h-3zM140 73h4v1h-4zM99 73h32v1h-32zM34 73h1v1h-1zM64 73h6v1h-6zM121 74h8v1h-8zM173 74h2v1h-2zM64 74h7v1h-7zM33 74h1v1h-1zM106 74h6v1h-6zM21 75h1v1h-1zM172 75h2v1h-2zM122 75h4v1h-4zM141 74h3v3h-3zM65 75h6v2h-6zM32 76h1v1h-1zM170 76h3v1h-3zM141 77h2v1h-2zM20 77h1v1h-1zM168 77h4v1h-4zM161 77h2v1h-2zM160 78h10v1h-10zM31 78h1v1h-1zM141 78h3v2h-3zM158 79h10v1h-10zM142 80h3v1h-3zM157 80h4v1h-4zM19 81h1v1h-1zM143 81h4v1h-4zM30 81h1v1h-1zM151 81h8v1h-8zM145 82h9v1h-9zM155 82h1v1h-1zM116 82h1v1h-1zM116 83h2v1h-2zM116 84h1v1h-1zM18 86h1v1h-1zM29 84h1v5h-1zM244 89h1v1h-1zM244 90h3v2h-3zM16 89h1v4h-1zM28 91h1v4h-1zM27 96h1v1h-1zM26 98h1v2h-1zM256 99h7v1h-7zM260 100h4v1h-4zM256 100h3v1h-3zM255 101h3v1h-3zM261 101h3v2h-3zM255 102h2v1h-2zM28 102h1v1h-1zM30 102h1v1h-1zM14 101h1v3h-1zM254 103h3v1h-3zM29 103h3v1h-3zM262 103h3v2h-3zM251 104h5v1h-5zM13 104h1v1h-1zM31 104h2v1h-2zM185 105h4v1h-4zM248 105h7v1h-7zM268 105h1v1h-1zM263 105h3v1h-3zM32 105h2v2h-2zM12 105h1v2h-1zM247 106h3v1h-3zM263 106h6v1h-6zM35 106h1v1h-1zM36 107h1v1h-1zM264 107h5v1h-5zM247 107h2v1h-2zM11 107h1v1h-1zM246 108h2v1h-2zM265 108h4v1h-4zM12 108h1v1h-1zM266 109h3v1h-3zM164 109h4v1h-4zM202 109h2v1h-2zM245 109h2v1h-2zM185 106h5v5h-5zM202 110h3v1h-3zM244 110h2v1h-2zM163 110h6v1h-6zM37 109h1v3h-1zM211 111h2v1h-2zM185 111h4v1h-4zM243 111h2v1h-2zM162 111h8v1h-8zM161 112h10v1h-10zM187 112h1v1h-1zM232 112h5v1h-5zM209 112h5v1h-5zM240 112h4v1h-4zM151 112h6v1h-6zM202 111h4v3h-4zM231 113h11v1h-11zM208 113h7v1h-7zM39 113h1v1h-1zM230 114h10v1h-10zM203 114h12v1h-12zM151 113h22v3h-22zM227 115h5v1h-5zM213 115h3v1h-3zM204 115h6v1h-6zM214 116h3v1h-3zM40 116h1v1h-1zM205 116h4v1h-4zM225 116h4v1h-4zM153 116h19v1h-19zM154 117h18v1h-18zM224 117h2v1h-2zM215 117h3v1h-3zM39 117h1v1h-1zM150 117h1v1h-1zM41 117h1v2h-1zM145 118h27v1h-27zM216 118h4v1h-4zM221 118h4v1h-4zM142 118h2v1h-2zM205 117h3v3h-3zM142 119h30v1h-30zM40 119h1v1h-1zM217 119h6v1h-6zM142 120h29v1h-29zM266 121h1v1h-1zM151 121h20v1h-20zM43 121h1v1h-1zM143 121h6v1h-6zM144 122h4v1h-4zM155 122h14v1h-14zM44 122h1v1h-1zM264 122h4v1h-4zM206 120h2v4h-2zM262 123h6v1h-6zM45 123h1v1h-1zM145 123h4v1h-4zM156 123h4v1h-4zM206 124h1v1h-1zM257 124h10v1h-10zM156 124h3v2h-3zM146 124h3v2h-3zM46 124h1v2h-1zM256 125h11v1h-11zM205 125h1v1h-1zM255 126h11v1h-11zM47 126h1v1h-1zM203 126h2v1h-2zM147 126h3v1h-3zM147 127h2v1h-2zM202 127h2v1h-2zM254 127h11v1h-11zM156 126h2v3h-2zM201 128h2v1h-2zM146 128h3v1h-3zM254 128h9v1h-9zM49 128h1v2h-1zM155 129h3v1h-3zM145 129h4v1h-4zM253 129h9v1h-9zM200 129h2v2h-2zM142 130h6v1h-6zM253 130h7v1h-7zM155 130h2v2h-2zM50 131h1v1h-1zM140 131h7v1h-7zM253 131h6v1h-6zM154 132h3v1h-3zM138 132h9v1h-9zM51 132h1v2h-1zM137 133h11v1h-11zM152 133h4v1h-4zM253 132h5v3h-5zM114 134h4v1h-4zM135 134h5v1h-5zM143 134h13v1h-13zM52 134h1v1h-1zM55 135h1v1h-1zM130 135h10v1h-10zM108 135h21v1h-21zM253 135h4v1h-4zM199 131h2v6h-2zM144 135h11v2h-11zM252 136h4v1h-4zM107 136h33v1h-33zM57 136h1v1h-1zM65 136h2v1h-2zM114 137h26v1h-26zM63 137h2v1h-2zM198 137h2v1h-2zM145 137h10v1h-10zM252 137h3v1h-3zM59 137h1v1h-1zM67 137h2v1h-2zM197 138h3v1h-3zM134 138h6v1h-6zM61 138h2v1h-2zM69 138h1v1h-1zM251 138h4v1h-4zM115 138h11v1h-11zM146 138h9v1h-9zM106 137h4v3h-4zM197 139h2v1h-2zM116 139h8v1h-8zM70 139h1v1h-1zM136 139h3v1h-3zM82 139h6v1h-6zM251 139h3v2h-3zM196 140h2v1h-2zM107 140h7v1h-7zM82 140h8v1h-8zM71 140h2v1h-2zM148 139h7v3h-7zM195 141h2v1h-2zM250 141h3v1h-3zM108 141h7v1h-7zM72 141h1v1h-1zM81 141h9v2h-9zM110 142h6v1h-6zM250 142h2v1h-2zM148 142h6v1h-6zM194 142h2v1h-2zM73 142h2v1h-2zM80 143h9v1h-9zM147 143h4v1h-4zM76 143h2v1h-2zM193 143h2v1h-2zM112 143h4v1h-4zM250 143h1v2h-1zM113 144h4v1h-4zM78 144h10v1h-10zM146 144h3v1h-3zM191 144h3v1h-3zM114 145h3v1h-3zM249 145h1v1h-1zM79 145h9v1h-9zM146 145h2v1h-2zM187 145h6v1h-6zM115 146h3v1h-3zM185 146h4v1h-4zM82 146h5v1h-5zM145 146h3v1h-3zM248 146h1v1h-1zM184 147h2v1h-2zM83 147h4v1h-4zM116 147h3v1h-3zM144 147h3v1h-3zM143 148h3v1h-3zM118 148h2v1h-2zM183 148h1v1h-1zM83 148h3v1h-3zM84 149h2v1h-2zM118 149h3v1h-3zM142 149h3v1h-3zM182 149h1v1h-1zM141 150h3v1h-3zM181 150h1v1h-1zM85 150h2v1h-2zM119 150h3v1h-3zM120 151h3v1h-3zM180 151h2v1h-2zM86 151h2v1h-2zM140 151h3v1h-3zM120 152h4v1h-4zM179 152h2v1h-2zM139 152h2v1h-2zM87 152h2v1h-2zM178 153h3v1h-3zM138 153h2v2h-2zM121 153h3v2h-3zM173 154h7v1h-7zM172 155h7v1h-7zM121 155h4v1h-4zM90 155h1v1h-1zM137 155h2v2h-2zM91 156h1v1h-1zM122 156h4v1h-4zM171 156h5v1h-5zM136 157h2v1h-2zM123 157h4v1h-4zM170 157h3v1h-3zM93 157h1v1h-1zM125 158h4v1h-4zM169 158h3v1h-3zM94 158h5v1h-5zM135 158h2v1h-2zM126 159h5v1h-5zM99 159h3v1h-3zM161 159h10v1h-10zM132 159h4v1h-4zM95 159h1v1h-1zM160 160h9v1h-9zM127 160h7v1h-7zM129 161h4v1h-4zM159 161h2v2h-2zM105 163h1v2h-1zM159 163h1v3h-1zM106 165h1v2h-1zM159 166h2v2h-2zM107 167h1v1h-1zM160 168h2v1h-2zM108 169h1v1h-1zM161 169h2v2h-2zM162 171h1v3h-1zM162 174h2v1h-2zM240 174h4v1h-4zM163 175h2v1h-2zM239 175h5v1h-5zM163 176h3v1h-3zM240 176h3v2h-3zM165 177h3v1h-3zM241 178h2v1h-2zM167 178h2v1h-2zM109 172h1v8h-1zM168 179h2v1h-2zM242 179h1v2h-1zM169 180h2v1h-2zM170 181h1v1h-1zM110 181h1v1h-1zM170 182h2v2h-2zM171 184h1v1h-1zM170 185h3v2h-3zM170 187h2v1h-2zM169 188h3v2h-3zM110 184h1v8h-1zM168 190h4v3h-4zM110 192h2v1h-2zM121 192h2v1h-2zM111 193h1v1h-1zM168 193h3v1h-3zM119 193h5v1h-5zM118 194h6v1h-6zM167 194h4v1h-4zM111 194h2v1h-2zM112 195h12v1h-12zM166 195h3v1h-3zM165 196h2v1h-2zM113 196h5v1h-5zM122 196h2v1h-2zM163 197h3v1h-3zM122 197h3v1h-3zM162 198h2v1h-2zM123 198h4v1h-4zM161 199h2v1h-2zM124 199h5v1h-5zM160 200h2v1h-2zM126 200h4v1h-4zM160 201h1v1h-1zM128 201h2v1h-2zM159 202h1v2h-1zM128 202h3v3h-3zM158 204h2v1h-2zM129 205h2v2h-2zM158 205h1v2h-1zM130 207h2v2h-2zM157 207h2v2h-2zM156 209h2v1h-2zM131 209h2v1h-2zM155 210h2v1h-2zM132 210h1v1h-1zM132 211h2v1h-2zM154 211h2v1h-2zM133 212h1v1h-1zM154 212h1v1h-1zM133 213h2v1h-2zM153 213h1v1h-1zM133 214h3v1h-3zM152 214h2v1h-2zM152 215h1v1h-1zM134 215h3v1h-3zM135 216h3v1h-3zM151 216h1v1h-1zM150 217h2v1h-2zM135 217h4v1h-4zM149 218h2v1h-2zM136 218h5v1h-5zM148 219h3v1h-3zM137 219h8v1h-8zM138 220h12v1h-12zM144 221h5v1h-5z"/>
<path fill="#e48066" stroke="#e48066" d="M54 10h1v1h-1zM116 11h1v1h-1zM85 13h1v1h-1zM90 13h2v1h-2zM115 12h1v3h-1zM50 14h1v1h-1zM81 15h1v1h-1zM88 16h1v1h-1zM55 17h1v1h-1zM18 17h1v1h-1zM52 17h1v1h-1zM90 17h2v1h-2zM115 16h1v3h-1zM16 18h7v1h-7zM92 18h3v1h-3zM76 18h1v1h-1zM114 19h2v1h-2zM93 19h3v1h-3zM15 19h11v1h-11zM113 20h3v1h-3zM14 20h14v1h-14zM94 20h3v1h-3zM56 20h1v1h-1zM14 21h16v1h-16zM106 21h2v1h-2zM95 21h5v1h-5zM57 21h1v1h-1zM110 21h5v1h-5zM20 22h11v1h-11zM14 22h2v1h-2zM98 22h15v1h-15zM24 23h6v1h-6zM127 23h1v1h-1zM58 22h1v3h-1zM127 24h2v1h-2zM25 24h5v1h-5zM52 24h1v1h-1zM63 24h1v1h-1zM14 25h1v1h-1zM26 25h4v1h-4zM128 25h2v1h-2zM69 25h1v1h-1zM59 25h1v1h-1zM129 26h3v1h-3zM68 26h1v1h-1zM28 26h1v1h-1zM36 26h2v1h-2zM12 26h1v1h-1zM67 27h1v1h-1zM34 27h2v1h-2zM11 27h1v1h-1zM130 27h3v1h-3zM66 28h1v1h-1zM49 28h1v1h-1zM34 28h1v1h-1zM131 28h3v2h-3zM47 29h2v1h-2zM33 29h2v1h-2zM99 29h3v1h-3zM119 29h7v1h-7zM94 30h4v1h-4zM105 30h1v1h-1zM117 30h17v1h-17zM32 30h1v2h-1zM64 31h1v1h-1zM91 31h1v1h-1zM115 31h2v1h-2zM127 31h7v1h-7zM106 31h1v1h-1zM10 28h1v5h-1zM89 32h1v1h-1zM107 32h5v1h-5zM114 32h1v1h-1zM129 32h4v1h-4zM88 33h1v1h-1zM87 34h2v1h-2zM64 34h1v2h-1zM86 35h1v1h-1zM83 36h1v1h-1zM143 37h2v1h-2zM63 37h1v1h-1zM143 38h1v2h-1zM82 38h1v3h-1zM143 40h2v1h-2zM62 40h1v2h-1zM81 41h1v1h-1zM71 42h1v1h-1zM61 42h2v1h-2zM80 42h1v1h-1zM144 41h1v3h-1zM61 43h1v1h-1zM93 43h1v1h-1zM65 43h9v1h-9zM33 34h1v11h-1zM144 44h2v1h-2zM60 44h1v1h-1zM172 44h2v2h-2zM143 45h3v1h-3zM59 45h1v1h-1zM64 44h10v3h-10zM58 46h1v1h-1zM142 46h3v1h-3zM172 46h3v1h-3zM136 47h9v1h-9zM57 47h1v1h-1zM172 47h5v1h-5zM79 43h1v6h-1zM56 48h2v1h-2zM172 48h6v1h-6zM135 48h7v1h-7zM64 47h4v3h-4zM32 48h1v2h-1zM134 49h4v1h-4zM56 49h1v1h-1zM173 49h5v1h-5zM78 49h2v2h-2zM63 50h4v1h-4zM55 50h2v1h-2zM174 50h4v1h-4zM134 50h3v1h-3zM176 51h1v1h-1zM106 51h1v1h-1zM54 51h4v1h-4zM62 51h5v1h-5zM78 51h3v1h-3zM71 47h3v6h-3zM133 51h4v2h-4zM54 52h5v1h-5zM77 52h4v1h-4zM61 52h5v1h-5zM53 53h13v1h-13zM132 53h6v2h-6zM71 53h11v2h-11zM53 54h12v1h-12zM30 54h1v1h-1zM52 55h13v1h-13zM70 55h13v1h-13zM132 55h7v2h-7zM70 56h14v1h-14zM51 56h14v1h-14zM148 56h5v1h-5zM50 57h15v1h-15zM147 57h7v1h-7zM70 57h5v1h-5zM76 57h9v1h-9zM165 57h3v1h-3zM132 57h6v1h-6zM132 58h5v1h-5zM153 58h2v1h-2zM69 58h4v1h-4zM49 58h16v1h-16zM145 58h3v1h-3zM164 58h5v1h-5zM78 58h7v1h-7zM48 59h17v1h-17zM132 59h4v1h-4zM144 59h3v1h-3zM153 59h3v1h-3zM163 59h8v1h-8zM78 59h8v2h-8zM69 59h3v2h-3zM143 60h3v1h-3zM169 60h5v1h-5zM47 60h19v1h-19zM154 60h2v1h-2zM162 60h3v1h-3zM77 61h10v1h-10zM160 61h3v1h-3zM49 61h12v1h-12zM142 61h3v1h-3zM46 61h1v1h-1zM154 61h3v1h-3zM170 61h5v1h-5zM68 61h4v1h-4zM62 61h4v1h-4zM27 61h1v1h-1zM45 62h1v1h-1zM172 62h4v1h-4zM77 62h9v1h-9zM63 62h3v1h-3zM154 62h8v1h-8zM141 62h3v1h-3zM132 60h3v4h-3zM68 62h3v2h-3zM173 63h3v1h-3zM44 63h1v1h-1zM139 63h3v1h-3zM154 63h6v1h-6zM76 63h5v2h-5zM63 63h4v2h-4zM155 64h3v1h-3zM138 64h3v1h-3zM43 64h1v1h-1zM132 64h4v1h-4zM174 64h2v1h-2zM26 64h1v1h-1zM68 64h4v1h-4zM50 62h9v4h-9zM75 65h6v1h-6zM63 65h9v1h-9zM132 65h9v1h-9zM42 65h1v1h-1zM25 65h1v1h-1zM175 65h2v2h-2zM41 66h1v1h-1zM50 66h10v1h-10zM62 66h20v1h-20zM132 66h8v1h-8zM67 67h17v1h-17zM40 67h1v1h-1zM132 67h7v1h-7zM176 67h2v1h-2zM24 67h1v1h-1zM50 67h16v1h-16zM50 68h15v1h-15zM68 68h17v1h-17zM176 68h3v1h-3zM133 68h6v1h-6zM133 69h5v1h-5zM23 69h1v1h-1zM83 69h4v1h-4zM177 69h2v1h-2zM39 69h1v1h-1zM68 69h11v1h-11zM51 69h13v2h-13zM68 70h10v1h-10zM85 70h4v1h-4zM38 70h1v1h-1zM177 70h3v2h-3zM132 70h6v2h-6zM51 71h12v1h-12zM87 71h9v1h-9zM69 71h8v1h-8zM37 71h1v1h-1zM22 71h1v1h-1zM52 72h11v1h-11zM132 72h7v1h-7zM70 72h7v1h-7zM90 72h7v1h-7zM177 72h4v1h-4zM91 73h8v1h-8zM53 73h11v1h-11zM176 73h6v1h-6zM131 73h9v1h-9zM70 73h6v1h-6zM21 74h1v1h-1zM129 74h12v1h-12zM92 74h14v1h-14zM175 74h8v1h-8zM112 74h9v1h-9zM58 74h6v1h-6zM71 74h6v2h-6zM180 75h3v1h-3zM174 75h3v1h-3zM98 75h24v1h-24zM198 75h2v1h-2zM126 75h7v1h-7zM60 75h5v1h-5zM92 75h4v1h-4zM136 75h5v2h-5zM61 76h4v1h-4zM173 76h2v1h-2zM71 76h9v1h-9zM101 76h30v1h-30zM91 76h3v1h-3zM198 76h5v1h-5zM135 77h6v1h-6zM32 77h1v1h-1zM172 77h2v1h-2zM61 77h22v1h-22zM90 77h3v1h-3zM113 77h14v1h-14zM103 77h6v1h-6zM198 77h8v2h-8zM209 78h4v1h-4zM114 78h11v1h-11zM87 78h5v1h-5zM170 78h3v1h-3zM62 78h24v1h-24zM134 78h7v1h-7zM114 79h9v1h-9zM200 79h5v1h-5zM31 79h1v1h-1zM168 79h3v1h-3zM133 79h8v1h-8zM62 79h30v1h-30zM114 80h8v1h-8zM19 80h1v1h-1zM62 80h29v1h-29zM161 80h9v1h-9zM132 80h10v1h-10zM132 81h11v1h-11zM63 81h2v1h-2zM71 81h16v1h-16zM113 81h8v1h-8zM159 81h8v1h-8zM113 82h3v1h-3zM117 82h4v1h-4zM156 82h5v1h-5zM131 82h14v1h-14zM73 82h10v1h-10zM30 82h1v1h-1zM154 82h1v1h-1zM132 83h28v1h-28zM118 83h3v1h-3zM77 83h4v1h-4zM112 83h4v2h-4zM117 84h5v1h-5zM133 84h8v1h-8zM18 84h1v2h-1zM112 85h10v1h-10zM113 86h9v1h-9zM17 87h1v1h-1zM238 87h2v1h-2zM114 87h8v1h-8zM233 88h4v1h-4zM239 88h5v1h-5zM125 89h2v1h-2zM29 89h1v1h-1zM232 89h12v2h-12zM124 90h4v1h-4zM247 91h1v1h-1zM231 91h13v1h-13zM125 91h3v1h-3zM231 92h18v1h-18zM126 92h2v1h-2zM231 93h19v1h-19zM231 94h7v1h-7zM242 94h7v1h-7zM245 95h1v1h-1zM15 95h1v1h-1zM232 95h5v1h-5zM28 95h1v1h-1zM233 96h3v1h-3zM234 97h1v1h-1zM27 97h1v1h-1zM255 98h1v1h-1zM240 99h3v1h-3zM263 99h1v1h-1zM254 99h2v1h-2zM264 100h1v1h-1zM169 100h5v1h-5zM253 100h3v1h-3zM14 100h1v1h-1zM238 100h6v1h-6zM27 100h1v1h-1zM168 101h7v1h-7zM264 101h3v1h-3zM239 101h7v1h-7zM28 101h5v1h-5zM253 101h2v1h-2zM13 102h1v1h-1zM31 102h2v1h-2zM240 102h15v1h-15zM184 102h6v1h-6zM29 102h1v1h-1zM264 102h4v1h-4zM167 102h9v2h-9zM12 103h2v1h-2zM32 103h2v1h-2zM183 103h9v1h-9zM265 103h3v1h-3zM241 103h13v1h-13zM244 104h7v1h-7zM11 104h2v1h-2zM200 104h3v1h-3zM166 104h10v1h-10zM265 104h4v1h-4zM182 104h11v1h-11zM33 104h1v1h-1zM189 105h4v1h-4zM266 105h2v1h-2zM244 105h4v1h-4zM200 105h4v1h-4zM34 105h1v1h-1zM164 105h12v1h-12zM10 105h2v2h-2zM162 106h13v1h-13zM200 106h5v1h-5zM190 106h3v1h-3zM245 106h2v2h-2zM10 107h1v1h-1zM76 107h4v1h-4zM200 107h6v1h-6zM161 107h13v1h-13zM190 107h4v2h-4zM200 108h7v1h-7zM11 108h1v1h-1zM37 108h1v1h-1zM244 108h2v1h-2zM159 108h15v1h-15zM204 109h10v1h-10zM243 109h2v1h-2zM151 109h13v1h-13zM168 109h8v1h-8zM181 105h4v6h-4zM200 109h2v2h-2zM190 109h3v2h-3zM205 110h11v1h-11zM242 110h2v1h-2zM230 110h7v1h-7zM149 110h14v1h-14zM169 110h8v1h-8zM75 108h6v4h-6zM213 111h4v1h-4zM182 111h3v1h-3zM189 111h4v1h-4zM170 111h8v1h-8zM148 111h14v1h-14zM206 111h5v1h-5zM230 111h13v1h-13zM199 111h3v2h-3zM171 112h7v1h-7zM182 112h5v1h-5zM75 112h5v1h-5zM206 112h3v1h-3zM214 112h4v1h-4zM237 112h3v1h-3zM188 112h5v1h-5zM38 112h1v1h-1zM229 112h3v1h-3zM157 112h4v1h-4zM148 112h3v2h-3zM200 113h2v1h-2zM227 113h4v1h-4zM183 113h9v1h-9zM206 113h2v1h-2zM139 113h4v1h-4zM75 113h4v1h-4zM215 113h4v2h-4zM173 113h4v2h-4zM225 114h5v1h-5zM184 114h7v1h-7zM200 114h3v1h-3zM139 114h5v1h-5zM147 114h4v1h-4zM75 114h2v1h-2zM40 114h1v2h-1zM173 115h3v1h-3zM139 115h12v1h-12zM216 115h4v1h-4zM223 115h4v1h-4zM201 115h3v1h-3zM217 116h8v1h-8zM139 116h14v1h-14zM202 116h3v2h-3zM172 116h3v2h-3zM151 117h3v1h-3zM218 117h6v1h-6zM139 117h11v1h-11zM144 118h1v1h-1zM139 118h3v1h-3zM220 118h1v1h-1zM81 118h4v1h-4zM42 118h1v1h-1zM172 118h2v2h-2zM203 118h2v2h-2zM81 119h5v1h-5zM41 119h1v1h-1zM138 119h4v2h-4zM81 120h6v1h-6zM171 120h3v2h-3zM44 121h1v1h-1zM138 121h5v1h-5zM41 121h2v1h-2zM82 121h7v1h-7zM137 122h7v1h-7zM169 122h4v1h-4zM83 122h8v1h-8zM160 123h12v1h-12zM83 123h9v1h-9zM46 123h1v1h-1zM137 123h8v1h-8zM204 120h2v5h-2zM159 124h12v1h-12zM47 124h1v1h-1zM84 124h10v1h-10zM138 124h8v2h-8zM84 125h12v1h-12zM47 125h2v1h-2zM202 125h3v1h-3zM159 125h10v1h-10zM85 126h12v1h-12zM201 126h2v1h-2zM48 126h2v1h-2zM158 126h8v1h-8zM139 126h8v2h-8zM199 127h3v1h-3zM158 127h5v1h-5zM86 127h12v1h-12zM49 127h1v1h-1zM158 128h3v1h-3zM139 128h7v1h-7zM198 128h3v1h-3zM87 128h12v1h-12zM89 129h10v1h-10zM158 129h2v1h-2zM138 129h7v1h-7zM104 129h1v1h-1zM197 129h3v2h-3zM90 130h10v1h-10zM137 130h5v1h-5zM50 130h1v1h-1zM101 130h6v1h-6zM136 131h4v1h-4zM51 131h1v1h-1zM96 131h12v1h-12zM115 131h6v1h-6zM157 130h2v3h-2zM113 132h11v1h-11zM132 132h6v1h-6zM77 132h2v1h-2zM98 132h12v1h-12zM52 132h1v2h-1zM76 133h6v1h-6zM98 133h39v1h-39zM156 133h2v2h-2zM98 134h16v1h-16zM75 134h12v1h-12zM118 134h17v1h-17zM53 134h2v1h-2zM64 134h4v1h-4zM197 131h2v5h-2zM129 135h1v1h-1zM74 135h15v1h-15zM64 135h7v1h-7zM56 135h1v1h-1zM98 135h10v1h-10zM155 135h3v2h-3zM67 136h6v1h-6zM63 136h2v1h-2zM99 136h8v1h-8zM196 136h3v1h-3zM58 136h2v1h-2zM75 136h15v1h-15zM101 137h5v1h-5zM196 137h2v1h-2zM69 137h4v1h-4zM78 137h13v1h-13zM60 137h3v1h-3zM79 138h14v1h-14zM70 138h3v1h-3zM102 138h4v1h-4zM195 138h2v2h-2zM71 139h3v1h-3zM88 139h6v1h-6zM103 139h3v1h-3zM79 139h3v2h-3zM194 140h2v1h-2zM73 140h1v1h-1zM103 140h4v1h-4zM155 137h2v5h-2zM90 140h5v2h-5zM104 141h4v1h-4zM73 141h3v1h-3zM78 141h3v1h-3zM193 141h2v1h-2zM75 142h6v1h-6zM90 142h4v1h-4zM154 142h3v1h-3zM105 142h5v1h-5zM191 142h3v1h-3zM189 143h4v1h-4zM89 143h5v1h-5zM151 143h6v1h-6zM78 143h2v1h-2zM106 143h6v1h-6zM88 144h4v1h-4zM107 144h6v1h-6zM186 144h5v1h-5zM149 144h8v1h-8zM88 145h2v1h-2zM148 145h9v1h-9zM184 145h3v1h-3zM109 145h5v1h-5zM111 146h4v1h-4zM183 146h2v1h-2zM148 146h8v1h-8zM87 146h2v2h-2zM182 147h2v1h-2zM112 147h4v1h-4zM147 147h3v1h-3zM181 148h2v1h-2zM114 148h4v1h-4zM146 148h3v1h-3zM86 148h2v2h-2zM115 149h3v1h-3zM180 149h2v1h-2zM145 149h4v1h-4zM116 150h3v1h-3zM179 150h2v1h-2zM87 150h2v1h-2zM144 150h5v1h-5zM88 151h1v1h-1zM143 151h6v1h-6zM178 151h2v1h-2zM167 151h6v1h-6zM117 151h3v2h-3zM167 152h12v1h-12zM141 152h7v1h-7zM89 152h1v2h-1zM140 153h6v1h-6zM168 153h10v1h-10zM90 154h1v1h-1zM140 154h2v1h-2zM151 154h6v1h-6zM168 154h5v1h-5zM118 153h3v3h-3zM151 155h7v1h-7zM168 155h4v1h-4zM91 155h1v1h-1zM139 155h2v1h-2zM92 156h1v1h-1zM118 156h4v1h-4zM139 156h1v1h-1zM152 156h7v1h-7zM168 156h3v1h-3zM155 157h8v1h-8zM138 157h2v1h-2zM94 157h1v1h-1zM164 157h6v1h-6zM118 157h5v1h-5zM157 158h12v1h-12zM99 158h1v1h-1zM119 158h6v1h-6zM137 158h2v1h-2zM102 159h1v1h-1zM136 159h2v1h-2zM121 159h5v1h-5zM157 159h4v1h-4zM124 160h3v1h-3zM103 160h1v1h-1zM157 160h3v1h-3zM134 160h3v1h-3zM125 161h4v1h-4zM133 161h3v1h-3zM104 161h1v1h-1zM105 162h1v1h-1zM126 162h9v1h-9zM158 161h1v3h-1zM127 163h7v1h-7zM106 164h1v1h-1zM128 164h5v2h-5zM157 164h2v2h-2zM107 166h1v1h-1zM129 166h3v1h-3zM158 166h1v2h-1zM129 167h2v1h-2zM158 168h2v1h-2zM108 168h1v1h-1zM159 169h2v2h-2zM109 170h1v2h-1zM160 171h2v3h-2zM161 174h1v1h-1zM161 175h2v2h-2zM162 177h3v1h-3zM162 178h5v1h-5zM164 179h4v1h-4zM110 178h1v3h-1zM166 180h3v1h-3zM167 181h3v1h-3zM168 182h2v2h-2zM110 182h1v2h-1zM168 184h3v1h-3zM168 185h2v1h-2zM167 186h3v1h-3zM166 187h4v1h-4zM166 188h3v1h-3zM165 189h4v1h-4zM111 186h1v5h-1zM165 190h3v1h-3zM120 190h4v1h-4zM119 191h6v1h-6zM111 191h2v1h-2zM123 192h2v1h-2zM112 192h1v1h-1zM118 192h3v1h-3zM164 191h4v3h-4zM112 193h7v1h-7zM113 194h5v1h-5zM164 194h3v1h-3zM124 193h2v3h-2zM163 195h3v1h-3zM124 196h3v1h-3zM162 196h3v1h-3zM125 197h4v1h-4zM161 197h2v1h-2zM160 198h2v1h-2zM127 198h3v1h-3zM129 199h2v1h-2zM159 199h2v1h-2zM159 200h1v1h-1zM130 200h1v1h-1zM130 201h2v1h-2zM158 201h2v1h-2zM131 202h1v2h-1zM157 202h2v2h-2zM156 204h2v3h-2zM131 204h2v3h-2zM132 207h2v2h-2zM155 207h2v2h-2zM133 209h1v1h-1zM154 209h2v1h-2zM153 210h2v1h-2zM133 210h2v1h-2zM134 211h1v1h-1zM153 211h1v1h-1zM134 212h2v1h-2zM152 212h2v1h-2zM151 213h2v1h-2zM135 213h2v1h-2zM136 214h3v1h-3zM151 214h1v1h-1zM150 215h2v1h-2zM137 215h4v1h-4zM149 216h2v1h-2zM138 216h5v1h-5zM139 217h6v1h-6zM148 217h2v1h-2zM141 218h8v1h-8zM145 219h3v1h-3z"/>
<path fill="#e27b62" stroke="#e27b62" d="M49 9h1v1h-1zM117 11h1v1h-1zM48 11h1v2h-1zM89 12h1v1h-1zM55 12h1v1h-1zM82 12h2v1h-2zM116 12h1v2h-1zM86 13h4v1h-4zM73 14h1v1h-1zM52 15h2v1h-2zM116 16h1v1h-1zM52 16h1v1h-1zM87 16h1v1h-1zM69 17h1v1h-1zM89 17h1v1h-1zM77 17h1v1h-1zM68 18h1v1h-1zM89 18h3v1h-3zM52 18h1v2h-1zM90 19h3v1h-3zM67 19h1v1h-1zM116 17h2v4h-2zM91 20h3v1h-3zM115 21h2v1h-2zM35 21h1v1h-1zM92 21h3v1h-3zM35 22h2v1h-2zM113 22h4v1h-4zM73 22h1v1h-1zM16 22h4v1h-4zM94 22h4v1h-4zM126 22h1v1h-1zM34 23h4v1h-4zM95 23h21v1h-21zM52 23h1v1h-1zM15 23h9v1h-9zM72 23h1v1h-1zM30 23h2v1h-2zM125 23h2v2h-2zM30 24h8v1h-8zM22 24h3v1h-3zM71 24h1v1h-1zM15 24h1v1h-1zM125 25h3v1h-3zM60 25h2v1h-2zM30 25h9v1h-9zM24 25h2v1h-2zM38 26h6v1h-6zM24 26h4v1h-4zM29 26h7v1h-7zM13 26h1v1h-1zM121 26h8v1h-8zM51 26h1v1h-1zM45 27h1v1h-1zM50 27h1v1h-1zM25 27h9v1h-9zM12 27h1v1h-1zM119 27h11v1h-11zM46 28h1v1h-1zM26 28h8v1h-8zM118 28h13v1h-13zM11 28h2v1h-2zM116 29h3v1h-3zM28 29h5v1h-5zM96 29h3v1h-3zM102 29h3v1h-3zM126 29h5v1h-5zM114 30h3v1h-3zM65 30h1v1h-1zM92 30h2v1h-2zM31 30h1v1h-1zM106 30h1v1h-1zM107 31h8v1h-8zM90 31h1v1h-1zM112 32h2v1h-2zM88 32h1v1h-1zM11 29h1v5h-1zM64 32h1v2h-1zM32 32h1v2h-1zM87 33h1v1h-1zM86 34h1v1h-1zM84 35h2v1h-2zM64 36h1v1h-1zM82 37h1v1h-1zM72 38h3v1h-3zM144 38h2v2h-2zM81 38h1v2h-1zM70 39h7v1h-7zM63 38h1v3h-1zM80 40h2v1h-2zM68 40h10v1h-10zM145 40h1v2h-1zM63 41h18v1h-18zM72 42h8v1h-8zM63 42h8v1h-8zM170 42h1v1h-1zM145 42h2v2h-2zM62 43h3v1h-3zM146 44h2v1h-2zM61 44h3v1h-3zM146 45h3v1h-3zM60 45h4v1h-4zM59 46h5v1h-5zM32 38h1v10h-1zM145 46h5v2h-5zM74 43h5v6h-5zM170 43h2v6h-2zM58 47h6v2h-6zM142 48h8v1h-8zM138 49h12v1h-12zM170 49h3v1h-3zM57 49h7v1h-7zM57 50h6v1h-6zM170 50h4v1h-4zM178 50h1v1h-1zM137 50h12v1h-12zM74 49h4v3h-4zM177 51h2v1h-2zM137 51h5v1h-5zM144 51h5v1h-5zM171 51h5v1h-5zM58 51h4v1h-4zM31 51h1v1h-1zM146 52h3v1h-3zM74 52h3v1h-3zM137 52h4v1h-4zM173 52h7v1h-7zM59 52h2v1h-2zM165 53h3v1h-3zM147 53h4v1h-4zM30 53h1v1h-1zM174 53h6v1h-6zM138 53h3v1h-3zM146 54h7v1h-7zM175 54h5v1h-5zM138 54h4v1h-4zM164 54h5v1h-5zM175 55h6v1h-6zM145 55h10v1h-10zM29 55h1v1h-1zM163 55h6v1h-6zM139 55h4v1h-4zM162 56h8v1h-8zM174 56h7v1h-7zM139 56h9v1h-9zM153 56h3v1h-3zM28 57h1v1h-1zM138 57h9v1h-9zM168 57h13v1h-13zM154 57h3v1h-3zM161 57h4v1h-4zM75 57h1v1h-1zM169 58h11v1h-11zM160 58h4v1h-4zM73 58h5v1h-5zM137 58h8v1h-8zM155 58h3v1h-3zM156 59h7v1h-7zM136 59h8v1h-8zM171 59h8v1h-8zM72 59h6v2h-6zM27 59h1v2h-1zM156 60h6v1h-6zM174 60h4v1h-4zM135 60h8v1h-8zM157 61h3v1h-3zM135 61h7v1h-7zM175 61h3v1h-3zM61 61h1v1h-1zM47 61h2v1h-2zM72 61h5v1h-5zM71 62h6v1h-6zM135 62h6v1h-6zM46 62h4v1h-4zM176 62h2v2h-2zM71 63h5v1h-5zM45 63h5v1h-5zM26 63h1v1h-1zM135 63h4v1h-4zM72 64h4v1h-4zM44 64h6v1h-6zM136 64h2v1h-2zM176 64h3v1h-3zM59 62h4v4h-4zM43 65h1v1h-1zM177 65h2v1h-2zM46 65h4v1h-4zM72 65h3v1h-3zM24 66h1v1h-1zM60 66h2v1h-2zM42 66h1v1h-1zM177 66h3v1h-3zM178 67h3v1h-3zM41 67h1v1h-1zM47 66h3v3h-3zM23 67h1v2h-1zM40 68h2v1h-2zM179 68h3v1h-3zM79 69h4v1h-4zM40 69h1v1h-1zM179 69h4v1h-4zM22 69h1v2h-1zM39 70h1v1h-1zM78 70h7v1h-7zM180 70h5v1h-5zM48 69h3v3h-3zM38 71h2v1h-2zM77 71h10v1h-10zM180 71h7v1h-7zM48 72h4v1h-4zM77 72h13v1h-13zM181 72h7v1h-7zM36 72h3v1h-3zM21 72h1v2h-1zM182 73h7v1h-7zM76 73h15v1h-15zM35 73h4v1h-4zM48 73h5v1h-5zM195 74h2v1h-2zM77 74h9v1h-9zM34 74h4v1h-4zM48 74h10v1h-10zM87 74h5v1h-5zM183 74h7v2h-7zM194 75h4v1h-4zM48 75h12v1h-12zM77 75h15v1h-15zM33 75h5v1h-5zM177 75h3v1h-3zM133 75h3v1h-3zM96 75h2v1h-2zM175 76h15v1h-15zM80 76h11v1h-11zM131 76h5v1h-5zM20 76h1v1h-1zM94 76h7v1h-7zM36 76h2v1h-2zM33 76h1v1h-1zM48 76h13v1h-13zM192 76h6v2h-6zM109 77h4v1h-4zM47 77h3v1h-3zM127 77h8v1h-8zM93 77h10v1h-10zM36 77h4v1h-4zM55 77h6v1h-6zM83 77h7v1h-7zM174 77h14v1h-14zM86 78h1v1h-1zM36 78h5v1h-5zM173 78h2v1h-2zM56 78h6v1h-6zM46 78h3v1h-3zM193 78h5v1h-5zM206 78h3v1h-3zM92 78h4v1h-4zM100 78h14v1h-14zM125 78h9v1h-9zM178 78h8v1h-8zM32 78h1v1h-1zM180 79h4v1h-4zM194 79h6v1h-6zM123 79h10v1h-10zM36 79h6v1h-6zM171 79h3v1h-3zM205 79h9v1h-9zM92 79h3v1h-3zM19 79h1v1h-1zM101 79h13v2h-13zM57 79h5v2h-5zM46 79h4v2h-4zM196 80h19v1h-19zM122 80h10v1h-10zM170 80h2v1h-2zM91 80h4v1h-4zM36 80h5v2h-5zM31 80h1v2h-1zM65 81h6v1h-6zM197 81h11v1h-11zM57 81h6v1h-6zM101 81h12v1h-12zM87 81h7v1h-7zM47 81h4v1h-4zM121 81h11v1h-11zM211 81h4v1h-4zM167 81h4v1h-4zM56 82h17v1h-17zM100 82h13v1h-13zM121 82h10v1h-10zM38 82h2v1h-2zM83 82h12v1h-12zM201 82h5v1h-5zM161 82h8v1h-8zM214 82h3v1h-3zM47 82h6v1h-6zM18 81h1v3h-1zM70 83h7v1h-7zM81 83h7v1h-7zM48 83h19v1h-19zM160 83h4v1h-4zM90 83h6v1h-6zM98 83h14v1h-14zM215 83h2v1h-2zM121 83h11v1h-11zM72 84h13v1h-13zM122 84h11v1h-11zM48 84h18v1h-18zM13 84h1v1h-1zM141 84h20v1h-20zM30 83h1v3h-1zM93 84h19v2h-19zM12 85h2v1h-2zM151 85h9v1h-9zM122 85h27v1h-27zM76 85h8v1h-8zM50 85h15v1h-15zM78 86h6v1h-6zM122 86h22v1h-22zM226 86h4v1h-4zM94 86h19v1h-19zM13 86h1v1h-1zM17 86h1v1h-1zM52 86h13v1h-13zM80 87h4v1h-4zM107 87h7v1h-7zM122 87h9v1h-9zM227 87h11v1h-11zM54 87h11v1h-11zM136 87h6v1h-6zM16 87h1v2h-1zM95 87h9v2h-9zM205 87h4v2h-4zM107 88h24v1h-24zM55 88h11v1h-11zM227 88h6v1h-6zM237 88h2v1h-2zM80 88h5v1h-5zM127 89h4v1h-4zM108 89h17v1h-17zM206 89h3v1h-3zM80 89h6v1h-6zM96 89h7v1h-7zM228 89h4v2h-4zM56 89h11v2h-11zM108 90h5v1h-5zM98 90h3v1h-3zM118 90h6v1h-6zM81 90h6v2h-6zM57 91h10v1h-10zM121 91h4v1h-4zM128 90h3v3h-3zM109 91h3v2h-3zM58 92h9v1h-9zM81 92h7v1h-7zM122 92h4v1h-4zM29 90h1v4h-1zM228 91h3v3h-3zM109 93h4v1h-4zM250 93h1v1h-1zM123 93h7v1h-7zM58 93h8v1h-8zM15 89h1v6h-1zM82 93h6v2h-6zM238 94h4v1h-4zM110 94h3v1h-3zM125 94h5v1h-5zM227 94h4v1h-4zM59 94h7v1h-7zM195 94h1v1h-1zM249 94h3v1h-3zM126 95h3v1h-3zM237 95h8v1h-8zM59 95h6v1h-6zM194 95h5v1h-5zM246 95h7v1h-7zM228 95h4v1h-4zM110 95h4v1h-4zM60 96h3v1h-3zM236 96h18v1h-18zM28 96h1v1h-1zM228 96h5v1h-5zM111 96h3v1h-3zM111 97h4v1h-4zM217 97h2v1h-2zM235 97h20v1h-20zM229 97h5v1h-5zM216 98h4v1h-4zM168 98h5v1h-5zM112 98h2v1h-2zM27 98h1v1h-1zM230 98h25v1h-25zM82 95h5v5h-5zM193 96h7v4h-7zM14 96h1v4h-1zM8 97h1v3h-1zM27 99h2v1h-2zM167 99h8v1h-8zM32 99h2v1h-2zM243 99h11v1h-11zM231 99h9v1h-9zM215 99h6v1h-6zM8 100h2v1h-2zM166 100h3v1h-3zM185 100h16v1h-16zM215 100h5v1h-5zM174 100h3v1h-3zM232 100h6v1h-6zM81 100h5v1h-5zM28 100h6v1h-6zM244 100h9v1h-9zM164 101h4v1h-4zM9 101h1v1h-1zM232 101h7v1h-7zM80 101h6v1h-6zM175 101h3v1h-3zM246 101h7v1h-7zM13 101h1v1h-1zM182 101h21v1h-21zM209 101h11v2h-11zM33 101h2v2h-2zM75 102h3v1h-3zM163 102h4v1h-4zM176 102h8v1h-8zM79 102h6v1h-6zM190 102h14v1h-14zM233 102h7v1h-7zM9 102h4v1h-4zM234 103h7v1h-7zM192 103h14v1h-14zM74 103h10v1h-10zM10 103h2v1h-2zM210 103h9v1h-9zM161 103h6v1h-6zM176 103h7v1h-7zM34 103h1v2h-1zM203 104h4v1h-4zM176 104h6v1h-6zM156 104h10v1h-10zM10 104h1v1h-1zM236 104h8v1h-8zM210 104h6v2h-6zM155 105h9v1h-9zM204 105h4v1h-4zM35 105h1v1h-1zM239 105h5v1h-5zM176 105h5v1h-5zM193 104h7v3h-7zM73 104h11v3h-11zM9 105h1v2h-1zM175 106h6v1h-6zM205 106h12v1h-12zM154 106h8v1h-8zM241 106h4v1h-4zM36 106h1v1h-1zM230 106h3v1h-3zM228 107h8v1h-8zM80 107h4v1h-4zM152 107h9v1h-9zM73 107h3v1h-3zM242 107h3v1h-3zM206 107h13v1h-13zM174 107h7v2h-7zM194 107h6v2h-6zM228 108h10v1h-10zM241 108h3v1h-3zM149 108h10v1h-10zM207 108h14v1h-14zM81 108h3v1h-3zM227 109h16v1h-16zM136 109h1v1h-1zM147 109h4v1h-4zM214 109h8v1h-8zM38 109h1v1h-1zM176 109h5v1h-5zM73 108h2v3h-2zM193 109h7v2h-7zM81 109h4v2h-4zM133 110h7v1h-7zM146 110h3v1h-3zM237 110h5v1h-5zM177 110h4v1h-4zM216 110h7v1h-7zM227 110h3v1h-3zM81 111h7v1h-7zM217 111h13v1h-13zM38 111h1v1h-1zM132 111h16v1h-16zM178 111h4v2h-4zM193 111h6v2h-6zM72 111h3v2h-3zM80 112h11v1h-11zM218 112h11v1h-11zM39 112h1v1h-1zM133 112h15v1h-15zM192 113h8v1h-8zM79 113h13v1h-13zM177 113h6v1h-6zM134 113h5v1h-5zM71 113h4v1h-4zM219 113h8v1h-8zM40 113h1v1h-1zM143 113h5v1h-5zM191 114h9v1h-9zM144 114h3v1h-3zM77 114h15v1h-15zM219 114h6v1h-6zM70 114h5v1h-5zM177 114h7v1h-7zM136 114h3v2h-3zM176 115h20v1h-20zM198 115h3v1h-3zM220 115h3v1h-3zM68 115h24v1h-24zM175 116h3v1h-3zM199 116h3v1h-3zM180 116h16v1h-16zM66 116h27v1h-27zM41 116h1v1h-1zM175 117h2v1h-2zM200 117h2v1h-2zM182 117h13v1h-13zM42 117h1v1h-1zM65 117h28v1h-28zM137 116h2v3h-2zM192 118h3v1h-3zM65 118h16v1h-16zM85 118h8v1h-8zM200 118h3v1h-3zM43 118h2v1h-2zM201 119h2v1h-2zM86 119h8v1h-8zM136 119h2v2h-2zM44 119h1v2h-1zM64 119h17v2h-17zM201 120h3v1h-3zM87 120h8v1h-8zM41 120h1v1h-1zM174 118h2v4h-2zM89 121h7v1h-7zM135 121h3v1h-3zM64 121h18v1h-18zM202 121h2v2h-2zM45 122h1v1h-1zM111 122h2v1h-2zM134 122h3v1h-3zM173 122h3v1h-3zM91 122h6v1h-6zM64 122h19v2h-19zM47 123h1v1h-1zM201 123h3v1h-3zM133 123h4v1h-4zM92 123h6v1h-6zM172 123h3v1h-3zM110 123h4v1h-4zM94 124h5v1h-5zM109 124h6v1h-6zM132 124h6v1h-6zM64 124h20v1h-20zM48 124h1v1h-1zM171 124h3v1h-3zM196 124h8v1h-8zM77 125h7v1h-7zM49 125h1v1h-1zM64 125h7v1h-7zM131 125h7v1h-7zM169 125h4v1h-4zM96 125h5v1h-5zM104 125h11v1h-11zM196 125h6v1h-6zM166 126h6v1h-6zM195 126h6v1h-6zM81 126h4v1h-4zM64 126h6v1h-6zM97 126h20v1h-20zM130 126h9v2h-9zM82 127h4v1h-4zM98 127h24v1h-24zM195 127h4v1h-4zM64 127h5v1h-5zM163 127h8v1h-8zM50 126h1v3h-1zM83 128h4v1h-4zM161 128h9v1h-9zM99 128h24v1h-24zM195 128h3v1h-3zM129 128h10v1h-10zM77 129h3v1h-3zM160 129h9v1h-9zM129 129h9v1h-9zM83 129h6v1h-6zM99 129h5v1h-5zM105 129h19v1h-19zM50 129h2v1h-2zM64 128h4v3h-4zM127 130h10v1h-10zM100 130h1v1h-1zM159 130h10v1h-10zM107 130h19v1h-19zM76 130h14v1h-14zM51 130h1v1h-1zM159 131h9v1h-9zM52 131h1v1h-1zM63 131h5v1h-5zM108 131h7v1h-7zM121 131h15v1h-15zM75 131h21v1h-21zM195 129h2v4h-2zM63 132h6v1h-6zM110 132h3v1h-3zM74 132h3v1h-3zM79 132h19v1h-19zM124 132h8v1h-8zM164 132h3v1h-3zM53 132h1v1h-1zM159 132h3v1h-3zM53 133h2v1h-2zM82 133h16v1h-16zM62 133h14v1h-14zM158 133h3v2h-3zM68 134h7v1h-7zM62 134h2v1h-2zM55 134h1v1h-1zM87 134h11v1h-11zM194 133h3v3h-3zM89 135h9v1h-9zM71 135h3v1h-3zM57 135h2v1h-2zM61 135h3v1h-3zM158 135h2v2h-2zM60 136h3v1h-3zM90 136h9v1h-9zM73 136h2v1h-2zM194 136h2v2h-2zM73 137h5v1h-5zM91 137h10v1h-10zM193 138h2v1h-2zM93 138h9v1h-9zM73 138h6v1h-6zM157 137h3v3h-3zM192 139h3v1h-3zM94 139h9v1h-9zM74 139h5v2h-5zM95 140h8v1h-8zM191 140h3v1h-3zM76 141h2v1h-2zM95 141h9v1h-9zM189 141h4v1h-4zM94 142h4v1h-4zM101 142h4v1h-4zM186 142h5v1h-5zM94 143h3v1h-3zM184 143h5v1h-5zM103 143h3v1h-3zM183 144h3v1h-3zM92 144h4v1h-4zM104 144h3v1h-3zM157 140h2v6h-2zM90 145h5v1h-5zM105 145h4v1h-4zM182 145h2v1h-2zM156 146h3v1h-3zM89 146h4v1h-4zM181 146h2v1h-2zM107 146h4v1h-4zM108 147h4v1h-4zM181 147h1v1h-1zM89 147h2v1h-2zM150 147h9v1h-9zM165 148h5v1h-5zM88 148h3v1h-3zM110 148h4v1h-4zM179 148h2v1h-2zM149 148h10v2h-10zM111 149h4v1h-4zM164 149h9v1h-9zM178 149h2v1h-2zM88 149h2v1h-2zM163 150h16v1h-16zM112 150h4v1h-4zM89 150h1v1h-1zM149 150h11v2h-11zM173 151h5v1h-5zM89 151h2v1h-2zM162 151h5v1h-5zM113 151h4v2h-4zM148 152h19v1h-19zM90 152h1v1h-1zM90 153h2v1h-2zM146 153h22v1h-22zM91 154h1v1h-1zM142 154h9v1h-9zM157 154h11v1h-11zM141 155h10v1h-10zM158 155h10v1h-10zM92 155h1v1h-1zM159 156h9v1h-9zM140 156h12v1h-12zM93 156h1v1h-1zM114 153h4v5h-4zM145 157h10v1h-10zM95 157h5v1h-5zM163 157h1v1h-1zM140 157h2v1h-2zM148 158h9v1h-9zM114 158h5v1h-5zM100 158h3v1h-3zM139 158h2v1h-2zM103 159h1v1h-1zM154 159h3v1h-3zM114 159h7v1h-7zM138 159h2v1h-2zM115 160h9v1h-9zM155 160h2v1h-2zM137 160h2v1h-2zM104 160h1v1h-1zM105 161h1v1h-1zM136 161h2v1h-2zM121 161h4v1h-4zM135 162h3v1h-3zM123 162h3v1h-3zM156 161h2v3h-2zM134 163h3v1h-3zM106 163h1v1h-1zM124 163h3v1h-3zM124 164h4v1h-4zM133 164h4v1h-4zM107 164h1v1h-1zM156 164h1v2h-1zM125 165h3v1h-3zM107 165h2v1h-2zM133 165h5v1h-5zM132 166h6v1h-6zM108 166h1v2h-1zM125 166h4v2h-4zM131 167h7v1h-7zM156 166h2v3h-2zM125 168h12v1h-12zM109 168h1v2h-1zM126 169h9v1h-9zM157 169h2v2h-2zM126 170h8v1h-8zM157 171h3v1h-3zM127 171h5v1h-5zM158 172h2v2h-2zM159 174h2v3h-2zM110 173h1v5h-1zM159 177h3v1h-3zM160 178h2v1h-2zM160 179h4v1h-4zM161 180h5v1h-5zM161 181h6v1h-6zM161 182h7v1h-7zM111 178h1v8h-1zM162 183h6v3h-6zM162 186h5v1h-5zM162 187h4v2h-4zM112 186h1v4h-1zM118 189h7v1h-7zM161 189h4v1h-4zM160 190h5v1h-5zM124 190h2v1h-2zM117 190h3v1h-3zM112 190h2v1h-2zM157 191h7v1h-7zM113 191h6v1h-6zM125 191h2v2h-2zM158 192h6v1h-6zM113 192h5v1h-5zM126 193h2v2h-2zM160 193h4v2h-4zM126 195h3v1h-3zM160 195h3v1h-3zM159 196h3v1h-3zM127 196h2v1h-2zM159 197h2v1h-2zM129 197h1v1h-1zM158 198h2v1h-2zM130 198h1v1h-1zM131 199h1v1h-1zM158 199h1v1h-1zM131 200h2v1h-2zM157 200h2v1h-2zM156 201h2v1h-2zM132 201h1v1h-1zM156 202h1v1h-1zM132 202h2v2h-2zM155 203h2v1h-2zM133 204h1v1h-1zM154 204h2v2h-2zM133 205h2v2h-2zM153 206h3v1h-3zM153 207h2v1h-2zM134 207h1v2h-1zM152 208h3v1h-3zM152 209h2v1h-2zM134 209h2v1h-2zM135 210h1v1h-1zM151 210h2v2h-2zM135 211h2v1h-2zM150 212h2v1h-2zM136 212h2v1h-2zM137 213h4v1h-4zM150 213h1v1h-1zM149 214h2v1h-2zM139 214h4v1h-4zM141 215h4v1h-4zM148 215h2v1h-2zM143 216h6v1h-6zM145 217h3v1h-3z"/>
<path fill="#de735c" stroke="#de735c" d="M53 9h1v1h-1zM79 9h2v1h-2zM79 10h3v1h-3zM48 10h1v1h-1zM80 11h3v1h-3zM55 11h1v1h-1zM80 12h2v1h-2zM117 12h2v1h-2zM84 12h5v1h-5zM117 13h1v1h-1zM48 13h1v1h-1zM74 13h3v1h-3zM49 14h1v1h-1zM77 14h1v1h-1zM80 13h1v3h-1zM54 14h1v2h-1zM71 15h1v1h-1zM51 15h1v1h-1zM78 15h1v2h-1zM82 16h5v1h-5zM117 16h2v1h-2zM70 16h1v1h-1zM55 16h1v1h-1zM118 17h1v2h-1zM87 17h2v2h-2zM77 18h1v1h-1zM88 19h2v1h-2zM56 19h1v1h-1zM76 19h1v1h-1zM124 19h1v1h-1zM37 19h2v1h-2zM118 19h2v2h-2zM89 20h2v1h-2zM57 20h1v1h-1zM66 20h1v1h-1zM75 20h1v1h-1zM124 20h2v2h-2zM36 20h4v2h-4zM65 21h1v1h-1zM74 21h1v1h-1zM117 21h3v1h-3zM58 21h1v1h-1zM89 21h3v1h-3zM52 20h1v3h-1zM64 22h1v1h-1zM91 22h3v1h-3zM123 22h3v1h-3zM117 22h4v1h-4zM37 22h4v1h-4zM116 23h9v1h-9zM38 23h3v1h-3zM92 23h3v1h-3zM59 23h1v2h-1zM16 24h2v1h-2zM38 24h4v1h-4zM93 24h32v1h-32zM15 25h2v1h-2zM102 25h23v1h-23zM70 25h1v1h-1zM39 25h4v1h-4zM51 25h1v1h-1zM69 26h1v1h-1zM50 26h1v1h-1zM44 26h2v1h-2zM14 26h2v1h-2zM115 26h6v1h-6zM68 27h1v1h-1zM13 27h2v1h-2zM115 27h4v1h-4zM46 27h4v1h-4zM25 28h1v1h-1zM97 28h5v1h-5zM47 28h2v1h-2zM13 28h1v1h-1zM113 28h5v1h-5zM12 29h2v1h-2zM105 29h2v1h-2zM93 29h3v1h-3zM66 29h1v1h-1zM26 29h2v1h-2zM110 29h6v1h-6zM91 30h1v1h-1zM107 30h7v1h-7zM26 30h5v1h-5zM12 30h1v2h-1zM65 31h1v1h-1zM89 31h1v1h-1zM27 31h5v1h-5zM12 32h2v1h-2zM87 32h1v1h-1zM28 32h4v2h-4zM86 33h1v1h-1zM84 34h2v1h-2zM29 34h4v2h-4zM83 35h1v1h-1zM81 36h2v1h-2zM71 36h4v1h-4zM30 36h3v2h-3zM80 37h2v1h-2zM69 37h9v1h-9zM64 37h1v2h-1zM75 38h6v1h-6zM68 38h4v1h-4zM146 38h4v1h-4zM77 39h4v1h-4zM64 39h6v1h-6zM146 39h2v2h-2zM64 40h4v1h-4zM78 40h2v1h-2zM146 41h3v1h-3zM168 41h1v1h-1zM147 42h4v1h-4zM147 43h6v1h-6zM148 44h6v1h-6zM30 38h2v8h-2zM149 45h5v1h-5zM167 42h3v7h-3zM31 46h1v3h-1zM150 46h4v4h-4zM166 49h4v1h-4zM165 50h5v1h-5zM149 50h5v2h-5zM164 51h7v1h-7zM142 51h2v1h-2zM149 52h6v1h-6zM141 52h5v1h-5zM163 52h10v1h-10zM141 53h6v1h-6zM168 53h6v1h-6zM162 53h3v1h-3zM151 53h5v1h-5zM29 54h1v1h-1zM142 54h4v1h-4zM153 54h4v1h-4zM161 54h3v1h-3zM169 54h6v2h-6zM143 55h2v1h-2zM155 55h8v1h-8zM28 55h1v2h-1zM156 56h6v1h-6zM170 56h4v1h-4zM157 57h4v1h-4zM27 57h1v2h-1zM158 58h2v1h-2zM180 58h2v1h-2zM179 59h4v1h-4zM178 60h6v1h-6zM178 61h7v2h-7zM26 61h1v2h-1zM25 63h1v1h-1zM178 63h8v1h-8zM20 63h2v1h-2zM21 64h5v1h-5zM179 64h7v2h-7zM44 65h2v1h-2zM20 65h5v1h-5zM180 66h6v1h-6zM18 66h6v1h-6zM43 66h4v1h-4zM181 67h5v1h-5zM16 67h7v1h-7zM42 67h5v2h-5zM15 68h8v1h-8zM182 68h3v1h-3zM41 69h7v1h-7zM183 69h4v1h-4zM45 70h3v1h-3zM185 70h3v1h-3zM40 70h4v1h-4zM15 69h7v3h-7zM187 71h2v1h-2zM40 71h3v1h-3zM46 71h2v2h-2zM188 72h1v1h-1zM14 72h7v1h-7zM39 72h4v2h-4zM45 73h3v1h-3zM13 73h6v1h-6zM189 73h2v1h-2zM86 74h1v1h-1zM12 74h6v1h-6zM190 74h5v1h-5zM20 73h1v3h-1zM190 75h4v1h-4zM13 75h4v1h-4zM38 74h10v3h-10zM34 76h2v1h-2zM12 76h5v1h-5zM190 76h2v1h-2zM40 77h7v1h-7zM50 77h5v1h-5zM13 77h4v1h-4zM188 77h4v1h-4zM19 77h1v1h-1zM33 77h3v2h-3zM96 78h4v1h-4zM49 78h7v1h-7zM41 78h5v1h-5zM175 78h3v1h-3zM12 78h8v1h-8zM186 78h7v1h-7zM42 79h4v1h-4zM174 79h6v1h-6zM184 79h10v1h-10zM11 79h8v2h-8zM50 79h7v2h-7zM95 79h6v2h-6zM172 80h4v1h-4zM41 80h5v1h-5zM177 80h19v1h-19zM32 79h4v3h-4zM94 81h7v1h-7zM180 81h17v1h-17zM51 81h6v1h-6zM171 81h3v1h-3zM41 81h6v1h-6zM11 81h7v1h-7zM208 81h3v1h-3zM40 82h7v1h-7zM169 82h4v1h-4zM95 82h5v1h-5zM53 82h3v1h-3zM206 82h8v1h-8zM188 82h13v1h-13zM31 82h7v1h-7zM10 82h8v2h-8zM67 83h3v1h-3zM217 83h3v1h-3zM88 83h2v1h-2zM31 83h17v1h-17zM190 83h25v1h-25zM164 83h7v1h-7zM96 83h2v1h-2zM31 84h11v1h-11zM45 84h3v1h-3zM161 84h7v1h-7zM191 84h31v1h-31zM66 84h6v1h-6zM85 84h8v1h-8zM9 84h4v1h-4zM14 84h4v2h-4zM149 85h2v1h-2zM31 85h9v1h-9zM84 85h9v1h-9zM160 85h4v1h-4zM10 85h2v1h-2zM65 85h11v1h-11zM46 85h4v1h-4zM191 85h32v1h-32zM46 86h6v1h-6zM144 86h18v1h-18zM191 86h35v1h-35zM12 86h1v1h-1zM90 86h4v1h-4zM65 86h13v1h-13zM14 86h3v1h-3zM36 86h3v1h-3zM84 86h4v2h-4zM131 87h5v1h-5zM142 87h5v1h-5zM209 87h18v1h-18zM47 87h7v1h-7zM152 87h8v1h-8zM13 87h3v1h-3zM65 87h15v1h-15zM91 87h4v1h-4zM104 87h3v2h-3zM192 87h13v2h-13zM131 88h14v1h-14zM14 88h2v1h-2zM223 88h4v1h-4zM85 88h4v1h-4zM48 88h7v1h-7zM66 88h14v1h-14zM36 88h1v1h-1zM92 88h3v1h-3zM209 88h10v1h-10zM30 86h2v4h-2zM77 89h3v1h-3zM103 89h5v1h-5zM34 89h4v1h-4zM49 89h7v1h-7zM192 89h14v1h-14zM209 89h9v1h-9zM93 89h3v1h-3zM131 89h13v1h-13zM86 89h4v1h-4zM14 89h1v1h-1zM67 89h8v1h-8zM224 89h4v1h-4zM101 90h7v1h-7zM131 90h11v1h-11zM94 90h4v1h-4zM50 90h6v1h-6zM113 90h5v1h-5zM193 90h25v1h-25zM78 90h3v2h-3zM87 90h3v2h-3zM131 91h3v1h-3zM95 91h14v1h-14zM192 91h25v1h-25zM112 91h9v1h-9zM51 91h6v1h-6zM67 90h7v3h-7zM14 91h1v2h-1zM105 92h4v1h-4zM77 92h4v1h-4zM131 92h2v1h-2zM98 92h3v1h-3zM192 92h24v1h-24zM53 92h5v1h-5zM112 92h10v1h-10zM225 90h3v4h-3zM30 90h9v4h-9zM214 93h1v1h-1zM106 93h3v1h-3zM54 93h4v1h-4zM121 93h2v1h-2zM192 93h17v1h-17zM88 92h2v3h-2zM130 93h3v2h-3zM113 93h3v2h-3zM10 93h1v2h-1zM66 93h16v2h-16zM122 94h3v1h-3zM215 94h3v1h-3zM224 94h3v1h-3zM191 94h4v1h-4zM196 94h13v1h-13zM107 94h3v1h-3zM55 94h4v2h-4zM14 94h1v2h-1zM223 95h5v1h-5zM191 95h3v1h-3zM214 95h8v1h-8zM123 95h3v1h-3zM199 95h10v1h-10zM114 95h2v1h-2zM108 95h2v1h-2zM65 95h17v1h-17zM129 95h3v1h-3zM29 94h9v3h-9zM63 96h19v1h-19zM114 96h3v1h-3zM200 96h11v1h-11zM169 96h4v1h-4zM124 96h8v1h-8zM108 96h3v1h-3zM213 96h15v1h-15zM191 96h2v1h-2zM56 96h4v1h-4zM9 95h3v3h-3zM87 95h3v3h-3zM109 97h2v1h-2zM167 97h8v1h-8zM115 97h2v1h-2zM200 97h17v1h-17zM125 97h7v1h-7zM190 97h3v1h-3zM219 97h10v1h-10zM13 97h1v1h-1zM56 97h26v2h-26zM28 97h9v2h-9zM48 98h2v1h-2zM126 98h7v1h-7zM173 98h4v1h-4zM220 98h10v1h-10zM110 98h2v1h-2zM166 98h2v1h-2zM189 98h4v1h-4zM114 98h4v1h-4zM200 98h16v1h-16zM87 98h2v2h-2zM9 98h5v2h-5zM226 99h5v1h-5zM127 99h6v1h-6zM110 99h8v1h-8zM182 99h11v1h-11zM200 99h15v1h-15zM29 99h3v1h-3zM57 99h25v1h-25zM175 99h5v1h-5zM164 99h3v1h-3zM221 99h3v1h-3zM47 99h4v1h-4zM34 99h2v2h-2zM220 100h4v1h-4zM111 100h7v1h-7zM47 100h5v1h-5zM177 100h8v1h-8zM10 100h4v1h-4zM201 100h14v1h-14zM58 100h23v1h-23zM163 100h3v1h-3zM129 100h3v1h-3zM86 100h3v2h-3zM228 100h4v2h-4zM59 101h21v1h-21zM203 101h6v1h-6zM178 101h4v1h-4zM47 101h4v1h-4zM112 101h6v1h-6zM10 101h3v1h-3zM161 101h3v1h-3zM220 101h3v2h-3zM156 102h7v1h-7zM228 102h5v1h-5zM78 102h1v1h-1zM85 102h4v1h-4zM48 102h3v1h-3zM60 102h15v1h-15zM204 102h5v1h-5zM219 103h5v1h-5zM227 103h7v1h-7zM60 103h14v1h-14zM206 103h4v1h-4zM154 103h7v1h-7zM35 101h1v4h-1zM84 103h6v2h-6zM207 104h3v1h-3zM153 104h3v1h-3zM216 104h20v1h-20zM60 104h13v2h-13zM152 105h3v1h-3zM216 105h23v1h-23zM208 105h2v1h-2zM36 105h1v1h-1zM233 106h8v1h-8zM150 106h4v1h-4zM217 106h13v1h-13zM59 106h14v2h-14zM219 107h9v1h-9zM37 107h1v1h-1zM135 107h1v1h-1zM148 107h4v1h-4zM236 107h6v1h-6zM84 105h7v4h-7zM146 108h3v1h-3zM38 108h1v1h-1zM238 108h3v1h-3zM132 108h7v1h-7zM221 108h7v1h-7zM130 109h6v1h-6zM137 109h10v1h-10zM222 109h5v1h-5zM58 108h15v3h-15zM85 109h7v2h-7zM223 110h4v1h-4zM38 110h1v1h-1zM128 110h5v1h-5zM140 110h6v1h-6zM128 111h4v1h-4zM39 111h1v1h-1zM88 111h5v1h-5zM58 111h14v2h-14zM127 112h6v1h-6zM40 112h2v1h-2zM91 112h3v1h-3zM63 113h8v1h-8zM127 113h7v1h-7zM63 114h7v1h-7zM127 114h9v1h-9zM41 113h1v3h-1zM92 113h2v3h-2zM63 115h5v1h-5zM125 115h11v1h-11zM196 115h2v1h-2zM196 116h3v1h-3zM178 116h2v1h-2zM133 116h4v1h-4zM93 116h1v1h-1zM62 116h4v1h-4zM124 116h7v1h-7zM177 117h5v1h-5zM43 117h2v1h-2zM62 117h3v1h-3zM93 117h2v2h-2zM134 117h3v2h-3zM123 117h7v2h-7zM195 117h5v2h-5zM61 118h4v1h-4zM176 118h16v1h-16zM42 119h2v1h-2zM94 119h2v1h-2zM122 119h8v1h-8zM133 119h3v1h-3zM176 119h25v2h-25zM122 120h14v1h-14zM43 120h1v1h-1zM95 120h3v1h-3zM109 120h5v1h-5zM45 119h1v3h-1zM60 119h4v3h-4zM122 121h13v1h-13zM96 121h3v1h-3zM189 121h13v1h-13zM104 121h11v1h-11zM176 121h9v1h-9zM46 122h1v1h-1zM190 122h12v1h-12zM97 122h14v1h-14zM121 122h13v1h-13zM113 122h3v1h-3zM176 122h7v1h-7zM59 122h5v2h-5zM114 123h3v1h-3zM48 123h1v1h-1zM120 123h13v1h-13zM98 123h12v1h-12zM175 123h7v1h-7zM191 123h10v1h-10zM99 124h10v1h-10zM174 124h7v1h-7zM191 124h5v1h-5zM49 124h2v1h-2zM115 124h17v1h-17zM60 124h4v2h-4zM101 125h3v1h-3zM71 125h6v1h-6zM50 125h2v1h-2zM173 125h7v1h-7zM192 125h4v1h-4zM115 125h16v1h-16zM70 126h11v1h-11zM117 126h13v1h-13zM172 126h7v1h-7zM51 126h1v1h-1zM61 126h3v2h-3zM171 127h4v1h-4zM122 127h8v1h-8zM69 127h13v1h-13zM51 127h2v2h-2zM123 128h6v1h-6zM73 128h10v1h-10zM68 128h4v1h-4zM170 128h4v1h-4zM192 126h3v4h-3zM169 129h4v1h-4zM52 129h1v1h-1zM80 129h3v1h-3zM73 129h4v1h-4zM124 129h5v1h-5zM62 128h2v3h-2zM68 129h3v2h-3zM73 130h3v1h-3zM190 130h5v1h-5zM169 130h3v1h-3zM126 130h1v1h-1zM52 130h2v1h-2zM168 131h4v1h-4zM68 131h7v1h-7zM188 131h7v1h-7zM53 131h1v1h-1zM61 131h2v2h-2zM54 132h1v1h-1zM69 132h5v1h-5zM167 132h5v1h-5zM162 132h2v1h-2zM187 132h8v1h-8zM61 133h1v1h-1zM55 133h1v1h-1zM188 133h6v1h-6zM161 133h10v1h-10zM56 134h6v1h-6zM189 134h5v1h-5zM161 134h9v1h-9zM160 135h9v1h-9zM59 135h2v1h-2zM160 136h7v1h-7zM190 135h4v3h-4zM160 137h5v1h-5zM160 138h4v1h-4zM189 138h4v1h-4zM186 139h6v1h-6zM160 139h3v1h-3zM185 140h6v1h-6zM159 140h4v1h-4zM184 141h5v1h-5zM159 141h3v2h-3zM183 142h3v1h-3zM98 142h3v1h-3zM97 143h6v1h-6zM182 143h2v1h-2zM159 143h4v2h-4zM96 144h8v1h-8zM181 144h2v1h-2zM159 145h9v1h-9zM180 145h2v1h-2zM95 145h10v1h-10zM93 146h6v1h-6zM179 146h2v1h-2zM103 146h4v1h-4zM159 146h11v1h-11zM159 147h13v1h-13zM105 147h3v1h-3zM91 147h6v1h-6zM178 147h3v1h-3zM91 148h3v1h-3zM159 148h6v1h-6zM170 148h9v1h-9zM107 148h3v1h-3zM173 149h5v1h-5zM108 149h3v1h-3zM159 149h5v1h-5zM90 149h3v2h-3zM108 150h4v1h-4zM160 150h3v1h-3zM160 151h2v1h-2zM109 151h4v2h-4zM91 151h2v2h-2zM92 153h1v1h-1zM109 153h5v2h-5zM92 154h2v1h-2zM93 155h2v1h-2zM110 155h4v2h-4zM94 156h3v1h-3zM142 157h3v1h-3zM100 157h3v1h-3zM141 158h7v1h-7zM103 158h1v1h-1zM111 157h3v3h-3zM140 159h14v1h-14zM104 159h1v1h-1zM139 160h3v1h-3zM145 160h10v1h-10zM111 160h4v1h-4zM105 160h1v1h-1zM153 161h3v1h-3zM147 161h3v1h-3zM111 161h10v1h-10zM138 161h3v2h-3zM112 162h5v1h-5zM154 162h2v1h-2zM118 162h5v1h-5zM106 162h1v1h-1zM121 163h3v1h-3zM137 163h4v1h-4zM107 163h1v1h-1zM137 164h5v1h-5zM108 164h1v1h-1zM122 164h2v1h-2zM122 165h3v2h-3zM138 165h4v3h-4zM109 165h1v3h-1zM155 163h1v6h-1zM123 167h2v2h-2zM137 168h4v1h-4zM123 169h3v1h-3zM135 169h6v1h-6zM134 170h6v1h-6zM124 170h2v1h-2zM155 169h2v3h-2zM124 171h3v1h-3zM132 171h5v1h-5zM110 168h1v5h-1zM125 172h9v1h-9zM155 172h3v2h-3zM125 173h8v1h-8zM156 174h3v1h-3zM126 174h5v1h-5zM111 174h1v2h-1zM157 175h2v2h-2zM111 176h2v2h-2zM158 177h1v1h-1zM158 178h2v2h-2zM112 178h1v4h-1zM159 180h2v3h-2zM112 182h2v2h-2zM112 184h3v2h-3zM159 183h3v4h-3zM118 186h3v1h-3zM113 186h3v1h-3zM158 187h4v1h-4zM113 187h11v1h-11zM156 188h6v1h-6zM113 188h14v1h-14zM125 189h3v1h-3zM113 189h5v1h-5zM154 189h7v1h-7zM114 190h3v1h-3zM126 190h2v1h-2zM153 190h7v1h-7zM152 191h5v1h-5zM127 191h2v2h-2zM151 192h7v1h-7zM151 193h9v1h-9zM128 193h1v1h-1zM128 194h2v1h-2zM152 194h8v1h-8zM155 195h5v1h-5zM129 195h1v1h-1zM129 196h2v1h-2zM156 196h3v2h-3zM130 197h2v1h-2zM131 198h2v1h-2zM156 198h2v2h-2zM132 199h1v1h-1zM155 200h2v1h-2zM133 200h1v1h-1zM154 201h2v1h-2zM133 201h2v1h-2zM153 202h3v1h-3zM134 202h2v2h-2zM153 203h2v1h-2zM152 204h2v1h-2zM134 204h3v1h-3zM151 205h3v1h-3zM151 206h2v2h-2zM135 205h2v4h-2zM150 208h2v2h-2zM136 209h2v1h-2zM136 210h3v1h-3zM150 210h1v1h-1zM149 211h2v1h-2zM137 211h4v1h-4zM148 212h2v1h-2zM138 212h6v1h-6zM141 213h5v1h-5zM147 213h3v1h-3zM143 214h6v1h-6zM145 215h3v1h-3z"/>
<path fill="#dc6e57" stroke="#dc6e57" d="M49 8h3v1h-3zM77 8h3v1h-3zM47 9h2v1h-2zM77 9h2v2h-2zM76 11h4v1h-4zM47 10h1v3h-1zM75 12h5v1h-5zM55 13h1v1h-1zM77 13h3v1h-3zM73 13h1v1h-1zM48 14h1v1h-1zM71 14h2v1h-2zM78 14h2v1h-2zM49 15h2v1h-2zM79 15h1v1h-1zM70 15h1v1h-1zM79 16h3v1h-3zM50 16h2v1h-2zM69 16h1v1h-1zM119 17h3v1h-3zM51 17h1v1h-1zM68 17h1v1h-1zM39 17h1v1h-1zM78 17h9v2h-9zM56 18h1v1h-1zM39 18h2v1h-2zM67 18h1v1h-1zM119 18h4v1h-4zM39 19h3v1h-3zM77 19h6v1h-6zM66 19h1v1h-1zM85 19h3v1h-3zM65 20h1v1h-1zM76 20h4v1h-4zM58 20h1v1h-1zM40 20h3v1h-3zM120 19h4v3h-4zM86 20h3v2h-3zM40 21h4v1h-4zM75 21h3v1h-3zM59 22h1v1h-1zM41 22h9v1h-9zM121 22h2v1h-2zM74 22h2v1h-2zM87 22h4v1h-4zM88 23h4v1h-4zM63 23h1v1h-1zM41 23h11v1h-11zM73 23h3v1h-3zM42 24h10v1h-10zM89 24h4v1h-4zM62 24h1v1h-1zM72 24h3v1h-3zM60 24h1v1h-1zM91 25h11v1h-11zM43 25h8v1h-8zM71 25h3v1h-3zM70 26h4v1h-4zM92 26h23v1h-23zM46 26h4v1h-4zM69 27h4v1h-4zM15 27h1v1h-1zM93 27h22v1h-22zM67 28h6v1h-6zM92 28h5v1h-5zM102 28h11v1h-11zM14 28h2v2h-2zM91 29h2v1h-2zM107 29h3v1h-3zM67 29h5v1h-5zM13 30h2v1h-2zM90 30h1v1h-1zM66 30h5v2h-5zM88 31h1v1h-1zM13 31h3v1h-3zM14 32h1v1h-1zM86 32h1v1h-1zM68 32h3v1h-3zM82 33h4v1h-4zM69 33h3v1h-3zM65 32h2v3h-2zM68 34h6v1h-6zM81 34h3v1h-3zM65 35h18v1h-18zM75 36h6v1h-6zM65 36h6v1h-6zM65 37h4v1h-4zM78 37h2v1h-2zM65 38h3v1h-3zM150 38h2v1h-2zM148 39h8v1h-8zM164 40h2v1h-2zM148 40h11v1h-11zM149 41h19v1h-19zM29 41h1v2h-1zM151 42h16v1h-16zM153 43h14v1h-14zM154 44h13v2h-13zM162 46h5v1h-5zM154 46h5v1h-5zM163 47h4v2h-4zM162 49h4v1h-4zM154 47h4v4h-4zM161 50h4v1h-4zM154 51h10v1h-10zM155 52h8v1h-8zM156 53h6v1h-6zM157 54h4v1h-4zM26 57h1v1h-1zM24 58h3v2h-3zM23 60h4v1h-4zM23 61h3v1h-3zM21 62h5v1h-5zM22 63h3v1h-3zM44 70h1v1h-1zM43 71h3v2h-3zM43 73h2v1h-2zM19 73h1v1h-1zM18 74h2v1h-2zM17 75h3v2h-3zM11 76h1v1h-1zM10 77h3v1h-3zM17 77h2v1h-2zM10 78h2v1h-2zM176 80h1v1h-1zM174 81h6v1h-6zM173 82h15v1h-15zM171 83h19v1h-19zM42 84h3v1h-3zM168 84h7v1h-7zM185 84h6v1h-6zM40 85h6v1h-6zM164 85h9v1h-9zM187 85h4v1h-4zM88 86h2v1h-2zM32 86h4v1h-4zM39 86h7v1h-7zM162 86h4v1h-4zM188 86h3v1h-3zM160 87h4v1h-4zM32 87h15v1h-15zM88 87h3v1h-3zM147 87h5v1h-5zM32 88h4v1h-4zM219 88h4v1h-4zM37 88h11v1h-11zM89 88h3v1h-3zM145 88h17v1h-17zM189 87h3v3h-3zM218 89h6v1h-6zM75 89h2v1h-2zM144 89h15v1h-15zM38 89h11v1h-11zM90 89h3v1h-3zM32 89h2v1h-2zM142 90h13v1h-13zM44 90h6v1h-6zM90 90h4v1h-4zM190 90h3v1h-3zM218 90h7v1h-7zM39 90h3v2h-3zM74 90h4v2h-4zM45 91h6v1h-6zM134 91h20v1h-20zM13 91h1v1h-1zM217 91h8v1h-8zM90 91h5v1h-5zM74 92h3v1h-3zM46 92h7v1h-7zM133 92h13v1h-13zM11 92h3v1h-3zM216 92h9v1h-9zM90 92h8v1h-8zM101 92h4v1h-4zM149 92h4v1h-4zM190 91h2v3h-2zM39 92h2v2h-2zM47 93h7v1h-7zM90 93h16v1h-16zM133 93h12v1h-12zM215 93h10v1h-10zM11 93h4v1h-4zM116 93h5v1h-5zM209 93h5v1h-5zM90 94h11v1h-11zM218 94h6v1h-6zM103 94h4v1h-4zM11 94h3v1h-3zM169 94h10v1h-10zM116 94h6v1h-6zM209 94h6v1h-6zM133 94h10v1h-10zM38 94h3v1h-3zM47 94h8v1h-8zM189 94h2v2h-2zM116 95h7v1h-7zM167 95h12v1h-12zM222 95h1v1h-1zM46 95h9v1h-9zM105 95h3v1h-3zM139 95h2v1h-2zM209 95h5v1h-5zM12 95h2v2h-2zM38 95h2v2h-2zM45 96h11v1h-11zM117 96h7v1h-7zM211 96h2v1h-2zM188 96h3v1h-3zM173 96h7v1h-7zM106 96h2v1h-2zM166 96h3v1h-3zM90 95h8v3h-8zM132 95h4v3h-4zM37 97h3v1h-3zM12 97h1v1h-1zM106 97h3v1h-3zM165 97h2v1h-2zM175 97h7v1h-7zM44 97h12v1h-12zM186 97h4v1h-4zM117 97h8v1h-8zM89 98h11v1h-11zM44 98h4v1h-4zM177 98h12v1h-12zM50 98h6v1h-6zM133 98h3v1h-3zM163 98h3v1h-3zM107 98h3v1h-3zM37 98h2v1h-2zM118 98h8v1h-8zM133 99h4v1h-4zM51 99h6v1h-6zM118 99h9v1h-9zM108 99h2v1h-2zM36 99h3v1h-3zM43 99h4v1h-4zM224 99h2v1h-2zM161 99h3v1h-3zM180 99h2v1h-2zM118 100h11v1h-11zM155 100h8v1h-8zM132 100h5v1h-5zM224 100h4v1h-4zM52 100h6v1h-6zM109 100h2v1h-2zM36 100h2v2h-2zM44 100h3v2h-3zM51 101h8v1h-8zM110 101h2v1h-2zM154 101h7v1h-7zM118 101h19v1h-19zM89 99h12v4h-12zM223 101h5v2h-5zM51 102h4v1h-4zM153 102h3v1h-3zM36 102h1v1h-1zM45 102h3v1h-3zM57 102h3v2h-3zM110 102h26v2h-26zM224 103h3v1h-3zM46 103h8v1h-8zM152 103h2v1h-2zM36 103h2v2h-2zM90 103h11v2h-11zM111 104h25v1h-25zM47 104h6v1h-6zM151 104h2v1h-2zM58 104h2v2h-2zM149 105h3v1h-3zM110 105h2v1h-2zM49 105h3v1h-3zM118 105h19v1h-19zM37 105h1v2h-1zM108 106h3v1h-3zM147 106h3v1h-3zM119 106h20v1h-20zM57 106h2v1h-2zM91 105h9v3h-9zM107 107h4v1h-4zM136 107h5v1h-5zM56 107h3v1h-3zM119 107h16v1h-16zM144 107h4v1h-4zM139 108h7v1h-7zM91 108h11v1h-11zM55 108h3v1h-3zM108 108h2v1h-2zM119 108h13v1h-13zM99 109h5v1h-5zM54 109h4v1h-4zM119 109h11v1h-11zM39 109h1v1h-1zM92 109h5v2h-5zM39 110h2v1h-2zM101 110h2v1h-2zM120 110h8v2h-8zM53 110h5v2h-5zM93 111h3v1h-3zM40 111h2v1h-2zM54 112h4v1h-4zM120 112h7v2h-7zM54 113h9v1h-9zM42 112h1v3h-1zM121 114h6v1h-6zM55 114h8v2h-8zM121 115h4v1h-4zM94 112h2v5h-2zM42 116h1v1h-1zM131 116h2v1h-2zM44 116h1v1h-1zM121 116h3v1h-3zM55 116h7v2h-7zM95 117h2v1h-2zM121 117h2v2h-2zM130 117h4v2h-4zM45 117h1v2h-1zM55 118h6v1h-6zM109 118h5v1h-5zM95 118h4v1h-4zM101 118h6v1h-6zM120 119h2v1h-2zM130 119h3v1h-3zM96 119h20v1h-20zM55 119h5v1h-5zM119 120h3v1h-3zM42 120h1v1h-1zM114 120h3v1h-3zM98 120h11v1h-11zM54 120h6v2h-6zM99 121h5v1h-5zM185 121h4v1h-4zM115 121h7v1h-7zM46 121h1v1h-1zM47 122h2v1h-2zM52 122h7v1h-7zM116 122h5v1h-5zM183 122h7v1h-7zM117 123h3v1h-3zM49 123h10v1h-10zM182 123h9v1h-9zM181 124h10v1h-10zM51 124h9v1h-9zM180 125h12v1h-12zM52 125h8v1h-8zM52 126h9v1h-9zM179 126h13v1h-13zM53 127h3v1h-3zM57 127h4v1h-4zM175 127h17v1h-17zM72 128h1v1h-1zM174 128h18v1h-18zM53 128h2v2h-2zM173 129h19v1h-19zM59 128h3v3h-3zM71 129h2v2h-2zM172 130h18v1h-18zM54 130h2v2h-2zM179 131h9v1h-9zM172 131h3v2h-3zM59 131h2v2h-2zM55 132h2v1h-2zM181 132h6v1h-6zM56 133h5v1h-5zM171 133h4v1h-4zM180 133h8v1h-8zM179 134h10v1h-10zM170 134h5v1h-5zM169 135h5v1h-5zM178 135h12v1h-12zM167 136h6v1h-6zM176 136h14v2h-14zM165 137h5v1h-5zM164 138h4v1h-4zM176 138h13v1h-13zM176 139h10v1h-10zM163 139h4v2h-4zM177 140h8v1h-8zM162 141h5v1h-5zM178 141h6v1h-6zM162 142h6v1h-6zM179 142h4v1h-4zM178 143h4v1h-4zM163 143h7v1h-7zM163 144h8v1h-8zM178 144h3v1h-3zM168 145h5v1h-5zM177 145h3v1h-3zM170 146h9v1h-9zM99 146h4v1h-4zM172 147h6v1h-6zM97 147h8v1h-8zM94 148h13v1h-13zM93 149h8v1h-8zM104 149h4v1h-4zM93 150h3v1h-3zM105 150h3v1h-3zM105 151h4v2h-4zM93 151h2v3h-2zM104 153h5v1h-5zM103 154h6v1h-6zM94 154h1v1h-1zM102 155h8v1h-8zM95 155h2v1h-2zM97 156h13v1h-13zM103 157h8v1h-8zM104 158h7v1h-7zM105 159h6v1h-6zM142 160h3v1h-3zM106 160h5v2h-5zM150 161h3v1h-3zM141 161h6v1h-6zM141 162h13v1h-13zM107 162h5v1h-5zM117 162h1v1h-1zM141 163h14v1h-14zM108 163h13v1h-13zM142 164h13v1h-13zM118 164h4v1h-4zM109 164h6v1h-6zM151 165h4v1h-4zM110 165h3v1h-3zM142 165h7v1h-7zM120 165h2v2h-2zM142 166h4v1h-4zM110 166h2v2h-2zM152 166h3v2h-3zM142 167h2v1h-2zM121 167h2v2h-2zM141 168h3v1h-3zM141 169h2v1h-2zM122 169h1v1h-1zM140 170h2v1h-2zM122 170h2v2h-2zM137 171h4v1h-4zM111 168h1v5h-1zM134 172h6v1h-6zM153 168h2v6h-2zM122 172h3v2h-3zM111 173h2v1h-2zM133 173h6v1h-6zM121 174h5v1h-5zM153 174h3v1h-3zM131 174h4v1h-4zM112 174h1v1h-1zM120 175h13v1h-13zM112 175h2v1h-2zM154 175h3v2h-3zM118 176h13v1h-13zM113 176h2v2h-2zM117 177h11v1h-11zM155 177h3v1h-3zM113 178h13v1h-13zM156 178h2v2h-2zM113 179h12v1h-12zM113 180h11v2h-11zM114 182h10v2h-10zM115 184h9v1h-9zM157 180h2v6h-2zM115 185h10v1h-10zM116 186h2v1h-2zM156 186h3v1h-3zM121 186h6v1h-6zM124 187h5v1h-5zM154 187h4v1h-4zM127 188h3v1h-3zM147 188h9v1h-9zM145 189h9v1h-9zM128 189h3v2h-3zM144 190h9v1h-9zM144 191h8v1h-8zM144 192h7v1h-7zM129 191h2v3h-2zM145 193h6v1h-6zM147 194h5v1h-5zM130 194h2v2h-2zM148 195h7v1h-7zM131 196h2v1h-2zM149 196h7v1h-7zM132 197h2v1h-2zM150 197h6v2h-6zM133 198h1v1h-1zM151 199h5v1h-5zM133 199h2v1h-2zM151 200h4v1h-4zM134 200h3v1h-3zM151 201h3v1h-3zM135 201h3v1h-3zM136 202h3v1h-3zM150 202h3v2h-3zM136 203h4v1h-4zM150 204h2v1h-2zM137 204h3v4h-3zM149 205h2v3h-2zM137 208h4v1h-4zM148 208h2v2h-2zM138 209h4v1h-4zM147 210h3v1h-3zM139 210h6v1h-6zM141 211h8v1h-8zM144 212h4v1h-4zM146 213h1v1h-1z"/>
<path fill="#d86551" stroke="#d86551" d="M52 8h1v1h-1zM75 8h2v1h-2zM45 9h2v1h-2zM54 9h1v1h-1zM74 9h3v2h-3zM55 10h1v1h-1zM44 10h3v1h-3zM43 11h4v1h-4zM73 11h3v1h-3zM71 12h4v1h-4zM42 12h5v1h-5zM69 13h4v1h-4zM41 13h7v2h-7zM67 14h4v1h-4zM55 14h1v2h-1zM59 15h11v1h-11zM40 15h9v1h-9zM59 16h10v1h-10zM40 16h10v1h-10zM56 16h1v2h-1zM59 17h9v1h-9zM40 17h11v1h-11zM41 18h11v1h-11zM57 18h10v1h-10zM42 19h10v1h-10zM57 19h9v1h-9zM83 19h2v1h-2zM43 20h9v1h-9zM59 20h6v1h-6zM80 20h6v1h-6zM44 21h8v1h-8zM59 21h2v1h-2zM63 21h2v1h-2zM78 21h8v1h-8zM63 22h1v1h-1zM50 22h2v1h-2zM76 22h11v1h-11zM60 22h1v2h-1zM62 23h1v1h-1zM76 23h12v1h-12zM61 24h1v1h-1zM75 24h14v1h-14zM74 25h17v1h-17zM74 26h18v1h-18zM89 27h4v1h-4zM73 27h13v1h-13zM89 28h3v1h-3zM73 28h12v1h-12zM16 29h1v1h-1zM89 29h2v1h-2zM72 29h13v1h-13zM88 30h2v1h-2zM15 30h3v1h-3zM71 30h14v1h-14zM16 31h1v1h-1zM71 31h17v1h-17zM71 32h15v1h-15zM67 32h1v1h-1zM67 33h2v1h-2zM72 33h10v1h-10zM74 34h7v1h-7zM67 34h1v1h-1zM156 39h6v1h-6zM159 40h5v1h-5zM159 46h3v1h-3zM158 47h5v2h-5zM158 49h4v1h-4zM158 50h3v1h-3zM23 59h1v1h-1zM175 84h10v1h-10zM173 85h14v1h-14zM166 86h22v1h-22zM164 87h17v1h-17zM186 87h3v2h-3zM171 88h9v1h-9zM162 88h6v1h-6zM187 89h2v1h-2zM159 89h8v1h-8zM172 89h8v1h-8zM172 90h9v1h-9zM155 90h12v1h-12zM42 90h2v1h-2zM170 91h11v1h-11zM42 91h3v1h-3zM154 91h14v1h-14zM146 92h3v1h-3zM153 92h28v1h-28zM41 92h5v1h-5zM187 90h3v4h-3zM145 93h37v1h-37zM41 93h6v2h-6zM143 94h26v1h-26zM179 94h3v1h-3zM187 94h2v1h-2zM101 94h2v1h-2zM136 95h3v1h-3zM40 95h6v1h-6zM186 95h3v1h-3zM179 95h5v1h-5zM98 95h7v1h-7zM141 95h26v1h-26zM136 96h11v1h-11zM149 96h17v1h-17zM40 96h5v1h-5zM180 96h8v1h-8zM98 96h8v2h-8zM40 97h4v1h-4zM152 97h13v1h-13zM182 97h4v1h-4zM136 97h8v1h-8zM153 98h10v1h-10zM39 98h5v1h-5zM136 98h7v1h-7zM100 98h7v1h-7zM101 99h7v1h-7zM39 99h4v1h-4zM152 99h9v1h-9zM137 99h5v2h-5zM152 100h3v1h-3zM101 100h8v1h-8zM38 100h6v2h-6zM137 101h4v1h-4zM151 101h3v1h-3zM55 102h2v1h-2zM136 102h5v1h-5zM42 102h3v1h-3zM150 102h3v1h-3zM37 102h2v1h-2zM101 101h9v3h-9zM43 103h3v1h-3zM149 103h3v1h-3zM136 103h4v1h-4zM54 103h3v1h-3zM147 104h4v1h-4zM101 104h10v1h-10zM136 104h5v1h-5zM53 104h5v1h-5zM44 104h3v1h-3zM112 105h6v1h-6zM137 105h5v1h-5zM52 105h6v1h-6zM145 105h4v1h-4zM100 105h10v1h-10zM46 105h3v1h-3zM139 106h8v1h-8zM47 106h10v1h-10zM100 106h8v1h-8zM38 103h1v5h-1zM111 106h8v2h-8zM47 107h9v1h-9zM141 107h3v1h-3zM100 107h7v1h-7zM110 108h9v1h-9zM48 108h7v1h-7zM39 108h1v1h-1zM102 108h6v1h-6zM40 109h1v1h-1zM104 109h15v1h-15zM97 109h2v1h-2zM48 109h6v1h-6zM103 110h17v1h-17zM41 110h1v1h-1zM97 110h4v1h-4zM48 110h5v2h-5zM42 111h1v1h-1zM96 111h24v1h-24zM96 112h12v1h-12zM115 112h5v1h-5zM48 112h6v2h-6zM116 113h4v1h-4zM96 113h11v2h-11zM43 113h1v2h-1zM48 114h7v1h-7zM45 114h1v1h-1zM116 114h5v1h-5zM96 115h12v1h-12zM50 115h5v1h-5zM115 115h6v1h-6zM42 115h5v1h-5zM45 116h2v1h-2zM51 116h4v1h-4zM96 116h25v1h-25zM43 116h1v1h-1zM97 117h24v1h-24zM107 118h2v1h-2zM114 118h7v1h-7zM99 118h2v1h-2zM52 117h3v3h-3zM116 119h4v1h-4zM46 117h1v4h-1zM117 120h2v1h-2zM51 120h3v1h-3zM47 121h7v1h-7zM49 122h3v1h-3zM56 127h1v1h-1zM55 128h4v2h-4zM56 130h3v2h-3zM175 131h4v1h-4zM175 132h6v1h-6zM57 132h2v1h-2zM175 133h5v1h-5zM175 134h4v1h-4zM174 135h4v1h-4zM173 136h3v1h-3zM170 137h6v1h-6zM168 138h8v1h-8zM167 139h9v1h-9zM167 140h10v1h-10zM167 141h11v1h-11zM168 142h11v1h-11zM170 143h8v1h-8zM171 144h7v1h-7zM173 145h4v1h-4zM101 149h3v1h-3zM96 150h9v1h-9zM95 151h10v2h-10zM95 153h9v1h-9zM95 154h8v1h-8zM97 155h5v1h-5zM115 164h3v1h-3zM113 165h7v1h-7zM149 165h2v1h-2zM146 166h6v1h-6zM112 166h8v1h-8zM144 167h8v1h-8zM118 167h3v1h-3zM112 167h3v1h-3zM144 168h3v1h-3zM119 168h2v1h-2zM149 168h4v1h-4zM119 169h3v1h-3zM143 169h2v1h-2zM142 170h2v1h-2zM120 170h2v2h-2zM141 171h3v1h-3zM112 168h2v5h-2zM119 172h3v1h-3zM140 172h3v1h-3zM150 169h3v5h-3zM113 173h3v1h-3zM118 173h4v1h-4zM139 173h3v1h-3zM135 174h7v1h-7zM113 174h8v1h-8zM151 174h2v1h-2zM114 175h6v1h-6zM133 175h9v1h-9zM151 175h3v2h-3zM115 176h3v1h-3zM131 176h10v1h-10zM151 177h4v1h-4zM128 177h14v1h-14zM115 177h2v1h-2zM152 178h4v1h-4zM126 178h6v1h-6zM141 178h4v1h-4zM125 179h4v1h-4zM141 179h7v1h-7zM154 179h2v1h-2zM154 180h3v1h-3zM142 180h7v1h-7zM124 180h4v1h-4zM143 181h6v1h-6zM144 182h5v1h-5zM155 181h2v3h-2zM124 181h3v3h-3zM144 183h6v1h-6zM124 184h6v1h-6zM154 184h3v1h-3zM145 184h6v1h-6zM145 185h12v1h-12zM125 185h7v1h-7zM127 186h6v1h-6zM144 186h12v1h-12zM144 187h10v1h-10zM129 187h5v1h-5zM130 188h4v1h-4zM143 188h4v1h-4zM142 189h3v1h-3zM141 190h3v2h-3zM140 192h4v1h-4zM131 189h3v5h-3zM141 193h4v1h-4zM132 194h2v1h-2zM141 194h6v1h-6zM132 195h3v1h-3zM142 195h6v1h-6zM144 196h5v1h-5zM133 196h2v1h-2zM134 197h3v1h-3zM146 197h4v2h-4zM134 198h7v1h-7zM135 199h7v1h-7zM137 200h5v1h-5zM147 199h4v3h-4zM138 201h5v1h-5zM139 202h4v1h-4zM147 202h3v2h-3zM140 203h3v1h-3zM146 204h4v1h-4zM140 204h4v2h-4zM146 205h3v1h-3zM140 206h9v2h-9zM141 208h7v1h-7zM142 209h6v1h-6zM145 210h2v1h-2z"/>
<path fill="#d6604d" stroke="#d6604d" d="M74 6h1v1h-1zM54 7h1v1h-1zM73 7h3v1h-3zM53 8h2v1h-2zM72 8h3v1h-3zM72 9h2v1h-2zM55 9h1v1h-1zM56 10h1v1h-1zM70 10h4v1h-4zM68 11h5v1h-5zM56 11h3v1h-3zM65 12h6v1h-6zM56 12h8v1h-8zM56 13h13v1h-13zM56 14h11v1h-11zM56 15h3v1h-3zM57 16h2v2h-2zM61 21h2v2h-2zM61 23h1v1h-1zM86 27h3v1h-3zM85 28h4v2h-4zM85 30h3v1h-3zM181 87h5v1h-5zM180 88h6v1h-6zM168 88h3v1h-3zM180 89h7v1h-7zM167 89h5v2h-5zM168 91h2v1h-2zM181 90h6v3h-6zM182 93h5v2h-5zM184 95h2v1h-2zM147 96h2v1h-2zM144 97h8v1h-8zM143 98h10v1h-10zM142 99h10v2h-10zM141 101h10v1h-10zM141 102h9v1h-9zM39 102h3v1h-3zM39 103h4v1h-4zM140 103h9v1h-9zM141 104h6v1h-6zM39 104h5v1h-5zM142 105h3v1h-3zM42 105h4v1h-4zM39 105h2v3h-2zM44 106h3v2h-3zM40 108h2v1h-2zM45 108h3v2h-3zM41 109h2v1h-2zM42 110h6v1h-6zM43 111h5v2h-5zM108 112h7v1h-7zM44 113h4v1h-4zM107 113h9v2h-9zM46 114h2v1h-2zM44 114h1v1h-1zM47 115h3v1h-3zM108 115h7v1h-7zM47 116h4v1h-4zM47 117h5v3h-5zM47 120h4v1h-4zM115 167h3v1h-3zM147 168h2v1h-2zM114 168h5v2h-5zM145 169h5v1h-5zM114 170h6v2h-6zM144 170h6v2h-6zM143 172h7v1h-7zM114 172h5v1h-5zM142 173h8v1h-8zM116 173h2v1h-2zM142 174h9v2h-9zM141 176h10v1h-10zM142 177h9v1h-9zM145 178h7v1h-7zM132 178h9v1h-9zM129 179h12v1h-12zM148 179h6v1h-6zM149 180h5v1h-5zM128 180h14v1h-14zM127 181h16v1h-16zM149 181h6v2h-6zM127 182h17v2h-17zM150 183h5v1h-5zM151 184h3v1h-3zM130 184h15v1h-15zM132 185h13v1h-13zM133 186h11v1h-11zM134 187h10v1h-10zM134 188h9v1h-9zM134 189h8v1h-8zM134 190h7v2h-7zM134 192h6v1h-6zM134 193h7v2h-7zM135 195h7v1h-7zM135 196h9v1h-9zM137 197h9v1h-9zM141 198h5v1h-5zM142 199h5v2h-5zM143 201h4v3h-4zM144 204h2v2h-2z"/>
<path fill="#d25849" stroke="#d25849" d="M72 3h1v1h-1zM71 4h3v1h-3zM58 5h2v1h-2zM70 5h4v2h-4zM66 5h1v2h-1zM56 6h5v1h-5zM69 7h4v1h-4zM65 7h1v1h-1zM55 7h6v1h-6zM69 8h3v1h-3zM55 8h7v1h-7zM56 9h7v1h-7zM66 9h6v1h-6zM57 10h13v1h-13zM59 11h9v1h-9zM64 12h1v1h-1zM41 105h1v1h-1zM41 106h3v2h-3zM42 108h3v1h-3zM43 109h2v1h-2z"/>
<path fill="#cf5246" stroke="#cf5246" d="M64 3h2v1h-2zM60 3h2v1h-2zM59 4h8v1h-8zM60 5h6v1h-6zM61 6h5v1h-5zM61 7h4v1h-4zM62 8h1v1h-1z"/>
<path fill="#cb4942" stroke="#cb4942" d="M61 2h4v1h-4zM62 3h2v1h-2z"/>
</g></g>
</g>
<path d="M558.8 265.0 L567.5 272.0 L577.1 285.8 L574.4 301.3 L564.0 308.9 L553.6 306.5 L548.5 294.4 L542.6 284.1 L548.5 273.7 Z" fill="#fff" stroke="#000" stroke-width="2"/>
<path d="M1248.7 1632.2 L1260.8 1633.9 L1257.3 1644.3 L1240.0 1659.9 L1219.3 1673.7 L1212.4 1670.2 L1215.9 1661.6 L1233.1 1652.9 Z" fill="#fff" stroke="#000" stroke-width="2"/>
<path d="M178.6 282.3 L190.7 291.0 L204.6 306.5 L221.8 313.4 L239.1 315.2 L259.9 306.5 L289.2 291.0 L311.7 292.7 L332.4 299.6 L356.6 315.2 L373.9 332.4 L380.8 344.5 L385.0 342.8 L382.6 322.1 L405.0 301.3 L422.3 291.0 L424.0 270.2 L436.1 251.2 L450.0 240.9 L467.2 240.9 L474.1 232.2 L494.9 233.9 L515.6 221.8 L536.4 209.7 L546.7 199.4 L564.0 195.9 L572.6 202.8 L567.5 214.9 L550.2 225.3 L548.5 235.7 L560.6 247.8 L574.4 242.6 L598.6 232.2 L602.0 221.8 L603.8 208.0 L610.7 204.6 L619.3 214.9 L619.3 227.0 L633.1 227.0 L653.9 233.9 L667.7 244.3 L671.2 256.4 L688.4 260.6 L716.1 256.8 L743.7 261.6 L770.0 272.0 L787.3 266.8 L801.1 261.6 L821.8 256.4 L839.1 252.9 L859.9 251.2 L884.1 252.9 L870.2 256.4 L852.9 263.3 L849.5 273.7 L866.8 277.1 L891.0 280.6 L908.2 291.0 L922.1 304.8 L925.5 318.6 L942.8 325.5 L953.2 332.4 L970.5 339.4 L991.2 356.6 L1011.9 377.4 L1032.7 398.1 L1043.0 411.9 L1063.8 413.7 L1088.0 417.1 L1115.6 418.8 L1146.7 420.6 L1167.5 425.8 L1188.2 432.7 L1215.9 453.4 L1229.7 463.8 L1243.5 481.1 L1253.9 515.6 L1260.8 536.4 L1271.2 543.3 L1285.0 557.1 L1285.0 577.8 L1279.8 598.6 L1295.3 602.0 L1309.2 615.9 L1336.8 629.7 L1357.6 633.1 L1352.9 632.2 L1377.1 633.9 L1408.2 646.0 L1432.4 652.9 L1453.2 656.4 L1463.5 670.2 L1505.0 687.5 L1525.8 699.6 L1556.9 704.8 L1581.1 708.2 L1615.6 706.5 L1639.8 715.2 L1653.6 723.8 L1695.1 756.6 L1708.9 773.9 L1729.7 779.1 L1760.8 780.8 L1775.3 792.9 L1779.8 811.9 L1787.7 836.1 L1790.9 852.0 L1789.5 881.1 L1784.3 898.3 L1767.7 929.4 L1747.0 950.2 L1726.2 970.9 L1705.5 995.1 L1691.7 1022.8 L1660.6 1053.9 L1651.9 1071.2 L1648.5 1102.3 L1653.6 1140.3 L1650.2 1170.0 L1648.7 1170.0 L1647.0 1190.7 L1645.2 1204.6 L1629.7 1221.8 L1626.2 1249.5 L1626.2 1270.2 L1602.0 1301.3 L1588.2 1315.2 L1583.0 1332.4 L1583.0 1349.7 L1564.0 1358.4 L1553.6 1373.9 L1543.3 1377.4 L1515.6 1377.4 L1488.0 1380.8 L1463.8 1387.7 L1443.0 1405.0 L1436.1 1413.7 L1408.5 1417.1 L1384.3 1429.2 L1356.6 1446.5 L1342.8 1460.3 L1330.7 1481.1 L1327.3 1501.8 L1332.4 1529.4 L1327.3 1553.6 L1322.1 1567.5 L1308.2 1577.8 L1291.0 1595.1 L1277.1 1615.9 L1259.9 1647.0 L1239.1 1671.2 L1214.9 1685.0 L1204.6 1698.8 L1194.2 1723.0 L1183.8 1736.8 L1170.0 1745.5 L1167.5 1739.4 L1157.1 1760.1 L1136.4 1773.9 L1115.6 1780.8 L1094.9 1777.4 L1067.2 1777.4 L1046.5 1770.5 L1036.1 1767.0 L1036.1 1780.8 L1043.0 1798.1 L1036.1 1811.9 L1043.0 1825.8 L1056.9 1829.2 L1059.6 1846.5 L1046.5 1863.8 L1032.7 1879.3 L1027.5 1889.7 L1005.0 1900.1 L970.5 1908.7 L935.9 1913.9 L901.3 1917.4 L880.6 1917.4 L868.5 1912.2 L866.8 1922.5 L875.4 1932.9 L873.7 1946.7 L868.5 1948.5 L865.0 1967.5 L870.2 1972.6 L866.8 1981.3 L842.6 1988.2 L818.4 1989.9 L801.1 1983.0 L783.8 1977.8 L773.5 1983.0 L776.9 2002.0 L776.9 2019.3 L794.2 2027.9 L811.5 2022.8 L821.8 2021.0 L825.3 2036.6 L818.4 2047.0 L804.6 2047.0 L794.2 2036.6 L780.4 2043.5 L801.1 2050.4 L790.7 2057.3 L780.4 2062.5 L772.6 2071.7 L769.2 2085.5 L770.9 2099.4 L760.6 2113.2 L743.3 2118.4 L715.6 2127.0 L700.1 2140.8 L693.2 2158.1 L701.8 2175.4 L719.1 2187.5 L746.7 2189.2 L755.4 2199.6 L750.2 2216.9 L736.4 2230.7 L712.2 2244.5 L694.9 2256.6 L688.0 2279.1 L674.1 2289.4 L656.9 2298.1 L643.0 2310.2 L639.6 2327.5 L650.0 2344.7 L663.8 2363.8 L650.0 2362.0 L632.7 2360.3 L625.8 2367.2 L608.5 2374.1 L584.3 2377.6 L577.4 2389.7 L579.1 2410.4 L567.0 2413.9 L549.7 2407.0 L556.6 2393.1 L570.5 2382.8 L563.5 2379.3 L542.8 2382.8 L525.5 2379.3 L508.2 2375.9 L487.5 2375.9 L473.7 2362.0 L484.1 2337.8 L491.0 2310.2 L494.2 2290.0 L493.3 2266.5 L491.6 2249.2 L489.9 2231.9 L489.9 2214.7 L486.4 2197.4 L479.5 2193.9 L476.0 2185.3 L469.1 2178.4 L451.8 2176.6 L443.2 2168.0 L439.7 2178.4 L431.1 2181.8 L422.5 2180.1 L420.7 2174.9 L427.6 2169.7 L443.2 2161.1 L457.0 2155.9 L472.6 2160.2 L486.4 2169.7 L493.3 2155.9 L495.0 2145.5 L500.2 2138.6 L498.5 2128.2 L503.7 2121.3 L502.0 2111.0 L510.6 2102.3 L505.4 2097.1 L510.6 2086.8 L515.8 2076.4 L510.6 2071.2 L510.6 2062.6 L519.2 2055.7 L519.2 2047.0 L521.0 2034.9 L527.9 2024.6 L519.2 2021.1 L521.0 2010.7 L531.3 2005.6 L533.9 1996.9 L527.9 2003.0 L519.2 2000.4 L511.5 2003.0 L510.6 2009.0 L496.8 2008.1 L486.4 2006.4 L482.9 2000.4 L481.2 1990.0 L482.3 1974.9 L489.2 1950.7 L501.3 1930.0 L503.1 1937.6 L497.9 1916.8 L496.2 1892.6 L491.0 1875.3 L489.2 1859.8 L503.1 1854.6 L506.5 1844.2 L515.2 1830.4 L522.1 1809.7 L532.4 1795.9 L541.1 1775.1 L546.3 1754.4 L556.6 1733.6 L554.9 1723.3 L560.1 1712.9 L561.8 1695.6 L558.4 1668.0 L554.9 1643.8 L556.6 1626.5 L565.3 1619.6 L568.7 1602.3 L561.8 1585.0 L567.0 1574.7 L572.2 1557.4 L579.1 1540.1 L580.8 1519.4 L589.5 1495.2 L589.5 1474.4 L596.4 1453.7 L594.7 1426.0 L596.4 1401.8 L591.2 1388.0 L599.8 1370.7 L605.0 1350.0 L603.8 1370.0 L605.5 1350.6 L607.2 1323.0 L605.5 1295.3 L607.2 1271.2 L602.0 1247.0 L598.6 1224.5 L581.3 1212.4 L564.0 1195.1 L543.3 1183.0 L519.1 1170.9 L498.3 1158.8 L477.6 1148.5 L456.9 1136.4 L436.1 1122.5 L418.8 1105.3 L405.0 1091.4 L398.1 1077.6 L401.6 1070.7 L394.7 1053.4 L380.8 1032.7 L363.5 1005.0 L353.2 980.8 L339.4 953.2 L329.0 925.5 L318.6 901.3 L306.5 880.6 L291.0 859.9 L277.1 842.6 L277.1 840.0 L270.2 837.2 L256.4 830.3 L246.0 823.4 L238.3 816.5 L239.1 809.6 L246.0 807.9 L244.3 799.2 L239.1 790.6 L237.4 781.9 L233.1 771.6 L233.1 759.5 L239.1 749.1 L247.8 738.7 L258.1 731.8 L268.5 724.9 L273.7 723.2 L280.6 718.0 L280.6 711.1 L273.7 714.5 L269.4 712.8 L267.6 703.3 L259.9 699.0 L251.2 692.1 L243.4 686.0 L251.2 680.0 L248.6 671.3 L250.4 661.0 L246.0 650.6 L247.8 644.6 L256.4 642.0 L264.2 633.3 L260.7 626.4 L265.0 621.2 L272.0 612.6 L275.4 598.8 L273.7 586.7 L287.5 581.5 L297.9 576.3 L311.7 572.8 L315.2 565.9 L308.2 559.0 L316.9 552.1 L325.5 548.6 L323.8 540.0 L322.1 536.4 L335.9 527.7 L349.7 524.3 L356.6 512.2 L367.0 498.3 L375.6 482.8 L370.5 470.7 L367.0 446.5 L361.8 427.5 L368.7 418.8 L367.0 405.0 L358.4 384.3 L346.3 367.0 L335.9 349.7 L329.0 332.4 L315.2 318.6 L297.9 311.7 L284.1 315.2 L273.7 325.5 L261.6 335.9 L263.3 346.3 L275.4 360.1 L263.3 368.7 L247.8 370.5 L244.3 361.8 L232.2 358.4 L225.3 349.7 L211.5 339.4 L190.7 335.9 L178.6 339.4 Z M658.6 2374.1 L663.8 2389.7 L675.9 2400.0 L681.1 2410.4 L701.8 2420.8 L729.4 2434.6 L753.6 2441.5 L774.4 2443.2 L767.5 2451.9 L736.4 2451.9 L708.7 2450.2 L681.1 2448.4 L658.6 2448.4 L639.6 2441.5 L625.8 2431.2 L611.9 2427.7 L608.5 2413.9 L625.8 2407.0 L634.4 2400.0 L611.9 2398.3 L598.1 2393.1 L598.1 2382.8 L611.9 2375.9 L632.7 2367.2 L653.4 2370.7 Z M476.0 2010.7 L493.3 2012.5 L496.8 2024.6 L493.3 2041.8 L488.1 2062.6 L476.0 2064.3 L465.7 2060.9 L470.9 2047.0 L472.6 2028.0 Z" fill="none" stroke="#000" stroke-width="1.7" stroke-linejoin="round"/>
<path d="M491 2103l2 1 -1 3 -2 2 -3 -2 1 -1 0 -2 2 -1zM457 2112l1 1 -1 2 -1 2 -2 2 -1 -2 1 -2 0 -3 3 -1zM483 2080l1 3 -1 1 -1 2 -1 1 -2 -1 0 -2 1 -2 2 0zM500 2098l2 1 -1 3 -1 2 -2 -1 0 -1 0 -1 1 -2zM488 2167l-2 3 -5 -1 -1 -2 2 -2 3 1zM482 2122l0 2 -1 1 -1 2 -1 -1 -1 -2 1 -2 2 0zM490 2116l0 2 0 2 -1 1 0 1 -1 -2 -2 -1 1 0 0 -3zM469 2104l-1 5 0 3 -3 0 0 -3 1 -2zM511 2105l1 2 0 3 -3 2 0 -3 0 -2zM492 2149l-4 4 -4 1 -2 0 -2 -1 -1 -2 5 -1 3 -2zM511 2140l1 3 -12 1 -3 -4 4 -2 8 -1zM505 2116l1 5 -3 2 -3 3 -3 -2 1 -3 2 -3zM465 2131l5 1 3 9 -1 3 -4 0 -3 -7zM498 2111l3 1 -2 3 -2 2 -2 -2 0 -3zM508 2095l2 0 2 2 0 3 -2 1 -1 -2 -3 -3zM482 2137l1 6 -1 4 -4 1 -3 -1 3 -7zM472 2107l3 3 3 5 -1 3 0 2 -3 2 -1 -3 -3 -1 3 -7zM518 2104l1 3 1 1 1 3 -1 2 -2 -2 0 -1 -1 -3zM468 2124l-2 4 -5 5 -4 -2 -1 -4 7 -3zM471 2114l2 3 0 6 1 5 -3 2 -2 4 -1 -9 0 -2 0 -7zM500 2089l-3 4 -9 0 -4 -3 6 -2 7 -3zM485 2138l1 -1 1 2 0 2 -2 2 -1 -2 -1 0 -1 -3 2 -1zM514 2110l-1 6 -2 3 -6 1 2 -5 2 -3zM498 2145l1 2 -3 3 -2 -1 -2 -2 0 -4 4 1zM473 2093l-1 5 -5 6 -2 0 -5 -1 5 -5 4 -6zM500 2156l-2 4 -4 4 -5 0 4 -5 3 -2zM479 2151l2 2 -4 4 -5 2 0 -4 3 -5zM498 2136l-3 10 -7 4 -5 1 -1 -5 7 -4zM489 2128l1 3 0 3 -1 2 -3 3 -3 1 0 -6 2 -2 2 -3zM507 2125l0 1 0 3 -3 3 -3 -1 1 -3 1 -2 3 -3zM496 2127l-3 1 -4 0 1 -3 -1 -3 0 -4 3 3 4 2 1 1zM471 2081l1 1 1 2 -1 3 -1 2 -1 -2 -1 -2 -1 -2 2 -2zM520 2095l2 2 -2 5 -3 0 0 -3 0 -4zM483 2094l-2 2 -4 2 -2 -1 0 -2 4 -2zM466 2113l2 1 2 1 -1 4 1 3 -1 3 -3 -4 -1 -5 0 -2zM480 2136l-1 0 -3 2 -4 1 0 -1 -3 -2 3 -1 3 -2 4 1zM456 2098l2 4 1 5 -2 2 -3 -1 -1 -5zM490 2106l-1 5 -5 10 -6 0 -4 1 2 -6 8 -7zM506 2147l0 4 -5 4 -4 0 1 -5 3 -4zM488 2148l5 2 4 2 0 5 -5 -1 -2 -4zM487 2156l1 2 0 2 -1 1 -2 1 -1 -1 1 -2 1 -3zM497 2094l0 2 0 1 -3 1 -1 1 -1 -1 1 -2 1 -2 1 -1zM498 2130l1 -2 3 2 2 5 -2 1 -3 -1 -4 -1 1 -3zM485 2083l2 2 2 3 -1 6 -3 2 -2 -3 -2 -4 2 -5zM468 2138l4 2 1 3 -1 4 -2 3 -3 -6 -1 -2zM517 2126l-2 3 -4 3 -4 0 1 -5 6 -2zM465 2132l-1 2 -1 3 -1 1 -3 1 -2 0 2 -4 1 0 2 -3zM520 2132l-1 2 0 0 -2 2 -3 0 -1 -1 3 -2 0 -2 3 1zM476 2099l0 2 -3 6 -3 3 -4 -1 4 -6 2 -5zM505 2099l2 0 0 5 -1 5 -2 -3 -1 0 1 -5zM495 2078l1 2 -4 6 -5 2 -6 -3 2 -4 6 -3 3 -1zM494 2136l2 1 1 2 0 3 -1 1 -1 -3 -2 -3zM463 2096l3 3 -4 3 -3 2 -3 -2 0 -3 1 -4 7 -2zM478 2124l3 2 -3 6 -4 0 -4 1 0 -5 5 -3zM478 2106l2 3 1 3 -5 3 -2 -2 1 -6zM509 2128l1 3 -1 3 -3 4 -2 0 -2 -2 1 -3 3 -4zM462 2082l3 -2 2 7 1 9 0 1 -3 -2 -5 -4 1 -5zM484 2089l5 8 -2 7 -4 4 -2 -5 -2 -7zM478 2087l-1 2 0 2 -1 0 -2 1 0 -2 -1 -1 1 -1 2 -2zM481 2157l1 6 -4 3 -3 1 0 -4 1 -2zM493 2160l0 3 0 2 -1 1 -2 2 -1 -1 1 -4 0 0zM484 2100l1 4 -7 2 -8 2 3 -5 3 -2 9 -4zM508 2094l1 2 -6 3 -3 2 -2 -3 0 -4 8 -2zM504 2106l2 3 -3 3 -3 0 -4 0 1 -4 1 -4 3 0zM470 2125l3 0 -1 8 -3 1 -3 4 0 -5 1 -3 2 -7zM498 2111l-1 2 -8 2 -3 0 0 -1 -1 -2 1 -3 7 1zM511 2101l4 0 4 2 2 2 -2 4 -5 -3 -2 -2zM528 2104l-2 0 -3 1 -2 1 -2 -2 1 -2 1 0 4 -1 0 1zM486 2121l1 3 1 4 -2 3 -2 3 -1 -7 0 -4zM487 2121l-1 7 -1 3 -5 8 -1 -1 -2 -2 -1 -3 3 -7 4 0zM479 2078l0 2 -4 3 -3 1 1 -3 4 -3zM462 2115l1 5 -2 4 -3 2 0 -3 1 -4zM440 2231l3 0 4 0 1 5 2 5 -2 1 -4 -1 -4 -3 -1 -4zM459 2335l3 1 0 3 1 1 0 4 -2 -1 -4 -1 0 -2 0 -2zM604 2433l1 4 -3 10 -2 -2 -2 -2 3 -9zM586 2426l-2 5 -4 7 -2 -2 -1 -2 3 -5zM566 2396l2 0 0 3 -2 2 -1 1 -1 0 0 -2 0 -3 2 -3zM694 2462l2 2 2 3 -2 5 -3 -2 -2 -2 2 -4zM463 2242l3 0 -3 8 -1 3 -4 3 -2 -3 -1 -4 3 -6 3 0zM530 2377l2 0 3 3 -2 2 -2 0 -2 -3zM462 2215l0 2 -1 3 -3 4 -4 1 0 -2 1 -5 4 -5zM481 2294l1 -2 2 7 -2 3 -2 0 -3 -7zM475 2271l1 1 -1 5 -3 2 -1 -4 2 -3zM678 2446l1 6 -3 3 -6 4 1 -5 4 -5zM502 2388l5 3 2 7 1 5 -1 3 -3 -1 -3 1 -2 -6 0 -6zM481 2216l2 4 1 4 0 5 -3 -2 -2 -4 1 -4zM440 2225l1 0 0 2 0 3 -1 2 -2 -2 -1 -1 0 -2 2 -2zM455 2264l3 5 0 6 -3 5 -4 -2 0 -3 2 -10zM657 2443l5 3 -4 4 -6 5 -1 -5 3 -4zM482 2329l-2 3 -3 5 -5 4 -4 -1 0 -1 5 -6 4 -5zM531 2416l1 3 -5 3 -3 1 -1 -2 4 -3zM478 2334l4 4 -1 8 -2 6 -4 -7 0 -7zM442 2288l-3 1 -3 3 -3 -1 -3 -2 2 -1 2 -2 1 -2 5 2zM571 2436l2 -2 2 4 0 5 1 5 -4 -1 -2 -4 -3 -1 0 -6zM706 2445l3 6 -3 6 -1 3 -4 4 -2 -5 2 -3 2 -6zM473 2289l3 1 2 5 -2 4 -4 0 -3 -2 0 -7zM471 2259l0 2 -2 1 -2 -1 0 -2 2 -2zM560 2422l2 1 0 3 -3 2 -2 -1 2 -4zM573 2431l-2 4 -3 4 -3 -1 -6 1 2 -3 5 -5 6 -2zM474 2365l1 6 1 1 1 7 -2 4 -4 -1 -1 -5 -1 -2 2 -6zM474 2250l-1 4 -8 3 -3 -2 2 -6 6 -1zM464 2311l3 5 0 4 -2 8 -3 -4 -2 -2 2 -6zM623 2443l-6 5 -3 4 -4 -1 -7 2 2 -4 6 -6 5 0zM689 2455l1 -1 2 2 1 2 -1 1 0 2 -2 -3 -2 0 0 -2zM580 2414l0 1 -4 2 -5 4 -3 -1 1 -3 2 -2 1 -4 4 0zM461 2307l1 4 -6 2 -6 1 -7 0 5 -3 -2 -4 9 -2 3 1zM530 2410l1 2 -1 2 -5 4 -3 -2 -1 0 -1 -2 5 -3 3 -1zM600 2421l1 1 -2 5 -4 8 -1 -5 -1 -2 4 -5zM434 2244l0 4 -3 6 -3 2 -3 -3 2 -5 4 -6zM492 2236l1 4 -5 1 -5 -1 -1 -2 3 -3 5 0zM440 2237l1 1 -1 4 -2 4 -3 -1 1 -3 1 -4zM444 2297l4 2 0 7 -3 2 -3 6 -1 -6 -3 -3 3 -7zM603 2444l2 1 -3 4 -2 4 -2 -1 2 -5 2 -2zM500 2404l2 1 0 2 0 1 0 1 -1 1 -2 0 0 -3 0 -1zM436 2257l-1 2 -2 3 -3 1 -2 -2 0 -1 1 -3 4 -2zM481 2227l2 0 2 5 -1 3 0 7 -3 1 -1 -7 -4 -6 3 -2zM433 2265l2 2 0 3 -3 2 -1 -2 -1 -4zM525 2384l-2 2 -6 1 -4 -2 3 -3 5 0zM579 2414l6 2 0 9 -2 2 -6 -2 1 -5zM578 2394l1 3 -7 3 -4 -1 4 -4 4 -2zM495 2384l3 -1 1 7 0 3 -2 4 -2 -2 -1 -4 -1 -10zM433 2278l1 2 1 2 -2 1 -2 0 1 -3zM459 2261l4 1 1 5 0 4 -3 6 -2 -2 -2 -3 -1 -5 1 -2zM468 2290l1 2 -1 4 -2 6 -3 2 0 -4 1 -8 1 -1zM514 2386l2 5 1 8 -5 1 -2 -4 1 -6zM456 2257l1 -1 1 6 -3 1 -2 3 0 -3 0 -3 2 -3zM437 2329l3 0 1 0 3 2 2 3 -2 0 -2 2 -3 -2 -1 -2zM479 2265l-2 1 -3 2 -2 0 -1 -2 2 -2 3 0zM538 2392l5 1 0 7 -1 8 -4 -4 -1 -9zM453 2275l2 3 -3 3 -4 6 -2 -3 0 -4 3 -4zM685 2448l1 3 1 2 -3 7 -1 2 -3 -2 -1 -7 2 -6zM653 2468l2 -3 1 5 -2 9 -1 4 -4 0 -1 -8 -1 -2 3 -4zM639 2456l3 1 2 2 1 3 1 2 -2 2 -3 -2 -1 -3 -1 -3zM577 2397l2 2 0 5 1 3 -1 3 -3 -3 -1 -2 0 -8zM459 2359l1 -2 1 5 2 2 -2 2 0 3 -2 -3 -2 -5 0 -1zM563 2442l-3 -1 -4 -4 -2 -4 5 2 3 3zM484 2208l6 5 2 4 -1 7 -3 -5 -3 -4zM490 2303l0 4 -2 3 -3 1 0 -2 1 -4zM561 2373l1 4 -1 3 -1 4 -5 1 -3 1 1 -6 0 -2 4 -4zM717 2457l3 1 -4 6 -3 5 -2 -3 1 -3 2 -5zM470 2273l-3 7 -4 4 -4 0 -5 1 5 -8 5 -1zM458 2223l5 1 1 6 1 6 -5 2 -2 -7 -3 -5zM452 2220l3 4 3 1 0 6 -1 5 -4 -6 -3 0 1 -9zM484 2327l0 1 -1 2 -1 3 -2 -1 -1 -1 -2 -3 4 -2 3 -2zM486 2267l3 -1 -1 3 -1 3 -1 0 -4 0 0 -4 2 -1zM481 2305l-1 3 -3 5 -6 3 -2 -1 0 -2 -2 -1 5 -5 5 -1zM490 2250l-2 2 -1 2 -4 1 -1 -1 0 -2 1 -3 4 -1zM467 2215l2 4 0 3 -3 1 -2 3 -1 -4 -1 -2 4 -3zM477 2202l5 1 0 6 -2 5 -5 -4 -2 -7zM454 2231l2 5 -3 4 -6 4 0 -6 3 -5zM645 2463l3 -1 3 2 4 3 1 2 0 4 -3 -1 -7 -4 -3 -4zM541 2402l2 2 0 2 -2 3 -2 0 -2 0 -1 -1 0 -3 3 -1zM464 2206l4 2 -4 10 -6 5 -3 -3 1 -6 4 -6zM523 2403l0 3 -1 3 -3 3 -1 0 -4 -2 2 -3 3 -2zM683 2456l1 2 -2 5 -2 2 -2 0 -3 1 0 -4 3 -3 1 -2zM571 2420l0 2 -4 3 -3 -1 -1 -2 -1 -2 1 -3 3 -1 4 2zM564 2407l3 3 -3 8 -5 0 0 -3 1 -8zM666 2469l-1 4 -2 2 -2 1 -3 1 0 -2 -2 -2 3 -2 3 0zM435 2236l1 2 -4 4 -3 -1 -6 1 2 -3 1 -3 5 -1 3 -2zM474 2238l1 1 -4 4 -3 2 1 -5 2 -1zM434 2294l3 2 -1 4 -3 0 -3 -2 1 -5zM546 2384l2 0 2 6 -2 3 -4 1 0 -6 -1 -3zM469 2210l1 1 1 2 0 3 -3 0 -1 -1 -1 -2 1 -1zM468 2327l1 0 0 3 -2 1 -2 0 -1 -3 2 0zM584 2447l3 4 -1 7 -2 4 -5 1 0 -5 1 -7zM669 2446l2 2 -2 5 -1 3 -2 2 -3 -2 1 -4 3 -2zM454 2318l4 3 1 5 0 3 -2 0 -2 -1 -1 -5zM538 2414l-1 3 -1 3 -2 0 -3 0 -1 -2 1 -3 3 -1 2 1zM583 2436l1 5 0 4 1 3 -2 1 -3 2 0 -5 -1 -2 2 -6zM454 2212l1 2 -1 5 -3 3 -1 -5 1 -5zM512 2413l2 -2 5 5 1 5 -3 2 -2 0 -3 -2 -2 -6zM476 2287l-6 2 -4 4 -8 -1 3 -3 0 -3 6 -2 4 0zM483 2384l2 7 4 4 -1 8 -4 -1 -1 -3 -4 -9zM484 2383l1 1 0 2 -2 2 -2 0 -1 -1 1 -3 1 -3zM536 2415l3 0 3 -2 3 0 2 3 -3 2 -2 2 -5 -2zM464 2374l0 4 -2 3 -3 -2 0 -1 1 -4zM576 2400l-1 3 -1 5 -3 2 -3 2 1 -2 -1 -2 3 -4 2 -2zM463 2366l2 0 0 4 0 4 -3 3 -5 -5 3 -3 1 -3zM475 2380l2 2 1 1 0 4 0 4 -2 -3 -1 -2 -2 -1 2 -3zM621 2455l1 0 1 2 -1 2 0 4 -2 -2 -1 -2 0 -1 0 -3zM546 2415l4 0 2 1 2 1 0 1 -1 2 -2 -1 -4 -3zM496 2377l3 2 -1 7 -2 4 -4 3 -1 -4 0 -6 3 -4zM537 2430l-5 2 -1 1 -5 -1 -2 -1 -2 -2 4 0 3 -1 5 0zM652 2457l5 3 6 3 -1 6 -1 2 -5 -4 -5 -4zM533 2396l4 -1 -1 5 -4 5 -5 3 -2 -1 2 -5 2 -4 4 -6zM449 2336l3 3 3 5 -1 2 1 6 -4 -3 -1 -5 -2 -5zM556 2407l2 2 -3 4 -5 0 -1 -1 1 -3 4 -2zM451 2206l1 3 -3 3 -3 2 -1 -2 -1 -2 2 -3 2 0zM470 2297l-3 5 -7 5 -5 1 2 -5 5 -3zM431 2251l6 2 6 3 4 5 2 4 -3 2 -8 -5 -5 -6zM568 2419l3 1 0 11 -4 8 -3 -4 0 -8 1 -6zM527 2387l2 1 -1 4 -3 2 -1 -3 0 -1 2 -2zM482 2315l3 -1 0 5 -3 3 -3 1 -2 -2 2 -4 2 -1zM559 2440l2 1 -2 7 -5 1 -2 -2 3 -5zM490 2289l2 2 -4 3 -3 0 -1 -2 1 -1 -2 -2 5 -1 0 1zM474 2223l1 1 0 3 1 2 -2 1 -1 0 -2 0 0 -3 1 -2zM438 2212l-1 1 -1 2 -3 0 0 -2 -1 0 0 -2 2 0 3 -1zM449 2221l2 2 -2 3 -3 3 -2 -3 -1 -2 4 -3zM554 2419l1 6 1 4 -4 3 -3 -4 2 -7zM607 2451l2 4 -1 2 -2 5 -3 -2 -3 -2 4 -7zM645 2464l5 1 -9 4 -5 4 -4 -2 0 -2 -1 -3 9 -3 2 0zM630 2448l0 3 -1 3 -3 4 -2 0 0 -1 0 -2 2 -3 1 -2zM491 2310l0 2 -1 3 -2 2 -3 3 -1 -2 2 -4 3 -3zM605 2428l3 -1 0 4 -2 3 -2 0 -2 -1 -1 -4zM486 2371l3 0 -3 5 -3 1 -4 1 4 -5 2 -2zM433 2312l3 -1 2 3 2 4 -3 3 -1 3 -3 -3 -2 -5 2 -2zM566 2385l1 3 2 2 -2 3 -2 1 -1 -2 -2 -3 2 -2zM673 2463l2 2 -4 2 -2 2 -4 1 1 -3 3 -2 3 -3zM488 2284l-2 2 -3 2 -5 0 -2 -1 2 -3 5 -1 2 -1zM596 2444l4 1 -5 6 -5 0 -5 0 0 -2 4 -4 2 -2 5 -2zM433 2288l-1 2 -1 3 -3 1 -2 0 0 -2 3 -2 3 -2zM472 2339l2 3 0 5 -1 6 -3 3 -4 -1 0 -9 5 -6zM469 2279l2 -1 2 3 0 5 -3 3 -2 -3 -1 -3 -1 -5zM635 2466l1 2 -6 6 -2 -2 -2 -1 2 -3 5 -2zM460 2355l1 -2 3 1 3 2 0 3 -1 1 -3 0 -2 -1 -2 -2zM551 2393l4 1 2 0 5 3 0 2 -1 3 -3 -1 -2 -2 -4 -2zM593 2426l2 2 0 5 -4 3 -3 1 -4 -1 0 -2 3 -8 2 0zM460 2236l-1 2 0 2 -3 3 -1 -1 -1 1 0 -3 1 -2 4 -1zM652 2441l-3 4 -2 3 -2 0 0 -3 2 -3zM471 2252l3 0 3 -1 5 6 -3 1 -3 2 -2 -2 -2 -3zM447 2286l3 1 1 5 -1 5 -3 -2 -1 -6zM626 2435l1 1 0 3 -3 3 -2 -1 0 -3 2 -3zM438 2320l1 2 1 3 -1 3 -2 2 -2 -3 0 -5zM443 2214l1 3 -2 4 -4 2 -5 3 1 -4 3 -4 3 -3zM593 2446l3 7 1 7 -1 8 -4 -1 -2 2 -2 -11 2 -7zM491 2204l-2 3 -4 3 -5 0 -1 -3 5 -4 5 -1zM684 2469l1 3 -1 2 -2 3 -3 0 0 -5 3 -4zM555 2438l-2 3 -1 0 -5 1 -2 0 0 -3 0 -2 4 -4 3 2zM650 2448l1 0 3 10 0 4 -2 6 -3 2 -4 -8 0 -5 1 -4zM672 2472l2 2 1 4 -1 3 -1 1 -2 -3 1 -3zM546 2432l-1 2 -1 3 -3 0 -1 0 -2 0 2 -2 1 -3 2 0zM486 2275l-2 2 0 4 -3 1 -2 -2 0 -2 0 -2 2 -2zM434 2303l0 2 0 2 -1 4 -3 0 -3 1 2 -3 2 -4 1 -3zM575 2379l2 5 -3 7 -1 6 -2 -2 -1 -6 1 -6zM450 2250l-5 1 -3 1 -7 0 -3 -2 5 -3 5 0 4 1zM448 2292l0 3 -2 5 -3 3 -2 -1 -2 0 1 -2 1 -4 5 -2zM631 2437l1 -1 1 2 -1 3 0 2 -2 0 -2 -2 0 -3 1 -1zM448 2320l2 1 3 2 -1 4 -3 -2 -2 -2zM508 2384l-1 4 0 5 -4 2 -3 4 -3 0 1 -5 4 -6 1 -1zM425 2262l2 -1 1 3 1 5 -1 1 -2 -3 -2 -2 0 -2zM485 2259l1 1 0 3 0 2 -2 0 -1 -1 -2 1 1 -3 2 -2zM488 2223l3 0 -1 3 -3 3 -1 -2 -2 -1 2 -4zM479 2212l2 2 -4 5 -3 0 -3 0 2 -2 4 -4zM453 2351l4 0 1 3 0 5 -3 2 -2 0 -4 -5 2 -4zM558 2388l1 1 -1 2 -1 2 0 -1 -1 0 -1 -1 1 -3 1 1zM572 2443l3 1 4 4 -1 3 -4 0 -4 -7zM482 2366l0 2 -4 1 -5 1 -1 -2 0 -1 5 -2 5 -1zM453 2330l2 2 -1 2 -1 2 -2 -2 0 -3zM471 2260l0 7 -3 5 -4 2 -3 -6 5 -5zM427 2239l1 1 -2 3 -1 3 -1 0 -2 2 0 -3 1 -3 2 -1zM626 2444l1 -1 1 3 1 2 0 3 -2 2 -2 -4 -1 -3 -1 -2zM626 2446l1 1 -4 7 -4 0 -4 1 0 -2 3 -5 6 -3zM509 2383l1 0 3 0 2 2 0 2 0 2 -2 0 -3 -1 -2 -2zM695 2437l6 7 -3 8 -1 9 -6 -6 2 -10zM614 2437l2 -2 4 3 3 4 -4 2 -6 -4zM460 2280l1 6 -4 6 -4 5 -5 1 2 -9 6 -6zM617 2458l-2 3 -2 2 -4 2 -2 -3 -2 -3 5 -4 4 1zM542 2425l1 3 -3 4 -3 0 -1 -1 -2 -2 4 -4zM446 2277l-1 5 -5 5 -6 3 -2 -5 5 -5 4 -4zM572 2443l0 4 0 3 -4 2 -2 0 -2 -2 3 -6zM472 2296l2 5 -3 3 -3 1 -2 -2 4 -8zM446 2263l2 1 -1 3 -2 1 -2 -1 -1 0 1 -3 2 -1zM705 2464l1 1 -1 0 -2 2 -1 -1 0 -2 1 -1 2 0zM465 2309l1 0 -1 5 -3 2 0 -4 1 -5zM569 2437l-2 4 -2 3 -3 2 -2 -2 1 -4 4 -2zM469 2202l1 0 1 2 -2 4 -4 1 1 -3 -2 -1 1 -2 3 -4zM508 2404l4 1 0 2 0 3 -2 3 -3 -1 0 -2 -1 -2 1 -2zM430 2225l1 3 -4 3 -2 1 -1 -3 3 -3zM447 2347l2 3 1 4 -1 3 -1 4 -2 2 -1 -4 -2 -5 1 -6zM575 2417l1 3 0 3 -1 4 -1 0 -4 -2 -1 -4 3 -2zM687 2461l2 1 -2 5 -3 1 -2 -1 -1 -3 3 -4zM452 2239l1 2 -2 7 -3 0 -2 0 -1 -3 3 -5zM618 2420l-1 6 1 2 -4 7 -5 4 0 -1 -1 -6 2 -4 4 -7zM581 2413l1 -5 7 6 4 5 -1 5 -2 1 -7 -6 -3 -3zM471 2356l2 0 -1 3 1 2 -2 0 -1 0 -2 -2 1 -3zM445 2327l2 -1 1 2 1 1 1 2 -2 1 -1 -1 -2 -1 1 -1zM443 2342l2 1 -1 4 -1 1 -2 1 -1 -3 0 -1 2 -4zM469 2272l2 1 -2 3 -3 3 -1 -2 -1 0 1 -2 1 -2 2 -1zM457 2301l4 -1 -5 5 -4 3 -5 2 1 -5 4 -3 3 -2zM640 2442l1 1 -2 2 -3 2 -1 -1 0 -2 2 -1 1 -1zM497 2373l-2 4 -2 3 -6 1 -1 -2 4 -4 4 -2zM537 2383l3 1 -2 6 -3 0 -2 -1 2 -6zM641 2449l-2 2 -3 2 -4 -1 -2 -1 -1 -1 2 -3 5 0 2 1zM520 2417l1 2 1 2 -1 1 -1 2 -1 -1 -2 0 1 -2 0 -3zM602 2436l-2 2 -4 4 -2 0 -3 -4 0 -3 2 -1 4 -2 3 2zM513 2399l2 2 3 2 -1 2 -1 1 -2 0 -1 -2 -3 -3zM629 2462l1 3 -7 5 -4 3 -4 -2 3 -5 3 -2 3 -3zM633 2453l3 2 1 6 0 7 -2 0 -4 -6 1 -4zM543 2377l2 1 -1 3 -2 4 -3 -1 -1 -1 1 -3 1 -2 2 -4zM505 2374l3 -2 -1 9 -3 4 -2 -2 0 -7zM460 2199l0 5 -3 6 -5 2 -1 -3 -1 -1 2 -4 6 -5zM446 2207l0 4 -5 2 -3 2 -4 0 3 -4 -2 -3 6 -1 4 -2zM435 2219l2 0 -1 5 -1 3 -2 2 -1 -1 -1 -3 1 -3 1 -2zM470 2237l-2 3 -5 0 -3 -1 4 -2 3 -1zM520 2394l3 1 1 3 0 2 0 1 -1 0 -2 -2 0 -2zM462 2331l1 2 -2 2 -3 -1 0 -2 2 -3zM561 2404l0 1 -3 2 -3 0 1 -2 3 -1zM504 2412l3 0 3 4 -2 5 -4 -2 -2 -5zM539 2405l-2 4 -4 5 -6 1 2 -4 3 -4zM462 2297l-1 4 -7 1 -4 -4 3 -4 4 1zM550 2400l1 2 -1 3 -4 3 1 -4 2 -6zM546 2420l1 1 1 3 -1 4 -4 1 -2 0 -3 -1 2 -5 2 -5zM453 2365l1 0 1 2 0 1 -2 2 -1 -1 -1 -1 0 -2 1 -1zM488 2320l2 3 -3 4 -3 0 -3 -2 4 -4zM691 2448l1 2 -2 3 -3 0 -3 0 1 -2 2 -3 3 -1zM476 2318l3 2 -6 1 -3 0 -1 -2 0 -3 3 0 3 1zM501 2392l-4 5 -2 4 -3 2 -3 -1 -4 -1 2 -4 4 -4 5 -1zM542 2395l-2 1 -5 1 -6 -1 -4 -4 4 -2 5 1 5 2zM548 2387l4 1 1 10 -3 10 -5 -9 -1 -10zM480 2348l0 4 -1 3 -2 2 -5 1 1 -3 1 -4 1 -1zM436 2265l5 0 8 7 -1 7 -4 2 -8 -10zM566 2370l2 4 0 5 -1 9 -3 -1 -2 0 -3 -3 3 -5 2 -6zM615 2437l-1 5 -5 6 -7 2 0 -5 1 -6 5 1zM473 2361l-1 7 -2 8 -2 -2 -2 -2 2 -7zM534 2031l-3 2 -3 3 -2 -1 -2 -2 3 -2 4 -1zM520 2023l2 1 2 2 -1 1 -2 1 -1 -3zM531 2016l1 1 -3 3 -4 1 2 -3 2 -2zM521 2039l2 1 1 6 -1 2 -4 -1 0 -5zM519 2011l1 -1 1 2 -1 1 -1 2 -2 1 0 -3 0 -2 1 -2zM915 300l0 1 -1 1 -2 1 -2 0 -1 -1 2 -2 1 0 3 -1zM916 307l0 2 -2 1 -4 0 2 -2 1 -1 2 -1zM914 304l-2 1 -4 1 -4 -1 1 -1 2 -1 5 0zM916 311l2 0 0 4 -1 3 -2 -2 -1 -4zM925 302l0 1 0 2 -1 1 -1 0 -1 -1 1 -2 0 -1zM905 298l2 0 1 2 0 2 2 2 -3 0 -2 -3 -2 -2zM923 311l1 3 1 1 0 4 -1 3 -1 -2 -1 -2 0 -1 0 -3zM912 312l0 3 -3 1 -2 -1 1 -2 3 -1zM909 309l0 1 -2 2 -3 1 1 -2 3 -3zM924 304l-2 1 -2 0 -1 1 -1 -1 0 -1 0 -1 2 -1 2 1zM915 317l1 0 1 1 0 1 -1 1 -1 0 -1 -2 0 0zM923 309l0 3 1 2 -1 0 -2 1 -1 -2 2 -2zM924 306l2 0 0 3 1 2 0 3 -2 -2 -1 0 -1 -2 0 -3zM920 321l-2 3 -2 1 -2 -2 1 -1 2 -2zM915 302l1 2 0 1 -1 2 0 0 -1 -1 0 -2 0 -1zM930 320l-1 1 -2 1 -1 0 -2 -1 -1 -1 3 -1 1 0 2 0zM923 321l0 1 -2 0 -1 0 -1 -1 2 -1 2 0zM913 309l1 2 1 3 -2 2 -1 -2 -1 -3zM906 305l1 1 1 1 -2 3 0 0 -1 -2 -1 0 1 -3zM927 313l1 1 -2 1 -1 0 0 -1 1 -2zM912 320l1 0 0 1 -1 3 -1 -1 -1 -1 -1 -1 1 -2zM917 307l1 -1 3 4 -2 1 -1 0 -2 -2zM918 318l1 -1 2 2 -1 1 -1 1 -2 -2zM914 317l0 1 -3 1 -2 -1 1 -1 2 -1zM924 304l1 2 -1 3 -3 3 -3 -2 1 -4 4 -2z" fill="none" stroke="#000" stroke-width="2" stroke-linejoin="round"/>
<path d="M1350.3 631.0 1354.5 634.1 1359.4 630.3 1363.5 635.7 1368.3 632.6 1372.5 636.2 1377.9 632.7 1380.5 637.4 1385.9 635.3 1388.3 640.4 1393.4 639.0 1395.8 644.2 1401.2 641.9 1403.5 647.3 1409.0 644.3 1411.4 650.8 1416.8 647.5 1419.7 652.5 1425.1 648.9 1428.0 654.1 1432.6 652.6 1436.1 657.4 1441.0 653.4 1444.6 657.4 1449.5 653.6 1451.4 658.5 1457.4 659.1 1456.3 665.3 1461.8 666.3 1463.5 670.2" fill="none" stroke="#000" stroke-width="2" stroke-linejoin="round"/>
<path d="M908.8 2347.6 L918.0 2345.3 L926.1 2338.4 L923.8 2332.6 L935.3 2336.1 L939.9 2330.3 L953.7 2332.6 L954.9 2328.0 L967.6 2330.3 L971.0 2333.8 L962.9 2340.7 L953.7 2348.8 L944.5 2352.2 L936.5 2354.5 L935.3 2358.0 L926.1 2360.3 L918.0 2356.8 L911.1 2353.4 Z" fill="#b8d8e9" stroke="#000" stroke-width="2.2" stroke-linejoin="round"/>
<path d="M974.5 2334.9 L981.4 2329.2 L995.2 2330.3 L1002.1 2333.8 L1012.5 2332.6 L1019.4 2337.2 L1018.2 2344.1 L1006.7 2344.1 L1001.0 2347.6 L990.6 2349.9 L989.4 2356.8 L980.2 2355.7 L972.2 2354.5 L967.6 2359.1 L967.6 2364.9 L958.3 2360.3 L959.5 2352.2 L965.3 2347.6 L973.3 2343.0 Z" fill="#b8d8e9" stroke="#000" stroke-width="2.2" stroke-linejoin="round"/>
<path d="M891.0 254.7 L903.1 252.9 L915.2 251.2 L914.5 263.3 L911.7 273.7 L891.0 273.7 L889.2 265.0 Z" fill="#dc6e57"/>
<path d="M917.9 237.4 L929.0 233.9 L929.0 240.9 L918.6 243.3 Z" fill="#dc6e57"/>
<path d="M799.4 242.6 L808.0 239.1 L818.4 237.4 L820.1 244.3 L811.5 247.8 L813.2 252.9 L802.8 251.2 Z" fill="#dc6e57" stroke="#000" stroke-width="2.2" stroke-linejoin="round"/>
<path d="M606.2 190.7 L609.6 190.0 L613.8 197.0 L611.0 198.3 Z" fill="#d6604d"/>
<path d="M638.3 201.1 L641.8 200.4 L649.7 208.7 L646.3 210.1 Z" fill="#d6604d"/>
<path d="M662.5 202.8 L670.5 203.5 L671.2 209.7 L664.2 208.7 Z" fill="#d6604d"/>
<path d="M786.5 2448.4 L802.0 2445.0 L817.6 2444.3 L815.9 2448.4 L798.6 2451.2 Z" fill="#acd2e5" stroke="#000" stroke-width="2.2" stroke-linejoin="round"/>
<g fill="#000"><circle cx="904.8" cy="2321.1" r="1.6"/><circle cx="908.8" cy="2321.7" r="1.6"/><circle cx="915.7" cy="2323.4" r="1.6"/><circle cx="919.2" cy="2322.8" r="1.6"/><circle cx="916.3" cy="2326.3" r="1.6"/><circle cx="931.3" cy="2324.3" r="1.6"/><circle cx="938.8" cy="2324.6" r="1.6"/><circle cx="922.6" cy="2330.3" r="1.6"/><circle cx="927.8" cy="2329.2" r="1.6"/><circle cx="918.6" cy="2337.8" r="1.6"/><circle cx="922.6" cy="2340.1" r="1.6"/><circle cx="904.2" cy="2343.6" r="1.6"/><circle cx="904.8" cy="2347.6" r="1.6"/><circle cx="975.6" cy="2367.0" r="1.6"/><circle cx="997.5" cy="2354.5" r="1.6"/><circle cx="984.3" cy="2360.3" r="1.6"/><circle cx="954.9" cy="2365.5" r="1.6"/><circle cx="959.5" cy="2345.9" r="1.6"/><circle cx="688.4" cy="210.8" r="1.5"/><circle cx="719.5" cy="214.2" r="1.5"/><circle cx="723.0" cy="216.7" r="1.5"/><circle cx="740.3" cy="214.9" r="1.5"/><circle cx="792.5" cy="214.9" r="2.0"/></g>
<path d="M381.5 341.8 L373.9 348.0 L368.7 346.3 L358.4 353.2 L349.7 367.0 M548.5 235.7 L536.4 239.1 L515.6 259.9 L512.2 280.6 L501.8 303.1 L515.6 301.3 L522.5 325.5 L531.2 342.8 L529.4 363.5 L541.5 375.6 L567.5 379.1 L603.8 375.6 L633.1 408.5 L667.7 403.3 L695.3 401.6 L698.8 411.9 L685.0 436.1 L686.7 463.8 L698.8 491.4 L685.0 515.6 L707.4 536.4 L719.5 570.9 M719.5 570.9 L709.2 572.6 L707.4 550.2 L695.3 539.8 L671.2 553.6 L619.3 553.6 L617.6 574.4 L640.0 577.8 L641.8 589.9 L610.7 591.7 L610.7 619.3 L626.2 629.7 L633.1 650.4 L619.3 743.7 L614.1 757.6 M508.7 681.5 L515.6 688.4 L550.2 685.0 L577.8 688.4 L608.9 702.3 L589.9 740.3 L614.1 757.6 M719.5 570.9 L736.8 586.5 L757.6 579.6 L770.0 582.0 M614.1 757.6 L577.1 757.9 L540.9 772.1 L529.4 770.0 M315.2 565.9 L325.5 572.8 L342.8 581.5 L356.6 584.9 L365.3 598.8 L377.4 603.1 L391.2 604.8 L399.8 597.0 L411.9 603.9 L425.8 614.3 M425.8 614.3 L437.0 626.4 L437.9 643.7 L429.2 652.3 L425.8 664.4 L408.5 683.4 L391.2 697.3 L368.7 705.9 L349.7 712.8 L337.6 726.6 L330.7 740.5 L325.5 752.6 L322.1 764.7 L313.4 771.6 L310.0 780.2 L301.3 779.3 L294.4 764.7 L284.1 761.2 L272.0 756.0 L263.3 761.2 L262.5 752.6 L272.0 742.2 L268.5 724.9 M425.8 612.4 L450.0 619.3 L467.2 643.5 L491.4 657.3 L508.7 681.5 M953.2 332.4 L942.8 342.8 L927.3 349.7 L923.8 361.8 L937.6 373.9 L911.7 389.5 L906.5 405.0 L901.3 413.7 L923.8 441.3 M770.0 581.3 L783.8 570.9 L801.1 560.6 L811.5 546.7 L832.2 538.1 L833.9 531.2 L814.9 526.0 L806.3 501.8 L804.6 494.9 L785.6 470.7 L811.5 477.6 L839.1 479.3 L849.5 489.7 L863.3 475.9 L887.5 469.0 L908.2 460.3 L925.5 446.5 L923.8 441.3 M833.9 536.4 L852.9 546.7 L858.1 567.5 L865.0 595.1 L873.7 622.8 L863.3 636.6 L884.1 657.3 L897.9 664.2 L894.4 643.5 L908.2 629.7 L925.5 640.0 L935.9 619.3 L946.3 603.8 L982.6 603.8 M982.6 570.9 L982.6 603.8 L984.3 619.3 L998.1 647.0 L1011.9 660.8 L1032.7 667.7 L1056.9 685.0 L1075.9 681.5 L1067.2 691.9 L1032.7 770.0 M923.8 441.3 L942.8 436.1 L948.0 458.6 L958.4 465.5 L960.1 481.1 L949.7 494.9 L949.7 529.4 L956.6 546.7 L970.5 560.6 L984.3 570.9 L998.1 564.0 L1011.9 557.1 L1032.7 546.7 L1056.9 546.7 M1043.0 411.9 L1037.9 436.1 L1018.8 446.5 L1011.9 470.7 L1025.8 494.9 L1037.9 501.8 L1046.5 526.0 L1056.9 546.7 M1056.9 546.7 L1077.6 548.5 L1082.8 529.4 L1098.3 529.4 L1115.6 526.0 L1122.5 536.4 L1132.9 536.4 M1146.7 420.6 L1131.2 446.5 L1136.4 474.1 L1148.5 491.4 L1139.8 512.2 L1132.9 536.4 M1132.9 536.4 L1153.6 532.9 L1177.8 538.1 L1195.1 526.0 L1212.4 488.0 L1229.7 463.8 M1122.5 536.4 L1122.5 550.2 L1143.3 557.1 L1167.5 574.4 L1181.3 602.0 L1195.1 629.7 L1202.0 647.0 L1215.9 650.4 L1233.1 622.8 L1253.9 608.9 L1279.8 598.6 M1410.0 651.2 L1408.2 673.7 L1399.6 694.4 L1391.0 715.2 L1380.6 742.8 L1354.7 767.0 L1323.6 789.5 M1323.6 789.5 L1339.1 805.0 L1335.7 825.8 L1311.5 843.0 L1304.6 870.7 L1290.7 901.8 L1270.0 939.8 M1323.6 789.5 L1356.4 791.2 L1366.8 811.9 L1368.5 832.7 L1356.4 853.4 L1373.7 870.7 L1397.9 881.1 L1387.5 894.9 L1380.6 915.6 L1394.4 932.9 L1401.3 946.7 L1418.6 953.6 M1555.1 706.5 L1536.1 725.5 L1525.8 735.9 L1517.1 756.6 L1511.9 784.3 L1520.6 818.8 L1511.9 836.1 L1484.3 843.0 L1453.2 856.9 L1432.4 867.2 L1422.1 894.9 L1416.9 915.6 L1422.1 932.9 L1418.6 953.6 M1570.7 710.0 L1577.6 742.8 L1584.5 777.4 L1591.4 829.2 L1603.5 843.0 L1598.3 860.3 M1598.3 860.3 L1594.9 881.1 L1574.1 901.8 L1553.4 915.6 L1522.3 932.9 L1498.1 924.3 L1487.7 932.9 L1491.2 946.7 L1477.4 960.6 L1453.2 976.1 L1435.9 967.5 L1427.3 951.9 L1418.6 953.6 M1708.9 773.9 L1691.7 777.4 L1677.8 808.5 L1664.0 825.8 M1598.3 860.3 L1615.6 856.9 L1636.4 860.3 L1650.2 874.1 L1660.6 867.2 L1657.1 846.5 L1664.0 825.8 M1664.0 825.8 L1684.7 827.5 L1708.9 815.4 L1705.5 836.1 L1729.7 843.0 L1736.6 825.8 L1785.0 829.2 M1660.6 867.2 L1677.8 872.4 L1708.9 856.9 L1719.3 867.2 L1712.4 877.6 L1719.3 888.0 L1733.1 877.6 L1788.4 863.8 M1574.1 901.8 L1591.4 929.4 L1605.3 922.5 L1615.6 908.7 L1636.4 898.3 L1653.6 905.3 L1670.9 912.2 L1677.8 922.5 L1691.7 912.2 L1719.3 922.5 L1743.5 919.1 L1781.5 907.0 M1677.8 922.5 L1698.6 936.4 L1719.3 950.2 L1747.0 950.2 M1683.0 932.9 L1688.2 957.1 L1676.1 972.6 L1684.7 991.7 L1703.8 998.6 M1418.6 953.6 L1401.3 974.4 L1394.4 991.7 L1404.8 1002.0 L1408.2 1033.1 L1406.5 1060.8 L1408.2 1081.5 L1418.6 1098.8 L1413.4 1123.0 M1413.4 1123.0 L1435.9 1105.7 L1467.0 1088.4 L1484.3 1090.2 L1491.2 1102.3 L1511.9 1104.0 L1546.5 1119.5 L1570.7 1136.8 L1574.1 1150.6 L1601.8 1154.1 L1619.1 1157.6 L1615.6 1170.0 M1270.0 1029.7 L1287.3 1047.0 L1304.6 1053.9 L1314.9 1041.8 L1332.2 1057.3 L1359.9 1060.8 L1373.7 1050.4 L1406.5 1045.2 M1413.4 1123.0 L1401.3 1109.2 L1384.1 1129.9 L1366.8 1157.6 M1377.4 1170.0 L1373.9 1183.8 L1365.3 1194.2 L1373.9 1208.0 L1370.5 1218.4 L1353.2 1230.5 L1329.0 1225.3 L1301.3 1233.9 L1273.7 1235.7 L1261.6 1252.9 L1251.2 1265.0 M1251.2 1265.0 L1247.8 1280.6 L1263.3 1273.7 L1304.8 1282.3 L1311.7 1292.7 L1318.6 1287.5 L1346.3 1284.1 L1367.0 1280.6 L1377.4 1301.3 L1380.8 1325.5 L1398.1 1332.4 L1391.2 1349.7 L1399.8 1370.5 L1424.0 1370.5 M1251.2 1265.0 L1246.0 1287.5 L1230.5 1301.3 L1221.8 1322.1 L1211.5 1339.4 L1197.6 1356.6 L1176.9 1368.7 L1170.0 1373.9 M1176.9 1368.7 L1211.5 1367.0 L1252.9 1377.4 L1284.1 1380.8 L1297.9 1405.0 L1308.2 1432.7 L1330.7 1443.0 L1349.7 1450.0 M1424.0 1370.5 L1456.9 1363.5 L1481.1 1354.9 L1515.6 1349.7 L1536.4 1339.4 L1546.7 1315.2 L1555.4 1308.2 M1555.4 1308.2 L1557.1 1287.5 L1574.4 1280.6 L1583.0 1252.9 L1576.1 1242.6 L1581.3 1221.8 L1608.9 1211.5 M1555.4 1308.2 L1558.8 1318.6 L1584.7 1323.8 M1608.9 1170.0 L1596.8 1187.3 L1608.9 1211.5 L1629.7 1223.6 M1170.0 1491.4 L1204.6 1496.6 L1235.7 1501.8 L1242.6 1491.4 L1266.8 1482.8 L1297.9 1486.2 L1330.7 1481.1 M1170.0 1519.1 L1197.6 1526.0 L1221.8 1532.9 L1242.6 1546.7 L1259.9 1560.6 L1287.5 1565.7 L1282.3 1589.9 L1291.0 1593.4 M1025.8 1623.6 L1043.0 1620.1 L1056.9 1621.8 L1081.1 1646.0 L1094.9 1644.3 L1112.2 1659.9 L1132.9 1670.2 L1153.6 1687.5 L1167.5 1703.1 L1181.3 1704.8 L1189.9 1689.2 L1195.1 1708.2 L1167.5 1722.1 L1164.0 1739.4 M1025.8 1623.6 L1017.1 1635.7 L1018.8 1656.4 L1008.5 1680.6 L1008.5 1708.2 L1001.6 1720.3 L996.4 1732.4 L999.8 1749.7 L1011.9 1760.1 L1036.1 1767.0 M1025.8 1623.6 L1036.1 1614.9 L1053.4 1594.2 L1067.2 1576.9 L1077.6 1570.0 M627.0 1190.7 L642.6 1214.9 L654.7 1256.4 L652.9 1284.1 L661.6 1301.3 L670.2 1332.4 L684.1 1373.9 M684.1 1373.9 L708.2 1377.4 L711.7 1368.7 L739.4 1344.5 L753.2 1353.2 L787.7 1354.9 L801.6 1377.4 L815.4 1349.7 L853.4 1349.7 M853.4 1349.7 L869.0 1301.3 L888.0 1270.2 L946.7 1258.1 L977.8 1258.1 L1008.9 1273.7 M1008.9 1273.7 L1019.3 1280.6 L1008.9 1284.1 L1017.6 1308.2 L1015.9 1349.7 L1067.7 1351.5 L1091.9 1363.5 L1102.3 1411.9 L1136.8 1417.1 M853.4 1349.7 L874.1 1370.5 L908.7 1405.0 L943.3 1418.8 L977.8 1436.1 L1015.9 1450.0 L1015.9 1470.7 L1005.5 1501.8 L995.1 1522.5 L1036.6 1532.9 L1064.2 1529.4 L1088.4 1529.4 L1116.1 1508.7 L1126.5 1481.1 L1136.8 1417.1 M684.1 1373.9 L708.2 1380.8 L701.3 1415.4 L673.7 1427.5 L661.6 1439.6 L659.9 1463.8 L665.0 1491.4 L666.8 1515.6 L649.5 1522.5 L635.7 1546.7 L621.8 1567.5 L611.5 1598.6 L614.9 1619.3 L604.6 1633.1 L594.2 1660.8 L604.6 1695.3 L614.9 1723.0 L611.5 1770.0 M1128.2 1470.7 L1143.7 1467.2 L1154.1 1477.6 L1157.6 1512.2 L1136.8 1529.4 L1116.1 1546.7 L1088.4 1564.0 L1064.2 1591.7 L1036.6 1615.9 L1026.2 1622.8 M1136.8 1417.1 L1150.6 1394.7 L1170.0 1373.9 M1157.6 1512.2 L1170.0 1519.1 M529.4 770.0 L515.6 783.8 L505.3 814.9 L507.0 828.8 L488.0 842.6 L484.5 852.9 L479.3 859.9 L488.0 873.7 L494.9 897.9 L512.2 915.2 L505.3 927.3 L536.4 929.0 L541.5 946.3 L570.9 946.3 L593.4 929.0 L591.7 979.1 M484.5 852.9 L598.6 884.1 L674.6 922.1 L705.7 935.9 M591.7 979.1 L626.2 977.4 L653.9 984.3 L671.2 977.4 L688.4 967.0 L709.2 949.7 L723.0 939.4 L733.4 929.0 L770.0 925.5 M626.2 977.4 L643.5 1008.5 L655.6 1032.7 L647.0 1046.5 L648.7 1084.5 L636.6 1105.3 L640.0 1119.1 L631.4 1136.4 L638.3 1153.6 L648.7 1158.8 L636.6 1174.4 L624.5 1189.9 L627.9 1198.6 L617.6 1202.0 L619.3 1215.9 L605.5 1224.5 L600.3 1225.5 M769.9 925.5 L765.0 939.4 L768.5 977.4 L773.7 1005.0 L797.9 1025.8 L822.1 1029.2 L849.7 1043.0 L884.3 1063.8 L918.8 1067.2 L929.2 1075.9 M721.8 935.9 L732.2 929.0 L763.3 922.1 L784.1 913.4 L797.9 908.2 L822.1 880.6 L849.7 880.6 L867.0 897.9 L891.2 904.8 L894.7 908.2 M894.7 908.2 L998.3 906.5 L1001.8 904.8 M894.7 908.2 L894.7 942.8 L896.4 979.1 L946.5 984.3 L944.8 1008.5 L953.4 1025.8 L943.0 1039.6 L936.1 1060.3 L924.0 1067.2 M1032.9 770.0 L998.3 835.7 L1008.7 856.4 L1001.8 904.8 M1008.7 859.9 L1019.1 884.1 L1029.4 908.2 L1053.6 925.5 L1270.0 941.1 M929.2 1075.9 L936.1 1098.3 L937.9 1115.6 L927.5 1117.4 L939.6 1132.9 L941.3 1157.1 L1001.8 1158.8 L998.3 1174.4 L1008.7 1191.7 L1022.5 1202.0 L1029.4 1219.3 M1029.4 1210.7 L1050.2 1198.6 L1077.8 1188.2 L1105.5 1202.0 L1126.2 1200.3 L1150.4 1196.8 L1157.3 1189.9 L1157.3 1205.5 L1150.4 1212.4 L1174.6 1215.9 M1270.0 949.7 L1257.6 994.7 L1261.0 1039.6 L1257.6 1074.1 L1240.3 1112.2 L1223.0 1122.5 L1209.2 1146.7 L1191.9 1160.6 L1178.1 1184.7 L1172.9 1202.0 L1174.6 1215.9 M1174.6 1215.9 L1188.4 1233.1 L1209.2 1243.5 L1250.6 1260.8 M1029.4 1219.3 L1008.7 1281.5 L1019.1 1281.5 L1010.4 1288.4 M611.6 1769.9 L601.6 1788.9 L594.7 1799.3 L599.8 1820.0 L586.0 1830.4 L577.4 1840.8 L573.9 1868.4 L577.4 1889.2 L582.6 1906.5 L565.3 1916.8 L561.8 1937.6 L556.6 1950.0 M563.5 1930.0 L558.4 1950.7 L549.7 1981.8 L553.2 2016.4 L542.8 2026.8 L541.1 2051.0 L553.2 2068.2 L551.5 2095.9 L573.9 2101.1 L570.5 2113.2 L546.3 2113.2 L561.8 2123.5 L567.0 2133.9 L553.2 2144.3 L556.6 2165.0 L549.7 2185.8 L532.4 2210.0 L535.9 2223.8 L525.5 2241.1 L522.1 2251.4 L494.4 2265.3 L496.2 2286.0 L508.2 2310.2 L532.4 2306.7 L537.6 2320.6 L534.2 2337.8 L548.0 2353.4 L625.8 2353.4 L632.7 2360.3 L663.8 2363.8 M658.6 2374.1 L658.6 2448.4" fill="none" stroke="#000" stroke-width="2.5" stroke-linejoin="round" stroke-linecap="round"/>
<g font-size="41.67" fill="#fff" stroke="#000" stroke-width="8.3" stroke-linejoin="round" paint-order="stroke" text-anchor="middle">
<text x="724.5" y="270.2">17</text>
<text x="470.0" y="469.2">9</text>
<text x="1019.6" y="396.7">25</text>
<text x="1119.8" y="426.5">24</text>
<text x="1209.0" y="457.2">24</text>
<text x="933.1" y="528.1">22</text>
<text x="325.2" y="631.1">9</text>
<text x="1254.0" y="621.7">24</text>
<text x="1340.3" y="670.4">23</text>
<text x="1481.5" y="706.9">24</text>
<text x="954.9" y="727.2">23</text>
<text x="1674.4" y="750.4">22</text>
<text x="1531.7" y="792.6">24</text>
<text x="1785.0" y="816.1">23</text>
<text x="1797.1" y="860.0">23</text>
<text x="1795.4" y="891.1">23</text>
<text x="824.9" y="915.9">25</text>
<text x="693.6" y="955.8">22</text>
<text x="1345.4" y="963.7">22</text>
<text x="1767.7" y="944.7">22</text>
<text x="1723.5" y="987.9">22</text>
<text x="386.0" y="1023.7">17</text>
<text x="1676.1" y="1057.0">24</text>
<text x="1086.5" y="1144.7">25</text>
<text x="1360.6" y="1152.1">16</text>
<text x="667.1" y="1172.3">0</text>
<text x="1316.7" y="1176.2">19</text>
<text x="1494.9" y="1288.9">18</text>
<text x="1135.0" y="1306.7">24</text>
<text x="1614.2" y="1302.0">22</text>
<text x="1519.1" y="1389.1">19</text>
<text x="1404.4" y="1411.6">19</text>
<text x="1038.4" y="1468.6">24</text>
<text x="1315.9" y="1473.8">18</text>
<text x="1339.4" y="1546.4">22</text>
<text x="1250.7" y="1628.0">19</text>
<text x="588.5" y="1740.2">1</text>
<text x="1010.2" y="1786.7">14</text>
<text x="1082.8" y="1786.7">17</text>
</g>
</g>
<rect x="177.5" y="177.5" width="1674.0" height="2309.9" fill="none" stroke="#000" stroke-width="3.3"/>
<text x="543.3" y="80.6" font-size="62.5">SAMeT - Temperatura Mínima</text>
<text x="660.6" y="153.1" font-size="62.5">Válida para 23/04/2004</text>
<text x="277.9" y="2548" font-size="50" text-anchor="middle">80°W</text>
<text x="612.7" y="2548" font-size="50" text-anchor="middle">70°W</text>
<text x="947.5" y="2548" font-size="50" text-anchor="middle">60°W</text>
<text x="1282.3" y="2548" font-size="50" text-anchor="middle">50°W</text>
<text x="1617.1" y="2548" font-size="50" text-anchor="middle">40°W</text>
<text x="155.5" y="294.1" font-size="50" text-anchor="end">10°N</text>
<text x="155.5" y="628.9" font-size="50" text-anchor="end">0°</text>
<text x="155.5" y="963.7" font-size="50" text-anchor="end">10°S</text>
<text x="155.5" y="1298.5" font-size="50" text-anchor="end">20°S</text>
<text x="155.5" y="1633.3" font-size="50" text-anchor="end">30°S</text>
<text x="155.5" y="1968.1" font-size="50" text-anchor="end">40°S</text>
<text x="155.5" y="2302.9" font-size="50" text-anchor="end">50°S</text>
<g>
<path d="M1893.8 283.2 L1893.8 282.2 L1919.3 178 L1944.8 282.2 L1944.8 283.2 Z" fill="#67001f"/>
<path d="M1893.8 2380.0 L1893.8 2381.0 L1919.3 2487 L1944.8 2381.0 L1944.8 2380.0 Z" fill="#053061"/>
<rect x="1893.8" y="2359.80" width="51.0" height="21.80" fill="#063264"/>
<rect x="1893.8" y="2338.60" width="51.0" height="21.80" fill="#08366a"/>
<rect x="1893.8" y="2317.40" width="51.0" height="21.80" fill="#0c3d73"/>
<rect x="1893.8" y="2296.20" width="51.0" height="21.80" fill="#0e4179"/>
<rect x="1893.8" y="2275.00" width="51.0" height="21.80" fill="#114781"/>
<rect x="1893.8" y="2253.80" width="51.0" height="21.80" fill="#144e8a"/>
<rect x="1893.8" y="2232.60" width="51.0" height="21.80" fill="#175290"/>
<rect x="1893.8" y="2211.40" width="51.0" height="21.80" fill="#1a5899"/>
<rect x="1893.8" y="2190.20" width="51.0" height="21.80" fill="#1c5c9f"/>
<rect x="1893.8" y="2169.00" width="51.0" height="21.80" fill="#1f63a8"/>
<rect x="1893.8" y="2147.80" width="51.0" height="21.80" fill="#2267ac"/>
<rect x="1893.8" y="2126.60" width="51.0" height="21.80" fill="#266caf"/>
<rect x="1893.8" y="2105.40" width="51.0" height="21.80" fill="#2a71b2"/>
<rect x="1893.8" y="2084.20" width="51.0" height="21.80" fill="#2c75b4"/>
<rect x="1893.8" y="2063.00" width="51.0" height="21.80" fill="#307ab6"/>
<rect x="1893.8" y="2041.80" width="51.0" height="21.80" fill="#337eb8"/>
<rect x="1893.8" y="2020.60" width="51.0" height="21.80" fill="#3783bb"/>
<rect x="1893.8" y="1999.40" width="51.0" height="21.80" fill="#3a87bd"/>
<rect x="1893.8" y="1978.20" width="51.0" height="21.80" fill="#3e8cbf"/>
<rect x="1893.8" y="1957.00" width="51.0" height="21.80" fill="#408fc1"/>
<rect x="1893.8" y="1935.80" width="51.0" height="21.80" fill="#4695c4"/>
<rect x="1893.8" y="1914.60" width="51.0" height="21.80" fill="#4f9bc7"/>
<rect x="1893.8" y="1893.40" width="51.0" height="21.80" fill="#569fc9"/>
<rect x="1893.8" y="1872.20" width="51.0" height="21.80" fill="#5fa5cd"/>
<rect x="1893.8" y="1851.00" width="51.0" height="21.80" fill="#65a9cf"/>
<rect x="1893.8" y="1829.80" width="51.0" height="21.80" fill="#6eaed2"/>
<rect x="1893.8" y="1808.60" width="51.0" height="21.80" fill="#75b2d4"/>
<rect x="1893.8" y="1787.40" width="51.0" height="21.80" fill="#7eb8d7"/>
<rect x="1893.8" y="1766.20" width="51.0" height="21.80" fill="#84bcd9"/>
<rect x="1893.8" y="1745.00" width="51.0" height="21.80" fill="#8dc2dc"/>
<rect x="1893.8" y="1723.80" width="51.0" height="21.80" fill="#96c7df"/>
<rect x="1893.8" y="1702.60" width="51.0" height="21.80" fill="#9bc9e0"/>
<rect x="1893.8" y="1681.40" width="51.0" height="21.80" fill="#a2cde3"/>
<rect x="1893.8" y="1660.20" width="51.0" height="21.80" fill="#a7d0e4"/>
<rect x="1893.8" y="1639.00" width="51.0" height="21.80" fill="#aed3e6"/>
<rect x="1893.8" y="1617.80" width="51.0" height="21.80" fill="#b3d6e8"/>
<rect x="1893.8" y="1596.60" width="51.0" height="21.80" fill="#bbdaea"/>
<rect x="1893.8" y="1575.40" width="51.0" height="21.80" fill="#c2ddec"/>
<rect x="1893.8" y="1554.20" width="51.0" height="21.80" fill="#c7e0ed"/>
<rect x="1893.8" y="1533.00" width="51.0" height="21.80" fill="#cfe4ef"/>
<rect x="1893.8" y="1511.80" width="51.0" height="21.80" fill="#d2e6f0"/>
<rect x="1893.8" y="1490.60" width="51.0" height="21.80" fill="#d7e8f1"/>
<rect x="1893.8" y="1469.40" width="51.0" height="21.80" fill="#dae9f2"/>
<rect x="1893.8" y="1448.20" width="51.0" height="21.80" fill="#deebf2"/>
<rect x="1893.8" y="1427.00" width="51.0" height="21.80" fill="#e1edf3"/>
<rect x="1893.8" y="1405.80" width="51.0" height="21.80" fill="#e6eff4"/>
<rect x="1893.8" y="1384.60" width="51.0" height="21.80" fill="#eaf1f5"/>
<rect x="1893.8" y="1363.40" width="51.0" height="21.80" fill="#edf2f5"/>
<rect x="1893.8" y="1342.20" width="51.0" height="21.80" fill="#f2f5f6"/>
<rect x="1893.8" y="1321.00" width="51.0" height="21.80" fill="#f5f6f7"/>
<rect x="1893.8" y="1299.80" width="51.0" height="21.80" fill="#f7f5f4"/>
<rect x="1893.8" y="1278.60" width="51.0" height="21.80" fill="#f8f3f0"/>
<rect x="1893.8" y="1257.40" width="51.0" height="21.80" fill="#f9f0eb"/>
<rect x="1893.8" y="1236.20" width="51.0" height="21.80" fill="#f9eee7"/>
<rect x="1893.8" y="1215.00" width="51.0" height="21.80" fill="#faeae1"/>
<rect x="1893.8" y="1193.80" width="51.0" height="21.80" fill="#fae7dc"/>
<rect x="1893.8" y="1172.60" width="51.0" height="21.80" fill="#fbe5d8"/>
<rect x="1893.8" y="1151.40" width="51.0" height="21.80" fill="#fce2d2"/>
<rect x="1893.8" y="1130.20" width="51.0" height="21.80" fill="#fcdfcf"/>
<rect x="1893.8" y="1109.00" width="51.0" height="21.80" fill="#fddcc9"/>
<rect x="1893.8" y="1087.80" width="51.0" height="21.80" fill="#fdd9c4"/>
<rect x="1893.8" y="1066.60" width="51.0" height="21.80" fill="#fcd3bc"/>
<rect x="1893.8" y="1045.40" width="51.0" height="21.80" fill="#fbccb4"/>
<rect x="1893.8" y="1024.20" width="51.0" height="21.80" fill="#fac8af"/>
<rect x="1893.8" y="1003.00" width="51.0" height="21.80" fill="#f9c2a7"/>
<rect x="1893.8" y="981.80" width="51.0" height="21.80" fill="#f8bda1"/>
<rect x="1893.8" y="960.60" width="51.0" height="21.80" fill="#f7b799"/>
<rect x="1893.8" y="939.40" width="51.0" height="21.80" fill="#f6b394"/>
<rect x="1893.8" y="918.20" width="51.0" height="21.80" fill="#f5ac8b"/>
<rect x="1893.8" y="897.00" width="51.0" height="21.80" fill="#f5a886"/>
<rect x="1893.8" y="875.80" width="51.0" height="21.80" fill="#f2a17f"/>
<rect x="1893.8" y="854.60" width="51.0" height="21.80" fill="#ef9979"/>
<rect x="1893.8" y="833.40" width="51.0" height="21.80" fill="#ec9374"/>
<rect x="1893.8" y="812.20" width="51.0" height="21.80" fill="#e98b6e"/>
<rect x="1893.8" y="791.00" width="51.0" height="21.80" fill="#e6866a"/>
<rect x="1893.8" y="769.80" width="51.0" height="21.80" fill="#e37e64"/>
<rect x="1893.8" y="748.60" width="51.0" height="21.80" fill="#e17860"/>
<rect x="1893.8" y="727.40" width="51.0" height="21.80" fill="#dd7059"/>
<rect x="1893.8" y="706.20" width="51.0" height="21.80" fill="#db6b55"/>
<rect x="1893.8" y="685.00" width="51.0" height="21.80" fill="#d7634f"/>
<rect x="1893.8" y="663.80" width="51.0" height="21.80" fill="#d35a4a"/>
<rect x="1893.8" y="642.60" width="51.0" height="21.80" fill="#d05548"/>
<rect x="1893.8" y="621.40" width="51.0" height="21.80" fill="#cc4c44"/>
<rect x="1893.8" y="600.20" width="51.0" height="21.80" fill="#c94741"/>
<rect x="1893.8" y="579.00" width="51.0" height="21.80" fill="#c53e3d"/>
<rect x="1893.8" y="557.80" width="51.0" height="21.80" fill="#c2383a"/>
<rect x="1893.8" y="536.60" width="51.0" height="21.80" fill="#be3036"/>
<rect x="1893.8" y="515.40" width="51.0" height="21.80" fill="#ba2832"/>
<rect x="1893.8" y="494.20" width="51.0" height="21.80" fill="#b72230"/>
<rect x="1893.8" y="473.00" width="51.0" height="21.80" fill="#b3192c"/>
<rect x="1893.8" y="451.80" width="51.0" height="21.80" fill="#ae172a"/>
<rect x="1893.8" y="430.60" width="51.0" height="21.80" fill="#a51429"/>
<rect x="1893.8" y="409.40" width="51.0" height="21.80" fill="#9f1228"/>
<rect x="1893.8" y="388.20" width="51.0" height="21.80" fill="#960f27"/>
<rect x="1893.8" y="367.00" width="51.0" height="21.80" fill="#900d26"/>
<rect x="1893.8" y="345.80" width="51.0" height="21.80" fill="#870a24"/>
<rect x="1893.8" y="324.60" width="51.0" height="21.80" fill="#7f0823"/>
<rect x="1893.8" y="303.40" width="51.0" height="21.80" fill="#790622"/>
<rect x="1893.8" y="282.20" width="51.0" height="21.80" fill="#700320"/>
<path d="M1893.8 282.2 L1919.3 178 L1944.8 282.2 L1944.8 2381.0 L1919.3 2487 L1893.8 2381.0 Z" fill="none" stroke="#000" stroke-width="3.3" stroke-linejoin="miter"/>
<line x1="1946.3999999999999" x2="1961.0" y1="282.2" y2="282.2" stroke="#000" stroke-width="3.3"/>
<text x="1974.6" y="302.5" font-size="50">35</text>
<line x1="1946.3999999999999" x2="1961.0" y1="473.0" y2="473.0" stroke="#000" stroke-width="3.3"/>
<text x="1974.6" y="493.3" font-size="50">30</text>
<line x1="1946.3999999999999" x2="1961.0" y1="685.0" y2="685.0" stroke="#000" stroke-width="3.3"/>
<text x="1974.6" y="705.3" font-size="50">25</text>
<line x1="1946.3999999999999" x2="1961.0" y1="897.0" y2="897.0" stroke="#000" stroke-width="3.3"/>
<text x="1974.6" y="917.3" font-size="50">20</text>
<line x1="1946.3999999999999" x2="1961.0" y1="1109.0" y2="1109.0" stroke="#000" stroke-width="3.3"/>
<text x="1974.6" y="1129.3" font-size="50">15</text>
<line x1="1946.3999999999999" x2="1961.0" y1="1321.0" y2="1321.0" stroke="#000" stroke-width="3.3"/>
<text x="1974.6" y="1341.3" font-size="50">10</text>
<line x1="1946.3999999999999" x2="1961.0" y1="1533.0" y2="1533.0" stroke="#000" stroke-width="3.3"/>
<text x="1974.6" y="1553.3" font-size="50">5</text>
<line x1="1946.3999999999999" x2="1961.0" y1="1745.0" y2="1745.0" stroke="#000" stroke-width="3.3"/>
<text x="1974.6" y="1765.3" font-size="50">0</text>
<line x1="1946.3999999999999" x2="1961.0" y1="1957.0" y2="1957.0" stroke="#000" stroke-width="3.3"/>
<text x="1974.6" y="1977.3" font-size="50">-5</text>
<line x1="1946.3999999999999" x2="1961.0" y1="2169.0" y2="2169.0" stroke="#000" stroke-width="3.3"/>
<text x="1974.6" y="2189.3" font-size="50">-10</text>
<line x1="1946.3999999999999" x2="1961.0" y1="2381.0" y2="2381.0" stroke="#000" stroke-width="3.3"/>
<text x="1974.6" y="2401.3" font-size="50">-15</text>
<text x="1909.6" y="175.2" font-size="50" text-anchor="middle">(°C)</text>
</g>
<g transform="translate(1550 2150) scale(0.20255)">
<path d="M447 1010 A392.6 392.6 0 1 0 1222 890 L1052 890 A308.4 308.4 0 0 1 447 1010 Z" fill="#0071bc"/>
<path d="M1015 892 L1143 770 L1262 892 Z" fill="#0071bc"/>
<path d="M452 1060 C430 850 560 710 720 705 C860 705 925 800 925 940 L960 940 L835 1050 L725 940 L770 940 C770 870 700 830 640 830 C540 835 470 950 460 1040" fill="none" stroke="#0071bc" stroke-width="8" stroke-linejoin="miter"/>
<circle cx="835" cy="1148" r="83" fill="#f39200"/>
<text x="500" y="1088" font-size="120" font-weight="bold" font-style="italic" textLength="250" lengthAdjust="spacingAndGlyphs" fill="#111">INPE</text>
</g>
</svg></body></html>
